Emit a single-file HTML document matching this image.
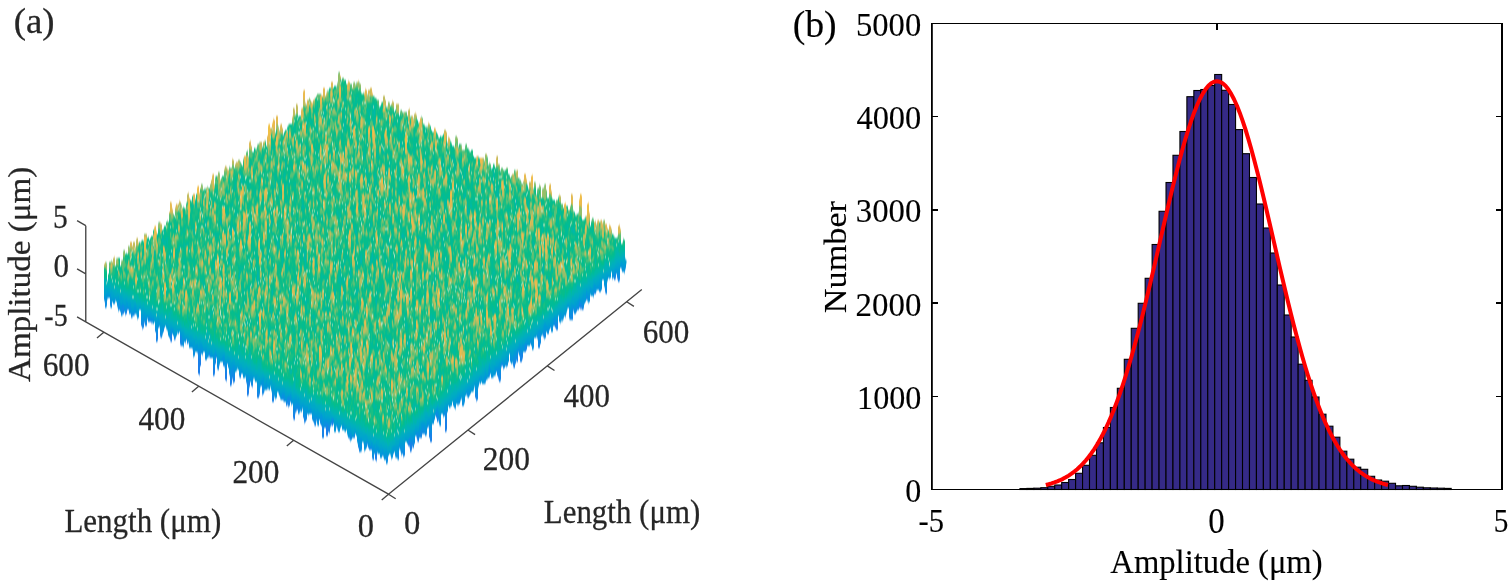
<!DOCTYPE html>
<html><head><meta charset="utf-8"><title>Figure</title>
<style>html,body{margin:0;padding:0;background:#fff;overflow:hidden}svg{display:block}</style>
</head><body>
<svg width="1512" height="584" viewBox="0 0 1512 584">
<rect width="1512" height="584" fill="#fff"/>
<g id="panel-a">
<filter id="sb" x="-3%" y="-3%" width="106%" height="106%" color-interpolation-filters="sRGB"><feGaussianBlur stdDeviation="0 0.8"/></filter>
<g filter="url(#sb)">
<g transform="scale(1 2)" fill="none" stroke-width="1" shape-rendering="crispEdges">
<path stroke="rgb(26,190,131)" d="M104.5 132v19M105.5 131v23M106.5 131v23M107.5 140v10M108.5 137v12M109.5 131v18M110.5 131v23M111.5 130v24M112.5 131v20M113.5 129v23M114.5 128v24M115.5 133v18M116.5 129v22M117.5 129v25M118.5 129v27M119.5 129v26M120.5 133v23M121.5 130v28M122.5 130v28M123.5 125v32M124.5 125v31M125.5 127v31M126.5 126v31M127.5 127v28M128.5 123v32M129.5 123v34M130.5 121v36M131.5 121v38M132.5 123v36M133.5 121v37M134.5 121v37M135.5 123v34M136.5 119v39M137.5 119v41M138.5 121v38M139.5 121v34M140.5 121v34M141.5 120v43M142.5 120v45M143.5 120v44M144.5 117v45M145.5 117v46M146.5 117v46M147.5 119v41M148.5 118v43M149.5 120v41M150.5 119v42M151.5 118v44M152.5 118v44M153.5 115v47M154.5 113v48M155.5 113v53M156.5 115v56M157.5 117v54M158.5 111v53M159.5 111v53M160.5 111v58M161.5 112v57M162.5 115v53M163.5 114v52M164.5 113v51M165.5 113v50M166.5 111v54M167.5 110v56M168.5 111v57M169.5 106v63M170.5 101v70M171.5 101v70M172.5 104v63M173.5 107v61M174.5 108v62M175.5 103v67M176.5 102v66M177.5 102v65M178.5 102v65M179.5 100v66M180.5 101v72M181.5 102v71M182.5 104v69M183.5 103v71M184.5 104v67M185.5 104v68M186.5 101v69M187.5 97v75M188.5 96v76M189.5 99v75M190.5 100v74M191.5 100v74M192.5 98v77M193.5 97v82M194.5 97v81M195.5 99v77M196.5 97v79M197.5 93v84M198.5 93v94M199.5 96v92M200.5 94v89M201.5 92v85M202.5 92v86M203.5 95v81M204.5 94v82M205.5 94v86M206.5 94v86M207.5 93v86M208.5 94v85M209.5 94v85M210.5 92v87M211.5 90v89M212.5 87v92M213.5 87v101M214.5 92v96M215.5 88v94M216.5 88v91M217.5 88v97M218.5 86v99M219.5 86v97M220.5 90v91M221.5 89v92M222.5 88v93M223.5 88v95M224.5 84v100M225.5 83v107M226.5 83v108M227.5 84v98M228.5 85v99M229.5 83v105M230.5 84v109M231.5 84v109M232.5 79v111M233.5 80v112M234.5 84v107M235.5 82v104M236.5 81v105M237.5 81v104M238.5 80v105M239.5 80v109M240.5 81v108M241.5 82v105M242.5 83v104M243.5 79v110M244.5 78v111M245.5 78v111M246.5 76v116M247.5 75v123M248.5 78v120M249.5 71v123M250.5 70v121M251.5 73v120M252.5 76v118M253.5 76v114M254.5 74v116M255.5 74v117M256.5 74v117M257.5 72v127M258.5 72v127M259.5 71v127M260.5 71v123M261.5 71v122M262.5 73v125M263.5 71v126M264.5 70v126M265.5 70v125M266.5 73v122M267.5 68v127M268.5 62v133M269.5 62v133M270.5 64v130M271.5 64v132M272.5 61v140M273.5 59v142M274.5 60v139M275.5 66v134M276.5 58v141M277.5 58v138M278.5 63v134M279.5 65v133M280.5 62v138M281.5 62v138M282.5 64v136M283.5 67v134M284.5 66v135M285.5 65v136M286.5 65v138M287.5 63v140M288.5 62v142M289.5 62v141M290.5 62v139M291.5 62v141M292.5 58v144M293.5 54v156M294.5 54v156M295.5 57v150M296.5 52v154M297.5 52v153M298.5 58v149M299.5 58v149M300.5 58v148M301.5 54v152M302.5 54v151M303.5 45v164M304.5 45v167M305.5 51v160M306.5 52v158M307.5 50v157M308.5 50v158M309.5 49v158M310.5 50v157M311.5 51v156M312.5 51v159M313.5 50v161M314.5 49v164M315.5 49v164M316.5 48v163M317.5 47v166M318.5 47v166M319.5 47v163M320.5 47v165M321.5 47v166M322.5 48v171M323.5 44v175M324.5 44v170M325.5 48v166M326.5 46v172M327.5 45v173M328.5 45v171M329.5 44v173M330.5 44v170M331.5 41v172M332.5 41v172M333.5 44v168M334.5 43v173M335.5 43v173M336.5 43v171M337.5 41v174M338.5 36v180M339.5 36v180M340.5 38v176M341.5 40v173M342.5 39v176M343.5 39v176M344.5 40v176M345.5 40v176M346.5 42v173M347.5 42v176M348.5 40v179M349.5 41v179M350.5 42v179M351.5 42v178M352.5 44v175M353.5 41v178M354.5 41v178M355.5 42v175M356.5 41v177M357.5 41v181M358.5 40v184M359.5 41v185M360.5 42v184M361.5 46v180M362.5 47v174M363.5 46v176M364.5 46v180M365.5 44v181M366.5 45v179M367.5 47v176M368.5 45v179M369.5 45v180M370.5 44v181M371.5 44v181M372.5 46v184M373.5 48v182M374.5 48v179M375.5 49v181M376.5 49v182M377.5 50v177M378.5 50v177M379.5 53v174M380.5 53v176M381.5 51v178M382.5 51v177M383.5 48v181M384.5 48v182M385.5 50v180M386.5 53v179M387.5 53v179M388.5 51v177M389.5 51v176M390.5 53v175M391.5 52v178M392.5 50v179M393.5 51v176M394.5 56v170M395.5 55v174M396.5 52v177M397.5 52v178M398.5 52v178M399.5 58v167M400.5 55v171M401.5 55v173M402.5 56v171M403.5 56v173M404.5 56v172M405.5 56v165M406.5 56v165M407.5 58v164M408.5 55v168M409.5 54v170M410.5 58v168M411.5 58v168M412.5 58v166M413.5 59v165M414.5 57v165M415.5 56v162M416.5 57v162M417.5 60v161M418.5 61v160M419.5 61v158M420.5 59v160M421.5 58v161M422.5 59v158M423.5 62v155M424.5 62v155M425.5 63v155M426.5 63v155M427.5 63v151M428.5 61v153M429.5 62v157M430.5 63v158M431.5 65v156M432.5 66v146M433.5 66v146M434.5 64v146M435.5 64v144M436.5 66v143M437.5 67v144M438.5 68v143M439.5 69v144M440.5 68v145M441.5 68v139M442.5 68v139M443.5 67v142M444.5 65v143M445.5 65v151M446.5 66v150M447.5 71v135M448.5 68v135M449.5 69v135M450.5 70v134M451.5 71v132M452.5 73v128M453.5 73v130M454.5 73v131M455.5 68v137M456.5 68v134M457.5 69v134M458.5 73v130M459.5 72v130M460.5 72v129M461.5 72v128M462.5 75v128M463.5 75v128M464.5 75v127M465.5 72v126M466.5 72v126M467.5 74v125M468.5 74v125M469.5 75v123M470.5 76v121M471.5 75v121M472.5 75v121M473.5 78v118M474.5 79v115M475.5 79v120M476.5 78v123M477.5 78v122M478.5 78v116M479.5 79v113M480.5 79v113M481.5 79v112M482.5 79v113M483.5 79v113M484.5 80v112M485.5 77v115M486.5 77v113M487.5 78v112M488.5 82v107M489.5 81v108M490.5 82v105M491.5 84v105M492.5 84v105M493.5 82v107M494.5 82v106M495.5 84v104M496.5 78v108M497.5 78v110M498.5 82v108M499.5 82v109M500.5 85v106M501.5 84v100M502.5 84v99M503.5 85v100M504.5 85v99M505.5 85v98M506.5 84v100M507.5 84v99M508.5 87v94M509.5 87v90M510.5 89v92M511.5 88v94M512.5 87v95M513.5 87v97M514.5 85v99M515.5 85v97M516.5 85v96M517.5 85v96M518.5 89v88M519.5 89v89M520.5 90v91M521.5 91v90M522.5 92v88M523.5 90v86M524.5 87v89M525.5 87v89M526.5 89v86M527.5 92v81M528.5 94v79M529.5 91v82M530.5 91v81M531.5 88v85M532.5 87v88M533.5 94v81M534.5 91v78M535.5 91v78M536.5 97v72M537.5 94v76M538.5 94v80M539.5 92v82M540.5 93v79M541.5 99v69M542.5 94v74M543.5 94v75M544.5 92v78M545.5 92v77M546.5 95v71M547.5 99v68M548.5 99v68M549.5 92v73M550.5 92v72M551.5 95v71M552.5 99v67M553.5 100v63M554.5 100v63M555.5 101v63M556.5 100v65M557.5 100v65M558.5 98v60M559.5 97v64M560.5 98v64M561.5 102v59M562.5 102v59M563.5 104v56M564.5 102v56M565.5 101v58M566.5 103v54M567.5 103v52M568.5 105v49M569.5 105v55M570.5 103v57M571.5 97v63M572.5 97v63M573.5 105v51M574.5 106v51M575.5 107v50M576.5 107v49M577.5 107v48M578.5 106v49M579.5 99v55M580.5 97v58M581.5 97v58M582.5 110v45M583.5 110v45M584.5 109v43M585.5 108v43M586.5 108v42M587.5 102v49M588.5 101v51M589.5 106v45M590.5 113v35M591.5 110v38M592.5 109v39M593.5 109v40M594.5 111v36M595.5 110v37M596.5 112v34M597.5 110v35M598.5 110v35M599.5 111v35M600.5 110v36M601.5 110v35M602.5 111v29M603.5 110v30M604.5 110v34M605.5 112v35M606.5 112v35M607.5 114v27M608.5 115v24M609.5 112v28M610.5 113v26M611.5 114v22M612.5 117v23M613.5 117v22M614.5 118v22M615.5 119v21M616.5 119v18M617.5 118v22M618.5 113v28M619.5 112v29M620.5 114v20M621.5 122v13M622.5 121v15M623.5 119v17M624.5 120v17M625.5 129v6M626.5 130v2"/>
<path stroke="rgb(26,126,233)" d="M198.5 180v7M199.5 182v5M200.5 181v2M225.5 187v3M226.5 186v4M247.5 195v3M248.5 195v2M293.5 208v1M294.5 208v2M326.5 214v4M327.5 213v5M375.5 227v3M376.5 227v3M445.5 210v6M446.5 210v5M556.5 164v1M594.5 146v1M595.5 146v1"/>
<path stroke="rgb(25,129,232)" d="M126.5 155v2M170.5 169v1M171.5 167v4M198.5 179v1M199.5 179v3M200.5 178v3M213.5 185v3M214.5 184v3M215.5 181v1M225.5 186v1M226.5 185v1M230.5 190v3M231.5 189v3M249.5 190v3M323.5 214v4M328.5 215v1M331.5 211v1M332.5 210v3M408.5 222v1M409.5 220v3M410.5 222v4M411.5 222v3M429.5 217v2M430.5 217v4M431.5 217v4M522.5 178v1M555.5 163v1M556.5 163v1M557.5 164v1"/>
<path stroke="rgb(22,132,231)" d="M123.5 154v3M125.5 156v1M156.5 167v4M157.5 167v3M199.5 178v1M209.5 177v1M213.5 184v1M215.5 179v2M230.5 189v1M233.5 189v2M234.5 187v4M247.5 194v1M248.5 194v1M257.5 196v3M258.5 197v2M272.5 199v2M273.5 199v2M286.5 201v2M287.5 201v1M293.5 207v1M294.5 207v1M304.5 210v1M305.5 210v1M322.5 213v6M323.5 218v1M327.5 212v1M328.5 214v1M410.5 221v1M417.5 219v1M418.5 219v2M475.5 197v2M476.5 197v3M477.5 199v1M498.5 188v1M499.5 188v3M513.5 182v1M514.5 182v2M515.5 181v1M517.5 178v3M520.5 178v3M521.5 177v4M525.5 175v1M538.5 172v2M539.5 172v2M555.5 162v1M556.5 162v1M557.5 162v2M579.5 152v2M580.5 152v2M581.5 153v1M582.5 154v1M614.5 138v2"/>
<path stroke="rgb(18,136,229)" d="M122.5 155v2M133.5 157v1M141.5 162v1M142.5 162v2M143.5 161v3M145.5 161v2M146.5 162v1M150.5 160v1M151.5 160v1M155.5 165v1M156.5 166v1M157.5 166v1M160.5 167v1M161.5 168v1M170.5 168v1M174.5 169v1M180.5 168v4M181.5 168v5M187.5 171v1M198.5 176v3M209.5 176v1M210.5 178v1M213.5 182v2M214.5 183v1M215.5 178v1M225.5 185v1M230.5 188v1M232.5 186v3M233.5 188v1M240.5 188v1M246.5 190v1M247.5 191v3M248.5 191v3M249.5 189v1M251.5 192v1M252.5 192v1M258.5 196v1M259.5 196v1M262.5 194v3M263.5 195v2M272.5 198v1M273.5 198v1M287.5 199v2M288.5 199v4M289.5 200v3M293.5 205v2M294.5 205v2M295.5 204v2M303.5 208v1M304.5 208v2M305.5 209v1M306.5 209v1M314.5 211v1M315.5 212v1M323.5 213v1M326.5 213v1M328.5 213v1M329.5 213v3M353.5 218v1M354.5 217v2M358.5 223v1M359.5 223v3M371.5 224v1M372.5 228v1M373.5 228v2M375.5 226v1M403.5 226v2M404.5 226v2M408.5 221v1M411.5 221v1M412.5 220v3M413.5 222v2M417.5 218v1M418.5 218v1M420.5 217v2M421.5 215v4M431.5 216v1M435.5 207v1M436.5 208v1M437.5 208v3M438.5 209v1M445.5 207v3M446.5 209v1M477.5 197v2M500.5 186v4M501.5 182v1M513.5 180v2M514.5 180v2M516.5 179v1M517.5 177v1M520.5 177v1M521.5 176v1M522.5 176v2M524.5 175v1M525.5 173v2M526.5 173v2M530.5 171v1M538.5 171v1M539.5 170v2M540.5 171v1M543.5 167v1M555.5 160v2M557.5 161v1M571.5 158v2M572.5 157v3M576.5 154v2M582.5 153v1M605.5 145v1M606.5 145v2M615.5 137v2M618.5 139v2M619.5 139v1"/>
<path stroke="rgb(13,141,227)" d="M105.5 150v4M106.5 151v2M110.5 151v2M111.5 151v3M118.5 153v2M119.5 151v4M120.5 155v1M122.5 154v1M123.5 153v1M126.5 154v1M127.5 154v1M128.5 154v1M131.5 157v2M132.5 157v1M133.5 156v1M141.5 161v1M142.5 161v1M146.5 161v1M148.5 159v2M149.5 159v2M150.5 159v1M155.5 164v1M157.5 165v1M158.5 163v1M160.5 166v1M161.5 167v1M163.5 164v2M170.5 167v1M171.5 165v2M174.5 168v1M193.5 176v1M194.5 176v1M197.5 175v1M199.5 176v2M200.5 177v1M206.5 178v1M214.5 181v2M217.5 182v2M218.5 182v3M223.5 182v1M224.5 182v1M226.5 183v2M230.5 187v1M231.5 185v4M232.5 185v1M233.5 186v2M239.5 187v1M240.5 187v1M251.5 191v1M252.5 191v1M258.5 195v1M259.5 195v1M263.5 194v1M272.5 197v1M273.5 197v1M282.5 198v2M283.5 199v1M284.5 199v2M293.5 204v1M295.5 203v1M296.5 203v2M297.5 203v2M298.5 203v4M299.5 203v3M303.5 207v1M304.5 207v1M305.5 208v1M306.5 207v2M313.5 210v1M314.5 210v1M315.5 209v3M316.5 209v1M320.5 210v2M321.5 211v2M325.5 212v2M326.5 212v1M350.5 218v2M351.5 219v1M360.5 225v1M361.5 223v1M366.5 221v3M368.5 223v1M369.5 223v2M370.5 224v1M386.5 228v4M387.5 228v3M397.5 227v2M398.5 227v3M401.5 225v2M402.5 225v2M403.5 225v1M408.5 220v1M409.5 219v1M413.5 221v1M414.5 221v1M416.5 217v1M417.5 217v1M420.5 216v1M422.5 216v1M423.5 215v2M424.5 215v2M425.5 216v2M426.5 216v1M427.5 213v1M429.5 214v3M430.5 214v3M436.5 206v2M438.5 208v1M439.5 211v1M444.5 207v1M445.5 206v1M446.5 206v3M462.5 202v1M477.5 196v1M489.5 186v2M497.5 186v2M498.5 186v2M499.5 186v2M502.5 182v1M503.5 183v1M510.5 180v1M515.5 180v1M516.5 178v1M520.5 176v1M525.5 172v1M533.5 172v2M537.5 168v1M538.5 169v2M539.5 169v1M540.5 170v1M543.5 166v1M544.5 166v3M545.5 167v2M556.5 161v1M569.5 157v2M570.5 157v3M571.5 157v1M572.5 156v1M573.5 154v1M574.5 156v1M575.5 156v1M576.5 153v1M577.5 154v1M579.5 151v1M580.5 151v1M581.5 152v1M583.5 153v1M586.5 148v2M605.5 144v1M606.5 143v2M614.5 137v1M617.5 138v1M618.5 138v1M619.5 137v2"/>
<path stroke="rgb(8,145,223)" d="M104.5 149v1M106.5 150v1M113.5 151v1M114.5 151v1M117.5 152v1M118.5 152v1M120.5 153v2M121.5 153v5M122.5 153v1M129.5 156v1M131.5 156v1M132.5 156v1M137.5 158v1M138.5 158v1M141.5 159v2M142.5 159v2M143.5 160v1M144.5 160v1M145.5 160v1M146.5 160v1M152.5 160v1M155.5 163v1M156.5 163v3M160.5 165v1M161.5 165v2M162.5 165v2M168.5 167v1M169.5 167v2M173.5 167v1M175.5 168v1M178.5 166v1M182.5 170v3M183.5 170v3M184.5 170v1M185.5 170v1M187.5 170v1M193.5 174v2m0 1v1M194.5 174v2m0 1v1M198.5 175v1M199.5 175v1M200.5 175v2M201.5 176v1M202.5 176v1M205.5 177v3M206.5 177v1m0 1v1M213.5 181v1M214.5 180v1M215.5 177v1M219.5 181v1M223.5 181v1M224.5 181v1M225.5 181v4M226.5 182v1M229.5 186v1M230.5 185v2M232.5 184v1M233.5 185v1M234.5 186v1M241.5 186v1M246.5 189v1M247.5 190v1M248.5 190v1M250.5 190v1M251.5 190v1M252.5 190v1M257.5 193v3M258.5 193v2M259.5 194v1M261.5 192v1M262.5 193v1M263.5 193v1M272.5 196v1M273.5 196v1M274.5 197v1M282.5 197v1M283.5 198v1M289.5 198v2M290.5 200v1M291.5 201v1M293.5 202v2M294.5 203v2M295.5 202v1M297.5 202v1M301.5 205v1M303.5 206v1M305.5 207v1M306.5 206v1M307.5 206v1M310.5 206v1M311.5 206v1M312.5 209v1M313.5 209v1M314.5 209v1M317.5 209v3M318.5 209v4M321.5 210v1M322.5 212v1M323.5 212v1M324.5 210v4M325.5 211v1M326.5 211v1M329.5 212v1M330.5 212v1M332.5 209v1M337.5 213v1M348.5 218v1M349.5 218v1M350.5 217v1M351.5 218v1M358.5 222v1M359.5 220v3M360.5 222v3M361.5 222v1m0 1v1M365.5 223v1M370.5 223v1M371.5 223v1M372.5 226v2M374.5 226v1M376.5 226v1M382.5 227v1M392.5 228v1M393.5 226v1M395.5 227v1M396.5 227v2M398.5 226v1M400.5 224v1M401.5 224v1M402.5 224v1M404.5 224v2M410.5 219v2M411.5 220v1M413.5 220v1M414.5 220v1M417.5 216v1M418.5 217v1M419.5 217v2M420.5 215v1M422.5 214v2M423.5 214v1M425.5 215v1M426.5 215v1M427.5 212v1M429.5 213v1M430.5 213v1M431.5 212v4M437.5 206v2M439.5 208v3M440.5 209v4M443.5 207v1M444.5 206v1M445.5 205v1M449.5 203v1M454.5 202v2M455.5 203v1M458.5 201v1M459.5 201v1M462.5 199v3M463.5 200v3M464.5 200v1M467.5 197v1M468.5 197v2M469.5 197v1M471.5 195v1M475.5 194v3M476.5 194v3M477.5 194v2M484.5 190v2M485.5 189v2M491.5 188v1M496.5 185v1M497.5 185v1M498.5 185v1M499.5 185v1M500.5 185v1M501.5 181v1M502.5 181v1M503.5 182v1M504.5 183v1M505.5 182v1M506.5 181v2M507.5 182v1M510.5 179v1M513.5 178v2M514.5 178v2M515.5 178v2M516.5 177v1M517.5 175v2M518.5 175v1M519.5 175v3M520.5 175v1M521.5 174v2M522.5 175v1M524.5 173v2M526.5 172v1M530.5 170v1M532.5 173v2M533.5 171v1M540.5 167v3M545.5 166v1M547.5 165v2M548.5 165v2M551.5 163v3M552.5 163v3M553.5 162v1M554.5 160v3M557.5 160v1M561.5 159v1M569.5 156v1M570.5 156v1M571.5 155v2M572.5 154v2M574.5 155v1M575.5 155v1M577.5 153v1M578.5 153v2M579.5 150v1M582.5 152v1M583.5 152v1M584.5 151v1M587.5 148v2M588.5 150v1M589.5 148v3M593.5 145v3M595.5 144v1M598.5 144v1M599.5 144v2M600.5 145v1M601.5 144v1M604.5 142v1M605.5 142v2M613.5 138v1M615.5 136v1M617.5 137v1M618.5 137v1M619.5 136v1M623.5 135v1M624.5 135v1"/>
<path stroke="rgb(4,149,219)" d="M105.5 148v2M106.5 148v2M107.5 148v1M108.5 148v1M109.5 148v1M110.5 149v2M111.5 150v1M112.5 150v1M113.5 150v1M114.5 150v1M115.5 149v1M118.5 150v2M119.5 150v1M122.5 152v1M123.5 152v1M124.5 153v3M125.5 153v3M127.5 153v1M129.5 154v2M130.5 154v3M134.5 155v2M135.5 155v2M137.5 157v1M138.5 157v1M143.5 158v2M144.5 159v1M145.5 159v1M146.5 159v1M148.5 158v1M149.5 158v1M152.5 159v1M153.5 159v3M157.5 161v4M160.5 164v1M163.5 163v1M164.5 163v1M170.5 166v1M173.5 165v2M174.5 167v1M177.5 165v1M180.5 167v1M182.5 169v1M184.5 169v1M186.5 169v1M188.5 170v1M189.5 172v2M190.5 173v1M191.5 173v1M196.5 174v1M200.5 174v1M201.5 174v2M202.5 174v2M205.5 176v1M206.5 176v1M207.5 177v2M211.5 178v1M212.5 178v1M213.5 178v1m0 1v1M216.5 178v1M217.5 180v2M218.5 180v2M223.5 179v2M224.5 180v1M226.5 181v1M227.5 181v1M228.5 182v2M229.5 183v3M230.5 184v1M233.5 183v2M234.5 184v2M239.5 186v1M240.5 186v1M243.5 187v2M244.5 188v1M246.5 188v1M247.5 187v3M248.5 188v2M249.5 188v1M250.5 189v1M251.5 189v1M252.5 189v1M258.5 192v1M259.5 192v2M260.5 192v1M261.5 191v1M262.5 191v2M263.5 191v2M265.5 193v1M266.5 192v3M267.5 193v1M271.5 194v1M272.5 195v1M274.5 196v1M275.5 197v2M276.5 197v2M278.5 195v1M279.5 197v1M280.5 198v1M281.5 198v2M283.5 197v1M284.5 197v2M285.5 199v2M286.5 200v1M288.5 198v1M290.5 198v2M291.5 200v1M292.5 201v1M294.5 202v1M296.5 201v2M297.5 201v1M298.5 202v1M299.5 202v1M300.5 204v1M301.5 204v1M303.5 205v1M304.5 205v2M305.5 205v2M307.5 205v1M310.5 205v1M312.5 208v1M313.5 207v2M314.5 208v1M315.5 208v1M316.5 208v1M317.5 208v1M319.5 209v1M320.5 209v1M321.5 208v2M323.5 210v2M325.5 210v1M326.5 210v1M327.5 211v1M328.5 211v2M329.5 210v2M330.5 211v1M333.5 210v2M334.5 213v3M335.5 214v2M337.5 212v1M338.5 214v2M339.5 214v2M349.5 217v1M351.5 217v1M357.5 220v1M358.5 220v2M360.5 221v1M364.5 221v4M365.5 221v2m0 1v1M367.5 220v2M368.5 222v1M369.5 222v1M372.5 224v2M373.5 223v5M374.5 224v2M376.5 224v2M377.5 225v1M380.5 227v2M381.5 227v2M382.5 225v2M384.5 227v3M385.5 227v3M391.5 227v2M392.5 226v2M395.5 226v1M396.5 226v1M397.5 225v2M398.5 225v1M399.5 222v2M400.5 223v1M402.5 223v1M403.5 223v2M404.5 223v1M411.5 219v1M412.5 219v1M413.5 219v1M414.5 218v2M416.5 216v1M418.5 216v1M419.5 215v2M422.5 213v1M423.5 213v1M424.5 213v2M425.5 214v1M426.5 214v1M432.5 210v2M433.5 209v3M434.5 209v1M437.5 205v1M438.5 207v1M440.5 208v1M443.5 206v1M444.5 205v1M446.5 205v1M447.5 205v1M453.5 201v2M455.5 202v1M456.5 201v1M457.5 201v1M458.5 200v1M459.5 200v1M463.5 199v1M464.5 198v2M465.5 197v1M466.5 196v1M467.5 196v1M468.5 196v1M469.5 196v1M470.5 196v1M477.5 193v1M480.5 191v1M481.5 189v2M482.5 191v1M483.5 191v1M484.5 189v1M485.5 188v1M488.5 187v2M489.5 185v1M491.5 187v1M492.5 187v2M493.5 187v1M494.5 187v1M496.5 184v1M497.5 184v1M498.5 184v1M499.5 184v1M500.5 183v1M503.5 181v1M504.5 182v1M505.5 181v1M507.5 181v1M510.5 178v1M511.5 179v3M512.5 179v2M515.5 177v1M516.5 175v2M519.5 174v1M520.5 174v1M522.5 173v2M524.5 172v1M527.5 172v1M531.5 170v3M532.5 169v4M533.5 170v1M535.5 168v1M538.5 167v2M539.5 166v3M540.5 166v1M543.5 165v1M544.5 165v1M545.5 165v1M547.5 164v1M548.5 164v1M549.5 164v1M550.5 162v2M552.5 162v1M553.5 160v2M555.5 159v1M557.5 159v1M559.5 158v3M560.5 156v5M561.5 158v1M562.5 158v2M563.5 157v2M564.5 157v1M565.5 157v1M568.5 153v1M569.5 154v2M570.5 155v1M571.5 154v1M573.5 153v1M574.5 154v1M575.5 154v1M578.5 152v1M581.5 150v2M582.5 151v1M583.5 151v1M584.5 150v1M585.5 150v1M586.5 147v1M588.5 148v2M589.5 147v1M592.5 145v3M599.5 143v1M600.5 143v2M601.5 143v1M606.5 140v3M607.5 139v1M612.5 136v3M613.5 137v1M614.5 136v1M616.5 136v1M617.5 136v1M618.5 136v1M621.5 133v1M622.5 133v3M623.5 134v1M624.5 133v2M625.5 133v1"/>
<path stroke="rgb(0,154,215)" d="M104.5 148v1M106.5 147v1M107.5 147v1M109.5 147v1M110.5 147v2M111.5 149v1M113.5 149v1M117.5 151v1M120.5 152v1M121.5 152v1M126.5 153v1M127.5 152v1M128.5 153v1M131.5 154v2M134.5 154v1M135.5 154v1M136.5 156v1M137.5 156v1M138.5 156v1M141.5 157v2M142.5 157v2M144.5 158v1M145.5 158v1M146.5 158v1M147.5 158v1M151.5 159v1M154.5 160v1M155.5 161v1M158.5 161v2M159.5 162v1M161.5 164v1M162.5 163v2M168.5 165v2M169.5 165v2M170.5 165v1M171.5 164v1M172.5 164v3M174.5 166v1M175.5 167v1M176.5 167v1M180.5 166v1M181.5 167v1M183.5 169v1M185.5 169v1M189.5 171v1M190.5 171v2M191.5 171v2M192.5 172v2M193.5 173v1M195.5 173v3M196.5 172v2m0 1v1M197.5 172v3M198.5 174v1M199.5 174v1M203.5 175v1M205.5 175v1M206.5 175v1M207.5 176v1M208.5 176v2M210.5 177v1M211.5 176v2M212.5 177v1M213.5 177v1m0 1v1M214.5 177v3M215.5 176v1M216.5 177v1M217.5 179v1M218.5 179v1M221.5 179v2M222.5 179v2M223.5 178v1M224.5 179v1M228.5 181v1M229.5 182v1M230.5 183v1M231.5 184v1M232.5 183v1M234.5 183v1M235.5 183v3M236.5 184v1M239.5 185v1M240.5 185v1M241.5 185v1M242.5 186v1M243.5 186v1M244.5 187v1M245.5 187v1M246.5 187v1M248.5 187v1M250.5 188v1M251.5 188v1M252.5 188v1M253.5 188v1M257.5 190v3M258.5 191v1M259.5 191v1M261.5 190v1M262.5 190v1M264.5 192v3M265.5 192v1m0 1v1M268.5 193v1M269.5 193v2M272.5 194v1M273.5 195v1M274.5 195v1M275.5 196v1M276.5 196v1M279.5 196v1M280.5 197v1M281.5 197v1M282.5 196v1M285.5 198v1M286.5 198v2M287.5 198v1M291.5 199v1M292.5 200v1M293.5 200v2M294.5 200v2M295.5 200v2M296.5 200v1M298.5 201v1M300.5 203v1M301.5 203v1M302.5 203v1M303.5 204v1M304.5 203v2M305.5 204v1M306.5 204v2M307.5 204v1M308.5 206v1M309.5 205v2M310.5 204v1M311.5 205v1M312.5 206v2M313.5 206v1M314.5 207v1M315.5 207v1M316.5 207v1M318.5 208v1M319.5 208v1M320.5 208v1M321.5 207v1M322.5 208v4M323.5 209v1M327.5 210v1M328.5 210v1M330.5 210v1M331.5 210v1M333.5 209v1M335.5 212v2M336.5 212v1M338.5 213v1M340.5 213v1M342.5 213v2M343.5 213v2M344.5 214v1M345.5 215v1M347.5 216v1M348.5 216v2M349.5 216v1M350.5 216v1M352.5 218v1M354.5 216v1M357.5 219v1M358.5 219v1M359.5 219v1M360.5 219v2M361.5 219v3M362.5 220v1M368.5 221v1M371.5 222v1M372.5 223v1M374.5 222v1M375.5 224v2M377.5 224v1M378.5 224v3M379.5 225v2M380.5 226v1M381.5 226v1M383.5 226v2M385.5 226v1M386.5 226v2M387.5 227v1M395.5 225v1M396.5 225v1M398.5 223v2M400.5 222v1M401.5 222v2M402.5 222v1M403.5 222v1M404.5 221v2M406.5 220v1M407.5 220v2M410.5 218v1M412.5 218v1M413.5 218v1M415.5 215v3M418.5 215v1M419.5 214v1M421.5 212v3M422.5 212v1M423.5 212v1M424.5 212v1M425.5 213v1M426.5 213v1M427.5 211v1M428.5 211v2M429.5 210v3M430.5 212v1M432.5 209v1M435.5 206v1M436.5 205v1M438.5 206v1M440.5 207v1M441.5 206v1M442.5 206v1M444.5 204v1M445.5 204v1M449.5 202v1M450.5 202v1M451.5 202v1M454.5 200v2M455.5 200v2M456.5 200v1M457.5 199v2M458.5 199v1M459.5 198v2M460.5 198v2M461.5 198v1M463.5 198v1M465.5 196v1M466.5 195v1M467.5 195v1M468.5 195v1M469.5 195v1M470.5 194v2M471.5 194v1M473.5 194v1M475.5 192v2M476.5 192v2M477.5 192v1M478.5 191v2M479.5 189v2M480.5 190v1M481.5 188v1M482.5 190v1M483.5 190v1M484.5 188v1M485.5 187v1M486.5 188v2M487.5 188v1M488.5 185v2M489.5 184v1M490.5 185v2M491.5 186v1M492.5 186v1M493.5 186v1M494.5 185v2M495.5 184v3M498.5 183v1M499.5 183v1M500.5 182v1M504.5 181v1M506.5 180v1M507.5 179v2M508.5 180v1M510.5 177v1M511.5 178v1M512.5 178v1M513.5 177v1M514.5 176v2M515.5 176v1M518.5 174v1M522.5 172v1M523.5 172v4M525.5 171v1M526.5 171v1M527.5 170v2M528.5 171v2M529.5 172v1M531.5 169v1M534.5 168v1M537.5 167v1M538.5 166v1M539.5 165v1M541.5 166v2M542.5 166v1M544.5 162v3M545.5 163v2M546.5 163v3M547.5 163v1M549.5 163v1M550.5 161v1M551.5 161v2M552.5 161v1M553.5 159v1M554.5 158v2M559.5 157v1M561.5 157v1M564.5 156v1M565.5 156v1M567.5 153v1M570.5 154v1M572.5 152v2M574.5 153v1M575.5 153v1M576.5 152v1M577.5 151v2M578.5 150v2M580.5 150v1M582.5 149v2M583.5 149v2M584.5 149v1M585.5 149v1M586.5 146v1M587.5 147v1M588.5 147v1M590.5 144v3M591.5 144v4M593.5 144v1M594.5 142v4M595.5 143v1m0 1v1M596.5 143v2M597.5 143v2M598.5 143v1M599.5 142v1M600.5 142v1M601.5 141v2M604.5 140v2M605.5 140v2M607.5 138v1M608.5 138v1M609.5 138v1M610.5 138v1M613.5 136v1M614.5 135v1M615.5 135v1M616.5 135v1M617.5 135v1M618.5 135v1M619.5 135v1M620.5 133v1M621.5 131v2M623.5 132v2M625.5 132v1"/>
<path stroke="rgb(0,158,210)" d="M105.5 147v1M107.5 146v1M108.5 146v2M111.5 148v1M112.5 149v1M113.5 148v1M114.5 149v1M116.5 149v2M117.5 149v2M118.5 148v2M120.5 151v1M122.5 151v1M124.5 152v1M125.5 152v1M126.5 151v2M127.5 151v1M129.5 152v2M130.5 152v2M132.5 154v2M133.5 154v2M134.5 153v1M135.5 153v1M136.5 154v2M137.5 155v1M138.5 155v1M139.5 154v1M143.5 157v1M144.5 156v2M145.5 157v1M146.5 157v1M147.5 157v1M150.5 158v1M151.5 158v1M153.5 158v1M155.5 160v1m0 1v1M156.5 160v3M157.5 160v1M158.5 159v2M159.5 161v1M160.5 161v3M161.5 162v2M162.5 162v1M166.5 163v1M167.5 163v2M168.5 163v2M170.5 164v1M173.5 164v1M175.5 166v1M176.5 166v1M178.5 165v1M179.5 165v1M180.5 165v1M181.5 166v1M182.5 166v3M183.5 167v2M184.5 168v1M186.5 168v1M187.5 169v1M188.5 169v1M189.5 170v1M192.5 171v1M193.5 171v2M194.5 170v4M195.5 172v1M198.5 173v1M199.5 172v2M200.5 172v2M201.5 172v2M202.5 173v1M203.5 174v1M204.5 174v2M205.5 174v1M206.5 174v1M209.5 175v1M210.5 176v1M217.5 178v1M219.5 178v3M220.5 179v2M222.5 178v1M224.5 178v1M225.5 180v1M226.5 180v1M227.5 180v1M228.5 180v1M229.5 181v1M230.5 182v1M231.5 181v3M232.5 181v2M233.5 182v1M234.5 182v1M236.5 183v1M237.5 183v1M238.5 183v2M239.5 184v1M240.5 184v1M241.5 184v1M242.5 185v1M244.5 186v1M245.5 186v1M250.5 187v1M251.5 187v1M254.5 188v1M255.5 188v3M256.5 188v3M258.5 190v1M259.5 189v2M260.5 190v2M263.5 189v2M265.5 191v1M266.5 190v2M267.5 192v1M268.5 192v1M269.5 191v2M270.5 192v1M273.5 193v2M275.5 195v1M276.5 194v2M277.5 195v1M279.5 195v1M280.5 196v1M281.5 196v1M283.5 196v1M284.5 196v1M288.5 197v1M290.5 197v1M291.5 198v1M292.5 199v1M293.5 199v1M294.5 199v1M295.5 199v1M296.5 199v1M297.5 200v1M298.5 199v2M299.5 201v1M300.5 202v1M301.5 202v1M302.5 202v1M303.5 202v2M305.5 203v1M306.5 203v1M307.5 203v1M308.5 205v1M309.5 204v1M311.5 204v1M312.5 205v1M313.5 205v1M314.5 205v2M315.5 206v1M316.5 206v1M317.5 205v3M318.5 206v2M319.5 206v2M320.5 207v1M324.5 208v2M325.5 209v1M326.5 209v1M327.5 209v1M328.5 209v1M329.5 209v1M331.5 209v1M334.5 211v2M336.5 211v1M337.5 211v1M339.5 212v2M340.5 212v1M343.5 212v1M344.5 213v1M345.5 214v1M347.5 215v1M348.5 215v1M349.5 215v1M350.5 215v1M351.5 216v1M352.5 217v1M355.5 216v1M356.5 217v1M357.5 218v1M358.5 218v1M363.5 220v1M366.5 220v1M369.5 221v1M370.5 222v1M371.5 221v1M372.5 221v2M374.5 223v1M376.5 222v2M377.5 223v1M378.5 223v1M379.5 224v1M380.5 224v2M381.5 225v1M382.5 224v1M383.5 225v1M384.5 226v1M385.5 225v1M386.5 225v1M387.5 226v1M388.5 226v2M389.5 226v1M390.5 226v1M391.5 225v2M392.5 224v2M393.5 223v3M394.5 223v3M395.5 223v2M396.5 223v2M397.5 223v2M399.5 221v1M400.5 221v1M401.5 221v1M402.5 220v2M403.5 221v1M405.5 219v1M406.5 219v1M407.5 219v1M408.5 219v1M410.5 217v1M411.5 217v2M412.5 217v1M413.5 216v2M414.5 215v3M416.5 215v1M417.5 215v1M419.5 213v1M420.5 213v2M421.5 211v1M422.5 211v1M423.5 211v1M424.5 211v1M425.5 212v1M426.5 211v2M427.5 210v1M428.5 210v1M430.5 210v2M431.5 209v1m0 1v1M432.5 208v1M433.5 208v1M434.5 208v1M436.5 204v1M437.5 204v1M438.5 205v1M439.5 207v1M440.5 206v1M441.5 205v1M442.5 204v2M443.5 205v1M444.5 203v1M445.5 203v1M446.5 202v3M447.5 202v3M448.5 202v1M449.5 201v1M450.5 201v1M451.5 201v1M453.5 200v1M455.5 199v1M456.5 199v1M457.5 198v1M458.5 198v1M459.5 197v1M460.5 197v1M461.5 197v1M462.5 196v3M463.5 196v2M464.5 197v1M467.5 194v1M468.5 194v1M469.5 193v2M470.5 193v1M471.5 193v1M472.5 192v4M473.5 193v1M474.5 191v2M475.5 191v1M476.5 191v1M477.5 191v1M478.5 190v1M480.5 188v2M482.5 189v1M483.5 188v2M485.5 186v1M486.5 187v1M487.5 187v1M489.5 183v1M490.5 184v1M491.5 185v1M492.5 185v1M493.5 185v1M494.5 183v2M495.5 183v1M496.5 183v1M497.5 183v1M498.5 182v1M499.5 181v2M500.5 181v1m0 2v1M502.5 180v1M503.5 180v1M504.5 180v1M505.5 179v2M506.5 178v2M507.5 178v1M508.5 178v2M510.5 176v1M511.5 176v2M512.5 177v1M513.5 176v1M514.5 175v1M515.5 175v1M517.5 174v1M518.5 173v1M519.5 172v2M520.5 172v2M521.5 173v1M526.5 170v1M528.5 170v1M529.5 170v2M530.5 169v1M533.5 168v2M535.5 167v1M536.5 167v1M537.5 166v1M538.5 165v1M540.5 165v1M541.5 165v1M542.5 164v2M543.5 163v2M545.5 161v2M546.5 162v1M548.5 162v2M549.5 162v1M551.5 160v1M552.5 159v2M555.5 158v1M556.5 158v3M557.5 158v1M561.5 156v1M562.5 156v2M563.5 156v1M565.5 155v1M566.5 155v1M567.5 152v1M568.5 152v1M569.5 153v1M570.5 153v1M571.5 152v2M573.5 152v1M574.5 152v1M575.5 151v2M576.5 151v1M577.5 150v1M579.5 149v1M580.5 149v1M581.5 149v1M582.5 148v1M583.5 147v2M584.5 147v2M585.5 147v2M586.5 145v1M587.5 146v1M588.5 146v1M589.5 145v2M592.5 144v1M593.5 143v1M595.5 142v1M597.5 142v1M598.5 142v1M599.5 141v1M600.5 140v2M601.5 140v1M602.5 139v1M603.5 139v1M604.5 139v1M605.5 139v1M606.5 139v1M607.5 137v1M610.5 136v2M612.5 135v1M615.5 134v1M616.5 134v1M617.5 134v1M618.5 134v1M619.5 133v2M620.5 132v1M622.5 131v2M624.5 132v1M625.5 130v2"/>
<path stroke="rgb(0,164,205)" d="M104.5 144v4M105.5 145v2M106.5 145v2M107.5 145v1M108.5 145v1M109.5 145v2M110.5 146v1M111.5 145v3M112.5 146v3M113.5 147v1M114.5 148v1M115.5 148v1M116.5 148v1M117.5 148v1M119.5 149v1M120.5 148v3M121.5 148v4M122.5 149v2M123.5 150v2M124.5 150v2M125.5 150v2M126.5 150v1M128.5 151v2M129.5 151v1M130.5 151v1M131.5 153v1M132.5 153v1M133.5 153v1M134.5 152v1M135.5 152v1M136.5 153v1M137.5 154v1M138.5 154v1M139.5 153v1M140.5 153v2M141.5 155v2M142.5 155v2M143.5 155v2M144.5 155v1M145.5 156v1M148.5 157v1M149.5 156v2M150.5 156v2M151.5 157v1M152.5 157v2M154.5 158v2M155.5 159v1M156.5 159v1M159.5 160v1M161.5 161v1M162.5 161v1M163.5 162v1M164.5 162v1M165.5 162v1M166.5 161v2M167.5 162v1M169.5 163v2M170.5 163v1M171.5 163v1M174.5 165v1M175.5 164v2M176.5 165v1M183.5 166v1M184.5 167v1M185.5 167v2M187.5 168v1M188.5 168v1M189.5 169v1M190.5 168v3M191.5 169v2M192.5 169v2M193.5 170v1M197.5 171v1M198.5 172v1M199.5 171v1M200.5 171v1M201.5 171v1M202.5 172v1M203.5 173v1M204.5 173v1M205.5 173v1M206.5 173v1M207.5 174v2M208.5 174v2M209.5 174v1M210.5 175v1M211.5 174v2M212.5 176v1M214.5 176v1M215.5 175v1M216.5 176v1M217.5 176v2M218.5 176v3M220.5 177v2M221.5 177v2M222.5 177v1M223.5 177v1M224.5 177v1M225.5 179v1M226.5 179v1M227.5 179v1M228.5 179v1M229.5 179v2M230.5 180v2M233.5 180v2M234.5 180v2M235.5 182v1M236.5 182v1M238.5 182v1M239.5 183v1M240.5 183v1M241.5 183v1M242.5 184v1M243.5 184v2M244.5 184v2M245.5 184v2M246.5 184v3M247.5 184v3M248.5 185v2M249.5 186v2M250.5 186v1M251.5 186v1M252.5 186v2M253.5 187v1M255.5 187v1M256.5 187v1M257.5 187v3M258.5 188v2M259.5 188v1M261.5 189v1M262.5 189v1M264.5 189v3M267.5 189v3M268.5 191v1M270.5 191v1M271.5 190v4M272.5 192v2M273.5 192v1M274.5 193v2M275.5 194v1M277.5 194v1M278.5 194v1M279.5 194v1M280.5 195v1M281.5 194v2M282.5 195v1M283.5 194v2M284.5 195v1M285.5 196v2M286.5 196v2M287.5 197v1M289.5 196v2M290.5 196v1M291.5 197v1M292.5 198v1M294.5 198v1M295.5 198v1M296.5 198v1M297.5 199v1M299.5 199v2M300.5 200v2M301.5 201v1M302.5 201v1M303.5 201v1M304.5 202v1M305.5 202v1M307.5 202v1M308.5 203v2M309.5 201v3M310.5 202v2M312.5 204v1M313.5 204v1M314.5 204v1M315.5 205v1M316.5 205v1M318.5 205v1M320.5 206v1M321.5 206v1M322.5 207v1M323.5 207v2M324.5 206v2M325.5 208v1M326.5 208v1M327.5 208v1M328.5 208v1M330.5 209v1M331.5 208v1M334.5 210v1M335.5 210v2M336.5 210v1M338.5 211v2M339.5 211v1M342.5 212v1M345.5 213v1M346.5 213v2M347.5 214v1M348.5 214v1M349.5 214v1M350.5 214v1M351.5 215v1M352.5 215v2M353.5 215v3M354.5 215v1M355.5 215v1M356.5 216v1M357.5 216v2M358.5 217v1M359.5 217v2M360.5 218v1M361.5 218v1M362.5 218v2M363.5 218v2M364.5 218v3M365.5 217v4M366.5 218v2M367.5 219v1M368.5 220v1M369.5 220v1M370.5 220v2M371.5 220v1M373.5 222v1M375.5 222v2M377.5 222v1M379.5 223v1M381.5 223v2M383.5 224v1M384.5 224v2M385.5 224v1M386.5 224v1M387.5 225v1M388.5 225v1M389.5 225v1M390.5 225v1M392.5 223v1M396.5 222v1M397.5 222v1M398.5 222v1M399.5 220v1M400.5 219v2M401.5 219v2M403.5 220v1M404.5 218v3M405.5 218v1m0 1v1M406.5 218v1M407.5 218v1M408.5 217v2M409.5 217v2M410.5 216v1M411.5 216v1M412.5 216v1M413.5 215v1M415.5 214v1M416.5 214v1M417.5 213v2M418.5 213v2M419.5 212v1M420.5 211v2M425.5 211v1M426.5 210v1M428.5 209v1M429.5 209v1M430.5 208v2M431.5 207v2m0 1v1M432.5 207v1M433.5 207v1M434.5 207v1M435.5 205v1M437.5 203v1M438.5 204v1M439.5 204v3M440.5 204v2M441.5 204v1M443.5 203v2M445.5 202v1M448.5 201v1M450.5 200v1M451.5 200v1M452.5 200v1M453.5 199v1M454.5 199v1M456.5 198v1M457.5 197v1M458.5 196v2M459.5 196v1M460.5 196v1M461.5 196v1M463.5 195v1M464.5 195v2M465.5 194v2M466.5 194v1M467.5 193v1M468.5 192v2M471.5 192v1M473.5 191v2M475.5 190v1M476.5 189v2M477.5 190v1M478.5 189v1M479.5 188v1M482.5 187v2M483.5 187v1M484.5 186v2M485.5 185v1M486.5 186v1M487.5 186v1M488.5 184v1M489.5 182v1M491.5 184v1M492.5 183v2M493.5 183v2M496.5 181v2M497.5 181v2M498.5 181v1M499.5 180v1M500.5 180v1M501.5 180v1M502.5 179v1M503.5 179v1M504.5 179v1M505.5 178v1M507.5 177v1M508.5 177v1M509.5 176v1M510.5 175v1M512.5 175v2M513.5 175v1M514.5 174v1M516.5 173v2M517.5 173v1M519.5 171v1M521.5 172v1M522.5 171v1M524.5 171v1M525.5 170v1M526.5 169v1M527.5 169v1M528.5 168v2M529.5 168v2M530.5 167v2M531.5 167v2M533.5 167v1M534.5 167v1M535.5 166v1M536.5 165v2M537.5 165v1M540.5 164v1M541.5 164v1M543.5 162v1M547.5 161v2M548.5 161v1M549.5 161v1M550.5 160v1M551.5 159v1M557.5 157v1M558.5 157v1M559.5 156v1M561.5 155v1M562.5 155v1M563.5 154v2M564.5 153v3M565.5 154v1M566.5 153v2M569.5 152v1M570.5 152v1M571.5 151v1M574.5 150v2M575.5 150v1M576.5 150v1M577.5 149v1M578.5 149v1M579.5 148v1M580.5 148v1M581.5 148v1M582.5 147v1M583.5 146v1M584.5 146v1M585.5 146v1M586.5 144v1M587.5 145v1M588.5 145v1M589.5 144v1M590.5 143v1M593.5 142v1M596.5 141v2M597.5 141v1M598.5 140v2M599.5 139v2M600.5 139v1M601.5 139v1M602.5 138v1M603.5 138v1M604.5 138v1M605.5 137v2M606.5 136v3M608.5 137v1M609.5 137v1M610.5 135v1M611.5 135v1M613.5 134v2M614.5 134v1M616.5 133v1M617.5 133v1M618.5 132v2M619.5 132v1M620.5 131v1M621.5 130v1M623.5 131v1M624.5 129v3"/>
<path stroke="rgb(0,168,199)" d="M105.5 144v1M106.5 144v1M107.5 144v1M108.5 144v1M110.5 145v1M113.5 146v1M114.5 146v2M115.5 147v1M116.5 147v1M117.5 146v2M118.5 147v1M119.5 147v2M123.5 149v1M125.5 149v1M126.5 149v1M127.5 150v1M128.5 150v1M129.5 150v1M131.5 151v2M132.5 151v2M133.5 151v2M134.5 151v1M135.5 151v1M136.5 152v1M137.5 153v1M138.5 153v1M141.5 154v1M142.5 154v1M143.5 154v1M145.5 155v1M146.5 155v2M147.5 155v2M148.5 155v2M151.5 156v1M153.5 157v1M155.5 158v1M157.5 157v3M158.5 158v1M159.5 159v1M160.5 159v2M161.5 160v1M162.5 160v1M163.5 160v2M164.5 160v2M165.5 161v1M167.5 161v1M168.5 162v1M169.5 162v1M170.5 162v1M171.5 162v1M172.5 163v1M173.5 163v1M174.5 163v2M175.5 163v1M176.5 164v1M177.5 164v1M178.5 164v1M179.5 164v1M180.5 164v1M181.5 164v2M182.5 165v1M183.5 165v1M184.5 166v1M186.5 167v1M187.5 167v1M188.5 167v1M189.5 168v1M191.5 168v1M193.5 169v1M195.5 169v3M196.5 169v3M197.5 170v1M198.5 170v2M199.5 170v1M200.5 170v1M202.5 171v1M203.5 172v1M204.5 171v2M205.5 170v3M206.5 172v1M207.5 172v2M208.5 173v1M210.5 174v1M212.5 174v2M213.5 176v1M214.5 174v2M215.5 174v1M216.5 175v1M219.5 176v2M220.5 176v1M221.5 176v1M222.5 176v1M223.5 176v1M224.5 176v1M225.5 178v1M226.5 178v1M227.5 178v1M228.5 178v1M230.5 179v1M232.5 179v2M235.5 181v1M236.5 181v1M237.5 181v2M238.5 181v1M239.5 182v1M240.5 182v1M241.5 182v1M242.5 183v1M243.5 183v1M246.5 183v1M248.5 184v1M249.5 184v2M250.5 185v1M251.5 185v1M253.5 185v2M254.5 185v3M258.5 187v1M260.5 188v2M261.5 188v1M262.5 187v2M263.5 188v1M264.5 188v1M265.5 189v2M266.5 189v1M268.5 189v2M269.5 190v1M270.5 190v1M272.5 191v1M274.5 191v2M275.5 192v2M276.5 193v1M277.5 193v1M278.5 193v1M279.5 193v1M280.5 193v2M282.5 194v1M284.5 194v1M285.5 194v2M286.5 195v1M287.5 196v1M288.5 196v1M291.5 196v1M292.5 197v1M293.5 197v2M294.5 197v1M295.5 197v1M296.5 197v1M297.5 198v1M298.5 198v1M300.5 199v1M301.5 200v1M302.5 200v1M303.5 200v1M304.5 199v3M305.5 200v2M306.5 201v2M307.5 201v1M308.5 201v2M310.5 201v1M311.5 202v2M312.5 202v2M313.5 202v2M314.5 202v2M315.5 203v2M316.5 204v1M317.5 204v1M320.5 205v1M322.5 206v1M323.5 206v1M325.5 206v2M326.5 206v2M327.5 207v1M328.5 207v1M329.5 207v2M330.5 207v2M332.5 208v1M334.5 208v2M335.5 209v1M336.5 209v1M337.5 210v1M338.5 210v1M339.5 210v1M340.5 210v2M341.5 212v1M342.5 211v1M343.5 211v1M344.5 212v1M345.5 212v1M346.5 212v1M347.5 213v1M348.5 213v1M349.5 213v1M350.5 213v1M351.5 214v1M352.5 214v1M354.5 214v1M355.5 214v1M356.5 215v1M357.5 215v1M358.5 216v1M359.5 216v1M360.5 216v2M361.5 216v2M362.5 216v2M363.5 217v1M364.5 217v1M366.5 217v1M367.5 218v1M368.5 218v2M369.5 218v2M370.5 219v1M373.5 218v4M375.5 221v1M376.5 220v2M377.5 220v2M378.5 220v3M379.5 222v1M380.5 222v2M381.5 222v1M382.5 223v1M383.5 223v1M384.5 223v1M386.5 223v1M387.5 224v1M388.5 223v2M389.5 223v2M391.5 223v2M394.5 222v1M395.5 221v2M396.5 220v2M397.5 220v2M398.5 220v2M399.5 219v1M402.5 218v2M403.5 218v2M405.5 217v1M406.5 217v1M407.5 216v2M408.5 216v1M409.5 216v1M410.5 215v1M411.5 215v1M412.5 215v1M415.5 213v1M416.5 213v1M419.5 211v1M422.5 210v1M423.5 210v1M424.5 210v1M425.5 208v3M426.5 208v2M427.5 208v2M428.5 208v1M429.5 208v1M430.5 207v1M432.5 206v1M433.5 206v1M434.5 206v1M435.5 204v1M439.5 203v1M440.5 203v1M441.5 202v2M442.5 202v2M444.5 201v2M445.5 201v1M446.5 201v1M447.5 200v2M448.5 200v1M449.5 199v2M451.5 199v1M452.5 198v2M453.5 198v1M454.5 198v1M455.5 197v2M456.5 197v1M457.5 196v1M460.5 195v1M461.5 195v1M462.5 195v1M463.5 194v1M464.5 194v1M465.5 193v1M466.5 193v1M467.5 192v1M469.5 191v2M470.5 191v2M471.5 191v1M472.5 191v1M473.5 190v1M474.5 190v1M475.5 189v1M477.5 188v2M478.5 188v1M480.5 187v1M481.5 187v1M482.5 186v1M483.5 186v1M484.5 185v1M485.5 184v1M486.5 185v1M487.5 184v2M488.5 183v1M490.5 183v1M491.5 182v2M492.5 182v1M493.5 182v1M494.5 182v1M495.5 180v3M497.5 180v1M498.5 179v2M501.5 179v1M502.5 178v1M503.5 178v1M504.5 176v1m0 1v1M505.5 177v1M506.5 176v2M507.5 176v1M508.5 176v1M509.5 175v1M511.5 175v1M512.5 174v1M513.5 174v1M515.5 172v3M518.5 171v2M520.5 171v1M521.5 171v1M522.5 170v1M523.5 169v3M524.5 169v2M525.5 169v1M527.5 168v1M530.5 166v1M531.5 166v1M532.5 165v4M533.5 166v1M534.5 165v2M535.5 165v1M536.5 164v1M537.5 164v1M538.5 164v1M539.5 163v2M540.5 163v1M541.5 162v2M542.5 162v2M544.5 160v2M546.5 160v2M547.5 160v1M548.5 159v2M549.5 159v2M550.5 159v1M551.5 158v1M553.5 158v1M554.5 157v1M555.5 157v1M556.5 157v1M557.5 156v1M558.5 156v1M559.5 155v1M560.5 154v2M561.5 154v1M562.5 154v1M565.5 153v1M566.5 152v1M568.5 151v1M569.5 151v1M570.5 151v1M571.5 150v1M572.5 148v4M573.5 149v3M574.5 149v1M575.5 149v1M576.5 148v2M578.5 148v1M579.5 147v1M580.5 147v1M581.5 146v2M582.5 146v1M583.5 145v1M584.5 144v2M585.5 145v1M587.5 144v1M588.5 143v2M589.5 143v1M592.5 142v2M593.5 140v2M594.5 140v2M595.5 141v1M596.5 140v1M597.5 140v1M601.5 138v1M602.5 137v1M603.5 137v1M604.5 137v1M605.5 136v1M607.5 136v1M608.5 135v2M609.5 135v2M611.5 134v1M612.5 134v1M614.5 133v1M615.5 132v2M616.5 132v1M617.5 131v2M618.5 131v1M620.5 130v1M622.5 130v1M623.5 128v3"/>
<path stroke="rgb(0,173,193)" d="M104.5 143v1M106.5 143v1M107.5 143v1M109.5 143v2M110.5 143v2M112.5 144v2M113.5 145v1M114.5 145v1M115.5 145v2M116.5 145v2M118.5 146v1M120.5 147v1M122.5 147v2M123.5 148v1M124.5 148v2M126.5 148v1M127.5 148v2M128.5 149v1M129.5 149v1M130.5 149v2M131.5 150v1M132.5 150v1M137.5 152v1M138.5 152v1M139.5 152v1M140.5 152v1M141.5 153v1M142.5 153v1M143.5 152v2M144.5 153v2M145.5 154v1M146.5 154v1M149.5 154v2M150.5 155v1M151.5 155v1M152.5 156v1M153.5 156v1M154.5 156v2M155.5 156v2M156.5 158v1M158.5 157v1M159.5 158v1M160.5 158v1M161.5 158v2M162.5 159v1M163.5 159v1M165.5 159v2M166.5 159v2M167.5 160v1M168.5 160v2M169.5 160v2M170.5 161v1M171.5 161v1M172.5 161v2M173.5 162v1M174.5 162v1M175.5 162v1M176.5 162v2M177.5 163v1M178.5 163v1M179.5 163v1M180.5 163v1M182.5 164v1M183.5 164v1M184.5 165v1M185.5 166v1M186.5 166v1M187.5 166v1M188.5 166v1M189.5 166v2M190.5 167v1M191.5 167v1M192.5 167v2M193.5 168v1M194.5 169v1M195.5 168v1M196.5 168v1M197.5 169v1M198.5 169v1M199.5 169v1M200.5 169v1M201.5 169v2M202.5 170v1M203.5 170v2M204.5 170v1M206.5 170v2M208.5 172v1M209.5 172v2M210.5 172v2M211.5 173v1M212.5 172v2M213.5 172v4M214.5 173v1M216.5 174v1M217.5 174v2M218.5 174v2M219.5 174v2M220.5 175v1M221.5 175v1M222.5 175v1M223.5 175v1M225.5 176v2M226.5 177v1M227.5 177v1M229.5 131v1m0 46v1M230.5 178v1M231.5 178v3M232.5 178v1M233.5 179v1M234.5 179v1M235.5 180v1M236.5 180v1M237.5 180v1M238.5 180v1M239.5 181v1M240.5 181v1M241.5 181v1M242.5 181v2M243.5 181v2M244.5 182v2M245.5 182v2M246.5 182v1M247.5 183v1M248.5 183v1M249.5 183v1M250.5 183v2M251.5 184v1M252.5 185v1M255.5 185v2M256.5 185v2M257.5 186v1M258.5 185v2M259.5 185v3M260.5 186v2M261.5 187v1M263.5 187v1M265.5 188v1M269.5 189v1M272.5 190v1M273.5 191v1M275.5 191v1M276.5 191v2M277.5 192v1M278.5 192v1M279.5 192v1M280.5 192v1M281.5 193v1M282.5 193v1M283.5 193v1M284.5 193v1M286.5 194v1M287.5 194v2M288.5 194v2M289.5 194v2M290.5 194v2M291.5 195v1M292.5 196v1M293.5 195v2M294.5 195v2M295.5 196v1M297.5 197v1M298.5 197v1M299.5 198v1M300.5 198v1M301.5 198v2M302.5 199v1M303.5 199v1M305.5 199v1M306.5 199v2M307.5 200v1M311.5 201v1M312.5 201v1M313.5 201v1M314.5 201v1M315.5 202v1M316.5 202v2M317.5 203v1M318.5 202v3M319.5 202v4M320.5 203v2M321.5 205v1M322.5 205v1M323.5 205v1M324.5 205v1M326.5 205v1M327.5 206v1M328.5 206v1M329.5 206v1M330.5 205v2M331.5 206v2M332.5 207v1M333.5 207v2M335.5 208v1M336.5 208v1M337.5 209v1M338.5 209v1M339.5 209v1M340.5 209v1M341.5 209v3M342.5 209v2M344.5 210v2M345.5 211v1M347.5 212v1M348.5 211v2M349.5 211v2M350.5 212v1M351.5 213v1M352.5 212v2M353.5 213v2M354.5 213v1M356.5 214v1M358.5 214v2M359.5 215v1M360.5 214v2M361.5 215v1M363.5 216v1M364.5 216v1M367.5 217v1M370.5 218v1M371.5 218v2M372.5 217v4M374.5 218v4M375.5 219v2M376.5 219v1M379.5 220v2M380.5 221v1M381.5 221v1M382.5 221v2M383.5 221v2M384.5 221v2M385.5 222v2M386.5 222v1M387.5 223v1M390.5 221v4M391.5 222v1M392.5 221v2M393.5 221v2M394.5 221v1M395.5 219v2M396.5 218v2M397.5 219v1M398.5 219v1M400.5 218v1M401.5 217v2M402.5 217v1M403.5 217v1M404.5 216v2M405.5 216v1M406.5 216v1M407.5 215v1M408.5 215v1M409.5 214v2M410.5 214v1M411.5 214v1M412.5 213v2M413.5 213v2M414.5 212v3M415.5 212v1M416.5 212v1M417.5 210v3M418.5 211v2M419.5 210v1M420.5 210v1M421.5 210v1M422.5 209v1M423.5 209v1M424.5 208v2M425.5 206v2M426.5 206v2M427.5 206v2M429.5 207v1M432.5 204v2M433.5 204v1M434.5 204v2M436.5 203v1M437.5 202v1M438.5 202v2M440.5 202v1M442.5 201v1M443.5 201v2M444.5 200v1M445.5 200v1M446.5 199v2M447.5 199v1M448.5 199v1M449.5 198v1M450.5 198v2M451.5 197v2M452.5 197v1M453.5 196v2M454.5 196v2M455.5 196v1M456.5 196v1M457.5 195v1M458.5 195v1M459.5 194v2M460.5 194v1M461.5 193v2M462.5 193v2M463.5 193v1M464.5 192v2M465.5 192v1M466.5 191v2M467.5 191v1M468.5 191v1M469.5 190v1M470.5 190v1M471.5 190v1M472.5 188v3M473.5 188v2M474.5 188v2M475.5 188v1M476.5 187v2M477.5 187v1M478.5 187v1M479.5 187v1M480.5 186v1M481.5 186v1M482.5 185v1M483.5 184v2M484.5 184v1M485.5 183v1M486.5 183v2M487.5 183v1M488.5 182v1M489.5 181v1M490.5 182v1M491.5 181v1M492.5 180v2M493.5 180v2M494.5 179v3M496.5 179v2M497.5 179v1M499.5 179v1M501.5 177v2M502.5 177v1M503.5 176v2M504.5 177v1M505.5 176v1M506.5 175v1M507.5 175v1M508.5 174v2M509.5 174v1M510.5 173v2M511.5 173v2M512.5 173v1M513.5 172v2M514.5 172v2M516.5 171v2M517.5 171v2M518.5 170v1M519.5 170v1M520.5 169v2M521.5 169v2M522.5 169v1M523.5 168v1M524.5 168v1M525.5 167v2M526.5 167v2M527.5 167v1M528.5 166v2M529.5 167v1M531.5 165v1M533.5 164v2M534.5 164v1M535.5 164v1M538.5 163v1M539.5 162v1M540.5 162v1M542.5 161v1M543.5 160v2M544.5 159v1M545.5 160v1M546.5 159v1M547.5 159v1M549.5 157v2M550.5 157v2M552.5 157v2M553.5 156v2M554.5 156v1M555.5 155v2M556.5 155v2M557.5 154v2M558.5 154v2M559.5 154v1M560.5 153v1M561.5 153v1M562.5 152v2M563.5 152v2M564.5 152v1M565.5 151v2M566.5 151v1M567.5 150v2M568.5 150v1M569.5 150v1M570.5 150v1M571.5 149v1M573.5 148v1M574.5 147v2M575.5 147v2M576.5 147v1M577.5 147v2M578.5 146v2M579.5 146v1M580.5 146v1M581.5 145v1M582.5 144v2M583.5 144v1M585.5 143v2M586.5 143v1M587.5 142v2M588.5 142v1M589.5 142v1M590.5 141v2M591.5 140v4M592.5 141v1M594.5 139v1M595.5 139v2M596.5 139v1M597.5 138v2M598.5 138v2M599.5 137v2M600.5 136v3M601.5 137v1M602.5 136v1M603.5 136v1M604.5 136v1M607.5 135v1M609.5 134v1M610.5 133v2M611.5 133v1M612.5 132v2M613.5 132v2M614.5 132v1M615.5 131v1M616.5 130v2M617.5 130v1M618.5 130v1M619.5 130v2M620.5 129v1M621.5 129v1M622.5 129v1M624.5 128v1"/>
<path stroke="rgb(0,177,185)" d="M104.5 139v4M105.5 141v3M106.5 142v1M107.5 141v2M108.5 142v2M109.5 142v1M110.5 142v1M111.5 144v1M112.5 143v1M113.5 143v2M114.5 144v1M115.5 143v2M116.5 144v1M118.5 145v1M119.5 145v2M120.5 146v1M121.5 146v2M122.5 146v1M123.5 147v1M124.5 146v2M125.5 147v2M126.5 147v1M128.5 148v1M129.5 148v1M130.5 148v1M131.5 149v1M132.5 149v1M133.5 149v2M134.5 150v1M135.5 150v1M136.5 151v1M137.5 151v1M138.5 151v1M139.5 151v1M140.5 151v1M141.5 152v1M142.5 152v1M143.5 151v1M145.5 153v1M146.5 153v1M147.5 153v2M148.5 153v2M149.5 153v1M150.5 154v1M152.5 155v1M153.5 155v1M154.5 155v1M156.5 156v1M157.5 156v1M158.5 156v1M159.5 157v1M160.5 157v1M161.5 157v1M162.5 157v2M163.5 158v1M164.5 158v2M166.5 158v1M168.5 159v1M169.5 158v2M170.5 160v1M171.5 160v1M172.5 160v1M173.5 161v1M174.5 161v1M175.5 160v2M176.5 161v1M177.5 162v1M178.5 162v1M179.5 162v1M180.5 162v1M181.5 163v1M184.5 163v2M185.5 164v2M186.5 164v2M187.5 165v1M188.5 165v1M189.5 165v1M190.5 165v2M191.5 165v2M192.5 166v1M193.5 166v2M194.5 166v3M195.5 166v1M196.5 167v1M197.5 168v1M198.5 166v1m0 1v1M199.5 167v2M200.5 168v1M201.5 168v1M202.5 169v1M203.5 169v1M204.5 169v1M206.5 166v1m0 2v1M207.5 168v4M208.5 168v2m0 1v1M209.5 171v1M210.5 171v1M211.5 172v1M212.5 171v1M214.5 172v1M215.5 173v1M216.5 173v1M217.5 173v1M220.5 111v1m0 61v2M221.5 174v1M222.5 174v1M223.5 174v1M224.5 175v1M226.5 176v1M227.5 176v1M228.5 176v2M229.5 177v1M230.5 176v2M231.5 177v1M233.5 178v1M234.5 178v1M235.5 178v2M236.5 178v2M237.5 178v2M238.5 179v1M239.5 137v1m0 41v2M240.5 179v2M241.5 180v1M242.5 179v2M243.5 180v1M244.5 180v2M245.5 181v1M246.5 181v1M247.5 182v1M248.5 182v1M249.5 177v1m0 4v1M250.5 181v2M251.5 183v1M252.5 183v2M253.5 183v2M254.5 183v2M257.5 185v1M258.5 184v1M259.5 184v1M261.5 185v2M262.5 186v1M263.5 186v1M264.5 187v1M265.5 187v1M266.5 187v2M267.5 187v2M268.5 187v2M270.5 188v2M271.5 188v2M273.5 189v2M274.5 189v2M276.5 190v1M277.5 189v3M278.5 191v1M279.5 191v1M280.5 191v1M281.5 191v2M282.5 192v1M283.5 192v1M284.5 192v1M286.5 193v1M287.5 193v1M288.5 193v1M290.5 193v1M291.5 194v1M292.5 195v1M293.5 194v1M294.5 192v3M295.5 195v1M296.5 195v2M297.5 196v1M299.5 197v1M300.5 196v2M301.5 196v2M302.5 197v2M303.5 198v1M304.5 198v1M305.5 196v3M306.5 197v2M307.5 81v2m0 116v1M308.5 200v1M310.5 200v1M311.5 200v1M312.5 199v2M313.5 199v2M314.5 199v2M315.5 201v1M317.5 202v1M320.5 202v1M321.5 202v3M322.5 203v2M323.5 203v2M324.5 204v1M325.5 205v1M326.5 204v1M327.5 203v3M328.5 205v1M329.5 205v1M332.5 206v1M334.5 207v1M335.5 207v1M336.5 207v1M337.5 207v2M338.5 207v2M339.5 208v1M340.5 208v1M343.5 209v2M344.5 209v1M345.5 209v2M346.5 209v3M347.5 210v2M348.5 210v1M350.5 211v1M351.5 211v2M353.5 212v1M354.5 212v1M355.5 212v2M356.5 213v1M357.5 213v2M358.5 213v1M359.5 214v1M360.5 213v1M362.5 214v2M363.5 214v2M364.5 215v1M365.5 216v1M366.5 216v1M367.5 214v3M368.5 216v2M369.5 216v2M370.5 216v2M371.5 217v1M375.5 218v1M377.5 219v1M378.5 219v1M379.5 219v1M380.5 218v3M381.5 219v2M382.5 220v1M383.5 220v1M385.5 221v1M386.5 221v1M387.5 222v1M389.5 221v2M391.5 220v2M392.5 220v1M393.5 220v1M394.5 219v2M395.5 218v1M396.5 217v1M397.5 218v1M399.5 218v1M400.5 217v1M401.5 216v1M402.5 215v2M403.5 216v1M405.5 215v1M406.5 215v1M407.5 213v2M408.5 213v2M410.5 213v1M411.5 212v2M412.5 212v1M413.5 211v2M416.5 211v1M418.5 209v2M419.5 209v1M420.5 209v1M421.5 208v2M422.5 208v1M423.5 207v2M424.5 206v2M428.5 206v2M429.5 205v2M430.5 204v3M431.5 203v4M433.5 203v1M434.5 203v1M435.5 202v2M438.5 201v1M441.5 201v1M442.5 200v1M443.5 200v1M444.5 199v1M445.5 199v1M447.5 198v1M448.5 197v2M449.5 197v1M450.5 193v2m0 2v1M451.5 196v1M452.5 196v1M453.5 195v1M454.5 195v1M455.5 193v3M456.5 195v1M457.5 194v1M458.5 194v1M459.5 193v1M460.5 193v1M461.5 192v1M462.5 192v1M463.5 189v2m0 1v1M465.5 191v1M467.5 105v1M468.5 190v1M469.5 189v1M470.5 188v2M471.5 188v2M473.5 185v3M474.5 186v2M475.5 186v2M476.5 185v2M477.5 186v1M478.5 185v2M479.5 185v2M480.5 185v1M481.5 184v2M482.5 183v2M483.5 183v1M485.5 182v1M486.5 182v1M487.5 181v2M488.5 181v1M490.5 180v2M491.5 179v2M492.5 179v1M493.5 179v1M496.5 178v1M498.5 177v2M499.5 176v3M500.5 175v5M502.5 175v2M503.5 175v1M504.5 175v1M505.5 175v1M507.5 174v1M509.5 173v1M510.5 172v1M511.5 172v1M512.5 171v2M513.5 171v1M514.5 171v1M515.5 171v1M517.5 169v2M518.5 169v1M519.5 169v1M521.5 168v1M522.5 168v1M524.5 167v1M525.5 166v1M526.5 166v1M527.5 166v1M528.5 139v2m0 24v1M529.5 166v1M530.5 164v2M532.5 164v1M533.5 163v1M534.5 162v2M535.5 163v1M536.5 161v3M537.5 162v2M538.5 161v2M539.5 161v1M540.5 160v2M541.5 160v2M542.5 158v3M543.5 159v1M545.5 159v1M546.5 158v1M547.5 158v1M548.5 157v2M549.5 156v1M550.5 156v1M551.5 156v2M552.5 156v1M553.5 155v1M554.5 155v1M556.5 154v1M558.5 152v2M559.5 152v2M560.5 152v1M561.5 152v1M562.5 151v1M563.5 151v1M564.5 151v1M565.5 150v1M566.5 150v1M567.5 149v1M568.5 149v1M569.5 149v1M570.5 148v2M575.5 146v1M576.5 146v1M577.5 143v2m0 1v1M578.5 143v3M579.5 143v3M580.5 143v3M581.5 144v1M582.5 143v1M583.5 143v1M584.5 142v2M585.5 142v1M586.5 142v1M588.5 140v2M589.5 140v2M590.5 140v1M592.5 139v2M593.5 139v1M595.5 138v1M596.5 138v1M597.5 137v1M598.5 137v1M601.5 136v1M602.5 135v1M604.5 135v1M605.5 133v3M606.5 132v4M607.5 133v2M608.5 133v2M609.5 133v1M611.5 132v1M612.5 131v1M613.5 131v1M614.5 130v2M615.5 129v2M616.5 129v1M617.5 129v1M618.5 128v2M619.5 128v2M620.5 128v1M621.5 128v1M622.5 127v2M623.5 127v1M624.5 126v2"/>
<path stroke="rgb(0,181,175)" d="M105.5 139v2M106.5 139v2M108.5 140v2M109.5 141v1M110.5 141v1M111.5 141v3M112.5 142v1M116.5 143v1M117.5 143v3M118.5 144v1M119.5 144v1M120.5 143v2M121.5 145v1M122.5 145v1M123.5 145v2M125.5 146v1M126.5 146v1M127.5 146v2M128.5 147v1M129.5 147v1M130.5 147v1M131.5 148v1M132.5 147v1M134.5 149v1M137.5 148v3M138.5 149v2M139.5 150v1M140.5 150v1M141.5 150v2M142.5 151v1M144.5 151v2M145.5 150v3M146.5 152v1M147.5 152v1M148.5 152v1M149.5 152v1M150.5 153v1M151.5 153v2M152.5 154v1M153.5 153v2M154.5 154v1M155.5 155v1M156.5 155v1M157.5 155v1M158.5 155v1M159.5 156v1M161.5 145v3m0 8v1M162.5 119v2m0 35v1M163.5 157v1M164.5 157v1M165.5 157v1M166.5 157v1M167.5 158v2M168.5 158v1M169.5 156v2M170.5 156v4M171.5 155v1m0 3v1M172.5 127v1m0 31v1M173.5 159v2M174.5 160v1M176.5 160v1M178.5 161v1M179.5 124v1m0 36v1M180.5 161v1M181.5 162v1M182.5 163v1M183.5 162v2M187.5 164v1M188.5 164v1M189.5 130v1m0 32v2M190.5 164v1M191.5 164v1M192.5 165v1M193.5 165v1M194.5 134v1M195.5 167v1M196.5 103v1m0 61v2M197.5 167v1M198.5 167v1M199.5 166v1M200.5 167v1M201.5 167v1M202.5 167v2M203.5 142v1m0 24v2M204.5 168v1M205.5 167v1m0 1v1M206.5 167v2M207.5 165v3M208.5 167v1M209.5 167v1m0 1v2M210.5 158v1m0 8v4M211.5 170v1M213.5 171v1M215.5 172v1M216.5 172v1M217.5 171v2M218.5 173v1M219.5 173v1M220.5 110v1M221.5 173v1M222.5 173v1M223.5 173v1M224.5 174v1M225.5 175v1M226.5 174v2M227.5 175v1M228.5 175v1M229.5 175v2M230.5 175v1M231.5 114v1m0 60v2M232.5 176v2M233.5 177v1M234.5 114v1m0 62v1M235.5 177v1M236.5 177v1M237.5 177v1M239.5 138v1m0 34v1m0 4v1M240.5 177v2M241.5 91v1m0 86v2M242.5 172v2m0 4v1M243.5 178v2M245.5 180v1M246.5 161v1m0 18v1M247.5 180v2M248.5 181v1M249.5 178v1m0 1v2M250.5 177v4M251.5 132v1m0 47v3M252.5 181v2M253.5 182v1M254.5 182v1M255.5 149v1m0 32v3M256.5 183v2M257.5 137v4m0 42v2M258.5 138v1m0 22v1m0 20v2M259.5 182v2M260.5 181v5M261.5 184v1M262.5 185v1M263.5 185v1M264.5 168v1m0 17v1M265.5 186v1M266.5 186v1M267.5 130v1m0 55v1M268.5 123v2m0 61v1M269.5 187v1M270.5 187v1M271.5 111v1m0 44v1m0 30v1M272.5 145v2m0 40v3M273.5 187v1M274.5 187v2M275.5 187v4M276.5 188v2M277.5 122v2M278.5 123v1m0 66v1M279.5 190v1M280.5 190v1M281.5 189v2M283.5 191v1M284.5 191v1M285.5 191v3M286.5 191v2M287.5 191v2M288.5 192v1M289.5 193v1M290.5 186v1M291.5 185v1m0 7v1M292.5 193v2M293.5 192v2M294.5 188v1m0 2v1M295.5 194v1M296.5 194v1M297.5 195v1M298.5 158v1m0 1v1m0 34v2M299.5 196v1M302.5 103v1m0 15v3m0 3v1m0 70v1M303.5 196v2M304.5 128v2m0 66v1M305.5 129v2m0 38v1m0 25v1M306.5 195v2M307.5 198v1M308.5 197v3M309.5 197v3M310.5 198v2M311.5 198v1M314.5 198v1M315.5 199v2M316.5 200v2M317.5 182v1m0 18v1M320.5 198v1M321.5 200v2M322.5 180v1m0 21v1M323.5 202v1M324.5 154v1m0 47v2M325.5 148v1m0 53v2M326.5 202v2M328.5 203v2M329.5 203v1M330.5 204v1M331.5 204v2M332.5 205v1M333.5 205v2M334.5 145v2m0 58v2M335.5 205v2M336.5 206v1M337.5 206v1M339.5 108v1m0 98v1M340.5 205v1m0 1v1M341.5 206v3M342.5 207v2M343.5 149v1m0 58v1M344.5 152v2m0 54v1M345.5 48v1m0 157v3M347.5 209v1M348.5 209v1M349.5 96v1m0 112v2M350.5 135v1m0 74v1M351.5 210v1M352.5 210v2M353.5 210v2M354.5 211v1M355.5 115v1m0 58v1m0 36v1M356.5 212v1M357.5 212v1M358.5 212v1M359.5 100v1m0 111v2M360.5 130v1M361.5 128v4m0 81v2M363.5 213v1M364.5 78v1m0 134v2M365.5 141v1m0 72v2M366.5 215v1M368.5 215v1M369.5 57v1m0 157v1M371.5 129v2m0 85v1M372.5 127v1M374.5 56v1m0 160v1M375.5 217v1M376.5 149v1m0 1v1m0 65v2M377.5 128v1m0 88v2M378.5 218v1M379.5 217v2M380.5 217v1M381.5 217v2M382.5 143v1m0 74v2M383.5 123v1m0 2v1m0 91v2M384.5 219v2M385.5 219v2M386.5 220v1M387.5 221v1M388.5 219v4M390.5 98v1m0 28v2m0 41v1m0 49v1M391.5 171v1M393.5 219v1M394.5 133v1m0 39v1m0 44v1M396.5 216v1M397.5 216v2M398.5 108v1m0 106v1m0 1v2M399.5 216v2M400.5 182v1m0 33v1M401.5 215v1M402.5 117v2M403.5 215v1M404.5 214v1M405.5 213v2M406.5 172v1m0 39v3M407.5 212v1M408.5 171v2m0 39v1M409.5 173v1m0 38v2M410.5 212v1M411.5 211v1M413.5 208v3M414.5 76v1m0 132v3M415.5 210v2M416.5 209v2M417.5 202v1m0 6v1M419.5 207v2M420.5 111v1m0 96v1M421.5 110v1m0 96v1M422.5 207v1M423.5 206v1M424.5 204v2M425.5 204v2M426.5 204v2M428.5 103v1m0 101v1M429.5 138v1m0 65v1M430.5 202v2M431.5 202v1M432.5 203v1M433.5 121v1m0 80v1M434.5 202v1M435.5 201v1M436.5 201v2M437.5 201v1M438.5 200v1M439.5 114v1m0 71v1m0 13v3M440.5 149v1m0 16v1m0 21v1m0 10v3M441.5 199v2M442.5 199v1M443.5 199v1M444.5 198v1M445.5 101v1m0 96v1M446.5 128v1m0 68v2M447.5 112v1m0 84v1M448.5 112v2m0 81v2M449.5 114v2m0 77v4M450.5 195v2M451.5 118v1m0 75v2M452.5 194v2M453.5 194v1M454.5 84v1m0 107v3M455.5 192v1M456.5 193v2M457.5 193v1M458.5 192v2M459.5 190v3M460.5 192v1M461.5 131v1m0 59v1M462.5 191v1M463.5 191v1M464.5 88v1m0 100v3M465.5 125v1m0 40v2m0 18v1m0 2v2M466.5 185v1m0 3v2M467.5 104v1m0 84v1M468.5 188v2M472.5 136v1M475.5 176v1m0 8v1M477.5 184v2M478.5 184v1M479.5 179v1m0 3v2M480.5 183v2M481.5 183v1M482.5 181v2M483.5 182v1M484.5 182v2M485.5 181v1M486.5 181v1M487.5 178v1m0 1v1M488.5 180v1M489.5 180v1M491.5 178v1M492.5 178v1M493.5 156v1m0 21v1M494.5 178v1M495.5 177v3M496.5 152v1m0 24v1M497.5 153v2m0 22v2M498.5 176v1M499.5 175v1M501.5 175v2M503.5 110v1M504.5 173v2M505.5 173v2M506.5 173v1M507.5 140v2m0 31v1M508.5 173v1M509.5 172v1M510.5 118v1M511.5 171v1M512.5 170v1M513.5 168v3M514.5 169v2M515.5 101v2m0 66v1M516.5 169v2M517.5 139v2M518.5 140v1m0 27v1M519.5 167v2M520.5 167v2M521.5 167v1M522.5 166v2M523.5 165v3M524.5 166v1M526.5 165v1M527.5 163v2M528.5 102v1m0 61v1M529.5 163v3M531.5 163v2M532.5 162v2M533.5 121v1m0 39v2M534.5 161v1M535.5 161v2M538.5 160v1M539.5 160v1M540.5 159v1M541.5 158v2M542.5 157v1M543.5 135v1M544.5 158v1M545.5 157v2M546.5 157v1M547.5 157v1M548.5 156v1M549.5 155v1M550.5 142v1m0 12v1M551.5 155v1M552.5 135v1M554.5 154v1M555.5 153v2M556.5 153v1M557.5 152v2M558.5 151v1M559.5 151v1M560.5 150v2M561.5 108v1m0 41v2M562.5 150v1M563.5 120v1M564.5 149v2M565.5 149v1M566.5 149v1M567.5 148v1M568.5 126v2m0 20v1M569.5 147v2M570.5 146v2M571.5 147v2M572.5 145v3M573.5 114v2m0 29v3M574.5 145v2M575.5 145v1M576.5 143v3M577.5 142v1m0 2v1M578.5 142v1M581.5 143v1M582.5 141v2M583.5 141v2M584.5 141v1M585.5 141v1M586.5 141v1M587.5 139v3M588.5 139v1M589.5 139v1M590.5 139v1M592.5 138v1M593.5 138v1M594.5 138v1M595.5 137v1M596.5 137v1M598.5 136v1M599.5 136v1M600.5 135v1M601.5 135v1M603.5 133v2M604.5 133v2M605.5 131v2M606.5 131v1M607.5 132v1M608.5 132v1M610.5 131v2M611.5 130v2M612.5 130v1M613.5 130v1M614.5 129v1M615.5 128v1M616.5 127v2M617.5 126v3M618.5 126v2M620.5 127v1M621.5 126v2M622.5 126v1M623.5 126v1"/>
<path stroke="rgb(0,185,164)" d="M108.5 139v1M109.5 139v2M110.5 140v1M111.5 140v1M112.5 141v1M113.5 138v5M114.5 141v2M115.5 141v2M116.5 141v2M118.5 143v1M119.5 133v1m0 9v1M121.5 144v1M122.5 144v1M123.5 144v1M124.5 144v2M125.5 144v2M126.5 135v1m0 9v1M127.5 145v1M128.5 145v2M129.5 145v2M130.5 145v2M131.5 142v1m0 2v3M132.5 130v2m0 8v2m0 4v1M133.5 146v1M134.5 147v2M135.5 147v3M136.5 128v1m0 18v4M137.5 147v1M138.5 148v1M139.5 129v1m0 19v1M140.5 149v1M141.5 149v1M142.5 128v1m0 21v1M143.5 150v1M145.5 144v1M146.5 147v1m0 2v2M147.5 147v1M148.5 130v1m0 20v1M149.5 151v1M150.5 152v1M151.5 152v1M152.5 149v1m0 2v1M153.5 146v1m0 5v1M154.5 125v3m0 25v1M155.5 153v2M156.5 132v1m0 18v1m0 1v1M158.5 127v1m0 26v1M159.5 154v2M160.5 154v3M161.5 135v3m0 10v3m0 3v2M162.5 152v4M163.5 117v1m0 1v4m0 32v2M164.5 120v3m0 33v1M165.5 120v3m0 33v1M166.5 119v1m0 10v1m0 16v1m0 8v1M167.5 119v3m0 23v1m0 11v1M168.5 128v1m0 27v2M169.5 127v1m0 8v1M170.5 133v1m0 2v1m0 18v1M171.5 127v1m0 28v3M172.5 156v3M173.5 158v1M174.5 158v2M175.5 158v2M176.5 126v1m0 1v1m0 16v1m0 11v3M177.5 128v1m0 4v1m0 15v2m0 8v2M178.5 124v1m0 34v2M179.5 123v1m0 36v1M180.5 160v1M181.5 116v1m0 25v1m0 14v1m0 2v2M182.5 161v2M183.5 130v1m0 30v1M184.5 114v2m0 6v2M185.5 134v1m0 27v2M186.5 162v2M187.5 122v1m0 35v2m0 2v2M188.5 160v2m0 1v1M189.5 161v2M190.5 161v3M192.5 102v1m0 11v1m0 47v3M193.5 114v3m0 47v1M194.5 165v1M195.5 125v1m0 39v1M196.5 102v1M197.5 150v1m0 14v2M198.5 164v2M199.5 164v2M200.5 162v1m0 3v1M201.5 140v1m0 25v1M202.5 99v1m0 41v1M203.5 166v1M204.5 141v2m0 24v1M205.5 110v2m0 2v2m0 30v1M206.5 111v2m0 46v3m0 1v1M207.5 129v1m0 34v1M208.5 166v1M209.5 166v1M210.5 156v2M211.5 156v1m0 12v1M212.5 133v2m0 20v2m0 13v1M213.5 133v4M214.5 117v1m0 12v2m0 32v2m0 1v5M215.5 117v2m0 45v1m0 5v2M216.5 169v3M217.5 169v2M218.5 171v2M219.5 131v1m0 39v2M220.5 108v2m0 62v1M221.5 111v2m0 59v1M222.5 172v1M223.5 101v1m0 27v1m0 42v1M224.5 156v1m0 15v2M225.5 134v1m0 17v1m0 20v2M226.5 106v1m0 62v2m0 2v1M227.5 107v1m0 65v2M228.5 174v1M229.5 114v2m0 12v3m0 37v1M230.5 115v1m0 1v1m0 55v2M231.5 111v1m0 3v1m0 58v1M232.5 102v1m0 46v1m0 25v1M233.5 175v2M234.5 94v1m0 18v1m0 1v1M235.5 92v3m0 12v1m0 68v1M236.5 107v1m0 66v1m0 1v1M237.5 121v2m0 35v1m0 16v2M238.5 138v1m0 19v1m0 13v6M239.5 135v2m0 35v1m0 2v1m0 1v1M240.5 86v2m0 87v2M241.5 88v3m0 43v1m0 17v1m0 23v2M242.5 88v2m0 1v1m0 42v1m0 9v1m0 32v1M243.5 125v1m0 19v1m0 31v1M244.5 173v7M245.5 174v1m0 1v2m0 1v1M246.5 119v2m0 39v1m0 1v1m0 15v2M247.5 94v1m0 23v1m0 25v1m0 33v2M248.5 112v2m0 15v1m0 15v1m0 31v4M249.5 92v1m0 83v1m0 2v1M250.5 176v1M251.5 133v1m0 9v1m0 35v1M252.5 180v1M253.5 115v2m0 24v1m0 39v1M254.5 96v1M255.5 96v1m0 5v1M256.5 160v1m0 21v1M257.5 133v4m0 4v1m0 18v1m0 1v2m0 17v2M258.5 96v1m0 1v1m0 37v2m0 1v2m0 1v1m0 16v2m0 18v3M259.5 93v1m0 86v2M260.5 80v1m0 99v1M261.5 179v2m0 1v2M262.5 104v1m0 21v1m0 57v1M263.5 127v2m0 11v1m0 27v1M264.5 140v1m0 43v2M265.5 184v2M266.5 185v1M267.5 89v1m0 35v1m0 2v2m0 55v1M268.5 115v2m0 3v1m0 46v1m0 17v1M269.5 84v1m0 78v5m0 18v1M270.5 155v1m0 30v1M271.5 92v1m0 15v3m0 1v1m0 41v2m0 1v2m0 27v1M272.5 73v2m0 21v1m0 37v1m0 12v1M273.5 133v1m0 51v2m0 1v1M274.5 88v1M275.5 82v2m0 7v2M276.5 122v1m0 36v1m0 27v1M277.5 98v1m0 21v2m0 37v2m0 8v1m0 17v2M278.5 91v1m0 28v3m0 32v2m0 31v1M279.5 118v1m0 69v2M280.5 82v1m0 4v3m0 55v1m0 42v2M281.5 116v1m0 8v3m0 60v1M282.5 127v6m0 55v3M283.5 68v1m0 59v1m0 60v2M284.5 87v2m0 3v2m0 24v1m0 2v1m0 68v1M285.5 81v3m0 16v1m0 34v1m0 54v1M286.5 100v1m0 89v1M287.5 133v2m0 55v1M288.5 75v1m0 15v2m0 97v2M289.5 92v1m0 3v1m0 48v2m0 38v1m0 5v2M290.5 147v2m0 6v1m0 29v1m0 5v2M291.5 184v1m0 1v1m0 5v1M292.5 107v1m0 84v1M293.5 112v2m0 6v1m0 43v2m0 15v1m0 9v1M294.5 62v1m0 12v1m0 16v1m0 27v1m0 34v2m0 8v1m0 5v1m0 8v1m0 5v2m0 1v2M295.5 92v1m0 58v1m0 28v2m0 3v1m0 2v6M296.5 139v2m0 44v1M297.5 83v1m0 28v1m0 43v2m0 32v1m0 2v2M298.5 157v1m0 3v1m0 32v1M299.5 194v2M300.5 133v1m0 1v1m0 59v1M301.5 126v1m0 16v1m0 2v3m0 45v2M302.5 99v2m0 1v1m0 15v1m0 5v1m0 69v2M303.5 103v1m0 2v1m0 18v1m0 68v2M304.5 103v1m0 22v2m0 5v1m0 60v2M305.5 126v3m0 2v3m0 16v2m0 4v1m0 11v1M306.5 82v1m0 67v3m0 16v2m0 23v1M307.5 60v1m0 18v2m0 74v1m0 39v3M309.5 59v1m0 39v1M310.5 60v1m0 54v2m0 80v1M311.5 139v1m0 47v1m0 9v1M312.5 128v1m0 28v1m0 39v2M313.5 142v1m0 15v1m0 38v2M314.5 158v1m0 4v3M315.5 129v5m0 32v1m0 15v3m0 5v1m0 6v2M316.5 53v1m0 2v2m0 48v2m0 24v1m0 63v2m0 1v1M317.5 62v1m0 1v2m0 6v1m0 5v1m0 28v1m0 1v1m0 70v2m0 17v2M318.5 74v2m0 2v1m0 30v2m0 88v3M319.5 171v1m0 27v3M320.5 191v1m0 5v1m0 1v3M321.5 90v1m0 3v2m0 41v1M322.5 92v1m0 45v1m0 40v1M323.5 55v1m0 1v2m0 95v2m0 43v3M324.5 55v1m0 2v1m0 106v1M325.5 54v2m0 53v1m0 11v2m0 17v2M326.5 118v1m0 29v1M327.5 152v1m0 49v1M328.5 155v1m0 21v1m0 24v1M330.5 199v3m0 1v1M331.5 78v1m0 124v1M332.5 184v1m0 18v2M333.5 95v1m0 1v1m0 69v1m0 35v2M334.5 97v1m0 70v2m0 34v1M335.5 97v1m0 47v2m0 57v1M336.5 131v1m0 46v1m0 24v3M337.5 105v2m0 97v2M338.5 107v1m0 30v3m0 64v2M339.5 107v1m0 30v4m0 16v1m0 3v1m0 1v1m0 30v1m0 7v1m0 1v1M340.5 107v2m0 26v2m0 1v8m0 58v1m0 1v1M342.5 110v3m0 27v1m0 29v3m0 33v1M343.5 58v1m0 74v1m0 6v2m0 5v2m0 2v1m0 33v1m0 20v2M344.5 49v2m0 5v1m0 2v1m0 1v4m0 9v2m0 53v1m0 10v2m0 9v1m0 2v1m0 6v1m0 3v1m0 40v2M345.5 49v1m0 13v2m0 40v2m0 11v1m0 9v1m0 1v1m0 8v1m0 14v1m0 50v1M346.5 119v1m0 86v3M347.5 92v1m0 80v1m0 34v1M348.5 208v1M349.5 81v3m0 53v1m0 62v2M350.5 133v2m0 1v2m0 70v2M351.5 133v1m0 3v2m0 66v1m0 2v2M352.5 56v4m0 44v1m0 68v1m0 18v1m0 16v1M353.5 182v1m0 26v1M354.5 159v1m0 45v2m0 3v1M355.5 114v1m0 1v1m0 9v1m0 48v1m0 34v1M356.5 49v1m0 65v3m0 15v3m0 9v2m0 6v2m0 55v2M357.5 74v2m0 45v1m0 13v1m0 9v2m0 6v1m0 55v3M358.5 104v1m0 39v2m0 9v1m0 53v3M359.5 95v1m0 5v1m0 29v1m0 32v1m0 46v1M360.5 128v2m0 1v1m0 79v2M361.5 127v1m0 80v5M362.5 208v1m0 2v3M363.5 173v1m0 37v2M364.5 77v1m0 48v2m0 83v1M365.5 142v2m0 69v1M366.5 85v2m0 36v1m0 17v2m0 41v2m0 27v2M367.5 55v1m0 30v1m0 6v1m0 13v1m0 15v1m0 89v1M368.5 55v1m0 158v1M369.5 56v1m0 4v2m0 112v3m0 36v1M370.5 113v1m0 17v1m0 82v2M371.5 111v3m0 17v1m0 39v1m0 42v2M372.5 53v1m0 2v1m0 69v1m0 1v2m0 83v4M373.5 54v1m0 1v1m0 3v1m0 78v1m0 34v1m0 14v1m0 12v1m0 11v3M374.5 53v3m0 1v1m0 1v4m0 25v1m0 2v1m0 6v1m0 30v1m0 2v1m0 5v2m0 41v2m0 4v1m0 1v1m0 12v2M375.5 87v2m0 2v1m0 38v2m0 18v1m0 22v1m0 29v1m0 11v2M376.5 150v1m0 1v1m0 19v1m0 30v1m0 10v1m0 1v1M377.5 77v2m0 69v1m0 67v1M378.5 77v1m0 26v1m0 3v1m0 9v1m0 97v2M379.5 103v1m0 4v2m0 106v1M380.5 103v1m0 111v2M381.5 211v1m0 1v4M382.5 142v1m0 2v1m0 7v1m0 62v2M383.5 73v1m0 1v2m0 45v1m0 29v1m0 64v1M384.5 76v1m0 139v3M386.5 85v1m0 45v4m0 17v2m0 65v1M387.5 85v2m0 95v1m0 36v2M388.5 121v2m0 47v1m0 34v2M389.5 82v1m0 13v1m0 1v2m0 31v2m0 37v1m0 8v1m0 27v1m0 10v3M390.5 96v2m0 15v1m0 11v2m0 16v1m0 17v3m0 4v2m0 1v1m0 46v2M391.5 113v1m0 11v1m0 32v1m0 10v2m0 1v2m0 43v3M392.5 118v2m0 10v1m0 57v1m0 28v3M393.5 102v1m0 27v1m0 22v1m0 63v2M394.5 61v2m0 69v1m0 39v1m0 42v2M395.5 132v2m0 5v1m0 30v1m0 45v2M396.5 151v1m0 61v3M397.5 101v1m0 111v2M398.5 82v4m0 3v2m0 4v2m0 10v1m0 19v1m0 5v2m0 65v1m0 13v1M399.5 60v1m0 6v2m0 26v2m0 86v1m0 30v2M400.5 72v2m0 21v3m0 85v1m0 2v1m0 23v3m0 2v1M401.5 71v2m0 45v1m0 95v1M402.5 128v1m0 84v2M403.5 76v1m0 18v1m0 21v2m0 8v2m0 84v2M404.5 118v1m0 39v1m0 54v1M405.5 123v1m0 34v2m0 2v1m0 15v1m0 31v3M406.5 161v4m0 6v1m0 5v1M407.5 127v1m0 39v1m0 4v1m0 35v4M408.5 170v1m0 2v1m0 24v1m0 2v1m0 9v1M409.5 150v2m0 18v3m0 21v1m0 5v1m0 10v1M410.5 211v1M411.5 93v2M412.5 208v4M413.5 69v1m0 2v1m0 2v3m0 61v1m0 62v3m0 1v2M414.5 75v1m0 88v1m0 36v1m0 1v1m0 4v1M415.5 94v2m0 1v1m0 1v1m0 62v1m0 39v2m0 4v2M416.5 97v1m0 104v1m0 4v2M417.5 119v1m0 83v1m0 3v2M418.5 118v2m0 84v5M419.5 118v2m0 58v1m0 6v1m0 1v2m0 17v1M420.5 110v1m0 1v1m0 84v1m0 9v1M421.5 111v1m0 54v1m0 39v1M422.5 124v2m0 1v2m0 31v1m0 3v2m0 40v1M423.5 124v1m0 80v1M424.5 119v2m0 74v1m0 6v2M425.5 145v2m0 55v2M426.5 82v1m0 1v1m0 118v1M427.5 177v1m0 25v3M428.5 93v1m0 8v1m0 7v1m0 65v3m0 24v2M429.5 109v3m0 87v2m0 1v2M430.5 127v1m0 30v3m0 32v1m0 5v3M431.5 129v1m0 27v3M432.5 140v2m0 17v1m0 4v2m0 2v2m0 32v1M433.5 79v1m0 19v2m0 21v1m0 35v2m0 41v1M434.5 138v2m0 19v1m0 41v1M435.5 82v2m0 11v1m0 8v1m0 33v1m0 5v1m0 55v1M436.5 200v1M437.5 116v1m0 72v1m0 4v1m0 5v1M438.5 113v2m0 50v2m0 25v1m0 6v1M439.5 112v2m0 70v2m0 1v1m0 11v1M440.5 167v1m0 19v1m0 1v1m0 8v1M441.5 111v1m0 47v1m0 21v1m0 16v1M442.5 79v1m0 2v2m0 36v3m0 7v1m0 47v1m0 1v1m0 5v1m0 10v2M443.5 79v1m0 3v1m0 34v1m0 5v1m0 62v1m0 8v3M444.5 88v1m0 12v2m0 14v3m0 76v2M445.5 100v1m0 1v1m0 33v1m0 57v4M446.5 100v1m0 28v1m0 22v3m0 6v1m0 34v1M447.5 111v1m0 40v3m0 39v1m0 1v1M448.5 111v1m0 2v1m0 15v1m0 62v2M449.5 89v1m0 22v2m0 76v3M450.5 90v1m0 1v2m0 96v1m0 1v1M451.5 78v1m0 94v1m0 18v2M452.5 78v1m0 113v2M453.5 79v2m0 95v1m0 15v2M454.5 107v3m0 22v1m0 43v2M455.5 82v1m0 106v1M456.5 144v1m0 46v2M457.5 93v2m0 96v2M458.5 114v1m0 75v2M459.5 80v1m0 108v1M460.5 80v1m0 6v1m0 1v2m0 40v2m0 55v1m0 1v2M461.5 164v2m0 23v2M462.5 119v1m0 67v4M463.5 98v1m0 10v2M464.5 84v1m0 1v2m0 9v2m0 16v1m0 9v2m0 36v1m0 24v1M465.5 84v1m0 12v1m0 28v1m0 19v1m0 17v2m0 21v2M466.5 125v1m0 17v1m0 1v1m0 38v1m0 2v2M467.5 101v3m0 2v1m0 9v2m0 65v6M468.5 105v3m0 78v2M469.5 160v2m0 25v1M470.5 84v1m0 15v1m0 1v2m0 78v3m0 1v2M471.5 93v1m0 8v2m0 72v1m0 9v2M472.5 91v1m0 13v1m0 29v1m0 49v3M473.5 105v1m0 76v3M474.5 183v3M475.5 102v1m0 72v1m0 7v2M476.5 135v1m0 14v1m0 32v1M477.5 90v1m0 20v1m0 23v1M478.5 178v2m0 2v2M479.5 150v3m0 25v1m0 1v3M480.5 180v1m0 1v1M481.5 98v1m0 8v1m0 72v3M482.5 95v1m0 56v1m0 27v1M483.5 179v3M484.5 158v1m0 21v2M485.5 180v1M486.5 176v1m0 1v3M487.5 90v1m0 19v1m0 64v3m0 1v1M488.5 103v1m0 6v1m0 61v1m0 5v2M489.5 178v2M490.5 139v3m0 7v1m0 27v1m0 1v1M491.5 139v3m0 31v1m0 3v1M492.5 91v1m0 31v1m0 13v2m0 16v1m0 21v1M493.5 86v3m0 1v2m0 44v1m0 17v2m0 20v2M494.5 87v1m0 8v1m0 13v1m0 24v2m0 18v2m0 18v3M495.5 109v1m0 8v1m0 22v1m0 34v1M496.5 97v2m0 76v1M497.5 94v3m0 1v1m0 28v1m0 27v1m0 14v3m0 3v1M498.5 93v2m0 1v2m0 1v2m0 48v1m0 21v3m0 1v1M499.5 109v1M500.5 141v1M501.5 174v1M502.5 172v1m0 1v1M503.5 111v2m0 47v1m0 11v3M504.5 92v1m0 67v1m0 11v1M505.5 172v1M506.5 94v2m0 76v1M507.5 170v1m0 1v1M508.5 106v1m0 36v1m0 27v2M509.5 118v1m0 1v1m0 35v1m0 14v1M510.5 119v1m0 50v2M511.5 169v2M512.5 112v1m0 56v1M513.5 134v1m0 13v1m0 18v1M514.5 143v2m0 7v1m0 14v2M515.5 168v1M516.5 100v2m0 54v1m0 10v2M517.5 138v1m0 28v2M518.5 167v1M519.5 143v1M520.5 166v1M521.5 166v1M522.5 165v1M524.5 164v2M525.5 111v1m0 52v2M526.5 99v1m0 60v3m0 1v1M527.5 101v1m0 37v2m0 7v1m0 10v1m0 1v2M528.5 100v2m0 1v1m0 34v1m0 12v1m0 11v1M529.5 110v1m0 38v2M530.5 146v2M531.5 162v1M532.5 161v1M533.5 160v1M534.5 122v1m0 36v2M535.5 160v1M536.5 160v1M537.5 158v3M538.5 158v2M539.5 158v2M540.5 158v1M541.5 101v1m0 14v1m0 10v2M542.5 113v3m0 17v1m0 2v1m0 12v2m0 5v1M543.5 132v3m0 1v1m0 11v3m0 6v1M544.5 157v1M545.5 148v1m0 7v1M546.5 117v1m0 20v1m0 17v1M547.5 115v1m0 22v2m0 13v1m0 1v2M548.5 153v1m0 1v1M549.5 106v3m0 31v2m0 12v1M550.5 106v3m0 30v3m0 12v1M551.5 107v1M552.5 134v1m0 18v2M553.5 153v2M554.5 139v1m0 13v1M555.5 152v1M556.5 110v1m0 41v1M558.5 105v1m0 14v1M559.5 149v2M560.5 106v1m0 17v1m0 23v2M561.5 123v2m0 24v1M562.5 148v2M563.5 119v1m0 1v1m0 27v2M565.5 147v2M566.5 148v1M567.5 113v2m0 11v1m0 8v4m0 8v1M568.5 125v1m0 2v2m0 8v2m0 6v2M569.5 145v2M570.5 113v1m0 31v1M571.5 114v2m0 30v1M572.5 114v2M573.5 116v1m0 26v2M574.5 113v4m0 25v3M575.5 143v2M576.5 119v1m0 20v1m0 1v1M577.5 120v1m0 19v2M578.5 140v2M579.5 141v2M580.5 140v2M581.5 141v2M582.5 140v1M583.5 139v2M584.5 139v2M585.5 140v1M586.5 135v1m0 3v2M587.5 137v2M588.5 122v1m0 14v2M589.5 138v1M590.5 113v1m0 24v1M591.5 137v3M592.5 137v1M593.5 137v1M594.5 136v2M595.5 130v2m0 3v2M596.5 134v3M597.5 134v3M598.5 134v2M599.5 134v2M600.5 132v1m0 1v1M601.5 133v2M602.5 133v2M604.5 131v2M605.5 130v1M607.5 130v2M608.5 130v2M609.5 130v1M610.5 130v1M612.5 129v1M613.5 129v1M614.5 128v1M615.5 119v3m0 3v3M616.5 124v3M617.5 123v3M618.5 124v1M619.5 121v2m0 3v2M620.5 125v2M621.5 124v2M622.5 125v1M623.5 125v1M624.5 123v3"/>
<path stroke="rgb(0,188,150)" d="M109.5 135v1M110.5 139v1M112.5 139v1M114.5 138v1m0 1v1M115.5 137v1M116.5 135v3m0 2v1M117.5 136v1m0 4v2M118.5 142v1M119.5 132v1m0 1v1m0 6v2M120.5 135v1m0 6v1M121.5 142v2M122.5 141v3M123.5 141v3M124.5 134v1m0 7v2M125.5 135v1m0 5v3M126.5 134v1m0 3v1m0 5v1M127.5 144v1M128.5 144v1M129.5 142v3M130.5 139v1m0 1v4M131.5 130v1m0 10v1m0 1v2M132.5 132v1m0 9v1m0 2v1M133.5 141v2m0 2v1m0 1v1M134.5 141v6M135.5 146v1M136.5 127v1m0 1v6M137.5 138v1m0 1v1m0 5v1M138.5 143v1m0 2v2M139.5 128v1m0 9v2m0 7v2M140.5 132v1m0 14v2M141.5 142v2m0 2v3M142.5 127v1m0 1v1m0 6v1m0 10v3M143.5 122v4m0 7v1m0 15v1M144.5 149v2M145.5 141v3m0 2v4M146.5 132v1m0 10v4m0 2v1M147.5 123v1m0 22v1m0 3v1M148.5 120v1m0 8v1m0 1v1m0 5v1m0 12v1M149.5 120v2m0 9v1m0 18v1M150.5 123v1m0 26v2M151.5 140v1m0 7v4M152.5 146v3m0 1v2M153.5 139v1m0 7v5M154.5 128v6m0 8v1m0 1v2m0 2v2m0 1v2M155.5 131v3m0 11v4m0 3v1M156.5 133v1m0 1v1m0 16v1M157.5 117v3m0 32v2M158.5 117v1m0 20v1m0 13v2M159.5 136v1m0 3v1m0 11v2M160.5 142v3m0 2v1m0 4v2M161.5 120v2m0 11v2m0 3v1m0 3v3m0 6v3M162.5 115v4m0 6v2m0 1v1m0 17v3M163.5 115v1m0 2v1m0 26v1m0 7v2M164.5 115v2m0 38v1M165.5 115v2m0 2v1m0 19v2m0 14v1M166.5 117v2m0 1v3m0 6v1m0 11v3m0 1v2m0 7v2M167.5 118v1m0 3v2m0 4v1m0 17v1m0 6v4M168.5 118v2m0 2v2m0 3v1m0 16v2m0 8v2M169.5 118v1m0 6v2m0 2v1m0 5v1m0 18v1M170.5 111v2m0 2v1m0 8v9m0 1v2m0 17v2M171.5 126v1m0 26v2M172.5 126v1m0 28v1M173.5 156v2M174.5 115v2m0 35v1m0 4v1M175.5 111v1m0 2v2m0 41v1M176.5 112v2m0 11v1m0 1v1m0 15v2M177.5 113v3m0 8v4m0 4v1m0 12v2m0 1v1m0 9v1M178.5 123v1m0 1v1m0 19v1m0 12v1M179.5 122v1m0 2v1m0 33v1M180.5 114v1m0 7v2m0 35v1M181.5 117v1m0 4v1m0 18v1m0 1v1m0 12v1m0 1v2M182.5 116v1m0 5v1m0 18v2m0 17v1M183.5 107v1m0 6v2m0 4v4m0 5v1m0 1v1m0 3v2m0 23v1M184.5 107v1m0 4v2m0 7v1m0 2v2m0 2v5m0 14v2m0 11v3M185.5 122v1m0 3v1m0 3v4m0 4v2m0 20v2M186.5 107v2m0 12v2m0 14v2m0 4v1m0 17v1M187.5 113v1m0 7v1m0 34v2m0 2v2M188.5 113v1m0 7v5m0 36v1M189.5 147v1m0 12v1M190.5 107v1m0 20v3m0 1v1m0 18v1m0 8v1M191.5 103v3m0 2v5m0 1v1m0 15v1m0 23v3m0 3v3M192.5 103v1m0 9v1m0 16v1m0 25v1m0 4v1M193.5 112v2m0 16v4m0 27v1m0 1v1M194.5 113v1m0 2v2m0 6v1m0 2v7m0 28v3M195.5 101v2m0 21v1m0 29v2m0 7v2M196.5 101v1m0 62v1M197.5 112v3m0 34v1M198.5 105v1m0 42v3m0 12v1M199.5 120v3m0 29v1m0 7v1m0 1v2M200.5 126v1m0 12v2m0 22v3M201.5 139v1m0 22v1m0 2v1M202.5 100v2m0 4v1m0 32v2m0 22v1m0 1v2M203.5 138v4m0 1v1m0 20v2M204.5 109v5m0 7v2m0 21v1m0 20v2M205.5 109v1m0 3v1m0 30v2m0 19v2M206.5 108v3m0 3v2m0 39v2m0 7v1M207.5 109v1m0 18v1m0 32v3M208.5 116v2m0 1v1m0 16v1m0 20v1m0 7v1M209.5 99v2m0 20v1m0 35v1m0 1v1m0 5v1M210.5 100v1m0 54v1m0 3v1M211.5 147v1m0 7v1m0 1v2m0 8v2M212.5 135v1m0 23v1m0 8v2M213.5 99v4m0 14v1m0 11v4m0 21v1m0 8v1m0 4v3M214.5 99v2m0 28v1m0 2v1m0 5v1m0 10v1m0 12v2m0 2v1M215.5 94v1m0 3v1m0 17v1m0 12v1m0 30v4m0 3v3M216.5 94v3m0 1v1m0 2v1m0 14v3m0 9v1M217.5 95v1m0 20v3m0 1v1M218.5 116v3m0 1v1m0 49v1M219.5 109v3m0 2v1m0 6v1m0 5v4m0 25v1m0 13v1M220.5 102v1m0 4v1m0 28v2m0 32v2M221.5 100v1m0 9v1m0 26v1m0 11v2m0 6v1m0 6v1m0 6v1M222.5 161v1m0 3v4m0 2v1M223.5 102v1m0 23v3m0 1v1m0 34v3m0 3v1M224.5 101v2m0 12v2m0 10v1m0 25v3m0 3v1m0 11v1M225.5 114v1m0 20v2m0 5v1m0 10v1m0 2v2M226.5 95v2m0 7v2m0 1v1m0 9v6m0 18v3m0 8v1m0 15v1m0 3v1M227.5 95v2m0 9v1m0 14v1m0 21v3m0 19v1m0 6v1M228.5 103v2m0 8v1m0 12v1m0 1v4m0 13v1m0 3v2m0 12v4m0 6v1M229.5 90v1m0 75v2m0 5v1M230.5 102v2m0 9v2m0 1v1m0 9v1m0 38v5m0 1v2M231.5 102v1m0 6v2m0 1v2m0 2v3m0 13v1m0 15v2m0 5v1m0 17v1M232.5 97v1m0 3v1m0 9v3m0 34v1m0 1v1m0 4v1m0 18v1M233.5 94v1m0 17v2m0 36v1M234.5 91v3m0 1v1m0 78v2M235.5 88v4m0 13v2m0 6v1m0 2v2m0 2v1m0 16v2m0 17v2m0 9v1m0 5v3M236.5 105v2m0 12v5m0 3v1m0 29v1m0 15v1m0 1v1M237.5 98v3m0 4v2m0 16v1m0 3v2m0 28v1m0 16v1M238.5 132v2m0 3v1m0 1v3m0 4v2m0 7v3m0 1v1m0 2v3m0 6v1M239.5 86v1m0 46v2m0 25v1m0 5v1m0 7v1m0 1v1M240.5 85v1m0 3v2m0 41v5m0 37v1M241.5 86v2m0 45v1m0 7v2m0 10v1m0 20v2M242.5 87v1m0 2v1m0 42v1m0 1v1m0 6v2m0 1v2m0 5v1m0 21v3M243.5 89v3m0 11v1m0 20v1m0 8v1m0 7v1m0 4v1m0 3v3m0 9v2m0 4v1m0 2v1m0 1v4M244.5 90v2m0 32v1m0 6v2m0 16v2M245.5 90v2m0 44v1m0 8v1m0 3v1M246.5 90v2m0 25v2m0 2v4m0 10v1m0 8v1m0 31v1M247.5 91v3m0 10v1m0 12v1m0 10v1m0 6v1m0 7v1m0 16v1m0 16v1M248.5 91v3m0 10v1m0 5v2m0 2v1m0 13v1m0 14v2m0 16v2M249.5 91v1m0 10v1m0 25v1m0 12v4m0 4v1m0 17v1m0 6v2M250.5 81v2m0 9v2m0 13v2m0 1v1m0 20v1m0 10v1m0 7v1m0 10v2m0 12v1M251.5 82v1m0 26v1m0 1v1m0 6v1m0 6v1m0 3v1m0 1v1m0 2v1m0 25v2m0 12v1M252.5 112v1m0 3v2m0 3v4m0 11v3m0 27v2m0 5v1m0 4v2M253.5 86v2m0 7v3m0 16v1m0 2v1m0 2v1m0 1v2m0 2v1m0 9v5m0 39v1M254.5 94v2m0 29v1m0 1v1m0 9v3m0 22v1m0 16v3M255.5 94v2m0 5v1m0 23v1m0 1v2m0 18v2m0 10v1m0 19v3M256.5 99v1m0 25v1m0 1v5m0 1v1m0 5v1m0 17v3m0 21v1M257.5 99v1m0 16v1m0 1v3m0 2v1m0 3v6m0 25v2m0 4v1m0 1v2m0 8v1m0 2v2M258.5 91v1m0 3v1m0 1v1m0 1v1m0 16v1m0 17v2m0 22v1m0 3v1m0 1v1M259.5 90v3m0 1v1m0 16v6m0 24v1m0 12v1m0 24v1M260.5 90v1m0 29v1m0 2v2m0 17v1m0 8v1m0 27v1M261.5 79v3m0 41v2m0 26v3m0 24v1m0 2v1M262.5 77v1m0 2v2m0 18v4m0 20v2m0 8v2m0 2v2m0 10v1m0 2v2m0 6v1m0 4v1m0 15v2M263.5 77v2m0 7v1m0 5v2m0 5v2m0 32v2m0 3v2m0 9v2m0 25v1m0 6v2M264.5 141v1m0 41v1M265.5 154v1m0 28v1M266.5 73v1m0 79v2m0 23v1m0 4v2M267.5 79v2m0 7v1m0 1v1m0 16v1m0 4v4m0 3v2m0 5v2m0 3v1m0 44v1m0 2v1m0 4v1M268.5 99v1m0 13v2m0 4v1m0 1v2m0 2v1m0 3v1m0 3v7m0 1v1m0 19v1m0 2v3m0 1v1m0 11v2m0 1v2M269.5 85v1m0 31v1m0 2v3m0 39v1m0 21v2M270.5 128v1m0 24v2m0 8v3m0 18v2M271.5 73v1m0 1v2m0 16v1m0 21v2m0 11v2m0 15v3m0 1v1m0 3v1m0 10v1m0 9v1m0 10v1M272.5 72v1m0 19v4m0 14v2m0 4v1m0 12v1m0 3v1m0 9v2m0 10v1m0 8v1m0 8v2m0 10v2M273.5 73v2m0 18v1m0 7v4m0 33v3m0 2v1m0 36v5M274.5 72v2m0 1v2m0 10v1m0 5v1m0 24v3M275.5 84v1m0 2v2m0 1v1m0 2v1m0 24v2m0 37v3m0 4v1M276.5 87v4m0 8v1m0 19v3m0 35v2m0 1v1m0 3v1m0 17v1M277.5 112v2m0 10v2m0 29v3m0 3v7m0 7v3m0 4v2m0 1v2M278.5 90v1m0 1v1m0 5v2m0 12v1m0 6v1m0 4v1m0 7v2m0 19v1m0 3v1m0 11v1m0 4v1m0 7v1m0 1v4M279.5 87v1m0 2v2m0 18v1m0 11v2m0 9v1m0 12v1m0 21v2M280.5 81v1m0 1v1m0 1v1m0 24v2m0 1v2m0 1v2m0 7v2m0 7v1m0 1v1m0 44v4m0 2v1M281.5 71v2m0 22v5m0 9v3m0 1v1m0 1v1m0 13v1m0 1v1m0 41v1M282.5 109v1m0 16v1m0 6v1m0 29v1m0 9v5m0 9v1M283.5 78v2m0 7v2m0 1v2m0 34v2m0 1v2m0 30v1m0 26v1M284.5 79v1m0 5v2m0 2v3m0 2v1m0 24v2m0 19v1m0 29v1m0 18v1M285.5 79v2m0 3v1m0 1v2m0 3v9m0 1v1m0 16v1m0 1v1m0 22v2m0 12v2M286.5 81v2m0 8v1m0 6v1m0 26v4m0 2v1m0 1v2m0 53v2M287.5 64v1m0 8v1m0 17v1m0 8v1m0 7v1m0 20v2m0 1v1m0 2v1m0 45v1m0 7v1M288.5 65v3m0 5v2m0 1v1m0 10v4m0 9v2m0 4v1m0 1v1m0 19v1m0 5v1m0 10v2m0 42v1M289.5 75v1m0 5v2m0 2v5m0 1v1m0 3v1m0 1v1m0 35v2m0 12v1m0 7v1m0 2v1m0 25v1m0 4v2M290.5 62v1m0 11v1m0 6v2m0 8v1m0 43v2m0 8v2m0 2v3m0 2v1m0 4v1m0 21v2m0 1v1m0 5v1M291.5 74v1m0 6v3m0 22v1m0 40v1m0 4v1m0 2v1m0 3v1m0 21v1m0 8v2M292.5 66v2m0 14v3m0 21v1m0 12v2m0 2v1m0 14v2m0 12v1m0 3v3m0 3v3m0 4v2m0 20v1M293.5 64v3m0 24v2m0 1v1m0 22v1m0 1v1m0 1v1m0 12v2m0 3v1m0 16v3m0 10v2m0 9v1m0 5v1m0 1v1m0 1v1M294.5 63v3m0 5v1m0 2v1m0 16v1m0 3v1m0 3v3m0 14v4m0 14v1m0 1v1m0 2v2m0 13v1m0 23v2m0 2v4M295.5 62v1m0 1v3m0 24v1m0 6v1m0 3v2m0 34v4m0 5v1m0 2v1m0 1v1m0 1v1m0 29v1m0 1v2M296.5 100v1m0 11v1m0 25v1m0 2v1m0 39v1m0 2v1m0 4v5M297.5 82v1m0 25v3m0 2v1m0 2v1m0 7v1m0 9v2m0 40v1m0 3v1m0 1v1m0 6v1m0 1v2M298.5 59v1m0 23v1m0 19v1m0 8v1m0 1v3m0 7v1m0 37v1m0 2v7m0 8v2m0 7v5M299.5 58v1m0 26v1m0 36v4m0 29v1m0 4v4m0 1v1m0 3v2m0 1v2M300.5 64v1m0 23v1m0 37v7m0 59v2M301.5 72v1m0 6v1m0 23v2m0 11v4m0 7v4m0 2v1m0 8v1m0 1v2m0 38v1m0 8v1M302.5 71v1m0 26v1m0 2v1m0 2v2m0 4v1m0 5v2m0 5v1m0 24v2m0 12v1m0 1v1m0 19v2m0 1v2M303.5 90v2m0 8v3m0 1v2m0 3v1m0 6v1m0 9v1m0 2v1m0 17v4m0 34v1m0 6v2M304.5 93v2m0 30v1m0 4v1m0 1v1m0 14v5m0 9v2m0 1v1m0 3v1m0 23v2M305.5 72v1m0 22v1m0 7v1m0 14v1m0 6v1m0 8v2m0 16v1m0 1v2m0 11v1m0 2v1m0 17v1m0 1v1m0 2v2M306.5 62v2m0 1v1m0 7v3m0 1v1m0 1v3m0 51v2m0 14v1m0 3v4m0 10v2m0 24v1M307.5 61v3m0 6v1m0 2v1m0 4v1m0 24v4m0 26v1m0 15v2m0 18v2m0 22v2M308.5 59v1m0 6v1m0 13v3m0 9v3m0 4v2m0 8v1m0 1v2m0 16v2m0 6v1m0 11v3m0 20v2m0 21v2M309.5 58v1m0 1v1m0 21v1m0 8v2m0 20v4m0 22v1m0 5v2m0 49v1M310.5 61v1m0 25v3m0 8v1m0 14v2m0 23v2m0 5v2m0 20v2M311.5 60v3m0 25v1m0 28v2m0 10v2m0 7v1m0 1v1m0 17v4m0 24v1m0 1v6m0 1v2M312.5 60v3m0 56v1m0 38v2m0 4v1m0 19v2m0 10v1M313.5 63v1m0 8v1m0 17v1m0 32v1m0 19v1m0 13v1m0 1v1m0 4v1m0 10v2m0 1v2M314.5 73v2m0 6v1m0 41v1m0 19v1m0 13v1m0 3v2m0 24v1m0 8v2M315.5 54v3m0 16v3m0 29v2m0 21v1m0 8v2m0 19v1m0 6v1m0 19v1m0 10v1M316.5 54v2m0 6v3m0 7v1m0 2v1m0 23v1m0 5v1m0 27v1m0 46v1m0 1v2m0 14v1M317.5 52v1m0 10v1m0 6v2m0 1v1m0 5v1m0 7v2m0 10v1m0 8v1m0 1v1m0 61v1m0 4v3m0 17v2M318.5 76v1m0 10v1m0 12v2m0 4v3m0 73v1m0 15v1M319.5 68v1m0 40v1m0 15v1m0 42v1m0 29v1M320.5 90v1m0 53v1m0 45v1m0 4v1M321.5 66v2m0 23v1m0 1v1m0 14v1m0 1v2m0 21v1m0 2v1m0 1v4m0 48v2m0 7v1M322.5 90v2m0 1v4m0 11v1m0 1v2m0 27v1m0 37v2m0 20v3M323.5 54v1m0 82v2m0 38v2m0 1v1m0 17v1M324.5 54v1m0 1v2m0 40v1m0 15v1m0 10v1m0 11v3m0 6v8m0 1v1m0 7v2m0 1v1m0 8v1m0 2v2m0 19v3M325.5 53v1m0 2v1m0 2v1m0 45v1m0 1v2m0 11v1m0 17v2m0 2v1m0 6v1m0 3v2m0 10v3m0 4v1m0 1v1m0 23v1M326.5 83v1m0 7v3m0 11v1m0 14v1m0 17v2m0 9v1m0 3v2m0 10v2m0 4v1m0 20v1m0 8v1M327.5 61v3m0 18v2m0 51v3m0 7v1m0 5v1m0 1v4M328.5 52v3m0 51v3m0 4v1m0 22v1m0 6v2m0 4v1m0 4v1m0 1v1m0 18v2m0 22v3M329.5 53v1m0 33v2m0 19v1m0 45v2m0 17v3m0 23v4M330.5 75v1m0 7v2m0 29v1m0 83v1m0 3v1M331.5 76v2m0 1v1m0 10v3m0 66v1m0 1v1m0 30v1m0 8v2M332.5 76v1m0 37v2m0 47v2m0 1v1m0 15v2m0 17v2M333.5 48v1m0 47v1m0 17v1m0 10v1m0 7v1m0 11v1m0 15v2m0 3v1m0 35v1M334.5 92v3m0 35v1m0 2v1m0 10v1m0 2v1m0 18v2m0 4v1M335.5 53v1m0 21v1m0 23v1m0 31v2m0 1v1m0 9v1m0 2v1m0 3v2m0 49v2M336.5 54v1m0 18v2m0 30v2m0 23v1m0 46v1m0 17v1m0 2v2M337.5 48v1m0 10v1m0 13v3m0 31v1m0 13v1m0 6v1m0 11v1m0 51v3m0 3v2m0 3v1M338.5 77v2m0 20v1m0 5v2m0 4v1m0 16v2m0 6v2m0 3v1m0 15v1m0 4v1m0 16v1m0 11v4m0 6v4M339.5 106v1m0 20v3m0 6v2m0 6v2m0 1v2m0 7v2m0 1v1m0 3v1m0 30v1m0 7v1m0 1v1M340.5 54v1m0 51v1m0 6v1m0 8v2m0 3v3m0 4v1m0 2v1m0 17v4m0 6v1m0 28v2m0 7v1M341.5 55v1m0 6v1m0 4v2m0 33v2m0 9v2m0 10v2m0 5v2m0 4v4m0 14v3m0 8v1m0 35v3M342.5 66v6m0 37v1m0 22v2m0 4v2m0 1v1m0 25v1m0 1v1m0 3v1M343.5 44v1m0 4v1m0 7v1m0 1v3m0 70v1m0 6v1m0 2v2m0 6v1m0 1v1m0 14v3m0 2v4m0 7v1M344.5 47v2m0 4v3m0 1v2m0 1v1m0 4v1m0 7v1m0 2v1m0 49v3m0 1v3m0 9v3m0 1v1m0 2v2m0 8v2m0 1v3m0 1v1m0 15v1m0 1v1m0 1v1m0 2v3m0 13v1M345.5 47v1m0 2v1m0 8v4m0 2v1m0 41v1m0 11v1m0 7v1m0 1v1m0 2v1m0 10v1m0 1v2m0 4v1m0 1v1m0 10v3m0 22v2m0 10v1m0 2v1M346.5 92v2m0 8v1m0 7v3m0 10v3m0 1v2m0 4v2m0 29v3m0 6v1m0 27v3M347.5 93v1m0 8v1m0 24v2m0 31v1m0 10v2m0 1v2m0 25v1m0 4v1M348.5 84v1m0 15v1m0 15v1m0 10v4m0 20v2m0 20v1m0 25v1m0 3v2m0 1v2M349.5 67v1m0 16v1m0 47v1m0 3v1m0 5v2m0 45v1m0 4v1m0 3v2m0 2v1m0 2v1m0 1v1M350.5 132v1m0 5v2m0 26v1m0 28v7m0 5v1M351.5 70v2m0 32v1m0 27v1m0 1v3m0 2v1m0 6v2m0 55v2m0 2v1M352.5 47v1m0 12v1m0 1v3m0 31v3m0 4v1m0 1v1m0 16v1m0 1v2m0 22v1m0 33v4m0 8v1m0 12v2M353.5 51v12m0 15v2m0 16v1m0 6v3m0 4v4m0 34v1m0 6v1m0 3v2m0 12v5m0 3v1m0 1v2m0 12v2m0 1v4m0 3v2M354.5 51v2m0 8v1m0 12v1m0 18v1m0 9v2m0 8v3m0 31v1m0 7v1m0 2v1m0 13v4m0 26v3m0 2v3M355.5 49v4m0 9v1m0 49v2m0 10v2m0 1v1m0 4v2m0 10v1m0 1v2m0 5v1m0 1v2m0 15v1m0 30v2m0 2v2M356.5 48v1m0 1v2m0 16v1m0 43v3m0 3v4m0 9v2m0 11v1m0 2v1m0 4v1m0 20v1m0 29v2m0 4v1M357.5 47v2m0 2v1m0 18v1m0 1v2m0 9v2m0 35v1m0 9v1m0 1v3m0 9v1m0 5v3m0 1v1m0 8v3m0 7v1m0 29v3m0 2v1M358.5 47v2m0 2v2m0 17v1m0 11v3m0 8v3m0 35v1m0 1v2m0 18v2m0 1v1m0 7v1m0 38v2m0 1v3M359.5 51v1m0 7v1m0 28v1m0 4v2m0 1v4m0 2v1m0 12v1m0 16v3m0 28v1m0 1v2m0 43v1M360.5 125v3m0 4v1m0 31v1m0 45v1M361.5 50v1m0 3v2m0 28v1m0 36v1m0 4v1m0 34v1m0 21v1m0 1v2m0 19v2M362.5 83v2m0 41v2m0 1v1m0 2v2m0 13v1m0 14v1m0 43v2m0 1v2M363.5 75v5m0 8v1m0 29v1m0 7v1m0 22v1m0 22v1m0 37v1M364.5 72v5m0 2v1m0 8v1m0 33v2m0 18v1m0 2v1m0 2v2m0 60v1m0 1v1M365.5 72v1m0 3v2m0 1v1m0 4v1m0 1v1m0 36v2m0 10v6m0 3v1m0 44v2m0 17v1m0 3v1M366.5 60v1m0 6v1m0 16v1m0 2v1m0 24v1m0 25v3m0 2v1m0 39v1m0 2v1m0 1v5m0 2v2m0 15v1M367.5 53v2m0 1v1m0 2v2m0 3v1m0 2v1m0 16v2m0 1v1m0 1v4m0 2v1m0 10v1m0 1v1m0 12v2m0 20v1m0 41v2m0 24v2M368.5 56v7m0 26v3m0 13v3m0 4v1m0 6v1m0 24v2m0 66v2M369.5 54v2m0 4v1m0 29v2m0 9v1m0 11v1m0 22v2m0 25v2m0 1v1m0 7v1m0 3v1m0 13v1m0 19v2M370.5 54v1m0 4v1m0 7v1m0 18v2m0 23v2m0 1v1m0 14v2m0 1v1m0 9v3m0 17v1m0 1v1m0 3v1m0 2v1m0 1v2m0 1v1m0 14v2m0 19v2M371.5 52v2m0 5v1m0 6v1m0 9v3m0 31v1m0 7v2m0 6v3m0 18v1m0 15v3m0 6v2m0 15v2m0 1v2m0 19v1M372.5 52v1m0 1v2m0 1v3m0 45v1m0 12v3m0 1v1m0 1v2m0 4v1m0 8v1m0 29v6m0 14v1M373.5 51v2m0 2v1m0 1v3m0 1v1m0 41v2m0 22v3m0 1v1m0 8v2m0 10v1m0 15v2m0 11v2m0 4v2m0 12v1m0 1v2m0 2v1m0 4v1M374.5 52v1m0 5v1m0 4v1m0 22v2m0 1v2m0 1v6m0 1v1m0 28v1m0 1v2m0 4v2m0 2v2m0 15v1m0 15v2m0 8v4m0 1v1m0 5v4m0 1v3m0 2v4m0 5v4M375.5 52v5m0 1v1m0 27v1m0 2v2m0 24v1m0 12v2m0 17v1m0 1v1m0 1v1m0 1v2m0 1v3m0 11v3m0 1v2m0 1v2m0 6v5m0 14v1m0 8v2M376.5 52v1m0 24v2m0 9v5m0 9v2m0 24v2m0 17v2m0 20v3m0 1v2m0 11v3m0 13v1m0 1v2M377.5 70v1m0 4v2m0 2v1m0 12v2m0 17v1m0 17v1m0 14v4m0 1v1m0 11v3m0 2v1m0 6v4m0 3v1m0 24v1m0 2v1M378.5 56v5m0 3v2m0 13v2m0 2v1m0 19v1m0 1v3m0 1v1m0 1v1m0 5v1m0 12v2m0 13v2m0 19v1m0 6v3m0 27v3M379.5 57v2m0 25v2m0 13v1m0 4v1m0 1v2m0 27v5m0 5v1m0 26v1m0 1v1m0 28v1m0 10v2M380.5 53v5m0 44v1m0 2v3m0 1v1m0 25v4m0 4v3m0 4v1m0 23v1m0 35v5M381.5 54v2m0 12v2m0 12v1m0 41v1m0 4v1m0 13v1m0 2v1m0 5v2m0 21v2m0 32v2m0 1v1M382.5 58v1m0 8v3m0 4v3m0 4v1m0 26v1m0 9v1m0 25v1m0 1v1m0 5v1m0 38v1m0 1v1m0 21v1M383.5 68v2m0 31v1m0 5v2m0 10v3m0 2v1m0 15v1m0 3v1m0 6v1m0 2v1m0 12v4m0 20v1m0 7v2m0 14v1M384.5 72v1m0 34v2m0 18v5m0 20v1m0 15v1m0 22v1m0 6v3m0 6v1m0 7v1M385.5 76v3m0 3v1m0 3v2m0 29v3m0 7v6m0 32v1m0 1v1m0 12v2m0 8v4m0 17v1m0 2v1m0 2v2M386.5 82v3m0 2v1m0 27v1m0 1v3m0 8v2m0 5v2m0 2v2m0 10v1m0 2v1m0 10v4m0 11v2m0 9v3m0 18v2m0 4v1M387.5 65v1m0 16v3m0 2v1m0 31v2m0 10v3m0 5v1m0 10v1m0 16v3m0 22v1m0 24v2M388.5 61v2m0 2v1m0 3v1m0 12v2m0 35v2m0 10v1m0 1v1m0 5v2m0 9v1m0 7v3m0 6v3m0 10v3m0 14v2m0 3v1m0 1v1m0 2v1m0 10v1M389.5 65v1m0 9v2m0 3v1m0 2v1m0 11v1m0 1v1m0 2v1m0 12v2m0 6v2m0 10v1m0 3v1m0 3v1m0 18v3m0 4v3m0 8v1m0 1v1m0 3v2m0 11v2m0 3v1m0 2v2M390.5 76v1m0 3v7m0 12v2m0 7v2m0 1v2m0 1v1m0 9v1m0 5v1m0 10v2m0 1v1m0 15v1m0 6v1m0 4v2m0 31v4m0 8v1M391.5 76v2m0 3v1m0 6v2m0 22v1m0 1v1m0 9v1m0 1v2m0 2v1m0 7v2m0 8v2m0 6v2m0 1v1m0 27v2m0 27v1M392.5 86v1m0 1v2m0 3v1m0 7v2m0 14v1m0 11v1m0 5v2m0 10v2m0 16v1m0 46v2m0 2v1M393.5 62v1m0 30v1m0 33v2m0 2v2m0 1v1m0 13v5m0 23v1m0 31v2m0 6v1M394.5 93v4m0 4v1m0 29v1m0 2v1m0 12v1m0 22v2m0 36v1M395.5 61v2m0 20v1m0 47v1m0 75v5m0 2v2M396.5 68v1m0 31v1m0 8v1m0 40v1m0 60v2M397.5 64v1m0 2v2m0 13v1m0 5v3m0 6v1m0 1v2m0 8v1m0 20v1m0 67v1M398.5 60v1m0 1v1m0 2v5m0 11v1m0 4v1m0 1v1m0 2v1m0 14v1m0 2v1m0 1v1m0 3v1m0 9v2m0 1v1m0 2v2m0 32v1m0 8v2m0 5v3m0 15v1m0 1v1m0 11v1M399.5 59v1m0 1v1m0 3v1m0 3v1m0 18v1m0 1v3m0 1v1m0 28v2m0 1v1m0 6v1m0 47v2m0 1v1m0 14v1m0 7v3m0 1v1m0 1v1M400.5 66v3m0 1v2m0 20v3m0 3v1m0 12v3m0 70v2m0 13v1m0 9v1m0 3v2M401.5 66v5m0 2v1m0 19v3m0 3v2m0 1v1m0 9v3m0 1v2m0 63v1m0 2v2m0 10v1m0 1v1M402.5 65v4m0 24v2m0 6v1m0 12v3m0 2v1m0 15v1m0 20v1m0 28v1m0 10v1m0 10v1M403.5 65v1m0 11v1m0 15v2m0 1v1m0 17v3m0 5v1m0 2v2m0 29v1m0 3v1m0 17v1m0 6v1m0 10v2m0 5v1m0 4v2m0 2v1M404.5 76v1m0 36v5m0 4v2m0 33v1m0 19v1m0 18v1m0 13v3M405.5 86v2m0 30v1m0 2v2m0 15v1m0 18v1m0 2v2m0 1v2m0 12v1m0 8v1m0 7v3M406.5 120v1m0 2v1m0 14v1m0 17v1m0 8v1m0 4v1m0 4v2m0 33v2M407.5 61v2m0 8v3m0 87v4m0 4v2m0 2v1m0 1v1m0 1v1m0 3v1m0 25v1M408.5 70v1m0 2v2m0 92v3m0 7v1m0 18v2m0 1v2m0 1v1m0 6v2M409.5 75v1m0 39v2m0 13v1m0 2v1m0 29v1m0 5v1m0 4v1m0 18v1m0 1v1m0 3v1m0 9v2M410.5 76v1m0 39v1m0 2v1m0 50v1m0 22v1m0 16v1M411.5 75v1m0 19v1m0 28v3m0 1v1m0 78v4M412.5 75v1m0 18v2m0 24v1m0 4v1m0 2v1m0 73v3m0 2v1M413.5 71v1m0 11v1m0 10v2m0 25v1m0 3v1m0 6v1m0 5v1m0 1v1m0 7v6m0 15v1m0 1v1m0 29v1m0 3v1M414.5 65v6m0 1v3m0 11v1m0 8v2m0 42v3m0 2v1m0 5v3m0 3v3m0 3v2m0 7v1m0 1v1m0 8v3m0 15v1m0 1v1m0 1v2m0 1v1M415.5 69v2m0 3v2m0 10v1m0 9v1m0 1v1m0 1v1m0 51v1m0 8v1m0 1v2m0 16v2m0 7v2m0 6v4m0 5v1M416.5 69v3m0 1v1m0 22v1m0 3v1m0 13v2m0 74v2m0 11v1M417.5 73v1m0 7v4m0 18v1m0 14v1m0 1v3m0 69v1m0 13v1M418.5 80v1m0 36v1m0 2v1m0 25v3m0 19v1m0 1v1m0 5v1m0 15v1m0 9v2M419.5 132v1m0 13v2m0 28v2m0 17v4m0 6v1M420.5 118v2m0 12v4m0 9v1m0 2v4m0 11v3m0 6v1m0 8v1m0 1v3m0 19v2M421.5 108v2m0 9v6m0 3v2m0 9v1m0 24v2m0 16v1m0 1v2m0 19v1M422.5 92v1m0 27v2m0 1v1m0 2v1m0 2v1m0 29v1m0 3v1m0 2v1m0 17v2m0 18v2M423.5 74v1m0 4v2m0 11v2m0 31v1m0 58v2M424.5 66v1m0 10v2m0 37v3m0 13v6m0 3v4m0 1v1m0 8v1m0 28v2m0 7v2m0 5v2M425.5 66v3m0 8v2m0 8v1m0 46v2m0 6v1m0 1v1m0 2v4m0 42v1m0 4v4M426.5 66v1m0 13v2m0 1v1m0 1v3m0 3v2m0 23v1m0 4v1m0 54v1m0 11v1m0 2v1m0 6v5M427.5 77v1m0 2v2m0 9v1m0 27v4m0 38v1M428.5 80v2m0 10v1m0 1v1m0 3v4m0 6v2m0 92v1M429.5 93v1m0 2v1m0 2v1m0 14v2m0 21v1m0 1v1m0 6v1m0 26v2m0 15v1m0 10v1M430.5 71v1m0 24v1m0 1v2m0 24v3m0 10v1m0 7v1m0 1v1m0 7v3m0 28v1m0 3v3m0 5v1M431.5 127v2m0 1v1m0 10v1m0 6v2m0 4v1m0 1v1m0 3v1m0 38v3M432.5 69v1m0 58v1m0 26v1m0 1v2m0 4v1m0 3v1m0 32v2M433.5 77v2m0 19v1m0 21v1m0 35v2m0 42v1M434.5 79v1m0 2v3m0 13v2m0 3v2m0 4v1m0 27v1m0 2v5m0 11v3m0 41v1M435.5 96v1m0 6v1m0 5v1m0 8v1m0 24v1m0 15v1m0 10v1M436.5 81v1m0 17v1m0 2v1m0 2v2m0 31v1m0 30v1m0 23v3m0 3v1M437.5 99v2m0 1v1m0 11v2m0 1v1m0 4v1m0 42v5m0 16v3m0 4v1m0 1v1M438.5 102v1m0 9v1m0 11v1m0 44v3m0 15v1m0 3v1m0 1v1m0 4v1M439.5 77v2m0 23v1m0 8v1m0 3v1m0 10v3m0 35v4m0 1v2m0 11v2m0 4v1m0 9v1M440.5 111v1m0 23v1m0 9v4m0 1v3m0 6v2m0 2v3m0 2v1m0 2v3m0 3v6m0 1v3m0 8v3M441.5 81v2m0 77v4m0 13v4m0 1v1m0 3v1m0 9v2M442.5 78v1m0 1v2m0 15v1m0 1v1m0 9v1m0 9v1m0 8v2m0 47v1m0 1v1m0 4v1m0 11v1M443.5 78v1m0 1v2m0 2v1m0 11v4m0 17v1m0 2v1m0 1v2m0 1v1m0 1v4m0 24v2m0 23v1m0 3v3m0 1v1M444.5 97v4m0 2v4m0 9v1m0 7v4m0 2v6m0 20v2m0 37v1M445.5 99v1m0 3v2m0 14v1m0 6v1m0 4v5m0 5v3M446.5 74v2m0 1v1m0 19v3m0 1v1m0 17v1m0 6v2m0 2v2m0 1v3m0 5v2m0 8v1m0 3v1m0 7v1m0 4v1m0 22v5M447.5 84v1m0 12v2m0 8v4m0 19v6m0 6v1m0 8v1m0 41v1M448.5 83v2m0 3v1m0 1v2m0 4v2m0 17v1m0 15v1m0 22v1m0 31v1m0 5v1M449.5 83v2m0 5v3m0 3v2m0 1v2m0 15v1m0 40v1m0 9v1M450.5 91v1m0 2v1m0 17v5m0 1v2m0 2v1m0 12v1m0 1v1m0 10v1m0 18v1M451.5 73v3m0 1v1m0 1v1m0 39v5m0 12v2m0 32v3m0 1v2m0 13v1m0 1v1M452.5 73v2m0 4v1m0 39v3m0 3v2m0 3v1m0 11v1m0 27v7m0 14v1M453.5 73v2m0 2v2m0 2v1m0 2v1m0 23v2m0 65v1m0 15v1M454.5 78v3m0 1v2m0 1v1m0 7v2m0 4v1m0 3v1m0 2v1m0 18v1m0 4v2m0 17v2m0 23v2m0 11v5M455.5 79v3m0 1v2m0 7v8m0 3v1m0 15v1m0 24v1m0 29v3m0 13v2M456.5 95v3m0 54v1m0 21v2M457.5 92v1m0 2v1m0 64v2m0 17v1m0 10v1M458.5 91v3m0 5v2m0 6v7m0 1v1m0 8v1m0 38v2m0 1v1m0 22v1M459.5 92v2m0 15v3m0 17v2m0 33v2m0 19v3M460.5 81v1m0 1v2m0 1v1m0 1v1m0 2v2m0 4v1m0 32v1m0 19v2m0 12v1M461.5 79v1m0 7v1m0 17v1m0 22v3m0 1v1m0 5v2m0 23v1m0 23v1M462.5 86v1m0 30v2m0 9v2m0 8v4m0 8v1m0 20v1M463.5 86v1m0 1v2m0 7v1m0 10v1m0 2v1m0 16v2m0 17v1m0 7v1m0 12v1m0 19v1M464.5 83v1m0 1v1m0 10v1m0 2v1m0 14v1m0 1v1m0 7v1m0 3v2m0 30v1m0 1v1m0 3v1M465.5 83v1m0 1v3m0 7v2m0 1v1m0 22v4m0 18v3m0 1v3m0 24v1m0 7v3M466.5 84v1m0 5v2m0 29v4m0 1v1m0 15v1m0 1v1m0 1v1m0 3v1m0 15v2m0 13v3m0 2v1M467.5 84v2m0 4v1m0 1v3m0 4v2m0 6v1m0 4v4m0 7v2m0 19v1M468.5 81v1m0 8v1m0 2v2m0 9v1m0 39v1m0 18v3m0 8v1m0 8v3M469.5 94v1m0 8v4m0 23v3m0 7v1m0 3v1m0 20v1m0 16v2m0 1v2M470.5 79v1m0 3v1m0 1v1m0 8v1m0 4v1m0 1v1m0 18v1m0 9v1m0 2v1m0 25v1m0 8v3m0 10v1M471.5 79v1m0 11v2m0 1v1m0 5v2m0 2v1m0 26v5m0 30v5m0 14v1M472.5 80v1m0 8v2m0 1v1m0 4v1m0 1v2m0 2v2m0 25v5m0 45v1m0 3v1M473.5 98v2m0 4v1m0 7v2m0 67v1M474.5 99v1m0 3v1m0 21v2m0 12v1m0 42v1M475.5 101v1m0 1v1m0 21v2m0 46v2m0 6v2M476.5 91v1m0 8v6m0 12v1m0 15v1m0 13v1m0 2v1m0 20v1m0 3v1m0 5v1M477.5 105v2m0 11v2m0 14v1m0 1v2m0 16v1m0 23v1m0 3v2M478.5 88v3m0 20v1m0 24v1m0 43v1M479.5 124v1m0 28v1m0 7v1m0 10v1m0 1v4M480.5 130v2m0 3v2m0 15v2m0 19v3m0 1v3m0 1v1M481.5 93v1m0 5v1m0 11v1m0 22v2m0 2v3m0 12v2m0 17v2m0 5v1M482.5 94v1m0 1v1m0 37v1m0 18v2m0 17v2m0 5v1M483.5 95v2m0 19v1m0 37v2m0 14v3m0 5v1M484.5 99v2m0 12v1m0 5v1m0 37v1m0 12v2m0 7v1M485.5 112v2m0 10v1m0 7v1m0 24v1m0 1v1m0 2v2m0 11v1m0 3v1M486.5 124v2m0 2v2m0 44v2m0 1v1M487.5 89v1m0 1v1m0 17v1m0 15v2M488.5 99v1m0 2v1m0 5v2m0 1v1m0 13v1m0 44v2m0 1v5M489.5 89v1m0 29v1m0 23v1m0 22v1m0 5v2m0 3v1M490.5 108v1m0 14v1m0 14v1m0 12v1m0 1v2m0 17v2m0 1v2M491.5 89v1m0 18v1m0 14v1m0 6v2m0 1v1m0 1v1m0 1v1m0 14v2m0 20v3M492.5 84v2m0 3v2m0 30v2m0 1v1m0 4v8m0 4v1m0 10v3m0 1v1m0 5v3m0 2v1m0 1v3m0 1v4M493.5 85v1m0 6v1m0 16v1m0 7v1m0 5v1m0 10v2m0 1v1m0 15v1m0 21v1M494.5 86v1m0 1v2m0 4v2m0 13v1m0 1v1m0 5v2m0 20v3m0 12v1m0 19v1M495.5 95v2m0 9v2m0 2v2m0 5v1m0 1v1m0 16v1m0 5v1m0 6v3m0 2v3M496.5 95v2m0 12v2m0 37v4m0 1v4m0 17v1M497.5 90v4m0 3v1m0 28v1m0 2v1m0 19v3m0 4v3m0 1v2m0 4v1m0 2v1m0 3v3M498.5 95v1m0 2v1m0 30v3m0 14v3m0 3v4m0 13v2m0 3v1M499.5 93v1m0 16v1m0 21v2m0 4v2m0 5v4m0 21v1m0 2v2M500.5 91v2m0 8v1m0 13v1m0 1v2m0 20v2m0 5v1m0 20v1M501.5 105v2m0 65v2M502.5 108v1m0 51v3M503.5 108v2m0 3v1m0 22v2m0 17v1M504.5 89v3m0 26v3m0 19v2m0 13v2m0 1v2M505.5 104v2m0 34v2m0 11v1m0 14v4M506.5 93v1m0 11v1m0 22v2m0 40v2M507.5 93v3m0 9v1m0 15v2m0 16v1m0 2v1m0 26v1M508.5 105v1m0 1v2m0 12v3m0 15v2m0 1v1m0 1v1m0 25v1M509.5 104v2m0 11v1m0 3v1m0 17v5m0 26v1M510.5 105v1m0 8v4m0 2v1m0 45v1m0 1v2M511.5 95v1m0 10v1m0 6v4m0 12v1m0 4v3m0 29v1m0 1v1M512.5 100v1m0 5v1m0 6v2m0 18v3m0 15v2m0 13v3M513.5 99v1m0 6v1m0 20v1m0 5v1m0 1v1m0 10v2m0 1v3m0 13v2M514.5 100v4m0 1v3m0 19v1m0 4v1m0 8v2m0 8v1m0 2v1m0 3v1m0 6v2M515.5 97v3m0 3v3m0 10v1m0 8v2m0 2v1m0 21v3m0 13v1M516.5 99v1m0 4v1m0 9v1m0 1v1m0 9v1m0 3v1m0 1v1m0 1v2m0 2v4m0 4v2m0 5v1m0 1v1M517.5 103v2m0 20v2m0 10v1m0 16v1m0 11v1M518.5 94v2m0 5v3m0 21v2m0 10v3m0 4v2m0 20v1M519.5 94v2m0 41v1m0 1v4m0 1v1m0 2v1m0 17v2M520.5 94v1m0 59v1m0 2v2m0 6v1M521.5 164v2M522.5 100v2m0 4v1m0 45v1m0 11v1M523.5 153v2m0 8v2M524.5 96v2m0 24v1m0 1v1m0 17v2m0 10v1m0 1v1m0 5v2M525.5 97v1m0 14v1m0 1v3m0 32v1m0 4v1m0 6v3M526.5 96v1m0 1v1m0 45v4m0 11v1m0 3v1M527.5 93v3m0 2v3m0 1v1m0 33v2m0 8v2m0 12v1M528.5 104v1m0 15v1m0 3v1m0 8v1m0 2v2m0 10v1m0 1v1m0 11v1M529.5 100v1m0 32v1m0 1v1m0 26v1M530.5 145v1m0 14v3M531.5 160v1M532.5 118v5m0 8v2M533.5 117v1m0 2v1m0 1v2m0 7v3m0 24v2M534.5 109v3m0 6v1m0 39v1M535.5 158v2M536.5 158v2M537.5 155v3M538.5 157v1M539.5 112v1M540.5 112v1m0 44v1M541.5 99v2m0 1v1m0 8v5m0 33v1m0 7v1M542.5 102v1m0 8v2m0 3v1m0 17v2m0 10v3m0 2v1m0 3v1M543.5 113v3m0 15v1m0 23v2M544.5 130v2m0 15v4m0 4v2M545.5 146v2m0 1v1m0 5v1M546.5 114v3m0 22v1m0 14v2M547.5 152v1M548.5 106v2m0 5v1m0 1v1m0 23v2m0 11v1M549.5 101v3m0 1v1m0 11v2m0 19v2m0 11v2M550.5 103v3m0 12v1m0 17v3m0 11v4M551.5 103v1m0 2v1m0 28v2m0 1v1m0 11v4M552.5 101v1m0 30v2m0 13v1m0 2v3M553.5 139v1m0 11v2M554.5 115v1m0 10v2m0 10v1m0 12v2M555.5 119v1m0 31v1M556.5 111v2m0 37v2M557.5 109v1m0 1v2m0 37v2M558.5 104v1m0 1v1m0 1v6m0 34v3M559.5 104v3m0 6v2m0 5v2m0 24v3M560.5 105v1m0 15v3m0 1v2m0 20v1M561.5 107v1m0 13v2m0 24v2M562.5 110v1m0 8v1m0 1v1m0 20v1M563.5 142v1m0 5v1M564.5 113v1m0 4v2m0 8v2m0 1v2m0 10v1m0 3v2M565.5 112v7m0 13v3m0 8v4M566.5 111v7m0 9v2m0 4v3m0 10v2M567.5 112v1m0 2v2m0 10v1m0 5v2m0 4v1m0 6v1M568.5 110v1m0 1v2m0 8v3m0 5v1m0 5v2m0 7v1M569.5 110v2m0 11v1m0 2v1m0 4v1m0 4v2m0 6v1M570.5 108v2m0 6v1m0 27v1M571.5 107v3m0 3v1m0 2v1m0 3v1m0 3v1m0 19v2M572.5 113v1m0 2v1m0 3v5m0 19v1M573.5 112v2m0 3v1m0 1v1m0 3v1m0 18v1M574.5 106v1m0 4v2m0 4v1m0 23v1M575.5 116v4m0 19v1m0 1v2M576.5 116v3m0 1v1m0 18v1m0 1v1M577.5 116v4m0 19v1M578.5 116v2m0 1v1m0 19v1M579.5 115v4m0 21v1M580.5 108v2M581.5 110v1m0 28v2M582.5 129v1m0 1v2m0 5v2M583.5 114v2m0 22v1M584.5 113v1m0 22v3M585.5 135v1m0 2v2M586.5 134v1M587.5 120v2m0 11v2m0 1v1M588.5 120v2m0 1v1m0 9v1M589.5 135v3M590.5 114v2m0 21v1M591.5 115v1m0 12v1m0 7v1M592.5 114v3m0 9v3m0 6v2M593.5 113v2m0 4v2m0 14v2M594.5 121v2m0 12v1M595.5 121v1m0 6v2m0 2v3M596.5 121v1M597.5 122v1M598.5 121v1M599.5 116v1m0 3v1m0 9v1m0 2v1M600.5 131v1m0 1v1M601.5 132v1M602.5 132v1M603.5 132v1M604.5 129v2M605.5 129v1M606.5 127v4M607.5 128v2M609.5 128v2M610.5 128v2M611.5 128v2M612.5 128v1M613.5 127v2M614.5 122v1m0 2v3M615.5 122v3M616.5 123v1M618.5 121v3m0 1v1M619.5 123v1M620.5 121v4M621.5 122v2M622.5 123v2M623.5 123v2"/>
<path stroke="rgb(7,189,138)" d="M104.5 134v5M105.5 136v3M106.5 136v3M108.5 137v2M109.5 136v1m0 1v1M110.5 138v1M111.5 139v1M114.5 137v1m0 1v1M115.5 134v3m0 1v2M116.5 134v1m0 3v2M117.5 135v1m0 1v1m0 1v2M118.5 134v1m0 5v1M119.5 129v3m0 8v1M120.5 134v1m0 1v1m0 4v1M121.5 134v2m0 5v1M122.5 136v3m0 1v1M123.5 140v1M124.5 140v1M125.5 127v1m0 1v2m0 3v1m0 5v1M126.5 127v1m0 1v1m0 6v2m0 1v2m0 1v2M127.5 128v4m0 3v2m0 6v1M128.5 127v3m0 13v1M129.5 139v3M130.5 131v2m0 7v1M131.5 132v1m0 6v2M132.5 127v3m0 13v2M133.5 130v3m0 11v1M134.5 136v2M135.5 127v1m0 1v3m0 13v1M136.5 146v1M137.5 133v2m0 2v1m0 3v4M138.5 137v6m0 1v1M139.5 124v4m0 9v1m0 2v3m0 3v1M140.5 131v1m0 1v4m0 1v5m0 3v1M141.5 141v1m0 2v2M142.5 121v1m0 3v2m0 8v1m0 5v6M143.5 121v1m0 4v2m0 6v2m0 8v1m0 2v2M144.5 141v1m0 1v2m0 2v2M145.5 132v3M146.5 123v1m0 7v1m0 1v2m0 6v2M147.5 119v4m0 7v2m0 2v1m0 7v4m0 3v1M148.5 119v1m0 12v1m0 11v1m0 2v3M149.5 125v1m0 2v3m0 1v3M150.5 119v1m0 1v2m0 1v2m0 4v1m0 8v2m0 7v2M151.5 138v2m0 6v2M152.5 135v1m0 3v1m0 5v1M153.5 135v1m0 9v1M154.5 141v1m0 1v1m0 2v2m0 2v1M155.5 127v4m0 3v1m0 1v1m0 4v4m0 4v3M156.5 131v1m0 2v1m0 1v2m0 4v3m0 5v1M157.5 133v3m0 15v1M158.5 118v1m0 7v1m0 1v1m0 4v2m0 1v2m0 1v1M159.5 126v1m0 1v2m0 11v1m0 9v1M160.5 124v1m0 8v1m0 2v2m0 2v2m0 3v2m0 1v1m0 2v1M161.5 119v1m0 2v1m0 1v2m0 4v1m0 1v1M162.5 121v2m0 1v1m0 18v1m0 1v1m0 3v3M163.5 144v1m0 2v1m0 3v2M164.5 113v2m0 2v3m0 13v2m0 16v4M165.5 113v2m0 2v2m0 4v2m0 12v2m0 12v4M166.5 116v1m0 6v2m0 3v1m0 2v1m0 7v2m0 7v1M167.5 116v2m0 7v3m0 1v2m0 10v4m0 2v1M168.5 114v4m0 2v2m0 2v3m0 19v1m0 5v2M169.5 110v8m0 1v6m0 5v5m0 10v1m0 7v1m0 1v1M170.5 114v1m0 5v4m0 21v2M171.5 111v5m0 7v2m0 7v2m0 11v7M172.5 114v4m0 5v3m0 7v1m0 18v3M173.5 115v2m0 16v1m0 18v2M174.5 110v5m0 38v1m0 1v2M175.5 109v2m0 1v2m0 2v1m0 8v5m0 3v1m0 9v3m0 6v5M176.5 111v1m0 2v1m0 9v1m0 4v3m0 1v1m0 5v2m0 1v1m0 3v1m0 4v1m0 2v3M177.5 111v2m0 3v1m0 5v2m0 5v3m0 7v6m0 11v2M178.5 108v2m0 11v2m0 3v1m0 13v1m0 3v1m0 1v1m0 10v1M179.5 108v2m0 8v1m0 2v1m0 19v3m0 1v1m0 11v2M180.5 108v6m0 2v2m0 2v2m0 17v6m0 8v2m0 2v2M181.5 113v3m0 4v2m0 1v1m0 6v1m0 3v1m0 4v2m0 3v1m0 5v2m0 1v3M182.5 114v2m0 7v1m0 3v9m0 3v2m0 9v1m0 7v2M183.5 105v2m0 1v1m0 4v1m0 2v4m0 4v5m0 3v1m0 1v1m0 2v2m0 19v2M184.5 105v2m0 9v5m0 5v2m0 6v1m0 3v1m0 6v2m0 5v1M185.5 107v3m0 2v2m0 1v2m0 3v2m0 2v2m0 1v3m0 5v1m0 7v2m0 14v1M186.5 109v4m0 7v1m0 8v8m0 5v1m0 1v1m0 14v2M187.5 120v1m0 8v1m0 25v1M188.5 114v1m0 3v3m0 5v1m0 2v2m0 9v3m0 2v3m0 8v1m0 1v2M189.5 114v1m0 3v3m0 3v1m0 1v4m0 10v1m0 5v1m0 11v2M190.5 102v1m0 5v5m0 1v1m0 4v3m0 5v1m0 3v1m0 1v1m0 16v1m0 1v1m0 2v1m0 1v3M191.5 102v1m0 3v2m0 5v1m0 5v2m0 8v1m0 1v5m0 10v1m0 3v4M192.5 104v3m0 2v4m0 16v1m0 1v1m0 2v1m0 1v3m0 14v3m0 3v2M193.5 106v1m0 4v1m0 9v1m0 6v2m0 28v3M194.5 106v1m0 5v1m0 2v1m0 6v2m0 1v2m0 8v1m0 25v1M195.5 100v1m0 2v1m0 4v3m0 6v2m0 3v2m0 2v1m0 3v3m0 14v1m0 5v1m0 7v1M196.5 99v2m0 7v3m0 6v4m0 1v1m0 2v2m0 3v2m0 18v3m0 9v2M197.5 104v1m0 2v4m0 4v4m0 9v1m0 3v1m0 6v2m0 6v2m0 14v1M198.5 104v1m0 1v4m0 1v3m0 18v3m0 3v2m0 7v1m0 3v1m0 6v5M199.5 104v1m0 6v3m0 5v1m0 14v2m0 9v1m0 15v1M200.5 102v1m0 8v2m0 14v1m0 9v2m0 4v1m0 9v1m0 1v4m0 1v2M201.5 102v1m0 1v2m0 3v1m0 1v2m0 4v1m0 8v2m0 9v2m0 2v1m0 10v1m0 4v1m0 5v2M202.5 98v1m0 3v4m0 3v1m0 2v1m0 4v3m0 3v1m0 3v1m0 9v2m0 12v1m0 10v1m0 1v1M203.5 109v1m0 2v2m0 5v1m0 2v2m0 3v4m0 5v2m0 25v1M204.5 138v3m0 22v2M205.5 96v1m0 10v2m0 7v1m0 5v1m0 15v1m0 4v1m0 4v1m0 12v4M206.5 113v1m0 2v1m0 4v1m0 21v5m0 6v1m0 2v2M207.5 108v1m0 6v6m0 5v2m0 7v2m0 6v2m0 9v7M208.5 103v1m0 1v1m0 1v3m0 5v1m0 4v1m0 5v2m0 28v1m0 2v1m0 3v2M209.5 102v3m0 4v1m0 39v1m0 13v2M210.5 98v1m0 10v6m0 6v1m0 9v1m0 17v2m0 2v2m0 9v3M211.5 96v4m0 9v1m0 1v1m0 7v3m0 9v4m0 10v1m0 7v2m0 4v2m0 3v3M212.5 99v1m0 3v1m0 11v1m0 13v4m0 9v2m0 2v1m0 6v1m0 3v1m0 2v2m0 1v1m0 1v3M213.5 103v1m0 11v2m0 11v1m0 16v2m0 8v1m0 3v1m0 1v2m0 1v4M214.5 116v1m0 10v2m0 4v1m0 2v2m0 1v1m0 8v1m0 12v1M215.5 92v1m0 2v2m0 2v2m0 14v1m0 3v1m0 4v5m0 19v4m0 13v2M216.5 97v1m0 2v1m0 4v2m0 4v1m0 7v4m0 2v2m0 2v1m0 20v1m0 13v1m0 2v2M217.5 94v1m0 2v1m0 2v3m0 1v3m0 4v1m0 7v1m0 5v1m0 40v3M218.5 98v1m0 2v1m0 2v1m0 6v2m0 6v1m0 46v4M219.5 101v4m0 2v2m0 3v2m0 1v3m0 2v1m0 4v2m0 6v1m0 21v1m0 1v1m0 11v1M220.5 101v1m0 1v1m0 1v2m0 5v1m0 12v3m0 7v1M221.5 101v2m0 6v1m0 3v1m0 4v1m0 16v2m0 1v1m0 15v1m0 1v1m0 2v1m0 1v1m0 1v1m0 6v1M222.5 98v5m0 11v1m0 14v1m0 3v1m0 5v1m0 20v1m0 1v3m0 4v2M223.5 90v1m0 9v1m0 13v1m0 46v1m0 8v1M224.5 98v2m0 14v1m0 13v1m0 1v2m0 20v1m0 4v1m0 2v2m0 8v1M225.5 96v1m0 5v4m0 9v2m0 9v2m0 3v3m0 6v2m0 12v2m0 2v4m0 8v3M226.5 94v1m0 8v1m0 12v1m0 6v1m0 7v4m0 5v1m0 10v1m0 1v1m0 2v2m0 1v2m0 6v1m0 3v1M227.5 102v4m0 26v2m0 3v1m0 1v4m0 7v1m0 8v3m0 2v1m0 1v6M228.5 91v1m0 3v1m0 6v1m0 2v3m0 4v1m0 19v1m0 3v1m0 5v3m0 3v1m0 13v1m0 4v1m0 1v1m0 2v1M229.5 87v2m0 2v6m0 5v1m0 9v1m0 12v1m0 1v1m0 13v2m0 1v2m0 18v2m0 3v1m0 2v1M230.5 92v1m0 8v1m0 9v2m0 11v2m0 1v1m0 1v4m0 11v2m0 10v1m0 7v1M231.5 100v2m0 1v1m0 2v1m0 15v2m0 9v2m0 11v2m0 2v1m0 5v2m0 6v1m0 5v2M232.5 94v1m0 3v3m0 6v4m0 11v2m0 3v1m0 7v1m0 1v1m0 9v1m0 8v4m0 3v2m0 8v1M233.5 90v4m0 1v1m0 3v1m0 4v1m0 3v1m0 5v1m0 7v1m0 4v1m0 20v2m0 1v1m0 3v5m0 4v1m0 8v2M234.5 86v1m0 1v3m0 13v1m0 1v4m0 1v2m0 35v3m0 5v2m0 9v3m0 3v1M235.5 87v1m0 7v4m0 4v2m0 3v1m0 3v1m0 1v2m0 2v2m0 1v1m0 13v1m0 12v2m0 16v1m0 1v5M236.5 87v1m0 1v2m0 3v1m0 2v4m0 2v2m0 11v3m0 7v1m0 1v1m0 1v3m0 23v1m0 1v1m0 1v1m0 5v1m0 3v3M237.5 87v2m0 8v1m0 3v1m0 2v1m0 15v1m0 3v3m0 4v2m0 9v1m0 8v6m0 2v1m0 10v4M238.5 99v1m0 5v2m0 12v1m0 1v2m0 2v5m0 4v1m0 1v1m0 8v1m0 2v7m0 5v2m0 3v2m0 2v2M239.5 102v1m0 16v3m0 17v1m0 6v3m0 2v1m0 3v5m0 1v1m0 3v1m0 1v4M240.5 84v1m0 6v1m0 1v1m0 22v3m0 28v2m0 6v1m0 12v6M241.5 85v1m0 8v1m0 16v1m0 3v2m0 1v1m0 12v2m0 2v1m0 7v1m0 10v1m0 13v4m0 1v1M242.5 86v1m0 15v3m0 3v2m0 9v4m0 8v2m0 3v1m0 4v1m0 5v2m0 1v2m0 16v4M243.5 88v1m0 3v1m0 11v1m0 18v1m0 2v1m0 4v2m0 1v1m0 4v2m0 1v3m0 2v3m0 3v4m0 7v3M244.5 88v2m0 9v7m0 19v1m0 8v1m0 4v2m0 3v2m0 2v1m0 16v1m0 6v1M245.5 97v4m0 21v3m0 6v1m0 12v1m0 1v3m0 1v1m0 5v2m0 1v1m0 11v2M246.5 89v1m0 7v1m0 18v1m0 8v1m0 1v1m0 2v1m0 12v1m0 5v3m0 5v2m0 4v1m0 3v2m0 6v1m0 1v1M247.5 88v3m0 10v3m0 9v4m0 2v1m0 4v2m0 1v1m0 1v3m0 2v1m0 7v1m0 14v3m0 2v1m0 12v2M248.5 88v3m0 3v1m0 6v3m0 1v2m0 1v2m0 17v1m0 7v1m0 4v3m0 3v1m0 13v1m0 2v1m0 3v1m0 5v2M249.5 82v2m0 4v2m0 3v3m0 4v2m0 1v2m0 3v1m0 1v1m0 16v1m0 1v1m0 5v1m0 9v1m0 2v1m0 1v1m0 3v1m0 5v2m0 1v4m0 1v1m0 2v3M250.5 79v2m0 2v1m0 5v1m0 1v1m0 2v1m0 5v3m0 3v1m0 2v1m0 16v3m0 1v1m0 4v1m0 5v1m0 7v1m0 1v1m0 7v1m0 3v2m0 9v1M251.5 80v2m0 10v3m0 5v2m0 5v2m0 1v1m0 1v1m0 3v1m0 2v1m0 1v4m0 1v1m0 9v1m0 25v1m0 1v1m0 7v2m0 1v3M252.5 92v7m0 15v2m0 2v3m0 4v1m0 3v1m0 5v1m0 3v3m0 1v1m0 21v1m0 8v1M253.5 78v3m0 3v2m0 2v2m0 2v3m0 3v1m0 14v1m0 5v1m0 1v1m0 2v2m0 1v3m0 5v1m0 13v1m0 11v2m0 14v3M254.5 74v2m0 9v2m0 6v1m0 6v1m0 3v2m0 8v4m0 4v3m0 3v1m0 5v3m0 3v1m0 4v1m0 2v2m0 11v1m0 15v2M255.5 84v1m0 8v1m0 3v2m0 1v1m0 5v1m0 11v1m0 5v1m0 1v1m0 5v2m0 1v1m0 1v2m0 7v1m0 20v1m0 7v2m0 1v1M256.5 83v2m0 9v1m0 3v1m0 1v1m0 12v1m0 4v2m0 4v1m0 1v1m0 5v1m0 1v1m0 2v2m0 10v2m0 1v1m0 2v2m0 4v1m0 3v3m0 7v1m0 1v4M257.5 90v2m0 6v1m0 1v1m0 13v2m0 1v1m0 3v2m0 1v1m0 17v2m0 2v1m0 10v1m0 7v1m0 8v2m0 1v2M258.5 88v3m0 1v1m0 1v1m0 5v1m0 11v4m0 2v1m0 9v3m0 1v2m0 22v1m0 6v1m0 10v2m0 2v1M259.5 78v2m0 8v2m0 14v4m0 10v1m0 20v2m0 1v1m0 10v1m0 23v2M260.5 79v1m0 1v1m0 5v3m0 21v2m0 8v2m0 27v1m0 1v2m0 23v2M261.5 78v1m0 22v3m0 1v1m0 14v1m0 1v1m0 7v1m0 17v3m0 3v1m0 3v2m0 1v1m0 3v2m0 4v1M262.5 74v3m0 1v2m0 8v1m0 9v2m0 18v2m0 3v1m0 3v1m0 4v2m0 3v1m0 11v1m0 1v1m0 8v1m0 1v1m0 1v1m0 6v1m0 3v2m0 4v1M263.5 76v1m0 8v1m0 2v1m0 1v2m0 2v1m0 3v1m0 3v3m0 7v1m0 11v3m0 5v1m0 2v1m0 8v1m0 7v1m0 12v1m0 1v1m0 3v1m0 3v1m0 5v2M264.5 76v1m0 7v5m0 3v3m0 28v1m0 4v1m0 5v1m0 2v2m0 3v2m0 27v2m0 3v2m0 2v3M265.5 75v1m0 6v1m0 1v2m0 6v2m0 26v3m0 5v1m0 12v2m0 10v1m0 1v2m0 19v4m0 2v1M266.5 74v1m0 1v1m0 9v1m0 2v2m0 1v2m0 26v1m0 1v1m0 5v1m0 26v3m0 18v2m0 1v1m0 2v1M267.5 77v2m0 7v1m0 5v2m0 10v3m0 4v1m0 4v1m0 1v1m0 2v4m0 7v3m0 15v2m0 2v1m0 20v1m0 1v2m0 4v1M268.5 80v1m0 4v1m0 11v2m0 1v1m0 3v3m0 5v1m0 4v2m0 7v2m0 2v1m0 9v1m0 1v4m0 14v1m0 1v2m0 5v1m0 4v6m0 2v1M269.5 83v1m0 13v2m0 6v1m0 12v2m0 3v1m0 2v3m0 5v2m0 19v1m0 5v1m0 19v3M270.5 78v2m0 14v1m0 2v1m0 7v3m0 42v3m0 3v1m0 5v1m0 4v1m0 15v1M271.5 69v3m0 2v1m0 4v1m0 11v1m0 2v1m0 9v2m0 1v1m0 5v2m0 15v2m0 2v2m0 6v3m0 3v1m0 1v1m0 12v1m0 9v1m0 9v2M272.5 70v2m0 14v2m0 9v1m0 8v4m0 7v1m0 10v1m0 1v3m0 2v1m0 6v1m0 9v3m0 8v1m0 4v5m0 3v3m0 5v1M273.5 70v3m0 5v1m0 4v1m0 2v2m0 6v1m0 5v1m0 9v1m0 5v2m0 13v1m0 9v2m0 1v4m0 7v1m0 7v2M274.5 71v1m0 2v1m0 2v1m0 8v1m0 2v1m0 27v1m0 25v3m0 10v2m0 5v2m0 18v3M275.5 68v2m0 15v2m0 2v1m0 30v3m0 17v1m0 4v1m0 19v1m0 17v4M276.5 80v2m0 3v2m0 9v3m0 45v1m0 10v1m0 5v3m0 11v1m0 7v4M277.5 81v1m0 7v2m0 8v4m0 7v2m0 2v2m0 1v2m0 7v2m0 4v2m0 1v3m0 32v1m0 7v1m0 1v2m0 2v1M278.5 73v1m0 26v3m0 7v2m0 1v2m0 3v1m0 11v1m0 3v5m0 12v2m0 1v1m0 6v2m0 4v2m0 1v1m0 5v1m0 4v1M279.5 88v1m0 3v5m0 4v3m0 1v1m0 1v1m0 1v1m0 1v7m0 1v3m0 2v1m0 6v2m0 1v3m0 1v2m0 5v1m0 6v4m0 11v1m0 13v2m0 1v4M280.5 73v1m0 6v1m0 3v1m0 5v1m0 3v3m0 2v1m0 5v1m0 1v3m0 2v1m0 2v1m0 11v2m0 2v3m0 1v1m0 1v5m0 4v1m0 12v2m0 10v1m0 6v3m0 4v2M281.5 73v2m0 11v3m0 23v1m0 1v1m0 13v1m0 1v1m0 1v2m0 6v4m0 14v6m0 8v1m0 3v9m0 1v2M282.5 69v1m0 8v2m0 8v1m0 17v1m0 3v1m0 3v2m0 8v2m0 16v3m0 13v5m0 1v1m0 2v1m0 4v1m0 5v1m0 6v2M283.5 84v3m0 2v1m0 13v3m0 7v1m0 4v1m0 3v1m0 1v2m0 11v1m0 1v2m0 4v1m0 12v3m0 1v3m0 3v3m0 1v8m0 1v1M284.5 66v2m0 12v1m0 3v1m0 10v2m0 2v2m0 1v1m0 14v1m0 4v3m0 14v1m0 7v1m0 9v4m0 2v4m0 2v1m0 4v1m0 3v2m0 7v2M285.5 65v1m0 12v1m0 6v1m0 4v1m0 26v1m0 1v1m0 1v1m0 1v1m0 8v3m0 1v1m0 1v1m0 3v1m0 2v1m0 10v1m0 2v1m0 19v1m0 6v4M286.5 79v2m0 2v1m0 1v2m0 3v1m0 1v1m0 2v1m0 1v1m0 1v1m0 1v1m0 15v1m0 6v1m0 5v1m0 1v1m0 2v3m0 5v1m0 34v2m0 6v2M287.5 72v1m0 9v2m0 1v2m0 3v1m0 7v2m0 5v3m0 17v2m0 1v1m0 2v1m0 12v1m0 18v1m0 3v1m0 1v1m0 6v2m0 6v2m0 2v1M288.5 64v1m0 3v1m0 3v1m0 9v5m0 6v5m0 1v1m0 2v1m0 2v1m0 3v1m0 15v3m0 5v1m0 10v1m0 12v1m0 5v7m0 10v2m0 4v3M289.5 72v3m0 1v1m0 3v1m0 2v1m0 9v2m0 3v1m0 12v1m0 3v2m0 7v2m0 9v1m0 12v2m0 6v2m0 5v4m0 8v1m0 5v3m0 2v3M290.5 63v1m0 16v1m0 2v1m0 6v1m0 33v1m0 6v4m0 9v1m0 8v1m0 3v2m0 7v1m0 7v2m0 4v1m0 2v1m0 3v3M291.5 62v3m0 1v2m0 4v2m0 6v1m0 3v1m0 5v3m0 5v1m0 6v1m0 1v1m0 3v1m0 17v1m0 1v3m0 4v1m0 3v1m0 7v2m0 1v2m0 1v1m0 1v1m0 3v4m0 8v3m0 3v1m0 1v1m0 4v3M292.5 64v2m0 15v1m0 3v1m0 4v6m0 4v4m0 1v1m0 5v1m0 3v4m0 2v2m0 5v4m0 1v2m0 2v1m0 17v1m0 3v1m0 5v1m0 1v2m0 6v2m0 2v8m0 2v2M293.5 63v1m0 11v1m0 13v2m0 2v1m0 1v1m0 5v2m0 11v3m0 5v2m0 5v5m0 2v1m0 1v1m0 13v1m0 1v2m0 3v1m0 2v2m0 2v3m0 2v1m0 2v3m0 1v2m0 2v4m0 1v1M294.5 66v1m0 3v1m0 1v2m0 14v3m0 2v2m0 1v3m0 3v1m0 9v1m0 17v4m0 1v1m0 1v2m0 14v1m0 9v2m0 1v5m0 1v1m0 1v1m0 1v2M295.5 61v1m0 1v1m0 11v2m0 10v2m0 1v1m0 2v5m0 1v1m0 1v1m0 14v3m0 17v2m0 11v1m0 16v2m0 10v1m0 3v2M296.5 60v2m0 18v2m0 6v1m0 8v3m0 6v6m0 1v1m0 1v2m0 7v1m0 12v1m0 16v1m0 23v3m0 2v1m0 2v1m0 1v1M297.5 60v1m0 3v1m0 15v2m0 24v2m0 6v2m0 7v1m0 29v3m0 19v1m0 1v1m0 1v1m0 3v1m0 1v1m0 1v2M298.5 64v1m0 5v2m0 8v3m0 19v1m0 1v1m0 6v1m0 1v1m0 7v3m0 29v3m0 7v2m0 7v3m0 1v2m0 4v2m0 3v2M299.5 64v2m0 4v2m0 7v2m0 1v1m0 9v1m0 9v2m0 9v5m0 3v1m0 10v1m0 4v1m0 11v2m0 2v2m0 1v4m0 4v1m0 3v1m0 8v2m0 4v1m0 1v9M300.5 58v1m0 3v2m0 7v1m0 6v2m0 4v1m0 2v1m0 25v4m0 17v1m0 1v1m0 12v1m0 10v4m0 8v1m0 1v1m0 2v1m0 5v1M301.5 61v4m0 5v2m0 1v1m0 4v1m0 4v1m0 4v1m0 10v3m0 3v1m0 4v2m0 3v1m0 9v1m0 5v2m0 1v2m0 4v2m0 19v3m0 19v1M302.5 79v1m0 8v2m0 7v1m0 11v1m0 16v1m0 1v3m0 10v1m0 1v4m0 3v2m0 8v2m0 1v1m0 19v1m0 2v1m0 5v2M303.5 88v2m0 2v1m0 6v1m0 7v2m0 1v1m0 4v1m0 5v4m0 3v1m0 1v2m0 19v1m0 7v6m0 18v2m0 1v1m0 3v2M304.5 60v1m0 19v1m0 9v3m0 2v1m0 8v1m0 1v4m0 5v2m0 7v1m0 6v1m0 2v1m0 17v1m0 7v1m0 2v1m0 1v3m0 2v3m0 11v2m0 4v2M305.5 60v1m0 10v1m0 6v1m0 1v2m0 8v1m0 3v1m0 7v1m0 5v2m0 4v4m0 1v1m0 4v1m0 23v1m0 4v1m0 3v1m0 1v1m0 3v4m0 4v3m0 12v2m0 1v1m0 1v2M306.5 58v3m0 3v1m0 1v1m0 3v3m0 3v1m0 13v1m0 2v4m0 1v1m0 4v2m0 3v2m0 7v3m0 5v1m0 5v2m0 9v1m0 4v2m0 8v1m0 8v1m0 24v2M307.5 64v1m0 4v1m0 1v2m0 1v4m0 13v2m0 1v5m0 1v3m0 4v1m0 1v4m0 19v1m0 1v1m0 1v2m0 6v5m0 2v1m0 4v2m0 6v3m0 25v1M308.5 58v1m0 1v2m0 5v1m0 5v3m0 2v2m0 18v1m0 2v1m0 1v1m0 2v3m0 1v1m0 5v1m0 14v1m0 3v2m0 1v1m0 1v3m0 1v5m0 6v2m0 3v2m0 2v1m0 4v3m0 18v1m0 2v2M309.5 53v5m0 16v2m0 4v2m0 5v3m0 3v2m0 3v1m0 10v3m0 16v2m0 6v3m0 2v1m0 1v2m0 7v2m0 1v1m0 8v1m0 15v2m0 13v1M310.5 56v4m0 2v1m0 23v1m0 3v2m0 5v1m0 1v1m0 10v3m0 22v3m0 2v1m0 3v1m0 6v1m0 2v1m0 9v3m0 2v1m0 10v2m0 4v3m0 6v2M311.5 59v1m0 3v1m0 19v3m0 1v1m0 1v1m0 5v5m0 4v3m0 19v2m0 3v4m0 1v2m0 16v4m0 7v5m0 13v3m0 8v1M312.5 70v2m0 17v2m0 15v1m0 11v1m0 4v1m0 6v1m0 7v1m0 24v1m0 1v1m0 17v1m0 2v4m0 4v2M313.5 54v7m0 1v1m0 8v1m0 1v1m0 7v1m0 7v1m0 1v2m0 13v1m0 1v1m0 11v3m0 4v1m0 10v1m0 1v2m0 13v2m0 3v1m0 2v1m0 1v1m0 8v1m0 2v1m0 7v1m0 9v1M314.5 54v3m0 6v1m0 5v4m0 3v2m0 1v2m0 2v1m0 6v1m0 1v1m0 11v1m0 1v3m0 6v3m0 6v1m0 2v1m0 14v1m0 12v2m0 2v2m0 5v2m0 11v2m0 1v1m0 3v1m0 1v1m0 6v1M315.5 53v1m0 10v2m0 3v2m0 6v1m0 2v2m0 8v7m0 1v3m0 1v1m0 4v1m0 15v1m0 2v2m0 7v2m0 2v1m0 2v2m0 13v1m0 4v3m0 3v1m0 7v1m0 3v2m0 4v4m0 5v1M316.5 58v1m0 2v1m0 3v1m0 3v3m0 1v2m0 1v3m0 9v1m0 4v3m0 2v1m0 9v1m0 2v1m0 16v4m0 6v2m0 2v1m0 14v2m0 3v1m0 6v1m0 6v1m0 7v1m0 3v2m0 4v2M317.5 50v2m0 1v3m0 1v1m0 1v3m0 4v1m0 7v4m0 11v2m0 7v1m0 4v3m0 27v1m0 7v4m0 10v1m0 5v1m0 21v1m0 5v1m0 4v2M318.5 67v2m0 3v2m0 11v2m0 12v1m0 2v4m0 18v1m0 16v2m0 1v2m0 5v3m0 7v1m0 6v1m0 3v2m0 3v2m0 2v1m0 1v1m0 7v1M319.5 53v1m0 13v1m0 4v3m0 10v3m0 3v1m0 8v4m0 3v2m0 1v1m0 5v1m0 9v1m0 12v1m0 4v1m0 6v2m0 14v1m0 1v2m0 20v1M320.5 66v2m0 2v2m0 15v3m0 1v3m0 14v3m0 4v2m0 4v2m0 6v1m0 1v1m0 5v7m0 1v1m0 16v2m0 7v1m0 17v1m0 2v3M321.5 68v1m0 1v2m0 17v1m0 2v1m0 21v2m0 7v1m0 10v2m0 6v1m0 1v2m0 16v3m0 24v1m0 2v2m0 4v1M322.5 57v1m0 3v1m0 9v1m0 11v1m0 4v2m0 7v3m0 3v2m0 4v1m0 23v1m0 1v3m0 16v1m0 7v2m0 11v2m0 4v1m0 8v3m0 5v1M323.5 53v1m0 29v1m0 1v2m0 8v4m0 12v1m0 15v5m0 7v1m0 10v4m0 7v1m0 1v1m0 3v3m0 6v1m0 4v1m0 8v1m0 6v1M324.5 53v1m0 15v1m0 16v1m0 26v1m0 1v1m0 6v2m0 4v2m0 30v3m0 4v1m0 1v4m0 1v1m0 1v2m0 2v1m0 9v1m0 5v3M325.5 51v2m0 4v2m0 47v1m0 3v3m0 3v2m0 1v1m0 3v1m0 13v1m0 17v1m0 4v2m0 2v1m0 3v4m0 4v1m0 1v1m0 11v3m0 6v2M326.5 51v1m0 4v1m0 7v1m0 19v1m0 5v1m0 8v1m0 4v1m0 11v2m0 3v3m0 13v1m0 8v2m0 2v2m0 8v2m0 2v1m0 2v1m0 1v2m0 1v2m0 1v2m0 13v2m0 6v3M327.5 51v1m0 12v1m0 21v1m0 12v2m0 3v3m0 9v2m0 5v1m0 14v2m0 3v2m0 1v5m0 16v2m0 2v1m0 3v2m0 12v4m0 5v4M328.5 59v4m0 13v3m0 1v4m0 14v2m0 2v1m0 1v2m0 5v2m0 16v1m0 5v1m0 5v2m0 3v3m0 4v1m0 3v1m0 11v1m0 1v4m0 13v3m0 7v1M329.5 48v1m0 10v4m0 12v1m0 10v1m0 2v1m0 8v2m0 2v1m0 2v3m0 6v1m0 12v4m0 15v4m0 2v2m0 15v2m0 17v3M330.5 58v1m0 14v2m0 7v1m0 2v1m0 1v3m0 8v2m0 2v1m0 2v1m0 2v1m0 17v1m0 1v2m0 39v3m0 17v3m0 4v2M331.5 58v1m0 6v1m0 5v1m0 1v3m0 13v1m0 4v1m0 19v2m0 13v1m0 8v3m0 16v2m0 1v1m0 1v3m0 5v3m0 9v1m0 6v3m0 1v1m0 5v2M332.5 54v1m0 12v1m0 9v1m0 10v3m0 2v3m0 17v1m0 15v1m0 8v1m0 17v1m0 3v2m0 3v1m0 6v2m0 6v2M333.5 44v2m0 7v1m0 5v2m0 6v4m0 22v2m0 11v2m0 4v2m0 5v6m0 1v1m0 4v2m0 3v3m0 1v4m0 12v1m0 3v1m0 2v3m0 2v2m0 2v1m0 10v2m0 2v1m0 12v2M334.5 43v2m0 3v2m0 16v2m0 2v1m0 3v1m0 15v2m0 3v2m0 7v3m0 15v1m0 6v1m0 2v1m0 2v1m0 3v1m0 2v2m0 17v2m0 2v1m0 4v1m0 5v1m0 8v3m0 13v3M335.5 43v1m0 7v2m0 1v1m0 11v2m0 2v3m0 3v1m0 3v1m0 9v7m0 1v1m0 1v2m0 3v2m0 21v3m0 2v1m0 1v1m0 6v2m0 4v3m0 15v3m0 6v3m0 18v1m0 4v1M336.5 52v2m0 1v1m0 4v1m0 11v1m0 2v1m0 5v2m0 6v3m0 3v2m0 1v1m0 3v3m0 2v1m0 14v3m0 2v3m0 12v4m0 6v1m0 8v1m0 4v1m0 9v1m0 2v1m0 12v1m0 1v1m0 1v2m0 2v3M337.5 47v1m0 14v2m0 6v1m0 1v1m0 8v3m0 5v2m0 5v1m0 1v1m0 3v3m0 15v1m0 1v1m0 2v3m0 1v1m0 7v3m0 1v5m0 11v1m0 17v1m0 1v3m0 11v1m0 3v3m0 3v2M338.5 48v1m0 19v4m0 3v1m0 3v6m0 11v3m0 1v1m0 3v1m0 3v3m0 15v2m0 7v1m0 6v4m0 10v1m0 3v2m0 2v2m0 14v2m0 5v1m0 2v1m0 4v1m0 1v1m0 2v1M339.5 55v1m0 13v1m0 6v1m0 3v3m0 14v1m0 6v2m0 3v1m0 1v4m0 3v1m0 3v1m0 1v3m0 3v4m0 1v1m0 6v2m0 2v1m0 2v2m0 4v1m0 4v2m0 28v4m0 6v2M340.5 52v2m0 1v1m0 48v2m0 5v2m0 1v1m0 9v3m0 3v1m0 1v1m0 13v2m0 6v1m0 8v2m0 1v1m0 14v3m0 8v2m0 4v5M341.5 48v1m0 17v1m0 2v3m0 32v1m0 2v2m0 3v1m0 2v1m0 5v1m0 2v1m0 6v1m0 4v1m0 18v1m0 3v1m0 3v4M342.5 41v2m0 3v2m0 7v8m0 9v2m0 28v2m0 16v1m0 9v2m0 2v1m0 2v1m0 4v1m0 14v1m0 6v3m0 13v1m0 22v3M343.5 41v3m0 1v4m0 5v3m0 6v3m0 1v9m0 18v3m0 6v3m0 3v1m0 10v1m0 6v3m0 1v1m0 2v1m0 3v1m0 5v2m0 8v4m0 5v4m0 13v3m0 3v2m0 4v1m0 1v2m0 7v3M344.5 41v2m0 1v3m0 5v1m0 15v3m0 1v1m0 30v3m0 18v2m0 12v1m0 6v1m0 1v2m0 6v1m0 2v1m0 13v3m0 5v2m0 1v1m0 1v1m0 1v2m0 3v1m0 1v1m0 9v1M345.5 40v2m0 10v2m0 1v1m0 10v1m0 1v3m0 1v1m0 12v1m0 10v1m0 4v1m0 1v1m0 10v4m0 2v7m0 9v1m0 1v1m0 1v1m0 1v1m0 1v1m0 4v2m0 1v1m0 34v2m0 11v1m0 1v2M346.5 46v2m0 2v8m0 4v5m0 5v1m0 12v1m0 15v1m0 1v1m0 5v1m0 4v1m0 2v1m0 2v3m0 3v1m0 2v1m0 6v2m0 12v1m0 16v1m0 3v1m0 15v1m0 12v1m0 3v2M347.5 50v1m0 11v3m0 24v3m0 9v1m0 10v6m0 2v1m0 2v2m0 4v1m0 3v1m0 1v2m0 14v1m0 7v1m0 7v1m0 10v1m0 2v1m0 18v1m0 1v1M348.5 51v1m0 8v2m0 1v5m0 10v1m0 4v1m0 3v1m0 3v4m0 17v4m0 9v2m0 5v1m0 2v1m0 7v1m0 2v1m0 24v2m0 6v1m0 20v3m0 2v1M349.5 52v2m0 6v1m0 3v3m0 1v1m0 10v1m0 15v1m0 1v2m0 13v2m0 15v3m0 3v1m0 3v1m0 1v1m0 5v2m0 3v1m0 34v2m0 3v2m0 1v1m0 1v1m0 5v1m0 2v1M350.5 53v1m0 1v1m0 13v4m0 8v2m0 10v1m0 9v2m0 36v4m0 2v1m0 9v2m0 4v3m0 1v1m0 18v1m0 15v1m0 2v1M351.5 55v1m0 12v2m0 13v1m0 10v1m0 3v2m0 2v2m0 6v1m0 9v6m0 5v1m0 12v2m0 17v2m0 17v2m0 2v1m0 8v1m0 3v2m0 1v1M352.5 48v4m0 3v1m0 10v2m0 2v2m0 6v1m0 15v2m0 6v1m0 3v1m0 3v1m0 10v1m0 1v1m0 2v1m0 9v1m0 1v1m0 7v2m0 1v6m0 4v4m0 9v1m0 6v1m0 13v1m0 1v1m0 4v4m0 1v2M353.5 45v1m0 3v2m0 23v1m0 2v1m0 11v3m0 2v2m0 10v3m0 13v1m0 24v1m0 1v1m0 1v3m0 4v1m0 13v1m0 7v1m0 15v1m0 2v1m0 5v2M354.5 47v1m0 5v1m0 5v2m0 1v1m0 12v2m0 1v1m0 4v1m0 5v2m0 1v1m0 1v1m0 1v1m0 5v1m0 3v2m0 3v2m0 3v1m0 11v2m0 14v2m0 2v1m0 3v3m0 1v2m0 5v1m0 32v3M355.5 47v2m0 4v1m0 5v1m0 1v1m0 20v2m0 10v1m0 7v2m0 3v1m0 3v1m0 5v1m0 5v1m0 4v4m0 3v1m0 3v2m0 2v1m0 4v1m0 5v1m0 2v3m0 11v1m0 1v1m0 2v1m0 18v2m0 4v2m0 2v2M356.5 46v2m0 4v1m0 9v1m0 1v2m0 17v1m0 8v3m0 35v1m0 12v1m0 4v1m0 2v1m0 3v1m0 1v3m0 11v2m0 1v1m0 1v1m0 1v1m0 23v1M357.5 46v1m0 3v1m0 18v1m0 1v1m0 10v1m0 8v3m0 18v8m0 9v1m0 13v1m0 3v1m0 1v1m0 5v1m0 3v2m0 1v1m0 15v2m0 20v2m0 4v1M358.5 46v1m0 2v2m0 5v1m0 32v1m0 2v1m0 7v1m0 13v2m0 12v3m0 1v1m0 9v2m0 6v3m0 9v2m0 1v1m0 13v2m0 7v1m0 12v1m0 3v1M359.5 46v5m0 6v2m0 1v4m0 17v1m0 5v1m0 1v1m0 2v1m0 10v3m0 3v1m0 15v6m0 31v1m0 4v1m0 12v3m0 9v1m0 14v1m0 1v1M360.5 46v6m0 19v1m0 4v1m0 25v3m0 5v3m0 7v1m0 29v3m0 6v5m0 1v1m0 40v4M361.5 47v3m0 6v2m0 13v1m0 11v1m0 1v2m0 15v3m0 2v2m0 1v1m0 9v1m0 3v2m0 6v1m0 25v3m0 1v1m0 21v1m0 17v2m0 1v1M362.5 48v2m0 6v1m0 12v3m0 2v1m0 10v2m0 21v1m0 2v1m0 6v4m0 2v2m0 2v1m0 1v2m0 12v3m0 1v1m0 12v1m0 40v1M363.5 48v2m0 4v1m0 12v2m0 5v1m0 5v1m0 1v2m0 2v1m0 2v1m0 4v1m0 13v1m0 11v1m0 3v2m0 1v3m0 2v1m0 12v1m0 1v2m0 6v1m0 6v1m0 8v1m0 19v1m0 13v5M364.5 67v2m0 2v1m0 15v1m0 2v2m0 1v2m0 22v5m0 2v2m0 2v3m0 4v3m0 2v2m0 1v2m0 2v1m0 3v2m0 5v1m0 11v3m0 18v2m0 10v2m0 2v3M365.5 60v1m0 12v3m0 2v1m0 4v1m0 29v1m0 4v5m0 9v3m0 10v1m0 5v3m0 3v1m0 14v1m0 11v5m0 2v1m0 15v1m0 1v1m0 1v1M366.5 54v1m0 2v3m0 4v3m0 1v9m0 5v2m0 11v1m0 9v1m0 4v2m0 1v1m0 5v4m0 11v2m0 1v1m0 13v1m0 29v2m0 4v1m0 5v1m0 17v1M367.5 52v1m0 4v2m0 6v2m0 1v4m0 1v1m0 14v1m0 7v1m0 8v1m0 3v1m0 1v2m0 1v2m0 2v3m0 3v1m0 17v1m0 3v2m0 13v1m0 21v2m0 4v5m0 1v1m0 1v3m0 10v1M368.5 52v3m0 31v3m0 4v3m0 15v1m0 2v5m0 1v1m0 1v1m0 10v1m0 2v1m0 6v1m0 2v3m0 9v2m0 18v1m0 7v1m0 1v6m0 3v1m0 8v1m0 4v1M369.5 52v2m0 4v2m0 21v1m0 4v4m0 10v1m0 9v2m0 2v2m0 3v2m0 10v2m0 2v1m0 6v3m0 14v2m0 4v1m0 2v1m0 4v1m0 5v2m0 4v1m0 2v4m0 12v3m0 2v1M370.5 52v2m0 1v1m0 1v1m0 23v3m0 7v1m0 16v1m0 1v1m0 17v1m0 6v2m0 1v1m0 2v1m0 19v1m0 1v1m0 1v3m0 1v2m0 1v1m0 2v1m0 1v1m0 10v3m0 14v1m0 3v3M371.5 54v1m0 10v1m0 3v7m0 3v1m0 29v1m0 10v2m0 22v2m0 15v2m0 11v1m0 13v1m0 2v1m0 19v2M372.5 51v1m0 25v1m0 1v1m0 15v1m0 5v4m0 2v2m0 2v2m0 8v1m0 1v1m0 7v1m0 12v1m0 2v5m0 8v1m0 2v1m0 1v4m0 19v1m0 1v3m0 9v2m0 4v1m0 1v3M373.5 50v1m0 11v1m0 17v1m0 5v2m0 5v6m0 3v1m0 2v1m0 8v5m0 1v1m0 4v2m0 3v1m0 1v1m0 4v2m0 9v4m0 1v1m0 13v1m0 4v2m0 5v2m0 3v3m0 13v1m0 4v2M374.5 50v2m0 12v1m0 18v3m0 17v2m0 8v3m0 1v4m0 6v1m0 5v1m0 1v1m0 12v5m0 3v1m0 1v1m0 8v3m0 2v1m0 5v3m0 12v1m0 4v1M375.5 51v1m0 5v1m0 6v2m0 17v3m0 6v1m0 4v2m0 1v1m0 3v1m0 5v1m0 21v2m0 2v1m0 5v5m0 1v1m0 3v1m0 2v1m0 11v3m0 6v1m0 13v2m0 1v1m0 6v3m0 2v1m0 1v1M376.5 50v2m0 1v2m0 11v1m0 9v1m0 7v2m0 1v1m0 10v4m0 8v1m0 3v1m0 12v1m0 15v3m0 11v2m0 4v1m0 11v3m0 7v1m0 3v1m0 10v2m0 4v3m0 3v2M377.5 55v3m0 5v1m0 5v1m0 4v1m0 6v4m0 6v1m0 2v1m0 6v1m0 1v1m0 8v1m0 1v1m0 12v1m0 13v3m0 6v1m0 13v1m0 2v5m0 9v1m0 4v2m0 13v4m0 1v2m0 1v2m0 1v1m0 1v2M378.5 62v2m0 2v1m0 6v4m0 1v1m0 3v1m0 10v1m0 7v2m0 7v1m0 1v2m0 1v2m0 2v1m0 9v1m0 2v1m0 11v1m0 3v2m0 6v2m0 1v1m0 5v1m0 5v2m0 7v2m0 13v1m0 5v2m0 3v3m0 1v2m0 2v2M379.5 54v3m0 2v1m0 11v1m0 6v2m0 3v1m0 3v1m0 8v1m0 3v3m0 2v1m0 4v4m0 3v1m0 16v1m0 5v1m0 1v3m0 4v1m0 16v1m0 4v1m0 1v1m0 18v1m0 8v2m0 1v1m0 3v6M380.5 58v2m0 10v2m0 7v1m0 20v2m0 8v1m0 1v2m0 9v2m0 9v1m0 4v4m0 8v3m0 13v1m0 4v2m0 9v2m0 7v1m0 15v2M381.5 53v1m0 2v3m0 4v1m0 3v1m0 2v2m0 2v3m0 2v3m0 17v1m0 2v2m0 3v2m0 8v1m0 5v1m0 2v2m0 11v4m0 1v2m0 1v1m0 9v4m0 5v1m0 10v1m0 11v3m0 1v1m0 14v1M382.5 53v1m0 2v2m0 6v1m0 1v1m0 10v1m0 2v1m0 18v2m0 1v1m0 3v2m0 15v4m0 12v3m0 5v1m0 3v1m0 5v1m0 7v2m0 8v1m0 3v2m0 8v2m0 1v1m0 9v2m0 10v1M383.5 59v1m0 3v1m0 2v2m0 2v1m0 10v1m0 9v1m0 7v2m0 8v1m0 8v1m0 8v1m0 3v2m0 8v3m0 1v2m0 3v1m0 4v3m0 8v1m0 5v4m0 14v1m0 6v2m0 2v3m0 2v1m0 6v2M384.5 62v3m0 41v1m0 11v4m0 4v1m0 5v1m0 18v1m0 1v1m0 3v1m0 9v1m0 1v1m0 2v1m0 17v1m0 6v1m0 5v1m0 1v2m0 1v2m0 1v1m0 1v2M385.5 79v3m0 1v3m0 22v1m0 7v1m0 3v1m0 5v1m0 7v2m0 2v2m0 11v1m0 1v1m0 1v3m0 8v1m0 1v1m0 9v2m0 14v2m0 2v3m0 2v1m0 3v1m0 1v2m0 1v2m0 1v2M386.5 54v2m0 4v2m0 13v6m0 24v1m0 2v2m0 6v1m0 3v1m0 16v1m0 24v1m0 1v1m0 4v1m0 9v1m0 2v1m0 7v1m0 3v3m0 2v3m0 5v1M387.5 55v1m0 4v2m0 1v2m0 1v2m0 7v2m0 4v1m0 17v2m0 16v2m0 2v1m0 7v2m0 3v1m0 5v2m0 9v1m0 13v1m0 4v1m0 9v2m0 1v1m0 1v3m0 5v2m0 5v3m0 1v1m0 2v1M388.5 57v1m0 2v1m0 3v1m0 1v3m0 4v4m0 3v2m0 18v3m0 1v1m0 12v2m0 13v1m0 8v1m0 4v4m0 1v1m0 24v4m0 3v3m0 6v2m0 2v1m0 2v3m0 6v1m0 6v3M389.5 66v2m0 10v2m0 12v1m0 1v1m0 16v2m0 15v1m0 7v1m0 1v3m0 17v2m0 3v1m0 2v1m0 4v1m0 4v2m0 15v1m0 9v1m0 13v1M390.5 56v1m0 7v3m0 8v1m0 1v3m0 15v1m0 14v1m0 9v1m0 8v1m0 1v1m0 6v3m0 4v1m0 10v4m0 4v1m0 1v1m0 9v1m0 6v4m0 3v3m0 1v1m0 3v2m0 15v2M391.5 56v1m0 3v1m0 17v3m0 6v1m0 2v5m0 3v1m0 3v2m0 4v4m0 3v2m0 1v2m0 8v2m0 1v1m0 5v1m0 2v1m0 5v1m0 7v1m0 7v7m0 5v1m0 9v3m0 12v3m0 4v1m0 7v1M392.5 62v1m0 19v4m0 1v1m0 3v2m0 5v2m0 12v5m0 3v9m0 2v1m0 17v1m0 2v8m0 4v1m0 3v2m0 16v2m0 13v1m0 9v1m0 2v2M393.5 56v1m0 4v1m0 1v1m0 8v2m0 8v5m0 1v5m0 1v8m0 1v2m0 8v1m0 2v1m0 1v1m0 10v1m0 3v1m0 12v2m0 6v1m0 4v2m0 4v1m0 2v1m0 6v1m0 10v1m0 1v2m0 16v2m0 3v5M394.5 56v5m0 5v2m0 4v2m0 7v4m0 4v1m0 2v1m0 4v2m0 1v1m0 21v2m0 2v1m0 2v2m0 14v2m0 1v2m0 15v5m0 4v1m0 11v1m0 19v2m0 2v1m0 3v1M395.5 58v1m0 1v1m0 5v3m0 1v1m0 10v2m0 11v1m0 13v2m0 10v2m0 5v4m0 3v5m0 1v5m0 1v4m0 14v6m0 2v1m0 16v1m0 22v2M396.5 57v7m0 3v1m0 3v1m0 10v1m0 11v1m0 15v1m0 9v2m0 8v1m0 12v3m0 3v1m0 39v1m0 2v2m0 12v2m0 1v2M397.5 61v1m0 1v1m0 1v2m0 5v4m0 4v2m0 2v2m0 8v3m0 1v1m0 3v1m0 7v1m0 6v5m0 54v3m0 6v1m0 6v1m0 4v1m0 1v3m0 9v2M398.5 57v3m0 1v1m0 1v2m0 5v1m0 8v2m0 6v1m0 4v3m0 9v2m0 4v1m0 10v4m0 4v2m0 4v1m0 4v1m0 25v8m0 4v3m0 3v1m0 13v1m0 3v1m0 6v4M399.5 58v1m0 3v1m0 3v1m0 3v1m0 6v3m0 5v3m0 5v1m0 3v1m0 9v5m0 3v1m0 5v2m0 2v1m0 1v1m0 4v1m0 1v1m0 25v3m0 17v1m0 17v1m0 1v1m0 9v1M400.5 58v2m0 9v1m0 7v1m0 11v3m0 9v2m0 13v2m0 1v2m0 41v1m0 16v3m0 16v1m0 8v2M401.5 58v2m0 32v1m0 3v2m0 3v1m0 6v1m0 1v2m0 3v1m0 10v1m0 2v1m0 1v1m0 1v3m0 3v2m0 21v2m0 13v4m0 2v1m0 21v2m0 5v2M402.5 69v2m0 1v2m0 3v4m0 11v1m0 6v2m0 24v1m0 7v2m0 7v3m0 5v2m0 3v1m0 3v2m0 1v1m0 8v1m0 5v1m0 1v1m0 4v1m0 1v2m0 7v1m0 1v1m0 8v1m0 5v1M403.5 64v1m0 1v1m0 1v6m0 1v1m0 3v1m0 12v1m0 20v1m0 5v1m0 3v2m0 8v1m0 1v1m0 5v4m0 9v2m0 3v1m0 1v1m0 4v1m0 9v2m0 1v1m0 4v1m0 10v1m0 6v1m0 1v1m0 2v1m0 2v2M404.5 66v2m0 3v5m0 1v1m0 9v1m0 3v6m0 22v1m0 4v4m0 14v3m0 9v1m0 1v1m0 3v2m0 4v1m0 9v1m0 1v1m0 5v5m0 6v1m0 1v1m0 1v3m0 1v1m0 3v3M405.5 60v1m0 23v2m0 4v2m0 1v2m0 18v5m0 2v1m0 18v1m0 16v1m0 8v1m0 9v2m0 5v1m0 1v2m0 1v2m0 11v1M406.5 59v1m0 24v2m0 4v6m0 6v1m0 6v1m0 6v4m0 1v2m0 14v1m0 6v1m0 12v1m0 1v2m0 5v4m0 3v2m0 3v4m0 3v2m0 13v1m0 6v3M407.5 59v2m0 26v2m0 11v3m0 19v1m0 10v1m0 2v3m0 3v4m0 19v2m0 1v1m0 5v1m0 1v1m0 8v2m0 12v3m0 1v4M408.5 71v2m0 2v1m0 24v6m0 7v2m0 10v2m0 8v5m0 4v1m0 17v5m0 7v1m0 6v1m0 3v1m0 3v1m0 3v1m0 1v1m0 12v1M409.5 68v2m0 4v1m0 1v1m0 36v2m0 14v1m0 2v1m0 1v5m0 23v1m0 4v1m0 7v4m0 6v2m0 9v1m0 1v1m0 9v1M410.5 68v3m0 3v2m0 11v1m0 5v1m0 14v3m0 1v1m0 4v2m0 14v1m0 19v1m0 5v1m0 9v1m0 1v1m0 5v1m0 22v1m0 7v2M411.5 69v3m0 4v1m0 11v5m0 26v1m0 3v1m0 3v1m0 42v1m0 19v3m0 7v2M412.5 69v3m0 2v1m0 29v2m0 12v2m0 1v2m0 3v2m0 12v1m0 3v4m0 2v2m0 1v1m0 2v2m0 11v2m0 10v2m0 8v1m0 7v3m0 4v1M413.5 70v1m0 2v2m0 45v1m0 3v1m0 1v1m0 2v3m0 1v1m0 1v3m0 6v4m0 10v3m0 3v1m0 3v1m0 1v1m0 19v1m0 7v3M414.5 64v1m0 6v1m0 5v1m0 16v1m0 30v1m0 11v2m0 3v2m0 1v1m0 1v3m0 5v1m0 3v3m0 3v1m0 24v2m0 6v2m0 6v1M415.5 64v2m0 2v1m0 2v3m0 2v4m0 57v4m0 2v1m0 5v1m0 9v2m0 18v2m0 8v1m0 5v1m0 1v1m0 8v1M416.5 68v1m0 9v3m0 14v1m0 3v1m0 6v1m0 42v1m0 8v2m0 12v1m0 5v1m0 13v1m0 11v3M417.5 60v3m0 6v4m0 5v3m0 23v3m0 7v4m0 5v1m0 24v2m0 8v2m0 10v1m0 19v2m0 13v1M418.5 62v1m0 9v3m0 4v1m0 1v1m0 2v3m0 13v6m0 43v1m0 9v1m0 6v2m0 1v1m0 1v5m0 1v2m0 22v1M419.5 73v1m0 8v3m0 17v3m0 21v1m0 3v2m0 1v3m0 9v1m0 2v3m0 12v1m0 1v2m0 3v1m0 8v1m0 4v1m0 6v1m0 2v1m0 4v1m0 1v4M420.5 102v2m0 3v3m0 5v1m0 8v1m0 2v3m0 6v2m0 1v1m0 4v1m0 1v2m0 18v1m0 3v2m0 3v3m0 1v2m0 1v1m0 3v1m0 3v2m0 6v1m0 4v2M421.5 90v4m0 8v1m0 3v2m0 10v1m0 8v1m0 8v3m0 3v3m0 1v3m0 6v1m0 2v1m0 1v1m0 2v1m0 3v1m0 9v1m0 1v1m0 6v1m0 3v2m0 4v1m0 6v2M422.5 88v4m0 1v1m0 7v2m0 4v1m0 1v3m0 4v4m0 2v1m0 7v1m0 13v1m0 2v2m0 6v4m0 8v2m0 14v1m0 19v1M423.5 64v3m0 3v4m0 1v1m0 1v2m0 5v2m0 26v1m0 3v8m0 2v1m0 20v1m0 14v1m0 4v3m0 13v1m0 8v4m0 7v2M424.5 63v3m0 1v1m0 6v3m0 17v1m0 12v1m0 7v1m0 5v1m0 9v1m0 15v2m0 3v3m0 1v1m0 26v1m0 2v1m0 5v1m0 3v1m0 2v1M425.5 64v1m0 4v1m0 4v2m0 10v1m0 22v1m0 5v1m0 3v3m0 10v2m0 2v1m0 3v2m0 1v1m0 7v2m0 10v2m0 15v2m0 2v3m0 5v1m0 1v1m0 2v1M426.5 64v2m0 1v2m0 4v1m0 2v4m0 8v1m0 4v1m0 5v2m0 5v1m0 4v3m0 1v1m0 1v1m0 1v2m0 12v3m0 25v2m0 12v1m0 13v2m0 1v2m0 3v1M427.5 73v2m0 1v1m0 1v2m0 2v2m0 2v1m0 2v2m0 1v1m0 8v2m0 3v2m0 2v1m0 1v2m0 9v1m0 7v1m0 23v1m0 3v2m0 13v2m0 2v1m0 11v3m0 1v2m0 4v1m0 1v1M428.5 74v4m0 1v1m0 2v1m0 12v3m0 6v3m0 12v1m0 1v2m0 1v1m0 15v3m0 18v1m0 12v2m0 3v1m0 10v4m0 6v1M429.5 69v1m0 6v1m0 4v2m0 9v1m0 1v2m0 2v1m0 1v1m0 4v4m0 4v1m0 8v3m0 10v1m0 4v1m0 4v1m0 1v1m0 2v1m0 33v4m0 3v3m0 4v1M430.5 66v1m0 14v1m0 15v1m0 7v4m0 1v1m0 4v1m0 7v1m0 11v1m0 2v1m0 7v1m0 1v2m0 1v2m0 1v1m0 17v4m0 13v1m0 4v4M431.5 66v1m0 13v2m0 14v2m0 4v5m0 16v4m0 4v1m0 4v1m0 5v1m0 3v2m0 5v1m0 1v1m0 14v2m0 2v1m0 15v4m0 2v3M432.5 68v1m0 11v1m0 17v2m0 3v2m0 1v2m0 9v1m0 3v1m0 1v5m0 11v1m0 7v1m0 6v1m0 1v1m0 3v3m0 7v2m0 2v1m0 15v2m0 5v3M433.5 74v2m0 4v5m0 12v1m0 3v4m0 6v1m0 6v2m0 5v1m0 1v1m0 12v1m0 14v1m0 4v1m0 4v2m0 4v1m0 18v4m0 5v1M434.5 73v2m0 1v3m0 1v2m0 13v3m0 2v3m0 5v1m0 2v2m0 5v2m0 11v1m0 3v2m0 8v1m0 9v1m0 15v1m0 19v1m0 7v1M435.5 79v3m0 2v1m0 9v1m0 4v1m0 1v2m0 2v1m0 2v1m0 4v1m0 3v1m0 1v1m0 3v1m0 13v1m0 2v3m0 13v3m0 1v1m0 10v2m0 18v1m0 5v3M436.5 79v2m0 1v1m0 1v1m0 2v2m0 8v2m0 1v2m0 1v2m0 9v1m0 6v3m0 10v1m0 2v1m0 1v1m0 19v1m0 8v1m0 1v2m0 8v1m0 6v3M437.5 73v2m0 5v1m0 2v1m0 13v2m0 2v1m0 10v2m0 6v2m0 1v2m0 13v2m0 19v2m0 3v1m0 6v1m0 18v3m0 3v3M438.5 73v2m0 1v1m0 23v2m0 1v1m0 16v3m0 2v1m0 13v2m0 18v1m0 4v1m0 2v2m0 12v2m0 1v3m0 2v2m0 3v1m0 2v1M439.5 69v2m0 2v4m0 16v1m0 5v3m0 1v2m0 1v1m0 3v1m0 9v1m0 3v1m0 4v1m0 4v2m0 7v1m0 14v2m0 8v1m0 10v1m0 1v1m0 7v3m0 5v1M440.5 68v2m0 4v1m0 2v1m0 21v1m0 3v1m0 5v2m0 1v1m0 7v1m0 11v1m0 1v1m0 19v5m0 2v2m0 6v2m0 5v1m0 6v1m0 6v1m0 3v1M441.5 69v1m0 7v1m0 2v1m0 13v2m0 1v3m0 8v2m0 6v8m0 9v1m0 11v1m0 4v1m0 5v3m0 5v1m0 7v5m0 8v1m0 1v1m0 7v1M442.5 70v1m0 6v1m0 6v1m0 8v4m0 1v1m0 9v1m0 1v1m0 5v3m0 4v1m0 3v1m0 5v1m0 16v7m0 5v3m0 8v4m0 8v1m0 9v1M443.5 77v1m0 7v1m0 1v1m0 6v2m0 4v1m0 15v1m0 4v1m0 10v4m0 15v4m0 2v1m0 6v2m0 3v1m0 8v2m0 1v1m0 13v1M444.5 82v6m0 6v3m0 26v1m0 4v2m0 25v1m0 2v1m0 21v2m0 1v4m0 7v1M445.5 96v3m0 10v2m0 4v4m0 4v3m0 1v2m0 1v1m0 7v3m0 7v1m0 1v2m0 4v2m0 19v2m0 5v3m0 3v4M446.5 71v3m0 22v1m0 5v1m0 1v1m0 4v3m0 6v1m0 1v1m0 4v1m0 6v1m0 5v3m0 2v2m0 5v1m0 14v3m0 8v2m0 5v5m0 1v2M447.5 75v2m0 6v1m0 10v3m0 2v1m0 5v2m0 21v2m0 11v1m0 6v3m0 4v1m0 4v1m0 15v2m0 8v1m0 4v2M448.5 75v2m0 10v1m0 1v1m0 2v4m0 2v2m0 8v3m0 11v1m0 5v2m0 2v1m0 16v2m0 1v2m0 24v1m0 2v1m0 2v2m0 5v1M449.5 77v3m0 2v1m0 4v2m0 5v2m0 2v1m0 10v3m0 5v1m0 4v1m0 12v1m0 13v2m0 1v5m0 1v1m0 5v3m0 16v4m0 2v1M450.5 73v2m0 2v2m0 7v4m0 21v1m0 5v1m0 2v2m0 14v1m0 1v1m0 10v1m0 8v1m0 5v3m0 6v3m0 7v2m0 4v1M451.5 72v1m0 3v1m0 8v2m0 6v2m0 22v1m0 14v4m0 11v3m0 8v1m0 4v3m0 2v1m0 7v1m0 9v1m0 3v1M452.5 75v3m0 7v1m0 13v1m0 22v3m0 2v3m0 1v1m0 1v4m0 6v3m0 1v1m0 1v1m0 8v2m0 5v1m0 3v1m0 16v5M453.5 75v2m0 6v1m0 1v1m0 13v1m0 1v7m0 11v2m0 4v1m0 2v6m0 9v1m0 5v3m0 16v2m0 3v2m0 2v1m0 8v5M454.5 77v1m0 3v1m0 9v2m0 3v3m0 3v1m0 2v1m0 12v2m0 3v2m0 1v1m0 1v2m0 3v1m0 10v1m0 1v1m0 1v1m0 2v1m0 21v1m0 7v4m0 1v1M455.5 91v1m0 9v2m0 1v2m0 12v1m0 7v3m0 3v2m0 14v5m0 7v1m0 10v1m0 1v1m0 3v1m0 9v2M456.5 81v2m0 7v2m0 2v1m0 15v3m0 5v2m0 22v1m0 2v1m0 14v2m0 10v2m0 2v1m0 1v1m0 10v2M457.5 90v2m0 4v1m0 1v2m0 6v2m0 2v4m0 5v1m0 3v2m0 17v1m0 1v1m0 8v3m0 6v2m0 1v2m0 4v8m0 10v1M458.5 90v1m0 7v1m0 2v1m0 3v1m0 10v4m0 2v2m0 1v1m0 4v1m0 10v1m0 3v1m0 7v2m0 1v2m0 4v1m0 2v1m0 1v2m0 1v1m0 6v3m0 1v1m0 2v1m0 2v2M459.5 79v1m0 1v2m0 8v1m0 2v1m0 2v1m0 3v4m0 3v1m0 3v2m0 3v1m0 7v1m0 16v2m0 8v1m0 3v1m0 26v2M460.5 79v1m0 2v1m0 13v1m0 6v2m0 5v2m0 16v1m0 13v2m0 5v1m0 2v1m0 10v1m0 1v1m0 20v1M461.5 77v2m0 5v2m0 3v1m0 2v1m0 3v4m0 3v2m0 35v3m0 16v1m0 2v1m0 22v2M462.5 84v2m0 1v1m0 5v1m0 4v3m0 1v4m0 2v1m0 33v1m0 10v1m0 1v2m0 4v2m0 21v3M463.5 85v1m0 1v1m0 5v4m0 2v1m0 4v1m0 2v1m0 4v1m0 4v1m0 6v1m0 13v1m0 1v1m0 5v1m0 4v4m0 1v1m0 4v2m0 6v1m0 1v1m0 11v5M464.5 89v1m0 4v2m0 7v1m0 9v1m0 8v2m0 3v1m0 2v2m0 13v1m0 1v1m0 4v5m0 4v1m0 3v1m0 1v4m0 12v1m0 2v2M465.5 88v3m0 3v1m0 32v1m0 14v1m0 8v4m0 5v2m0 6v1m0 2v3m0 4v1m0 1v1M466.5 82v2m0 1v1m0 6v1m0 1v1m0 15v1m0 16v1m0 12v2m0 5v1m0 3v1m0 13v1m0 5v4m0 2v1m0 1v2M467.5 78v1m0 3v2m0 4v2m0 1v1m0 19v1m0 13v1m0 3v1m0 5v2m0 3v1m0 4v1m0 19v2m0 4v1m0 1v2m0 1v1M468.5 78v3m0 8v1m0 1v2m0 5v6m0 9v1m0 15v1m0 3v1m0 9v1m0 29v1m0 1v1m0 6v1M469.5 78v4m0 10v2m0 5v4m0 10v1m0 6v1m0 8v1m0 3v1m0 7v3m0 1v1m0 11v3m0 3v2m0 1v1m0 12v1m0 1v1M470.5 82v1m0 3v1m0 5v2m0 10v1m0 14v1m0 1v4m0 4v1m0 1v2m0 1v1m0 9v1m0 9v2m0 4v1m0 3v4m0 6v1m0 4v2M471.5 80v1m0 9v1m0 4v2m0 1v2m0 18v2m0 8v3m0 5v2m0 6v1m0 9v3m0 2v1m0 14v2m0 1v1m0 6v1M472.5 78v2m0 5v1m0 1v2m0 4v4m0 1v1m0 2v2m0 7v3m0 3v2m0 11v1m0 7v3m0 3v2m0 5v1m0 6v2m0 6v6m0 3v6m0 1v2M473.5 78v2m0 1v4m0 6v1m0 2v4m0 2v4m0 6v2m0 2v1m0 37v1m0 4v1m0 14v2m0 4v3M474.5 79v3m0 14v1m0 1v1m0 1v3m0 1v1m0 16v4m0 28v3m0 16v2m0 1v2m0 2v3M475.5 91v1m0 6v1m0 1v1m0 22v2m0 2v2m0 4v3m0 13v2m0 21v1m0 7v1M476.5 89v1m0 18v2m0 7v1m0 29v1m0 4v2m0 15v3m0 2v2m0 3v3M477.5 89v1m0 1v2m0 11v1m0 2v4m0 6v1m0 2v2m0 11v1m0 8v1m0 2v7m0 1v1m0 3v1m0 10v1m0 7v2m0 1v1m0 1v1M478.5 84v1m0 6v1m0 6v2m0 5v6m0 1v1m0 9v1m0 12v1m0 1v1m0 4v1m0 8v1m0 1v1m0 14v1m0 7v2m0 3v1M479.5 82v1m0 4v2m0 9v4m0 3v1m0 17v1m0 12v1m0 3v3m0 4v3m0 21v1m0 1v1M480.5 97v3m0 24v2m0 3v1m0 2v1m0 4v1m0 2v2m0 1v1m0 5v2m0 3v1m0 16v2m0 3v1M481.5 91v2m0 1v1m0 1v1m0 11v1m0 15v1m0 5v4m0 2v2m0 3v3m0 6v3m0 16v3m0 2v2m0 2v1M482.5 92v2m0 28v2m0 2v2m0 4v1m0 2v1m0 5v4m0 4v3m0 4v1m0 2v1m0 3v1m0 7v1m0 5v2M483.5 94v1m0 5v6m0 38v1m0 7v2m0 2v2m0 1v2m0 8v1m0 3v1m0 3v1M484.5 94v1m0 2v2m0 2v4m0 2v2m0 3v1m0 1v2m0 1v2m0 3v1m0 21v1m0 9v3m0 3v1m0 3v1m0 3v2m0 2v1m0 1v5M485.5 93v1m0 14v1m0 2v1m0 2v2m0 4v2m0 1v1m0 3v5m0 14v2m0 6v3m0 3v2m0 2v1m0 5v4m0 2v3M486.5 89v5m0 15v2m0 12v1m0 3v1m0 2v1m0 14v2m0 17v1m0 5v2m0 1v1M487.5 83v1m0 3v2m0 9v4m0 2v1m0 1v3m0 15v1m0 2v1m0 42v4M488.5 88v2m0 3v2m0 5v2m0 2v4m0 11v3m0 2v1m0 26v1m0 2v2m0 10v4M489.5 94v1m0 10v1m0 2v1m0 9v1m0 1v4m0 10v3m0 7v1m0 3v3m0 2v2m0 10v1m0 8v3M490.5 88v1m0 20v1m0 16v1m0 1v3m0 2v2m0 7v2m0 4v1m0 1v1m0 1v1m0 2v1m0 18v1M491.5 88v1m0 1v1m0 18v1m0 3v2m0 9v3m0 1v2m0 2v1m0 1v1m0 1v1m0 5v1m0 5v1m0 2v1m0 2v2m0 3v2M492.5 87v2m0 19v2m0 1v7m0 2v1m0 4v4m0 10v2m0 10v1m0 9v1m0 3v1m0 6v1M493.5 84v1m0 17v2m0 4v1m0 1v7m0 1v1m0 1v3m0 1v3m0 1v6m0 4v4m0 8v3m0 4v1m0 9v2m0 5v1M494.5 84v1m0 6v3m0 7v3m0 1v1m0 2v1m0 3v5m0 2v1m0 10v2m0 1v2m0 2v2m0 11v4M495.5 84v5m0 4v1m0 3v1m0 7v1m0 2v1m0 7v1m0 13v2m0 3v1m0 1v1m0 2v1m0 3v5m0 3v2m0 18v4M496.5 86v3m0 1v2m0 1v2m0 35v1m0 4v2m0 20v1m0 8v1m0 5v2M497.5 86v3m0 34v1m0 1v1m0 2v1m0 19v1m0 10v1m0 3v3m0 1v2M498.5 92v1m0 8v3m0 4v1m0 28v1m0 1v1m0 4v2m0 4v2m0 4v2m0 6v5M499.5 87v1m0 2v3m0 8v1m0 4v3m0 6v1m0 1v2m0 10v3m0 2v1m0 1v2m0 2v2m0 2v1m0 19v6m0 1v2M500.5 90v1m0 2v1m0 8v1m0 2v3m0 1v1m0 6v1m0 21v1m0 3v1m0 1v2m0 16v1m0 2v2m0 1v7M501.5 89v1m0 5v2m0 7v1m0 2v1m0 29v2m0 20v3m0 7v2M502.5 89v1m0 15v3m0 1v1m0 26v4m0 5v1m0 13v1m0 3v2m0 6v1M503.5 102v1m0 4v1m0 8v4m0 18v4m0 12v1m0 3v2m0 1v2M504.5 87v2m0 10v1m0 5v1m0 4v4m0 2v2m0 3v3m0 3v1m0 23v1m0 2v1m0 2v1m0 8v2m0 2v2M505.5 89v1m0 1v3m0 2v3m0 14v1m0 5v1m0 6v2m0 23v2M506.5 92v1m0 3v1m0 7v1m0 9v1m0 6v4m0 14v3m0 26v1M507.5 96v1m0 5v3m0 11v2m0 5v1m0 7v2m0 30v2m0 2v2M508.5 95v1m0 6v3m0 4v2m0 5v1m0 1v3m0 17v1m0 2v1m0 19v3m0 4v2M509.5 103v1m0 5v1m0 5v2m0 19v3m0 13v4m0 1v1m0 10v2M510.5 103v2m0 4v1m0 3v1m0 7v1m0 13v2m0 16v2m0 10v1m0 1v1M511.5 93v1m0 2v1m0 14v1m0 18v1m0 6v1m0 13v2m0 11v2M512.5 94v1m0 2v1m0 1v1m0 10v1m0 4v2m0 5v1m0 9v1m0 6v1m0 8v3m0 14v1M513.5 100v1m0 4v1m0 1v3m0 1v2m0 9v1m0 5v1m0 1v3m0 7v6m0 7v1m0 10v1M514.5 96v1m0 1v2m0 4v1m0 17v4m0 2v4m0 8v1m0 4v1m0 4v1m0 4v1m0 1v1m0 1v1m0 4v1M515.5 95v1m0 11v1m0 5v1m0 1v1m0 1v1m0 4v3m0 2v2m0 2v2m0 6v5m0 6v1m0 3v4m0 7v2M516.5 92v1m0 5v1m0 3v1m0 2v1m0 3v2m0 1v2m0 1v1m0 1v1m0 2v3m0 5v2m0 1v1m0 5v1m0 7v1m0 2v1m0 1v3m0 1v1m0 2v3m0 4v3M517.5 92v1m0 5v5m0 13v1m0 6v1m0 9v3m0 5v2m0 1v5m0 3v2m0 6v2m0 3v1M518.5 93v1m0 2v1m0 3v1m0 22v2m0 2v1m0 13v3m0 4v1m0 3v1m0 11v2M519.5 101v2m0 13v1m0 21v1m0 6v1m0 2v1m0 10v2m0 3v1M520.5 95v1m0 7v3m0 33v1m0 1v3m0 3v1m0 7v2m0 2v2m0 3v1M521.5 129v4m0 8v1m0 1v1m0 5v1m0 8v1m0 3v2M522.5 102v1m0 2v1m0 1v1m0 3v4m0 21v1m0 26v1M523.5 97v1m0 7v1m0 1v1m0 3v5m0 21v1m0 14v1m0 7v3M524.5 111v4m0 4v1m0 1v1m0 12v5m0 2v1m0 10v2m0 1v1m0 4v1M525.5 96v1m0 10v4m0 2v1m0 3v3m0 6v3m0 14v2m0 2v2m0 3v2m0 1v3m0 1v1M526.5 126v3m0 13v2m0 4v6m0 1v4M527.5 97v1m0 22v5m0 1v5m0 7v1m0 2v5m0 3v10M528.5 96v4m0 15v1m0 3v1m0 1v3m0 1v4m0 3v1m0 1v2m0 5v1m0 5v1m0 12v2M529.5 99v1m0 1v1m0 3v5m0 1v1m0 5v4m0 4v4m0 3v1m0 3v1m0 10v2m0 2v1M530.5 100v1m0 25v5m0 10v1m0 1v2m0 14v1M531.5 126v1m0 32v1M532.5 99v1m0 23v1m0 12v2m0 12v1m0 7v2M533.5 99v4m0 13v1m0 1v2m0 4v1m0 14v1m0 10v1M534.5 96v1m0 3v2m0 14v2m0 1v3m0 3v1m0 3v1m0 15v1m0 3v2M535.5 95v2m0 12v1m0 5v1m0 10v3M536.5 108v1m0 48v1M537.5 112v2m0 9v3m0 28v1M538.5 101v1m0 10v2m0 11v2m0 12v3m0 1v2m0 2v1m0 7v2M539.5 111v1m0 1v1m0 17v2m0 2v1m0 3v1m0 6v1m0 8v3M540.5 109v3m0 1v5m0 28v1m0 8v2M541.5 109v2m0 6v1m0 8v1m0 8v1m0 11v2m0 2v3m0 1v2M542.5 100v2m0 7v2m0 20v1m0 13v1m0 6v3M543.5 100v3m0 5v1m0 2v1m0 4v1m0 13v1m0 6v1m0 2v2m0 4v2m0 3v1m0 2v1M544.5 115v1m0 4v2m0 7v1m0 6v2m0 3v2m0 3v1m0 7v1M545.5 103v2m0 3v1m0 5v2m0 20v1m0 8v1m0 4v5M546.5 102v3m0 6v3m0 4v1m0 17v2m0 11v5M547.5 110v5m0 20v3m0 11v3M548.5 99v5m0 1v1m0 2v1m0 5v1m0 10v2m0 3v4m0 1v4m0 11v2M549.5 115v2m0 5v1m0 1v3m0 3v2m0 4v2m0 4v3m0 5v1M550.5 101v2m0 14v1m0 9v1m0 1v2m0 12v1M551.5 100v3m0 1v2m0 2v1m0 22v1m0 1v2m0 2v1M552.5 100v1m0 5v2m0 23v1m0 4v1m0 12v1M553.5 100v2m0 4v1m0 6v1m0 10v5m0 9v1m0 5v3m0 2v2M554.5 100v3m0 13v3m0 1v1m0 19v2m0 1v1M555.5 118v1m0 21v1m0 9v1M556.5 107v3m0 8v1m0 10v2m0 18v1M557.5 104v5m0 1v1m0 2v1m0 4v1m0 6v3m0 1v2m0 17v1M558.5 103v1m0 3v1m0 6v1m0 2v1m0 1v1m0 1v1m0 5v1m0 2v2m0 8v3M559.5 107v1m0 4v1m0 2v5m0 2v1m0 4v1m0 3v1M560.5 104v1m0 2v1m0 4v1m0 3v1m0 1v3m0 24v1M561.5 105v2m0 2v2m0 8v2m0 4v2m0 14v1m0 1v4M562.5 105v5m0 1v1m0 3v4m0 3v2m0 20v4M563.5 104v2m0 6v2m0 2v2m0 4v2m0 4v1m0 14v5M564.5 112v1m0 1v1m0 1v2m0 5v5m0 13v2m0 1v3M565.5 111v1m0 13v7M566.5 118v1m0 7v1m0 16v3M567.5 105v2m0 1v4m0 5v1m0 2v1m0 3v2m0 6v1m0 7v1m0 2v3M568.5 108v2m0 1v1m0 2v1m0 5v2m0 9v2m0 2v1m0 5v1m0 1v2M569.5 108v2m0 2v2m0 3v1m0 4v1m0 1v2m0 1v4m0 1v1m0 2v1m0 6v2M570.5 105v3m0 6v2m0 1v3m0 4v2m0 2v1m0 13v2M571.5 106v1m0 5v1m0 6v1m0 1v3m0 19v1M572.5 112v1m0 4v1m0 1v1m0 5v2m0 3v1m0 12v1M573.5 109v3m0 8v3m0 1v1m0 5v2m0 9v1M574.5 108v3m0 8v2m0 1v1m0 4v2m0 2v1m0 7v1M575.5 108v3m0 9v1m0 12v1m0 4v1M576.5 109v1M577.5 112v2m0 7v2m0 6v1m0 8v1M578.5 113v2m0 14v1m0 5v3M579.5 113v2m0 4v1m0 11v1m0 1v1m0 5v1M580.5 113v2m0 3v2m0 1v1M581.5 109v1m0 2v2m0 4v1m0 1v2m0 3v1m0 5v1m0 5v2M582.5 113v1m0 3v2m0 5v1m0 5v1m0 2v1M583.5 113v1m0 2v1m0 12v4m0 4v1M584.5 110v3m0 19v1m0 2v1M585.5 121v4m0 8v1m0 2v2M586.5 121v1m0 11v1m0 2v1m0 1v1M587.5 118v2m0 2v4m0 9v1M588.5 119v1m0 4v1m0 7v1m0 1v3M589.5 116v1m0 5v1m0 8v4M590.5 116v1m0 14v1m0 3v2M591.5 112v1m0 1v1m0 1v1m0 7v1m0 1v2M592.5 112v2m0 3v1m0 6v2m0 7v2M593.5 112v1m0 2v1m0 1v2m0 4v1m0 10v1M594.5 118v3m0 2v1m0 5v3m0 2v1M595.5 119v2m0 1v1m0 2v3M596.5 120v1m0 1v1m0 2v9M597.5 120v2m0 8v4M598.5 122v1m0 6v3m0 1v1M599.5 117v1m0 1v1m0 1v1m0 6v2m0 1v2M600.5 119v3m0 8v1M601.5 118v2m0 10v2M602.5 131v1M603.5 130v2M604.5 116v2m0 2v1m0 6v2M605.5 120v1m0 6v1M606.5 122v1M607.5 125v3M608.5 118v1m0 7v3M609.5 126v2M610.5 120v2m0 3v1m0 1v1M611.5 119v1m0 7v1M612.5 117v2m0 7v2M613.5 120v3m0 3v1M614.5 120v2m0 1v2M619.5 124v2M620.5 120v1M622.5 122v1M624.5 122v1"/>
<path stroke="rgb(89,192,117)" d="M109.5 131v3M110.5 131v1m0 3v2M111.5 136v1M112.5 134v2M114.5 133v1M116.5 132v1M117.5 132v1M118.5 130v3m0 4v2M119.5 136v1M120.5 138v1M121.5 132v1m0 4v3M122.5 131v4M123.5 128v1m0 1v6m0 1v2M124.5 128v1m0 1v4m0 3v2M125.5 132v1m0 4v2M127.5 132v1m0 1v1m0 3v1m0 1v1M128.5 126v1m0 13v2M129.5 126v2m0 2v3m0 3v3M130.5 125v1m0 4v1m0 6v1M131.5 127v1m0 10v1M133.5 126v1m0 6v1m0 2v2M134.5 127v1m0 3v2m0 2v1M135.5 128v1m0 7v2m0 4v2M136.5 123v3m0 10v1m0 5v1M137.5 123v2m0 1v2M138.5 132v1M139.5 131v1M140.5 122v3m0 3v2m0 14v1M141.5 123v3m0 4v2m0 5v1M142.5 123v1m0 14v3M143.5 128v4m0 5v1m0 1v2m0 1v1m0 2v2M144.5 130v2m0 4v2M145.5 136v3M146.5 121v1m0 2v1m0 1v3m0 6v3M147.5 128v1m0 11v1M148.5 124v4m0 11v2m0 2v1M149.5 123v1m0 12v1m0 8v1m0 1v1M150.5 131v2m0 1v1m0 8v1m0 2v1M151.5 120v1m0 1v1m0 6v2m0 3v1m0 2v1m0 4v3M152.5 120v3m0 9v3m0 5v1m0 1v1M153.5 128v2m0 1v3m0 3v1m0 2v3M154.5 135v3M155.5 122v2m0 13v1M156.5 127v2m0 9v1m0 1v1m0 6v1m0 1v1M157.5 121v1m0 8v1m0 9v2m0 1v1m0 5v1M158.5 114v1m0 4v3m0 9v2m0 7v3m0 5v2M159.5 114v1m0 4v4m0 20v1m0 1v4M160.5 120v2m0 3v8M161.5 116v1m0 1v1m0 20v3M162.5 139v2M163.5 128v4m0 9v1m0 6v1M164.5 123v1m0 6v1m0 5v2m0 1v1M165.5 130v1m0 1v3m0 15v1M166.5 112v1m0 1v1m0 17v5m0 12v2M167.5 111v3m0 20v4m0 12v1M168.5 136v1m0 2v1m0 7v3M169.5 107v3m0 27v2m0 3v1m0 6v1M170.5 107v4m0 5v3m0 29v2M171.5 109v2m0 8v1m0 1v1m0 6v4m0 3v1m0 1v2M172.5 109v1m0 1v3m0 4v1m0 3v1m0 6v2m0 6v3m0 7v3m0 1v1M173.5 107v2m0 3v2m0 8v2m0 5v1m0 4v2m0 1v1m0 1v1m0 7v5M174.5 120v1m0 2v1m0 5v2m0 5v1m0 8v4m0 1v1M175.5 106v2m0 9v1m0 4v2m0 10v3m0 1v1m0 2v2m0 4v5M176.5 106v4m0 7v1m0 2v4m0 12v2m0 12v1m0 2v1M177.5 107v1m0 1v1m0 25v3m0 14v3M178.5 105v1m0 4v1m0 7v2m0 11v1m0 7v1m0 11v1M179.5 110v1m0 1v1m0 3v1m0 9v1m0 1v1m0 9v2m0 6v1m0 3v3m0 2v2M180.5 106v1m0 20v2m0 1v1m0 3v5m0 8v3M181.5 109v4m0 13v3m0 3v2m0 2v2m0 7v1m0 2v1M182.5 110v3m0 24v1m0 5v1m0 3v3m0 2v3m0 1v2M183.5 144v2m0 2v1m0 7v2M184.5 135v1m0 13v2m0 4v2M185.5 105v2m0 11v1m0 22v2m0 12v2M186.5 103v4m0 8v4m0 4v1m0 3v1m0 27v2M187.5 102v1m0 3v1m0 11v1m0 7v2m0 3v1m0 6v2m0 3v1m0 6v4M188.5 112v1m0 3v2m0 13v2m0 2v1m0 7v1m0 5v2m0 3v1M189.5 110v1m0 4v1m0 19v4m0 2v1m0 1v1m0 9v1M190.5 104v2m0 9v1m0 21v2m0 4v1m0 3v1M191.5 116v1m0 6v1m0 2v2m0 12v1m0 6v2M192.5 115v4m0 7v3m0 15v1m0 3v5M193.5 118v1m0 6v2m0 14v3m0 4v1m0 1v1m0 2v5M194.5 102v2m0 17v1m0 17v1m0 4v1m0 3v2m0 3v1m0 2v3M195.5 120v2m0 6v1m0 8v1m0 6v1m0 12v4M196.5 111v2m0 2v1m0 11v1m0 4v1m0 4v2m0 3v2m0 14v3M197.5 101v3m0 16v1m0 1v2m0 1v2m0 3v2m0 1v1m0 8v2m0 7v1m0 4v1M198.5 101v3m0 17v2m0 4v2m0 2v1m0 24v2M199.5 101v3m0 2v4m0 13v1m0 3v3m0 3v1m0 9v2m0 3v1m0 6v2M200.5 96v1m0 1v2m0 10v1m0 3v3m0 3v1m0 8v1m0 3v1m0 15v3M201.5 96v6m0 12v3m0 2v2m0 1v1m0 5v2m0 4v3m0 6v2m0 4v1m0 8v2M202.5 95v1m0 14v1m0 3v1m0 9v3m0 2v1m0 4v2m0 13v1m0 4v3M203.5 99v1m0 4v4m0 2v1m0 5v2m0 6v1m0 6v2m0 11v1m0 3v3m0 9v2M204.5 96v2m0 1v1m0 1v1m0 1v4m0 1v1m0 7v1m0 6v1m0 1v3m0 5v4m0 8v1m0 2v5m0 7v2M205.5 98v1m0 4v1m0 1v1m0 11v2m0 10v1m0 9v2m0 9v3m0 2v1M206.5 105v3m0 9v1m0 9v1m0 1v1m0 4v2m0 5v2m0 9v1M207.5 105v3m0 5v1m0 7v1m0 2v1m0 13v1m0 2v1m0 9v1m0 1v1M208.5 94v1m0 5v2m0 2v1m0 5v1m0 2v1m0 14v1m0 3v1m0 6v3m0 7v6M209.5 106v1m0 8v1m0 1v1m0 9v1m0 4v1m0 1v1m0 2v1m0 1v3m0 4v1m0 4v3M210.5 95v1m0 8v1m0 10v1m0 2v1m0 8v3m0 9v1m0 2v3m0 6v1m0 10v2M211.5 95v1m0 10v3m0 8v2m0 3v1m0 3v1m0 12v2m0 1v1m0 8v1m0 9v3M212.5 95v2m0 11v3m0 8v1m0 1v1m0 1v3m0 2v1m0 21v2M213.5 97v1m0 10v4m0 1v1m0 4v1m0 23v1m0 4v1m0 2v2m0 5v2M214.5 94v1m0 10v1m0 5v3m0 4v1m0 1v4m0 17v2m0 2v3m0 7v1M215.5 89v3m0 9v1m0 3v1m0 6v1m0 8v2m0 12v3m0 2v3m0 1v4m0 6v2m0 1v1M216.5 90v2m0 10v1m0 9v1m0 23v2m0 4v1m0 1v4m0 4v1m0 2v1m0 1v1m0 4v1m0 2v1M217.5 91v1m0 17v1m0 3v2m0 7v1m0 12v2m0 3v3m0 3v4m0 1v1m0 5v1m0 5v1M218.5 95v3m0 16v1m0 9v1m0 12v1m0 2v1m0 1v1m0 2v3m0 1v1m0 1v1m0 1v2m0 2v1m0 3v1m0 1v1M219.5 92v1m0 1v2m0 1v2m0 19v1m0 17v1m0 8v4m0 3v1m0 1v1m0 10v1M220.5 91v3m0 4v1m0 14v3m0 6v1m0 9v2m0 19v2m0 10v1M221.5 89v2m0 1v2m0 2v1m0 17v2m0 4v1m0 1v1m0 2v2m0 5v1m0 19v1m0 13v1M222.5 89v3m0 5v1m0 26v1m0 1v1m0 3v3m0 3v2m0 4v1m0 4v2m0 2v1m0 1v1M223.5 97v1m0 13v2m0 36v3m0 4v2m0 1v2M224.5 86v3m0 2v2m0 1v2m0 1v1m0 13v2m0 9v3m0 7v1m0 3v1m0 1v1m0 3v1m0 5v2m0 1v1m0 10v1m0 2v1M225.5 86v3m0 1v4m0 5v2m0 7v3m0 12v1m0 13v1m0 6v2m0 2v1M226.5 86v1m0 4v2m0 8v1m0 10v1m0 31v1m0 17v4M227.5 91v2m0 5v1m0 14v3m0 12v1m0 5v1m0 13v1m0 3v1M228.5 88v1m0 3v3m0 2v1m0 1v1m0 10v1m0 8v1m0 14v1m0 4v1m0 11v1m0 4v1m0 2v2M229.5 84v3m0 17v2m0 4v1m0 6v2m0 1v1m0 1v2m0 9v2m0 4v1m0 17v5M230.5 84v1m0 2v1m0 1v2m0 2v1m0 13v3m0 10v3m0 10v2m0 4v3m0 10v3m0 7v1M231.5 84v1m0 4v2m0 2v1m0 1v1m0 1v2m0 21v2m0 3v1m0 16v4m0 6v3m0 5v1m0 1v1M232.5 83v1m0 37v1m0 9v1m0 11v2m0 6v3m0 7v2m0 5v4M233.5 83v4m0 18v2m0 14v1m0 1v3m0 2v1m0 3v1m0 3v2m0 5v2m0 2v1m0 4v1m0 1v1m0 5v3m0 2v1m0 1v2m0 1v2M234.5 96v2m0 2v2m0 15v2m0 1v1m0 3v2m0 6v1m0 6v4m0 4v1m0 4v3m0 5v2M235.5 84v1m0 14v4m0 7v1m0 12v3m0 1v1m0 2v1m0 8v1m0 2v1m0 2v3m0 15v2M236.5 84v1m0 24v3m0 1v3m0 24v1m0 3v1m0 16v5m0 1v2M237.5 84v2m0 4v1m0 3v2m0 12v2m0 7v1m0 27v1m0 4v1m0 12v1m0 1v1m0 1v1M238.5 85v1m0 3v2m0 2v1m0 3v1m0 9v1m0 9v2m0 24v2M239.5 87v1m0 2v1m0 3v2m0 1v1m0 1v2m0 3v1m0 1v2m0 2v5m0 7v2m0 2v2m0 12v1m0 1v2m0 1v1M240.5 81v3m0 23v4m0 8v1m0 8v2m0 7v3m0 1v1m0 3v1m0 14v2m0 3v1M241.5 82v1m0 31v1m0 11v3m0 7v4m0 15v1m0 4v2m0 3v2M242.5 92v1m0 8v1m0 4v1m0 3v1m0 2v3m0 1v1m0 6v1m0 1v2m0 26v2m0 2v1m0 2v1m0 2v3M243.5 80v1m0 4v2m0 11v3m0 1v1m0 2v1m0 10v2m0 1v2m0 7v1m0 6v2M244.5 85v3m0 6v1m0 20v2m0 4v2m0 4v2m0 6v2m0 4v3m0 11v1m0 4v1m0 2v2m0 4v1M245.5 92v1m0 3v1m0 4v4m0 1v1m0 7v3m0 1v2m0 1v1m0 3v5m0 11v1m0 12v2m0 7v2m0 1v1M246.5 76v2m0 8v2m0 5v4m0 5v3m0 4v6m0 11v1m0 13v1m0 5v1m0 5v1m0 17v1m0 1v1M247.5 76v2m0 6v4m0 8v1m0 3v1m0 4v1m0 5v1m0 10v1m0 17v2m0 3v1m0 19v1m0 1v2m0 4v2M248.5 83v1m0 2v2m0 8v2m0 1v2m0 16v1m0 6v2m0 7v1m0 22v3m0 9v1m0 1v3M249.5 75v3m0 6v2m0 1v1m0 9v3m0 5v2m0 18v1m0 4v1m0 2v1m0 3v2m0 14v1m0 2v2M250.5 75v4m0 6v2m0 12v1m0 25v1m0 11v3m0 14v3m0 8v1m0 3v2M251.5 76v3m0 10v2m0 4v2m0 1v1m0 4v3m0 7v2m0 12v2m0 8v3m0 4v1m0 1v1m0 3v1m0 1v1m0 5v1m0 10v2M252.5 77v1m0 12v1m0 9v2m0 24v2m0 5v1m0 11v1m0 2v1m0 1v1m0 7v1m0 4v1m0 5v3M253.5 81v3m0 15v3m0 1v1m0 4v3m0 22v1m0 14v1m0 1v1m0 6v2m0 5v2m0 1v1m0 5v3M254.5 79v3m0 6v2m0 16v1m0 3v4m0 4v2m0 9v1m0 1v1m0 1v1m0 7v4m0 10v4m0 7v1m0 4v4M255.5 76v2m0 2v1m0 10v1m0 12v2m0 5v2m0 2v2m0 4v2m0 7v2m0 7v3m0 2v1m0 6v1m0 1v1m0 2v2m0 5v3m0 5v3M256.5 75v1m0 1v1m0 2v1m0 6v2m0 6v3m0 4v1m0 9v1m0 2v1m0 5v2m0 28v1m0 1v1m0 15v5M257.5 73v1m0 1v1m0 2v3m0 1v1m0 3v2m0 7v3m0 3v1m0 6v5m0 37v1m0 3v1m0 14v3M258.5 72v3m0 1v1m0 7v1m0 2v1m0 14v2m0 3v1m0 1v2m0 39v4m0 13v6M259.5 75v1m0 4v1m0 5v1m0 9v1m0 2v4m0 29v1m0 16v2m0 12v3m0 5v2M260.5 85v1m0 6v1m0 1v1m0 7v1m0 30v1m0 12v2m0 1v1m0 4v1m0 12v1m0 3v2M261.5 75v2m0 5v1m0 10v2m0 5v1m0 8v2m0 1v1m0 1v2m0 22v2m0 3v1m0 2v1m0 10v1m0 4v1m0 4v3m0 5v2M262.5 83v3m0 8v3m0 12v2m0 2v3m0 4v2m0 18v4m0 3v1m0 10v1m0 8v3m0 2v1m0 6v1M263.5 73v2m0 5v3m0 12v2m0 8v1m0 2v2m0 4v2m0 13v2m0 14v2m0 6v1m0 25v1M264.5 78v3m0 1v1m0 19v1m0 4v1m0 1v7m0 6v1m0 1v2m0 4v1m0 1v2m0 14v4m0 3v2m0 2v2m0 12v1M265.5 90v2m0 9v1m0 7v1m0 16v2m0 1v7m0 2v3m0 2v1m0 7v2m0 6v1m0 2v2m0 4v1m0 5v2M266.5 79v4m0 1v1m0 16v1m0 5v3m0 14v1m0 1v1m0 3v3m0 1v2m0 5v1m0 7v2m0 7v3m0 3v1m0 8v1M267.5 84v1m0 10v1m0 1v2m0 3v2m0 31v3m0 2v3m0 3v2m0 16v1m0 3v2m0 11v1M268.5 77v1m0 4v1m0 4v2m0 3v3m0 8v1m0 3v1m0 39v5m0 18v1M269.5 75v3m0 8v5m0 1v3m0 4v2m0 1v1m0 8v1m0 18v1m0 6v1m0 4v1m0 3v1m0 2v1m0 2v1m0 4v2m0 9v1m0 2v2m0 1v1m0 3v3M270.5 75v1m0 1v1m0 3v4m0 1v1m0 2v1m0 2v1m0 2v1m0 7v1m0 20v1m0 7v1m0 3v2m0 6v1m0 12v2m0 12v2m0 7v2M271.5 84v1m0 3v2m0 5v1m0 7v1m0 15v1m0 1v1m0 1v1m0 1v1m0 13v1m0 20v1m0 4v2m0 2v2m0 5v1m0 4v1M272.5 75v4m0 1v1m0 3v1m0 14v1m0 3v1m0 10v2m0 2v4m0 1v1m0 1v1m0 10v1m0 2v2m0 10v1m0 7v2m0 4v2M273.5 69v1m0 14v2m0 22v1m0 3v4m0 4v3m0 12v3m0 22v1m0 4v2m0 1v2m0 7v3M274.5 78v3m0 13v1m0 3v2m0 11v1m0 1v3m0 6v1m0 4v1m0 7v1m0 12v1m0 5v2m0 4v2m0 6v1m0 8v4M275.5 74v1m0 20v1m0 2v1m0 2v1m0 4v1m0 6v4m0 6v1m0 2v4m0 1v1m0 6v1m0 3v2m0 2v1m0 1v1m0 4v4m0 3v2m0 6v1m0 3v1m0 1v2m0 1v1m0 1v2M276.5 76v2m0 33v1m0 1v2m0 8v3m0 1v3m0 6v2m0 9v1m0 3v2m0 13v1m0 1v1m0 3v1m0 4v1m0 1v1M277.5 73v2m0 2v1m0 7v3m0 5v3m0 12v2m0 6v1m0 12v1m0 8v1m0 5v2m0 1v1m0 3v3M278.5 70v2m0 2v2m0 1v1m0 8v2m0 6v3m0 18v1m0 10v1m0 2v1m0 10v1m0 18v2m0 11v1m0 6v1M279.5 69v1m0 1v1m0 4v1m0 1v2m0 1v1m0 2v2m0 43v1m0 14v1m0 2v1m0 2v1m0 7v3m0 1v1m0 15v2M280.5 67v2m0 6v1m0 26v2m0 15v2m0 1v1m0 27v1m0 6v1m0 7v1m0 3v2m0 2v2M281.5 76v2m0 4v1m0 9v1m0 7v1m0 2v1m0 2v1m0 13v4m0 22v1m0 1v1m0 1v1m0 15v1m0 2v2m0 3v1M282.5 67v1m0 3v2m0 3v2m0 6v1m0 15v3m0 4v1m0 14v1m0 15v1m0 7v1m0 6v1m0 1v2m0 11v2m0 10v2M283.5 73v2m0 1v2m0 3v2m0 18v1m0 6v1m0 1v2m0 2v1m0 1v2m0 1v1m0 3v1m0 14v1m0 7v2m0 5v1m0 1v2M284.5 68v1m0 3v4m0 5v3m0 19v1m0 7v3m0 11v1m0 5v1m0 3v3m0 15v1m0 17v3m0 7v3M285.5 76v1m0 33v1m0 1v5m0 7v1m0 3v2m0 22v3m0 7v2m0 1v3m0 4v6m0 6v2M286.5 65v1m0 3v2m0 5v2m0 10v2m0 12v2m0 2v3m0 10v2m0 19v2m0 3v2m0 12v2m0 1v1m0 9v2m0 2v2m0 3v1m0 1v1m0 1v1M287.5 69v2m0 10v1m0 13v2m0 6v1m0 17v4m0 12v1m0 7v3m0 2v2m0 7v1m0 1v1m0 2v2m0 4v1m0 2v2m0 7v2M288.5 71v1m0 5v2m0 1v2m0 33v2m0 4v1m0 1v1m0 6v1m0 5v2m0 4v1m0 5v1m0 2v1m0 1v1m0 1v2m0 1v1m0 1v3m0 8v1m0 2v1m0 2v3M289.5 64v1m0 4v3m0 6v1m0 21v2m0 4v3m0 3v3m0 2v1m0 1v1m0 1v1m0 7v3m0 4v8m0 15v3m0 12v1M290.5 64v2m0 3v1m0 17v2m0 4v2m0 7v1m0 3v2m0 7v1m0 5v2m0 3v2m0 9v1m0 1v1m0 36v1M291.5 68v3m0 4v1m0 1v1m0 8v3m0 7v1m0 3v3m0 7v1m0 2v1m0 7v2m0 4v1m0 39v1m0 2v1M292.5 61v1m0 15v1m0 8v3m0 7v1m0 16v2m0 27v1m0 6v1m0 22v1M293.5 62v1m0 10v1m0 2v3m0 1v1m0 4v3m0 11v1m0 41v2m0 5v3M294.5 58v1m0 17v1m0 9v1m0 19v1m0 4v1m0 1v2m0 7v1m0 1v4m0 20v4m0 8v1M295.5 58v1m0 13v2m0 3v1m0 1v2m0 3v2m0 20v1m0 2v1m0 1v1m0 1v2m0 7v1m0 7v2m0 11v2m0 11v1m0 5v1m0 9v2m0 2v2M296.5 57v1m0 9v2m0 6v3m0 5v3m0 6v2m0 9v2m0 13v1m0 2v2m0 3v4m0 2v1m0 19v1m0 4v1m0 4v1m0 1v1m0 4v7M297.5 57v1m0 19v2m0 6v4m0 3v2m0 9v2m0 13v2m0 11v1m0 4v2m0 3v2m0 9v1m0 9v3m0 3v3m0 1v2M298.5 61v2m0 4v1m0 5v1m0 4v1m0 6v1m0 3v1m0 1v1m0 3v1m0 4v1m0 4v1m0 11v3m0 11v1m0 2v2m0 5v2m0 6v2M299.5 60v2m0 10v1m0 3v2m0 11v2m0 2v1m0 1v1m0 1v3m0 7v2m0 1v3m0 14v1m0 6v2m0 3v1m0 5v3m0 27v1M300.5 59v2m0 7v1m0 11v1m0 1v1m0 6v2m0 2v1m0 3v1m0 6v1m0 1v2m0 3v2m0 4v1m0 2v1m0 17v1m0 3v1m0 11v3m0 11v1m0 1v1m0 5v1m0 7v1M301.5 60v1m0 4v1m0 2v1m0 11v1m0 1v1m0 2v1m0 4v1m0 3v1m0 2v1m0 9v2m0 13v1m0 13v3m0 11v3m0 5v2m0 6v4m0 5v2m0 2v4m0 6v2M302.5 60v2m0 4v3m0 4v5m0 7v3m0 2v1m0 3v1m0 17v2m0 24v2m0 13v4m0 9v2m0 2v1m0 3v2m0 1v5m0 8v1M303.5 53v3m0 3v2m0 6v2m0 3v3m0 3v1m0 6v2m0 46v1m0 2v1m0 1v2m0 3v1m0 12v2m0 8v1m0 3v2m0 6v3m0 6v2M304.5 53v1m0 4v1m0 2v1m0 6v2m0 2v2m0 1v4m0 7v1m0 23v1m0 6v1m0 26v2m0 7v1m0 2v2m0 16v2m0 2v1m0 2v1m0 5v2M305.5 55v2m0 11v1m0 6v1m0 12v2m0 7v1m0 1v2m0 3v1m0 1v1m0 13v1m0 53v3m0 2v2m0 2v1M306.5 53v1m0 3v1m0 26v1m0 2v1m0 22v2m0 1v1m0 1v2m0 5v1m0 1v1m0 11v1m0 1v1m0 1v1m0 17v1m0 2v1m0 27v1M307.5 56v1m0 10v1m0 18v1m0 1v1m0 26v1m0 3v1m0 6v1m0 32v1m0 15v1m0 5v3m0 1v4M308.5 69v2m0 14v1m0 2v1m0 7v1m0 8v1m0 53v1m0 16v1m0 5v1m0 8v1M309.5 64v2m0 2v1m0 1v3m0 5v1m0 23v1m0 18v2m0 1v2m0 6v2m0 32v1m0 1v1m0 1v2m0 4v1m0 5v1m0 5v1M310.5 63v1m0 3v3m0 2v1m0 4v1m0 2v2m0 1v2m0 15v1m0 1v2m0 2v1m0 10v2m0 2v1m0 1v1m0 2v1m0 5v1m0 8v2m0 4v1m0 10v1m0 11v2m0 1v5m0 5v2m0 6v1M311.5 56v3m0 7v1m0 3v2m0 19v1m0 1v1m0 13v1m0 3v1m0 7v1m0 1v2m0 25v1m0 25v1M312.5 54v1m0 1v1m0 1v1m0 5v2m0 3v1m0 7v1m0 7v1m0 9v1m0 1v1m0 36v1m0 1v1m0 24v1m0 4v1m0 4v3m0 3v1m0 3v1M313.5 52v1m0 13v4m0 4v1m0 1v1m0 2v1m0 6v3m0 4v1m0 3v4m0 3v1m0 4v1m0 5v3m0 1v1m0 8v1m0 23v2m0 12v5m0 1v1m0 18v3M314.5 52v2m0 7v2m0 21v5m0 5v1m0 2v1m0 4v1m0 7v1m0 2v2m0 3v2m0 13v2m0 2v1m0 6v1m0 5v1m0 3v1m0 16v2m0 18v1M315.5 58v1m0 1v1m0 5v3m0 13v2m0 3v1m0 20v2m0 3v2m0 1v1m0 3v3m0 21v1m0 9v1m0 6v1m0 8v1m0 3v2m0 1v3m0 11v1M316.5 48v1m0 18v2m0 11v3m0 18v2m0 6v1m0 2v3m0 5v3m0 4v1m0 6v1m0 9v2m0 2v1m0 4v3m0 3v1m0 1v1m0 3v1m0 5v1M317.5 47v2m0 19v1m0 13v1m0 1v2m0 6v1m0 1v2m0 6v1m0 11v4m0 2v1m0 6v1m0 1v3m0 3v6m0 5v1m0 3v2m0 1v1m0 2v2m0 11v3m0 2v2m0 9v1M318.5 47v3m0 8v3m0 1v4m0 3v2m0 9v2m0 1v2m0 7v2m0 1v1m0 15v1m0 6v3m0 5v1m0 10v2m0 7v1m0 3v1m0 7v1m0 6v1m0 4v1m0 17v1m0 3v2M319.5 47v3m0 7v1m0 7v2m0 3v1m0 4v3m0 3v1m0 16v2m0 12v4m0 4v2m0 10v1m0 3v3m0 8v1m0 1v1m0 8v1m0 5v1m0 16v3m0 2v2M320.5 47v1m0 7v3m0 5v3m0 16v1m0 2v2m0 7v1m0 1v2m0 2v1m0 3v3m0 5v1m0 14v1m0 5v3m0 13v3m0 1v2m0 3v2m0 6v5m0 1v1M321.5 55v1m0 2v1m0 4v2m0 8v1m0 2v1m0 3v2m0 3v1m0 13v1m0 1v1m0 3v2m0 9v1m0 2v1m0 2v1m0 4v4m0 1v1m0 13v2m0 6v1m0 3v1m0 1v1m0 11v1m0 8v2m0 4v1m0 8v1M322.5 50v1m0 1v2m0 1v1m0 8v2m0 2v2m0 2v1m0 4v1m0 2v2m0 23v2m0 9v1m0 6v1m0 2v1m0 1v3m0 10v2m0 1v1m0 6v1m0 7v2m0 4v2m0 2v2m0 1v2m0 14v2m0 4v4M323.5 50v1m0 8v2m0 4v4m0 3v2m0 2v1m0 1v1m0 1v2m0 6v2m0 2v2m0 10v3m0 3v1m0 9v1m0 1v2m0 1v1m0 7v2m0 5v3m0 1v1m0 11v1m0 1v2m0 5v1m0 18v1m0 3v2m0 1v1m0 1v3M324.5 50v1m0 11v2m0 1v1m0 5v1m0 3v1m0 6v2m0 11v2m0 8v1m0 4v1m0 9v1m0 9v3m0 1v3m0 3v1m0 41v1m0 1v1m0 2v1M325.5 49v1m0 10v4m0 21v1m0 12v1m0 1v5m0 23v1m0 3v1m0 2v1m0 14v3m0 5v1m0 20v1m0 4v2m0 9v1M326.5 49v2m0 7v6m0 1v1m0 13v3m0 5v1m0 12v1m0 6v2m0 3v1m0 13v4m0 2v2m0 7v1m0 10v1m0 5v2m0 19v1m0 2v4m0 7v1m0 3v1M327.5 48v3m0 3v2m0 1v3m0 6v2m0 13v1m0 2v2m0 7v2m0 2v1m0 10v1m0 3v1m0 6v3m0 3v1m0 1v1m0 4v1m0 9v1m0 15v2m0 1v1m0 10v2m0 19v1m0 3v1M328.5 46v5m0 4v1m0 7v1m0 3v1m0 3v3m0 10v1m0 2v1m0 4v1m0 1v2m0 19v1m0 1v1m0 1v1m0 3v5m0 4v1m0 25v2m0 25v2m0 4v2m0 1v1m0 1v1M329.5 49v1m0 4v1m0 2v1m0 5v1m0 2v2m0 3v1m0 5v1m0 13v1m0 1v3m0 4v1m0 9v1m0 1v1m0 6v2m0 2v2m0 9v1m0 7v1m0 15v2m0 2v1m0 3v1m0 13v4m0 8v1m0 1v3M330.5 51v1m0 2v1m0 2v1m0 1v1m0 1v2m0 1v2m0 2v1m0 2v1m0 8v1m0 11v1m0 1v2m0 5v1m0 7v5m0 8v2m0 13v6m0 4v1m0 4v2m0 5v1m0 2v2m0 2v1m0 11v4m0 1v1m0 2v2M331.5 51v1m0 5v1m0 2v4m0 5v2m0 9v1m0 5v1m0 8v2m0 2v2m0 1v1m0 1v2m0 2v5m0 5v3m0 6v2m0 1v1m0 6v1m0 7v1m0 4v2m0 3v1m0 9v3m0 1v1m0 8v3m0 7v1M332.5 45v1m0 2v2m0 1v1m0 4v2m0 2v5m0 8v3m0 2v1m0 17v2m0 1v2m0 3v2m0 1v1m0 2v2m0 4v1m0 1v2m0 2v2m0 12v1m0 8v1m0 8v1m0 3v1m0 8v2m0 5v2m0 2v2m0 5v1m0 11v2M333.5 51v1m0 5v1m0 3v2m0 9v3m0 4v1m0 5v2m0 14v3m0 1v1m0 4v2m0 5v1m0 34v1m0 5v1m0 11v1m0 7v2m0 2v1m0 8v2m0 3v2M334.5 45v3m0 3v1m0 5v1m0 3v2m0 8v3m0 6v2m0 3v1m0 12v1m0 2v1m0 11v2m0 1v1m0 7v1m0 11v2m0 2v1m0 9v3m0 1v3m0 17v1m0 2v1m0 3v2m0 9v1m0 3v3M335.5 45v2m0 1v2m0 5v1m0 1v1m0 2v1m0 4v1m0 19v1m0 2v1m0 18v1m0 4v2m0 3v6m0 16v1m0 14v1m0 1v2m0 24v1m0 3v2M336.5 44v4m0 1v1m0 6v2m0 10v1m0 8v3m0 7v1m0 4v2m0 5v3m0 6v2m0 3v1m0 11v1m0 9v2m0 1v3m0 5v1m0 6v3m0 2v1m0 14v1m0 6v3M337.5 43v4m0 5v4m0 4v2m0 2v1m0 2v1m0 9v3m0 4v1m0 6v2m0 1v1m0 5v2m0 12v1m0 3v1m0 4v1m0 7v1m0 4v1m0 17v2m0 2v3m0 7v1m0 1v1m0 2v2m0 7v2M338.5 43v3m0 8v1m0 2v1m0 6v2m0 19v1m0 15v1m0 18v4m0 9v2m0 33v1m0 1v2m0 10v1M339.5 51v1m0 1v1m0 9v1m0 6v1m0 2v3m0 2v1m0 4v1m0 15v1m0 2v1m0 13v2m0 2v1m0 2v1m0 29v1m0 15v4m0 4v2m0 5v2M340.5 42v1m0 13v1m0 1v2m0 1v1m0 12v1m0 24v3m0 7v2m0 7v3m0 27v2m0 11v1m0 5v1m0 8v1m0 3v1m0 15v2M341.5 49v2m0 8v1m0 3v2m0 8v2m0 1v1m0 8v1m0 2v2m0 7v4m0 15v3m0 8v3m0 4v2m0 14v1m0 9v3m0 6v1m0 10v2m0 6v1m0 1v2m0 8v1M342.5 39v1m0 4v1m0 41v2m0 2v1m0 4v1m0 1v2m0 7v1m0 6v1m0 2v2m0 10v2m0 13v1m0 4v2m0 4v3m0 4v2m0 14v3m0 3v1m0 4v4M343.5 39v2m0 11v2m0 45v2m0 11v1m0 9v2m0 11v1m0 22v2m0 2v1m0 14v2m0 17v1M344.5 81v1m0 1v1m0 1v1m0 12v3m0 9v1m0 1v1m0 1v1m0 7v2m0 11v1m0 20v1m0 18v1m0 2v1m0 17v1m0 1v1M345.5 79v1m0 12v4m0 1v1m0 2v1m0 8v3m0 21v1m0 1v1m0 5v1m0 14v1m0 3v2m0 9v1m0 3v3m0 3v1m0 2v2m0 5v5m0 2v1M346.5 48v1m0 12v1m0 5v2m0 4v1m0 12v1m0 12v1m0 39v1m0 4v2m0 1v2m0 3v3m0 6v3m0 22v1m0 3v1m0 6v2M347.5 54v3m0 1v1m0 7v4m0 4v2m0 1v1m0 5v1m0 2v3m0 7v1m0 9v2m0 1v1m0 1v1m0 33v1m0 1v2m0 4v4m0 5v1m0 21v2M348.5 49v1m0 3v1m0 1v2m0 2v1m0 14v1m0 21v4m0 2v1m0 6v3m0 25v3m0 4v1m0 2v3m0 5v1m0 4v1m0 6v4m0 6v1m0 7v1m0 2v1m0 5v1M349.5 47v2m0 1v1m0 5v2m0 3v1m0 8v2m0 3v2m0 22v2m0 3v1m0 4v2m0 13v1m0 1v2m0 25v1m0 7v1m0 2v1m0 1v2m0 6v1m0 1v1m0 1v1m0 5v3M350.5 42v2m0 3v1m0 2v2m0 4v1m0 9v1m0 6v1m0 11v1m0 5v1m0 3v1m0 4v3m0 6v1m0 1v1m0 2v1m0 9v1m0 1v2m0 20v1m0 6v1m0 3v1m0 8v3m0 6v1m0 6v2m0 5v4M351.5 42v3m0 3v3m0 1v2m0 6v2m0 1v1m0 2v1m0 7v3m0 1v1m0 8v2m0 11v1m0 5v2m0 3v1m0 3v2m0 10v1m0 14v1m0 8v1m0 4v1m0 4v1m0 4v4m0 15v1m0 1v1m0 4v2m0 3v1M352.5 44v1m0 7v1m0 19v5m0 6v1m0 4v2m0 2v2m0 6v1m0 14v1m0 2v2m0 13v1m0 7v1m0 14v1m0 11v4m0 4v1m0 10v5m0 5v1M353.5 69v4m0 9v2m0 4v1m0 11v1m0 14v1m0 3v1m0 14v1m0 2v1m0 1v4m0 25v1m0 23v3M354.5 44v1m0 12v2m0 12v1m0 26v1m0 1v1m0 16v1m0 2v3m0 11v1m0 2v1m0 3v2m0 7v1m0 13v7m0 6v1m0 1v2m0 1v2m0 9v1M355.5 65v2m0 2v1m0 5v4m0 10v3m0 3v1m0 3v2m0 4v1m0 3v1m0 8v2m0 1v1m0 28v1m0 14v2m0 1v1m0 8v2m0 3v2m0 9v1M356.5 43v1m0 11v1m0 4v1m0 9v1m0 3v2m0 2v1m0 6v1m0 4v2m0 15v4m0 12v3m0 10v2m0 2v1m0 19v1m0 4v1m0 1v1m0 1v2m0 6v1m0 15v1m0 2v4M357.5 43v1m0 8v2m0 6v2m0 17v1m0 6v2m0 20v1m0 1v1m0 26v1m0 32v1m0 3v1m0 9v3m0 9v1M358.5 54v1m0 2v4m0 3v4m0 6v1m0 4v1m0 19v1m0 1v2m0 2v2m0 1v1m0 1v1m0 5v1m0 2v2m0 2v1m0 2v1m0 11v1m0 7v4m0 7v4m0 5v1m0 3v2m0 1v5m0 3v1m0 2v2M359.5 44v1m0 10v2m0 8v1m0 2v1m0 5v2m0 2v3m0 3v1m0 5v1m0 16v1m0 8v1m0 2v5m0 14v2m0 4v1m0 2v1m0 7v1m0 1v4m0 7v1m0 2v1m0 1v1m0 2v2m0 1v1m0 4v1m0 4v3m0 8v1m0 3v3M360.5 44v2m0 7v3m0 3v1m0 4v1m0 4v2m0 8v2m0 13v1m0 19v1m0 2v3m0 2v2m0 10v1m0 2v2m0 5v5m0 4v2m0 1v3m0 10v3m0 9v2m0 6v4M361.5 64v3m0 6v9m0 12v1m0 2v1m0 1v1m0 5v1m0 8v1m0 2v2m0 14v2m0 11v2m0 8v1m0 6v1m0 4v1m0 20v1m0 5v1m0 2v3M362.5 52v1m0 5v1m0 7v2m0 9v1m0 2v2m0 24v2m0 4v1m0 1v1m0 1v1m0 5v2m0 10v2m0 3v1m0 1v1m0 13v1m0 1v2m0 5v2m0 1v3m0 6v3m0 2v1m0 1v2m0 15v2M363.5 50v3m0 2v1m0 6v2m0 2v1m0 17v1m0 5v1m0 5v1m0 9v1m0 5v1m0 4v1m0 4v2m0 18v2m0 6v1m0 2v2m0 2v3m0 1v1m0 1v1m0 3v2m0 7v2m0 1v2m0 5v2m0 1v1m0 3v1m0 6v1M364.5 48v3m0 2v2m0 1v1m0 2v1m0 2v1m0 2v2m0 44v1m0 4v1m0 38v1m0 3v1m0 7v2m0 16v1m0 2v2m0 4v1m0 4v1M365.5 53v4m0 5v1m0 1v3m0 2v3m0 15v1m0 4v2m0 2v1m0 2v1m0 9v2m0 5v2m0 13v1m0 15v1m0 7v1m0 11v1m0 6v2m0 6v2m0 11v1m0 3v1m0 4v3M366.5 50v4m0 23v3m0 13v1m0 4v2m0 1v3m0 2v3m0 5v1m0 16v2m0 14v1m0 11v4m0 4v1m0 7v2m0 1v2m0 24v1m0 2v2M367.5 50v1m0 25v4m0 1v1m0 20v2m0 12v2m0 10v1m0 3v1m0 1v5m0 10v4m0 6v2m0 1v2m0 3v2m0 9v1m0 23v3m0 2v1M368.5 63v1m0 7v1m0 1v1m0 4v1m0 3v2m0 1v1m0 14v2m0 23v2m0 3v3m0 8v1m0 13v2m0 4v7m0 1v3m0 4v2m0 4v2m0 23v2M369.5 78v2m0 17v2m0 4v1m0 1v3m0 8v3m0 6v3m0 2v1m0 7v2m0 6v1m0 4v3m0 1v3m0 13v1m0 9v2m0 12v1m0 1v1m0 5v1M370.5 48v1m0 1v1m0 10v2m0 1v1m0 6v1m0 1v1m0 1v2m0 1v2m0 9v2m0 1v1m0 4v2m0 6v3m0 8v3m0 2v1m0 2v2m0 7v1m0 11v1m0 5v1m0 3v2m0 1v1m0 34v1m0 2v1m0 2v1m0 1v2m0 4v2M371.5 48v3m0 9v5m0 23v2m0 7v3m0 1v2m0 2v2m0 7v4m0 5v3m0 6v2m0 1v1m0 1v1m0 4v1m0 5v3m0 3v3m0 3v1m0 22v4m0 7v1M372.5 48v1m0 12v2m0 8v1m0 1v1m0 11v1m0 1v1m0 3v1m0 8v1m0 13v3m0 19v3m0 1v1m0 1v1m0 11v2m0 5v1m0 13v2m0 5v2m0 1v1m0 7v3M373.5 75v1m0 6v3m0 4v2m0 1v1m0 6v3m0 9v2m0 20v1m0 1v1m0 6v6m0 9v3m0 1v2m0 1v2m0 10v2m0 16v1m0 14v2M374.5 79v3m0 18v2m0 4v7m0 29v5m0 19v1m0 9v2m0 34v1M375.5 62v2m0 7v1m0 7v3m0 24v2m0 11v1m0 3v1m0 13v1m0 1v1m0 1v1m0 18v1m0 4v1m0 13v1m0 14v1m0 1v4m0 9v3M376.5 62v1m0 5v1m0 13v1m0 11v3m0 11v2m0 1v3m0 10v1m0 8v1m0 1v1m0 5v1m0 18v1m0 4v4m0 10v1m0 4v1m0 5v1m0 4v1m0 3v1m0 10v2M377.5 50v2m0 6v4m0 25v1m0 12v1m0 7v2m0 5v1m0 1v1m0 12v1m0 2v1m0 4v3m0 11v4m0 27v2m0 3v1m0 4v1m0 2v2M378.5 50v3m0 17v2m0 19v1m0 6v3m0 21v2m0 1v1m0 26v4m0 5v2m0 5v2m0 8v1m0 5v2m0 6v3m0 4v1M379.5 67v2m0 7v1m0 3v2m0 11v1m0 3v2m0 19v5m0 4v2m0 2v2m0 14v2m0 15v2m0 1v3m0 8v1m0 8v1m0 7v2m0 1v1M380.5 60v3m0 1v1m0 3v2m0 6v1m0 9v2m0 1v1m0 6v1m0 17v1m0 3v3m0 4v2m0 2v5m0 20v1m0 4v2m0 2v2m0 5v1m0 4v1m0 1v2m0 3v1m0 2v1m0 1v4m0 4v2m0 1v2m0 2v1m0 2v2M381.5 83v1m0 3v2m0 21v6m0 3v4m0 8v2m0 3v1m0 17v3m0 7v1m0 4v2m0 1v3m0 8v3m0 1v1m0 15v1M382.5 55v1m0 4v3m0 22v2m0 24v1m0 1v1m0 1v1m0 5v1m0 14v1m0 22v1m0 2v3m0 4v2m0 12v4m0 7v1m0 12v1m0 3v1M383.5 56v3m0 1v1m0 17v1m0 8v1m0 9v1m0 12v2m0 4v1m0 18v2m0 2v1m0 20v2m0 18v3m0 2v3m0 7v1m0 15v1M384.5 56v3m0 7v1m0 2v1m0 3v3m0 2v3m0 1v1m0 6v1m0 5v1m0 8v2m0 9v2m0 6v3m0 13v3m0 5v2m0 25v5m0 2v1m0 1v2m0 1v2m0 7v1M385.5 54v1m0 4v1m0 4v1m0 7v2m0 14v4m0 4v3m0 1v2m0 8v3m0 9v1m0 21v2m0 2v2m0 19v2m0 1v5m0 9v4M386.5 73v1m0 14v2m0 6v3m0 3v1m0 9v1m0 10v4m0 14v1m0 5v1m0 7v1m0 3v3m0 8v3m0 1v2m0 11v1m0 14v4m0 2v4M387.5 56v3m0 9v1m0 3v1m0 6v1m0 8v3m0 7v1m0 3v1m0 2v2m0 2v2m0 1v1m0 2v2m0 7v1m0 1v2m0 7v2m0 23v4m0 8v3m0 15v2m0 17v1m0 1v3M388.5 79v1m0 15v3m0 8v1m0 2v1m0 2v5m0 11v1m0 7v1m0 8v1m0 18v1m0 8v2m0 11v6m0 17v1M389.5 63v2m0 6v2m0 28v1m0 42v1m0 2v3m0 14v2m0 6v2m0 12v5M390.5 62v2m0 8v3m0 26v1m0 13v1m0 3v1m0 14v3m0 9v3m0 2v1m0 2v1m0 22v1m0 3v1m0 14v1m0 4v4m0 6v1M391.5 53v1m0 4v1m0 3v1m0 2v3m0 6v1m0 20v1m0 4v1m0 16v1m0 25v1m0 36v1m0 8v1m0 13v1m0 3v3M392.5 53v2m0 4v2m0 5v2m0 4v1m0 2v3m0 18v2m0 7v2m0 25v1m0 4v2m0 2v1m0 2v1m0 18v1m0 12v1m0 4v3m0 5v1m0 6v1m0 1v1m0 9v2M393.5 54v1m0 3v1m0 5v2m0 5v1m0 48v1m0 19v2m0 1v2m0 10v3m0 4v2m0 5v1m0 20v2m0 1v1m0 4v1m0 1v1M394.5 63v3m0 8v1m0 2v1m0 1v1m0 6v2m0 14v3m0 4v1m0 1v3m0 2v2m0 2v1m0 14v1m0 2v1m0 2v1m0 1v2m0 5v1m0 3v1m0 3v1m0 1v3m0 13v1m0 6v1m0 1v1m0 2v3m0 7v5m0 1v1M395.5 63v3m0 7v1m0 1v3m0 1v1m0 10v4m0 11v2m0 4v3m0 3v2m0 4v1m0 28v3m0 1v1m0 5v1m0 28v3m0 4v2m0 1v1m0 2v1M396.5 64v1m0 4v2m0 1v2m0 2v2m0 1v2m0 5v2m0 2v2m0 1v1m0 1v4m0 2v1m0 10v1m0 4v2m0 7v1m0 4v4m0 3v1m0 13v1m0 8v3m0 1v1m0 1v1m0 3v1m0 6v1m0 19v1m0 2v1m0 2v1M397.5 56v1m0 13v1m0 5v3m0 24v1m0 2v2m0 8v1m0 9v1m0 4v1m0 1v1m0 6v4m0 8v3m0 7v1m0 4v1m0 11v1m0 1v3m0 5v2m0 3v3m0 10v1M398.5 74v2m0 22v2m0 1v3m0 12v2m0 1v1m0 24v1m0 10v1m0 5v1m0 25v1m0 5v2m0 10v1m0 1v2M399.5 74v2m0 6v1m0 19v1m0 1v2m0 13v2m0 15v1m0 1v1m0 6v1m0 2v1m0 1v1m0 1v2m0 14v5m0 28v1m0 4v1M400.5 56v1m0 4v4m0 10v1m0 3v1m0 3v1m0 4v1m0 18v1m0 13v1m0 1v1m0 3v1m0 2v1m0 4v1m0 6v3m0 13v1m0 29v1m0 3v4m0 4v4M401.5 55v3m0 7v1m0 9v2m0 2v1m0 26v2m0 15v3m0 11v1m0 3v1m0 22v2m0 10v1m0 11v1m0 2v3m0 8v2M402.5 56v1m0 2v1m0 3v2m0 9v3m0 4v1m0 14v3m0 4v1m0 5v1m0 2v1m0 8v3m0 12v1m0 2v2m0 24v1m0 6v3m0 6v1m0 6v2m0 1v3m0 15v1M403.5 57v2m0 31v1m0 6v1m0 2v1m0 9v2m0 18v2m0 8v1m0 5v1m0 17v1m0 6v3m0 6v3m0 7v1m0 1v2m0 4v2M404.5 58v1m0 5v2m0 3v2m0 8v1m0 2v3m0 1v1m0 1v1m0 11v1m0 7v5m0 15v1m0 1v1m0 5v3m0 1v2m0 22v1m0 8v1m0 5v3m0 7v1m0 3v2m0 9v2M405.5 56v3m0 3v3m0 14v1m0 1v3m0 14v1m0 1v2m0 2v3m0 20v1m0 6v2m0 7v1m0 46v4m0 7v2m0 1v3M406.5 56v2m0 2v3m0 14v5m0 14v5m0 3v1m0 1v2m0 5v2m0 9v1m0 3v1m0 1v2m0 1v1m0 12v1m0 6v2m0 32v2m0 2v3m0 5v1m0 3v2M407.5 66v2m0 1v1m0 7v4m0 1v3m0 10v1m0 2v1m0 6v4m0 1v1m0 2v2m0 3v1m0 34v1m0 4v1m0 23v2m0 5v4m0 5v1m0 3v1M408.5 66v2m0 8v1m0 17v1m0 1v3m0 16v1m0 2v1m0 10v1m0 11v3m0 8v2m0 4v1m0 31v1M409.5 65v3m0 2v2m0 31v1m0 1v1m0 15v3m0 3v1m0 13v3m0 9v1m0 2v1m0 3v1m0 21v1m0 4v1m0 18v1M410.5 59v1m0 2v1m0 9v1m0 10v4m0 2v1m0 5v1m0 8v4m0 13v9m0 2v1m0 7v2m0 8v3m0 2v2m0 18v2m0 1v1m0 3v2m0 3v2m0 5v1m0 1v3m0 2v1m0 4v1M411.5 64v3m0 16v4m0 14v1m0 2v1m0 7v1m0 2v2m0 12v1m0 4v1m0 5v4m0 7v1m0 4v1m0 1v4m0 4v1m0 4v1m0 8v1m0 1v1m0 10v1m0 1v4M412.5 64v4m0 9v4m0 1v1m0 1v3m0 2v2m0 1v2m0 8v2m0 3v1m0 9v1m0 19v3m0 1v2m0 5v1m0 5v2m0 4v1m0 1v2m0 2v3m0 7v2m0 5v1m0 4v1m0 3v1m0 1v2M413.5 78v1m0 6v2m0 15v1m0 2v4m0 57v1m0 9v2m0 10v1m0 3v2M414.5 80v3m0 7v3m0 7v2m0 2v1m0 3v4m0 6v1m0 14v1m0 34v3m0 6v2m0 7v2m0 5v1M415.5 60v2m0 5v1m0 19v1m0 16v1m0 5v1m0 1v1m0 1v1m0 1v1m0 7v2m0 7v2m0 20v1m0 1v1m0 18v2m0 7v1m0 1v2M416.5 59v1m0 6v2m0 7v2m0 10v6m0 8v2m0 17v1m0 1v1m0 1v1m0 3v1m0 1v1m0 4v8m0 2v1m0 1v1m0 8v2m0 15v3m0 4v1m0 2v6m0 4v1m0 4v2M417.5 64v1m0 1v2m0 21v1m0 3v1m0 13v3m0 2v1m0 12v2m0 9v3m0 2v1m0 1v2m0 12v1m0 7v1m0 2v1m0 8v1m0 15v1m0 2v6M418.5 63v1m0 6v2m0 6v1m0 3v1m0 24v1m0 5v4m0 7v2m0 11v5m0 1v1m0 6v4m0 1v2m0 5v4m0 15v1m0 1v1m0 10v2m0 1v3M419.5 67v1m0 6v2m0 37v1m0 10v1m0 12v4m0 1v1m0 9v1m0 4v4m0 10v1m0 28v1M420.5 72v1m0 10v1m0 5v2m0 14v1m0 16v2m0 19v1m0 13v4m0 13v1m0 12v2m0 12v2M421.5 71v1m0 1v1m0 2v1m0 21v2m0 4v1m0 10v1m0 16v1m0 1v1m0 15v5m0 14v1m0 5v1m0 11v2m0 3v4m0 5v2M422.5 59v1m0 1v3m0 4v2m0 12v3m0 1v1m0 13v1m0 3v3m0 8v1m0 18v2m0 5v1m0 10v3m0 14v2m0 9v2m0 13v1m0 5v2M423.5 67v3m0 12v2m0 5v3m0 9v3m0 2v1m0 24v1m0 3v1m0 4v1m0 8v1m0 2v2m0 4v2m0 6v1m0 4v2m0 7v3m0 6v1m0 6v2m0 1v3M424.5 70v1m0 1v1m0 6v1m0 9v2m0 6v2m0 4v3m0 4v2m0 10v2m0 3v4m0 8v1m0 19v2m0 4v2m0 2v1m0 8v3m0 9v1M425.5 72v1m0 15v4m0 1v1m0 9v2m0 5v1m0 2v1m0 14v3m0 6v3m0 13v2m0 3v3m0 5v1m0 3v3m0 4v2m0 11v1M426.5 101v1m0 1v2m0 18v1m0 4v3m0 11v2m0 1v1m0 7v2m0 16v2m0 5v2m0 1v5M427.5 64v2m0 2v1m0 1v1m0 13v1m0 12v1m0 42v1m0 11v2m0 3v1m0 4v4m0 33v1M428.5 64v1m0 1v3m0 3v1m0 10v1m0 3v1m0 23v4m0 2v2m0 13v2m0 1v1m0 2v2m0 3v3m0 5v2m0 12v1m0 4v3m0 7v1m0 15v1m0 2v1M429.5 64v2m0 7v1m0 4v2m0 4v1m0 4v1m0 11v3m0 12v1m0 15v2m0 7v3m0 8v1m0 5v2m0 7v6m0 6v1m0 1v3M430.5 67v3m0 5v2m0 2v1m0 4v2m0 17v1m0 8v1m0 1v1m0 4v3m0 6v3m0 1v2m0 7v3m0 17v2M431.5 68v3m0 4v1m0 1v2m0 10v1m0 2v1m0 27v3m0 11v2m0 27v1m0 1v2m0 16v1m0 1v1M432.5 82v1m0 1v3m0 6v1m0 6v2m0 7v1m0 5v1m0 13v2m0 15v1m0 1v1m0 2v1m0 20v2m0 6v3m0 1v5m0 6v2M433.5 66v2m0 1v1m0 1v1m0 15v2m0 23v1m0 17v1m0 14v1m0 1v1m0 4v2m0 8v3m0 10v8m0 4v1m0 1v1m0 5v3M434.5 69v3m0 33v2m0 7v3m0 3v2m0 3v1m0 7v1m0 13v2m0 13v3m0 1v2m0 7v5m0 2v1m0 6v1m0 5v1M435.5 91v2m0 18v2m0 8v1m0 3v2m0 1v2m0 3v2m0 12v3m0 24v1m0 2v2m0 3v1m0 3v2m0 5v1m0 1v2M436.5 76v1m0 18v2m0 12v5m0 4v2m0 13v1m0 6v2m0 5v1m0 1v1m0 3v6m0 1v1m0 12v5m0 4v3M437.5 71v1m0 5v1m0 3v1m0 6v2m0 4v3m0 9v5m0 8v1m0 13v1m0 1v2m0 8v1m0 7v5m0 3v1m0 12v2m0 3v1m0 2v3M438.5 70v2m0 5v1m0 1v1m0 2v2m0 2v1m0 1v1m0 1v2m0 5v2m0 8v2m0 7v2m0 8v2m0 2v1m0 1v2m0 1v2m0 5v1m0 10v1m0 1v3m0 5v1m0 8v1m0 1v2M439.5 88v2m0 7v2m0 19v1m0 2v3m0 15v1m0 9v2m0 9v1m0 1v2m0 11v1m0 18v1M440.5 79v1m0 8v1m0 6v2m0 4v2m0 12v1m0 5v2m0 2v1m0 3v3m0 4v1m0 4v2m0 10v1m0 20v1M441.5 70v2m0 11v1m0 8v2m0 6v1m0 2v3m0 23v2m0 3v1m0 7v2m0 2v3m0 17v1m0 2v2m0 20v2M442.5 73v3m0 11v1m0 17v1m0 5v1m0 2v2m0 15v1m0 3v3m0 4v1m0 2v4m0 8v1m0 3v1m0 8v1m0 21v1M443.5 70v1m0 2v3m0 13v1m0 11v2m0 2v2m0 30v4m0 4v1m0 2v1m0 12v1m0 1v1m0 3v2m0 4v3M444.5 74v5m0 58v2m0 2v1m0 1v3m0 1v3m0 10v1M445.5 73v6m0 1v6m0 7v2m0 11v2m0 3v1m0 2v1m0 6v1m0 23v2m0 6v2m0 6v3m0 1v1m0 8v2m0 3v2M446.5 70v1m0 7v1m0 7v1m0 6v1m0 12v3m0 12v3m0 23v1m0 9v3m0 10v1m0 2v2M447.5 72v1m0 7v2m0 6v2m0 2v1m0 10v1m0 11v1m0 7v2m0 13v1m0 19v1m0 5v1m0 3v1m0 1v1m0 7v1M448.5 73v2m0 2v1m0 2v2m0 23v2m0 19v1m0 10v4m0 2v2m0 2v1m0 7v1m0 1v3m0 2v1m0 1v1m0 6v2m0 2v1m0 12v1M449.5 73v3m0 42v3m0 6v5m0 5v1m0 5v1m0 3v1m0 3v1m0 23v1m0 3v1M450.5 79v3m0 26v1m0 22v1m0 1v1m0 8v5m0 3v2m0 3v1m0 4v1m0 11v1m0 4v2m0 1v2M451.5 83v1m0 5v1m0 19v1m0 2v1m0 12v1m0 25v2m0 1v3m0 3v2m0 20v3M452.5 81v3m0 4v2m0 6v3m0 5v1m0 1v1m0 3v3m0 3v2m0 19v2m0 1v2m0 4v1m0 4v1m0 2v3m0 3v1m0 5v2m0 9v1M453.5 87v1m0 1v1m0 6v3m0 11v3m0 3v2m0 4v1m0 3v1m0 11v4m0 14v1m0 2v1m0 3v2m0 6v1M454.5 114v1m0 1v1m0 3v2m0 13v3m0 1v1m0 2v1m0 16v3m0 8v2M455.5 75v4m0 6v1m0 14v1m0 8v3m0 4v1m0 3v1m0 2v2m0 9v1m0 18v1m0 3v2m0 10v1M456.5 70v2m0 6v3m0 2v1m0 1v1m0 2v1m0 10v2m0 8v1m0 13v1m0 7v5m0 2v2m0 6v1m0 10v2m0 4v1m0 3v1m0 2v1m0 13v3M457.5 71v2m0 5v1m0 1v1m0 7v1m0 14v2m0 11v1m0 8v3m0 3v4m0 1v2m0 2v1m0 7v1m0 38v1M458.5 74v1m0 2v2m0 2v1m0 13v1m0 40v2m0 5v1m0 2v1m0 1v2m0 1v1m0 7v1m0 22v1M459.5 74v1m0 9v3m0 11v1m0 1v1m0 4v3m0 6v1m0 5v1m0 15v2m0 1v2m0 7v1m0 4v3m0 5v2m0 3v1m0 1v1m0 4v1m0 5v2m0 1v1M460.5 72v4m0 18v1m0 4v3m0 4v3m0 3v1m0 2v1m0 7v4m0 9v1m0 1v3m0 12v2m0 1v1m0 4v1m0 4v3m0 3v1m0 9v1M461.5 75v1m0 24v2m0 4v1m0 2v1m0 2v1m0 2v1m0 10v1m0 7v4m0 5v7m0 2v3m0 2v1m0 9v2M462.5 75v4m0 3v2m0 22v1m0 3v1m0 15v1m0 6v3m0 7v2m0 1v3m0 17v3m0 13v1M463.5 75v4m0 2v1m0 8v1m0 9v3m0 16v1m0 3v1m0 2v1m0 4v1m0 3v2m0 20v3m0 13v1m0 8v1M464.5 75v2m0 3v1m0 11v1m0 8v2m0 1v3m0 11v4m0 11v1m0 5v3m0 1v2m0 4v1m0 8v1m0 14v1M465.5 73v2m0 1v2m0 1v3m0 25v1m0 3v1m0 5v4m0 7v1m0 9v3m0 14v1m0 13v2m0 5v1M466.5 72v3m0 1v5m0 19v1m0 1v1m0 2v1m0 1v2m0 11v1m0 8v1m0 2v1m0 6v1m0 24v1m0 4v2M467.5 79v2m0 14v2m0 11v2m0 9v1m0 13v1m0 12v3m0 6v2m0 1v1m0 3v3M468.5 86v3m0 26v1m0 2v2m0 2v1m0 2v1m0 1v1m0 7v1m0 1v1m0 7v1m0 2v2m0 17v2m0 1v1m0 6v2M469.5 86v2m0 2v1m0 4v4m0 8v1m0 2v1m0 13v4m0 9v2m0 10v2m0 2v2m0 12v4m0 7v1M470.5 88v3m0 5v3m0 12v1m0 5v2m0 7v1m0 9v2m0 3v2m0 2v1m0 2v1m0 3v2m0 7v2M471.5 82v1m0 23v1m0 4v1m0 4v2m0 3v1m0 3v3m0 10v1m0 7v3m0 3v2m0 7v3m0 7v1m0 9v2M472.5 81v2m0 24v2m0 5v1m0 10v1m0 1v1m0 14v1m0 3v4m0 11v3M473.5 89v2m0 17v1m0 7v1m0 5v2m0 1v1m0 3v3m0 1v1m0 15v2m0 3v2m0 3v2m0 3v1m0 2v4M474.5 84v2m0 2v3m0 2v1m0 26v1m0 28v1m0 1v1m0 6v1m0 4v1m0 3v5m0 5v1M475.5 86v2m0 1v1m0 2v1m0 2v1m0 9v1m0 9v1m0 4v2m0 8v1m0 1v1m0 11v1m0 9v2m0 6v1m0 3v3m0 1v1M476.5 83v2m0 2v1m0 6v1m0 1v2m0 9v1m0 11v3m0 4v1m0 1v2m0 1v1m0 11v2m0 18v1M477.5 83v1m0 10v3m0 4v1m0 11v2m0 7v1m0 3v1m0 1v1m0 2v1m0 37v1M478.5 83v1m0 12v1m0 3v2m0 11v1m0 1v2m0 2v3m0 3v1m0 7v1m0 6v2m0 2v2m0 2v3m0 4v1m0 7v4m0 3v1m0 2v2M479.5 79v1m0 6v1m0 9v1m0 11v2m0 9v3m0 5v2m0 2v3m0 3v1m0 5v2m0 11v3m0 8v1m0 1v2M480.5 82v1m0 4v1m0 1v1m0 16v1m0 1v2m0 1v1m0 6v1m0 8v1m0 17v3m0 13v3m0 2v1m0 1v2M481.5 103v4m0 6v2m0 1v2m0 1v1m0 27v1m0 8v1m0 6v3M482.5 88v1m0 1v1m0 21v3m0 1v2m0 11v2m0 15v2m0 12v3m0 1v5m0 5v1M483.5 82v3m0 6v1m0 16v1m0 10v1m0 6v1m0 1v1m0 5v1m0 7v1m0 3v2m0 1v1m0 12v1m0 1v2m0 8v2M484.5 81v2m0 2v1m0 6v1m0 16v1m0 15v1m0 2v1m0 5v1m0 1v1m0 5v1m0 4v1m0 2v2m0 9v2m0 4v1M485.5 86v3m0 2v1m0 2v1m0 1v1m0 3v1m0 1v1m0 1v4m0 10v2m0 17v7m0 4v4m0 14v2m0 1v1M486.5 79v2m0 3v1m0 1v1m0 7v4m0 4v2m0 1v2m0 4v1m0 2v1m0 21v4m0 1v4m0 2v1m0 4v1m0 10v1m0 3v3M487.5 79v4m0 1v3m0 9v1m0 31v1m0 12v3m0 8v1m0 1v1M488.5 84v3m0 29v2m0 13v2m0 1v1m0 2v6m0 3v1m0 15v2M489.5 82v3m0 12v1m0 4v3m0 8v4m0 14v2m0 5v5m0 20v1m0 3v1M490.5 82v2m0 9v2m0 7v2m0 2v1m0 6v1m0 2v3m0 25v2m0 13v1m0 8v4M491.5 91v1m0 4v2m0 3v1m0 16v1m0 1v1m0 23v2m0 22v2m0 1v2M492.5 96v2m0 2v2m0 1v2m0 1v1m0 36v1m0 3v2m0 9v1M493.5 93v1m0 1v2m0 2v3m0 46v2m0 11v3m0 2v1m0 2v1m0 2v1M494.5 97v2m0 22v1m0 3v4m0 16v1m0 2v2m0 17v3m0 1v3M495.5 99v3m0 2v1m0 7v2m0 14v1m0 3v2m0 31v2m0 2v2M496.5 83v1m0 21v4m0 3v2m0 4v2m0 7v1m0 1v1m0 1v4m0 12v1m0 12v1m0 1v1m0 1v1m0 3v1M497.5 83v1m0 22v3m0 10v3m0 10v3m0 3v2m0 1v3m0 2v2M498.5 83v3m0 1v3m0 14v1m0 18v3m0 9v1m0 22v1M499.5 95v1m0 3v1m0 3v2m0 6v3m0 5v1m0 6v1m0 28v1m0 3v1M500.5 94v3m0 6v1m0 7v3m0 12v1m0 2v1m0 4v3m0 19v1m0 1v2M501.5 84v4m0 12v1m0 1v1m0 8v1m0 3v1m0 4v1m0 4v1m0 2v2m0 4v2m0 15v1m0 1v2m0 1v2m0 5v1m0 3v1M502.5 84v5m0 9v4m0 1v1m0 13v9m0 15v3m0 3v2m0 5v1m0 13v1M503.5 85v1m0 13v1m0 4v1m0 19v1m0 6v1m0 15v4m0 1v1m0 12v1m0 2v1M504.5 95v4m0 4v1m0 3v2m0 15v1m0 8v6m0 3v1m0 5v2m0 11v1M505.5 94v1m0 11v1m0 2v2m0 6v2m0 3v3m0 14v1m0 9v1m0 6v1m0 2v1m0 1v2m0 1v1M506.5 89v2m0 6v5m0 8v4m0 2v3m0 18v1m0 4v4m0 7v2m0 9v4M507.5 84v1m0 6v1m0 5v2m0 1v2m0 5v1m0 2v2m0 1v2m0 9v1m0 8v2m0 9v1m0 1v2m0 3v1m0 8v3M508.5 90v3m0 5v3m0 10v1m0 2v1m0 16v3m0 1v2m0 12v1m0 3v1m0 6v1m0 3v1M509.5 90v1m0 4v1m0 4v2m0 10v1m0 9v3m0 20v3m0 2v2m0 9v1m0 1v1m0 2v1M510.5 95v1m0 5v1m0 8v2m0 19v1m0 7v2m0 17v2m0 3v2M511.5 88v3m0 6v3m0 2v2m0 3v2m0 9v4m0 1v1m0 2v2m0 10v1m0 4v2m0 4v1m0 7v1m0 3v1M512.5 91v1m0 4v1m0 10v3m0 10v2m0 2v1m0 11v3m0 4v1M513.5 94v4m0 16v1m0 2v1m0 18v2m0 18v1m0 4v2M514.5 85v3m0 4v1m0 18v1m0 6v1m0 1v2m0 11v1m0 13v2m0 11v1m0 1v1M515.5 87v3m0 2v2m0 14v2m0 1v1m0 6v4m0 12v1m0 1v1m0 1v1m0 8v2M516.5 89v2m0 4v1m0 11v2m0 53v2M517.5 89v2m0 4v1m0 22v3m0 8v1m0 21v1m0 5v1M518.5 90v2m0 5v1m0 6v1m0 10v1m0 1v1m0 10v1m0 2v1m0 22v1m0 3v1m0 4v1M519.5 90v2m0 4v2m0 12v5m0 3v1m0 2v2m0 2v1m0 5v1m0 17v2m0 2v4m0 4v2M520.5 90v3m0 3v6m0 6v2m0 7v1m0 1v1m0 7v2m0 2v1m0 12v1m0 16v1M521.5 92v1m0 3v2m0 1v3m0 3v1m0 2v1m0 2v1m0 2v2m0 5v1m0 2v4m0 6v3m0 1v3m0 5v2m0 4v2m0 2v2m0 2v2M522.5 92v1m0 3v1m0 6v1m0 4v1m0 15v1m0 2v2m0 11v1m0 8v2m0 2v1m0 4v2M523.5 100v2m0 6v3m0 10v1m0 1v1m0 2v1m0 13v2m0 7v1m0 6v1M524.5 98v1m0 4v2m0 3v3m0 5v2m0 9v2m0 4v1m0 11v1m0 1v2M525.5 94v2m0 10v1m0 13v1m0 2v1m0 5v1m0 2v3M526.5 102v1m0 5v1m0 5v2m0 2v4m0 1v1m0 10v1m0 3v1M527.5 113v1m0 4v2M528.5 107v1m0 1v1m0 1v4m0 2v1m0 26v2m0 10v2M529.5 115v1m0 5v1m0 2v1m0 12v2m0 1v1m0 1v1m0 14v1M530.5 94v1m0 3v1m0 5v1m0 2v1m0 7v1m0 1v5m0 1v2m0 7v2m0 6v1m0 8v1M531.5 99v1m0 3v2m0 10v1m0 2v2m0 2v3m0 3v1m0 4v1m0 2v2m0 6v4m0 9v1M532.5 115v1m0 8v1m0 2v3m0 15v1m0 1v2m0 3v1m0 2v2M533.5 95v1m0 7v2m0 2v1m0 2v3m0 2v1m0 9v5m0 5v2m0 7v1m0 1v3m0 2v1M534.5 93v1m0 3v2m0 7v2m0 29v1m0 1v1m0 3v1m0 3v1m0 3v1M535.5 93v1m0 6v1m0 5v2m0 2v2m0 13v1m0 3v1m0 6v2m0 7v1m0 6v2m0 1v2M536.5 101v6m0 2v4m0 14v3m0 6v1m0 15v5M537.5 95v2m0 2v1m0 1v2m0 7v2m0 2v5m0 1v3m0 4v2m0 10v1m0 3v1m0 5v1m0 2v1M538.5 94v3m0 13v1m0 9v4m0 3v2m0 6v1m0 15v2M539.5 97v1m0 1v1m0 8v1m0 20v1m0 3v1m0 3v1m0 6v2M540.5 94v6m0 8v1m0 10v1m0 2v1m0 6v6m0 1v3m0 1v3m0 4v1m0 2v3M541.5 107v2m0 14v1m0 9v1m0 9v3M542.5 128v1m0 14v2M543.5 128v1m0 9v1M544.5 106v2m0 8v1m0 2v1m0 4v2m0 12v3M545.5 101v1m0 7v1m0 7v1m0 14v1m0 1v1m0 3v4M546.5 96v3m0 10v1m0 20v1m0 1v1m0 1v1m0 10v2m0 1v1M547.5 106v1m0 9v1m0 7v1m0 5v2m0 15v2M548.5 111v2m0 14v2m0 15v1m0 2v2M549.5 97v4m0 8v2m0 1v1m0 6v1m0 3v1m0 8v1m0 1v1m0 10v1m0 2v2M550.5 97v2m0 10v1m0 22v3m0 12v1M551.5 98v1m0 17v1m0 2v1m0 2v2m0 3v3m0 14v3M552.5 103v1m0 4v5m0 4v2m0 3v1m0 6v1M553.5 102v2m0 8v1m0 3v2m0 15v1M554.5 103v1m0 1v5m0 1v4m0 10v1m0 18v1m0 1v2M555.5 103v8m0 2v4m0 3v1m0 16v3m0 3v1m0 2v2M556.5 100v2m0 1v4m0 9v1m0 2v1m0 2v3m0 1v2m0 4v1m0 7v1m0 2v1m0 2v2M557.5 100v2m0 19v3m0 8v2m0 3v1m0 2v1m0 3v1M558.5 122v2m0 19v2M559.5 109v1m0 15v1M560.5 101v1m0 7v1m0 3v1m0 3v1m0 19v2m0 2v3M561.5 102v3m0 8v3m0 11v2m0 7v1m0 2v2M562.5 102v3m0 19v4m0 6v1m0 2v2M563.5 107v2m0 16v2M564.5 109v1m0 11v1m0 11v1M565.5 119v1m0 2v1m0 19v1M566.5 106v4m0 27v1m0 4v1M567.5 121v1m0 19v1M568.5 105v2m0 11v2M569.5 105v2m0 7v1m0 23v1m0 1v1M570.5 104v1m0 16v1m0 4v2m0 1v1m0 3v1m0 2v2m0 1v2M571.5 102v4m0 21v1m0 7v1M572.5 103v3m0 21v3m0 1v1m0 1v1m0 3v1M573.5 106v3M574.5 123v2m0 7v2M575.5 113v2m0 10v2m0 3v1m0 4v2M576.5 115v1m0 17v1m0 2v1M577.5 123v2m0 2v1m0 7v2M578.5 107v4m0 9v2m0 1v5M579.5 121v3m0 1v4m0 6v1M580.5 124v6m0 2v1m0 1v3M581.5 114v2m0 10v1m0 1v1m0 4v3M582.5 119v1m0 6v2m0 6v2M583.5 126v2m0 6v1M584.5 115v1m0 9v1M585.5 119v1m0 8v1M586.5 126v3m0 1v1M587.5 127v1m0 2v1M588.5 128v3M589.5 113v1m0 4v2m0 10v1M590.5 118v4m0 1v1m0 9v1M591.5 119v2m0 9v1M592.5 109v2m0 8v1m0 2v2m0 5v2M593.5 110v1m0 17v2M595.5 115v1M596.5 116v2m0 5v2M597.5 117v2m0 8v2M598.5 116v3m0 6v2M599.5 111v1m0 1v3m0 9v1M600.5 115v3m0 6v1m0 2v1M601.5 115v3m0 2v1m0 1v2m0 3v3M602.5 120v1m0 4v1m0 1v3M603.5 121v2m0 1v1m0 1v1m0 1v1M604.5 113v3m0 5v1m0 3v2M605.5 116v4m0 2v1m0 2v2M606.5 118v2m0 3v1M607.5 117v1m0 4v2M608.5 115v1m0 7v1M609.5 117v3m0 1v4M610.5 117v3m0 3v1M611.5 118v1m0 4v1M612.5 120v1m0 2v2M613.5 124v1M618.5 117v2M619.5 117v3M620.5 117v3"/>
<path stroke="rgb(148,191,106)" d="M104.5 133v1M105.5 133v1M106.5 132v3M110.5 132v3M111.5 134v2M112.5 131v3M113.5 132v1M114.5 132v1M116.5 130v2M117.5 129v3M118.5 135v1M119.5 137v1M121.5 131v1M122.5 130v1M123.5 126v2m0 8v1M124.5 125v3m0 8v1M127.5 133v1m0 5v1M128.5 123v3m0 4v1m0 3v1m0 2v3M129.5 124v2m0 8v1M130.5 124v1m0 3v1m0 4v1m0 2v1M131.5 124v2m0 10v2M132.5 133v1m0 2v3M133.5 125v1m0 8v2M134.5 126v1M135.5 126v1m0 11v1M136.5 137v1M137.5 129v3M138.5 122v1m0 3v1m0 2v3m0 1v2M139.5 132v3M140.5 126v2M141.5 127v2m0 3v1M142.5 130v3M143.5 138v1M144.5 117v1m0 8v2M145.5 117v1m0 8v1m0 3v2M146.5 120v1M147.5 125v3M148.5 142v1M149.5 140v4m0 2v1M150.5 133v1m0 1v3M151.5 123v4m0 6v1M152.5 123v5m0 3v1m0 9v1M153.5 117v1m0 3v1m0 2v4m0 2v1M154.5 120v5M155.5 120v2m0 2v1M156.5 118v2m0 4v3m0 12v1M157.5 124v3m0 11v2m0 4v5M158.5 112v2m0 29v2m0 1v2M159.5 111v3m0 18v1m0 11v1M160.5 116v1M162.5 134v1m0 1v3M163.5 127v1m0 4v3m0 4v1M164.5 129v1m0 8v1m0 8v4M165.5 129v1m0 11v1m0 7v1M167.5 149v1M169.5 141v1m0 1v1m0 4v1M170.5 141v3M171.5 107v2M172.5 107v2m0 10v3m0 18v1m0 5v1m0 3v1M173.5 117v4m0 3v1m0 21v1M174.5 119v1m0 1v1m0 16v4m0 2v1M175.5 105v1m0 13v3m0 15v1m0 1v2M176.5 105v1m0 13v1M177.5 108v1m0 8v3M178.5 103v1m0 8v1m0 16v2m0 2v6m0 10v1m0 2v1m0 1v1M179.5 104v2m0 9v1m0 11v1m0 4v6m0 11v1m0 4v1M180.5 102v4m0 20v1m0 4v3m0 11v2m0 3v2M181.5 103v1m0 21v1m0 20v1M182.5 104v2m0 49v1M183.5 142v2m0 2v2m0 4v1m0 2v1M184.5 139v1m0 2v2m0 10v1M185.5 145v1m0 5v4M186.5 125v2m0 24v4M187.5 103v2m0 20v1m0 21v3M188.5 109v3m0 21v2m0 1v3M189.5 109v1m0 23v2m0 7v1m0 11v2M191.5 124v2m0 15v1M192.5 121v2m0 24v1M193.5 140v1m0 3v4M194.5 143v1m0 10v2M195.5 115v1m0 17v4m0 2v1m0 3v1M196.5 114v1m0 40v2M197.5 98v1m0 35v4M198.5 123v1m0 17v3M199.5 124v1m0 5v3m0 7v3m0 6v2M200.5 94v1m0 2v1m0 32v3m0 14v2M201.5 92v3m0 35v1m0 2v1m0 14v1M202.5 93v2m0 38v1m0 9v6M203.5 115v1m0 31v1M204.5 100v1m0 1v1m0 25v2m0 16v2m0 5v2M205.5 128v1m0 24v2M206.5 94v8m0 2v1m0 23v1m0 10v2M207.5 99v1m0 11v2m0 9v2m0 15v1M208.5 97v1m0 1v1m0 11v2m0 8v4m0 13v1M209.5 107v1m0 17v2m0 1v1m0 6v1m0 6v1m0 1v2M210.5 92v3m0 10v3m0 8v2m0 4v1m0 3v1m0 9v2m0 3v1M211.5 92v3m0 5v4m0 19v3m0 1v1m0 1v1m0 7v2m0 2v1M212.5 94v1m0 9v1m0 2v1m0 29v3M213.5 95v1m0 8v2m0 1v1m0 13v5m0 11v3m0 8v2M214.5 119v1m0 4v2m0 28v1M215.5 107v1m0 3v1m0 44v1M216.5 130v2m0 3v1m0 3v1m0 1v1m0 14v1m0 4v1M217.5 88v2m0 33v2m0 9v1m0 2v3m0 12v3m0 1v1m0 1v1m0 2v2M218.5 86v9m0 26v1m0 13v2m0 1v2m0 3v2m0 10v2m0 1v1m0 1v1m0 1v1M219.5 87v2m0 4v1m0 2v1m0 41v1m0 1v2m0 7v3m0 6v4M220.5 94v1m0 1v2m0 23v1m0 8v2m0 6v1m0 5v5m0 3v1m0 7v2M221.5 95v1m0 1v2m0 22v1m0 8v2m0 8v2m0 2v4M222.5 92v5m0 10v1m0 2v2m0 4v1m0 2v4m0 2v1m0 8v2m0 5v1M223.5 91v1m0 2v3m0 13v1m0 10v2m0 15v1m0 4v2M224.5 85v1m0 7v1m0 2v1m0 13v1m0 22v3m0 3v3m0 1v1m0 1v3m0 2v1M225.5 85v1m0 21v1m0 9v1m0 4v1m0 23v1m0 15v1M226.5 84v2m0 1v1m0 1v2m0 8v2m0 8v1m0 1v1m0 12v1m0 2v2m0 18v2M227.5 88v3m0 9v2m0 8v3m0 3v1m0 6v1m0 29v2M228.5 87v1m0 10v1m0 9v2m0 8v1m0 1v5m0 12v2m0 13v4M229.5 97v3m0 7v3m0 11v1m0 15v2m0 7v1m0 8v2M230.5 85v2m0 1v1m0 5v3m0 38v1m0 24v2M231.5 88v1m0 7v1m0 43v2m0 9v1m0 14v2M232.5 82v1m0 1v1m0 2v2m0 29v3m0 8v2m0 11v1m0 23v1M233.5 82v1m0 35v3m0 9v2m0 6v5m0 26v1M234.5 123v1m0 3v1m0 3v1m0 4v3m0 4v4m0 15v1M235.5 83v1m0 56v1M236.5 83v1m0 61v2m0 1v2M237.5 83v1m0 7v3m0 16v1m0 3v2m0 33v1M238.5 80v1m0 2v2m0 6v2m0 3v1m0 11v2m0 6v1M239.5 80v4m0 4v2m0 6v1m0 11v2m0 5v1m0 8v2m0 15v1m0 2v1M240.5 95v1m0 19v1m0 9v3m0 12v1m0 1v3m0 13v2m0 2v3M241.5 102v3m0 15v1m0 4v1m0 33v1m0 2v1m0 1v1M242.5 98v3m0 55v2m0 2v1M243.5 94v1m0 6v1m0 13v1m0 42v3M244.5 113v2m0 42v3m0 8v1M245.5 85v2m0 6v3m0 15v3m0 3v1m0 2v1m0 32v1M246.5 79v3m0 2v2m0 50v1m0 2v1m0 13v3m0 8v1m0 6v1M247.5 97v2m0 10v2m0 9v2m0 17v1m0 6v10m0 7v2m0 7v1M248.5 79v1m0 1v2m0 15v1m0 24v1m0 25v5m0 15v1M249.5 74v1m0 21v1m0 14v1m0 12v1m0 6v2M250.5 95v1m0 1v2m0 13v1m0 9v3m0 19v3m0 21v1M251.5 75v1m0 69v1m0 2v2m0 3v5m0 10v1M252.5 83v3m0 3v1m0 15v4m0 1v1m0 35v2m0 1v1m0 6v2M253.5 107v1m0 24v1m0 11v4m0 3v1m0 3v2m0 12v4M254.5 109v1m0 20v1m0 1v1m0 30v1m0 1v1m0 3v2M255.5 79v1m0 7v4m0 12v1m0 16v1m0 21v2m0 26v1M256.5 78v2m0 5v2m0 2v2m0 16v2m0 32v3M257.5 76v2m0 71v1m0 1v3M258.5 82v1m0 2v2m0 33v1m0 3v4m0 20v2M259.5 73v2m0 6v5m0 12v1m0 26v2m0 1v1m0 19v1m0 17v2M260.5 75v1m0 6v3m0 23v1m0 17v1m0 5v1m0 2v1m0 8v2m0 20v1m0 6v2M261.5 92v1m0 3v4m0 6v1m0 6v1m0 13v2m0 7v2m0 18v1m0 15v3M262.5 89v1m0 16v3m0 36v2m0 9v2m0 20v1M263.5 72v1m0 33v2m0 13v1m0 32v1m0 4v1m0 17v2M264.5 72v1m0 8v1m0 21v1m0 1v2m0 13v1m0 5v1m0 19v2m0 9v1M265.5 77v3m0 20v1m0 14v1m0 1v3m0 4v2m0 18v1m0 5v1m0 7v1m0 7v2m0 1v5M266.5 77v2m0 4v1m0 16v1m0 4v1m0 4v1m0 4v5m0 18v3m0 1v1m0 2v3m0 23v2M267.5 73v1m0 8v2m0 10v1m0 44v1m0 5v1m0 19v3m0 3v1M268.5 72v5m0 14v1m0 9v2m0 5v1m0 43v4M269.5 73v2m0 16v1m0 9v1m0 29v1m0 9v1m0 5v2m0 26v3M270.5 73v2m0 12v2m0 10v2m0 1v1m0 8v1m0 10v2m0 5v3m0 9v1m0 28v1m0 7v2M271.5 66v1m0 13v1m0 5v1m0 10v2m0 38v2m0 38v1m0 1v2M272.5 66v3m0 12v3m0 18v1m0 21v1m0 12v2m0 18v2m0 21v2M273.5 79v4m0 24v1m0 15v1m0 1v2m0 21v4m0 4v1m0 1v2m0 7v1m0 2v2M274.5 68v1m0 12v2m0 14v1m0 10v3m0 23v1m0 1v3m0 14v1m0 13v1m0 7v2M275.5 72v1m0 23v2m0 7v1m0 6v1m0 22v3m0 3v1m0 24v2m0 1v3m0 1v1m0 2v1m0 1v1M276.5 64v1m0 26v4m0 8v1m0 3v4m0 21v4m0 7v1m0 1v2m0 20v1m0 2v2m0 6v1M277.5 62v5m0 9v1m0 7v1m0 22v1m0 31v2m0 2v1m0 2v1M278.5 69v1m0 6v1m0 1v4m0 45v1m0 13v4m0 32v2M279.5 66v3m0 6v1m0 6v2m0 41v1m0 2v1m0 19v2m0 14v1m0 7v2m0 3v1M280.5 66v1m0 33v1m0 20v1m0 27v1m0 5v2m0 5v3m0 3v1M281.5 83v2m0 5v2m0 9v2m0 1v2m0 13v1m0 17v1m0 9v1m0 1v1m0 2v2m0 1v2m0 11v1M282.5 66v1m0 14v3m0 36v2m0 15v1m0 10v2m0 2v1M283.5 72v1m0 27v1m0 31v4m0 12v1M284.5 110v1m0 17v1m0 3v3m0 17v1M285.5 67v1m0 2v6m0 26v1m0 46v1m0 1v1m0 19v1m0 9v1m0 1v1M286.5 68v1m0 2v5m0 28v2m0 6v5m0 33v2m0 1v2m0 3v1m0 7v1m0 7v2m0 6v1M287.5 75v3m0 31v1m0 42v1m0 18v2M288.5 110v1m0 2v2m0 3v2m0 27v1m0 4v1m0 1v1m0 4v1m0 13v1M289.5 65v1m0 105v3M290.5 98v1m0 4v1m0 4v3m0 5v2m0 20v1m0 32v3M291.5 76v1m0 32v1m0 7v1m0 2v1m0 47v2M292.5 60v1m0 10v2m0 24v1m0 45v1m0 4v1M293.5 58v4m0 6v1m0 2v2m0 9v1m0 13v3M294.5 80v2m0 3v1m0 18v2m0 36v1m0 2v1m0 12v1M295.5 67v2m0 13v2m0 21v1m0 15v1m0 2v1m0 2v1m0 14v1m0 17v2m0 12v2M296.5 74v1m0 7v1m0 47v2m0 14v2m0 3v1m0 6v1m0 2v1m0 5v2M297.5 56v1m0 13v2m0 2v1m0 1v1m0 53v1m0 9v1m0 9v2m0 9v1m0 9v1M298.5 74v1m0 1v2m0 8v3m0 4v2m0 30v1m0 3v2m0 9v1m0 5v2M299.5 74v2m0 29v2m0 33v1m0 1v1M300.5 65v3m0 6v2m0 5v1m0 39v2m0 44v1m0 11v3m0 6v1M301.5 67v1m0 13v1m0 9v3m0 12v1m0 58v1m0 4v1m0 3v1m0 11v1M302.5 80v1m0 12v1m0 17v1m0 21v5m0 19v1m0 1v1m0 8v2m0 1v3m0 2v1M303.5 57v2m0 6v2m0 10v1m0 33v1m0 8v1m0 13v2m0 4v2m0 34v2M304.5 67v1m0 6v1m0 7v1m0 2v1m0 2v2m0 6v4m0 12v1m0 6v2m0 16v1m0 5v1m0 10v1m0 21v2M305.5 53v1m0 19v2m0 11v2m0 17v1m0 30v2m0 1v1m0 3v1m0 33v1m0 4v1M306.5 54v3m0 10v1m0 17v2m0 12v2m0 13v1m0 6v1m0 15v1m0 22v1m0 13v2m0 3v4M307.5 54v2m0 27v2m0 28v2m0 3v1m0 1v1m0 6v4m0 8v2m0 35v1m0 7v1M308.5 50v1m0 3v2m0 28v1m0 32v1m0 48v3m0 8v1m0 3v1m0 4v1M309.5 49v2m0 1v1m0 23v2m0 23v1m0 1v1m0 1v1m0 17v1m0 6v2m0 25v6m0 4v1m0 15v2m0 1v1m0 4v2M310.5 50v4m0 12v1m0 4v1m0 6v2m0 13v1m0 7v1m0 23v1m0 5v1m0 27v4m0 29v1M311.5 54v2m0 19v3m0 30v1m0 1v1m0 9v1m0 22v1m0 3v1m0 1v1m0 22v2m0 1v7M312.5 53v1m0 1v1m0 20v1m0 1v4m0 1v2m0 9v1m0 13v1m0 1v3m0 1v1m0 16v3m0 1v1m0 8v1m0 3v1m0 4v1m0 16v1m0 7v3M313.5 51v1m0 23v1m0 7v3m0 17v1m0 10v1m0 22v1m0 7v1m0 2v4m0 36v3M314.5 51v1m0 5v1m0 2v1m0 34v2m0 15v1m0 16v4m0 13v2m0 1v1m0 2v2m0 36v1M315.5 59v1m0 1v1m0 22v3m0 31v2m0 26v1m0 3v1m0 1v2m0 15v1m0 1v3M316.5 83v2m0 15v1m0 14v3m0 1v1m0 3v2m0 22v1m0 2v3m0 19v4m0 15v1M317.5 83v1m0 28v2m0 4v2m0 6v1m0 22v1m0 2v1m0 10v3m0 20v3M318.5 56v2m0 3v1m0 32v1m0 18v2m0 16v1m0 4v1m0 12v1m0 7v1m0 5v2m0 20v3M319.5 54v3m0 1v1m0 3v2m0 30v1m0 22v1m0 1v1m0 10v1m0 17v1m0 8v1m0 27v1M320.5 62v1m0 9v1m0 11v1m0 13v2m0 18v3m0 25v3m0 16v1m0 14v6M321.5 62v1m0 11v2m0 1v1m0 1v1m0 4v1m0 15v1m0 3v1m0 15v2m0 2v3m0 23v1m0 2v1m0 5v1m0 11v1m0 2v2m0 10v1M322.5 62v2m0 3v1m0 46v2m0 8v2m0 23v1m0 6v3m0 5v1m0 2v1m0 16v1m0 2v1M323.5 49v1m0 11v1m0 1v2m0 9v1m0 16v1m0 15v3m0 5v2m0 4v1m0 27v1m0 7v1m0 29v1m0 4v1M324.5 49v1m0 10v1m0 11v1m0 1v1m0 19v1m0 13v2m0 75v2m0 1v1m0 3v4M325.5 48v1m0 18v1m0 2v1m0 1v1m0 4v4m0 5v1m0 7v3m0 29v2m0 1v1m0 1v1m0 48v1m0 2v1M326.5 48v1m0 5v1m0 15v1m0 7v1m0 6v2m0 23v2m0 18v2m0 25v1m0 22v2m0 12v3M327.5 46v2m0 4v2m0 11v1m0 10v1m0 1v3m0 7v2m0 1v1m0 4v1m0 12v3m0 14v1m0 3v2m0 47v1m0 4v1m0 9v3M328.5 65v2m0 2v2m0 20v1m0 1v1m0 22v1m0 13v2m0 32v2M329.5 55v2m0 7v2m0 3v2m0 8v1m0 12v1m0 22v4m0 18v1m0 2v2m0 21v3m0 12v2M330.5 45v2m0 1v3m0 4v2m0 6v1m0 5v2m0 7v2m0 11v1m0 23v1m0 2v3m0 9v2m0 16v1m0 7v1m0 1v1m0 5v2M331.5 44v1m0 14v1m0 21v1m0 1v1m0 1v1m0 15v1m0 14v2m0 4v5m0 9v1m0 9v1m0 2v1m0 2v3m0 18v2M332.5 44v1m0 1v1m0 3v1m0 4v1m0 24v1m0 4v2m0 16v1m0 4v2m0 7v1m0 2v2m0 2v3m0 6v2m0 7v1m0 1v1m0 4v3m0 24v1m0 9v1M333.5 54v3m0 6v2m0 13v1m0 20v2m0 7v2m0 67v1M334.5 54v3m0 21v2m0 4v1m0 1v1m0 12v2m0 7v3m0 4v1m0 33v1m0 40v2M335.5 56v1m0 4v4m0 17v1m0 1v1m0 1v2m0 20v1m0 5v3m0 6v1m0 1v2m0 28v1m0 24v2m0 7v1m0 2v1M336.5 48v1m0 14v2m0 2v1m0 17v2m0 25v1m0 1v2m0 1v2m0 18v1m0 21v1m0 10v3m0 11v1m0 3v1M337.5 42v1m0 7v2m0 14v1m0 18v3m0 5v1m0 17v2m0 2v3m0 14v2m0 1v1m0 35v2m0 15v1M338.5 37v6m0 6v1m0 3v1m0 38v4m0 20v2m0 12v1m0 1v1m0 39v1m0 2v2m0 6v2M339.5 36v7m0 6v2m0 1v1m0 4v6m0 1v1m0 7v1m0 11v2m0 6v1m0 1v1m0 5v1m0 65v1m0 8v1m0 10v2M340.5 39v1m0 9v2m0 6v1m0 14v2m0 2v1m0 4v4m0 2v4m0 4v2m0 63v1m0 7v3m0 6v3m0 5v3M341.5 58v1m0 18v2m0 7v1m0 4v6m0 50v3m0 20v1m0 5v3m0 6v3m0 11v1M342.5 51v3m0 22v2m0 10v2m0 6v1m0 18v1m0 10v2m0 32v1m0 21v1m0 3v1m0 11v5M343.5 82v4m0 3v1m0 20v2m0 1v3m0 44v2m0 38v3M344.5 79v2m0 3v1m0 1v1m0 2v2m0 17v2m0 1v1m0 22v1m0 33v4m0 5v1M345.5 80v4m0 6v1m0 17v1m0 59v3m0 11v2m0 12v2M346.5 78v6m0 4v3m0 5v3m0 44v1m0 15v2m0 22v3m0 3v1m0 3v3M347.5 45v5m0 9v3m0 8v1m0 2v1m0 2v1m0 2v1m0 17v2m0 9v1m0 34v2m0 41v2M348.5 45v4m0 5v1m0 14v1m0 3v1m0 43v1m0 2v1m0 1v2m0 42v1m0 7v1m0 11v2m0 2v2m0 4v1M349.5 45v1m0 16v1m0 10v2m0 26v1m0 60v2m0 1v1m0 2v3m0 12v1M350.5 59v1m0 3v3m0 8v3m0 19v2m0 7v1m0 2v1m0 9v1m0 4v1m0 1v1m0 23v2m0 2v2m0 5v3m0 8v1m0 3v2m0 1v1m0 4v1M351.5 64v2m0 7v1m0 5v3m0 3v2m0 2v1m0 18v1m0 5v1m0 35v1m0 2v2m0 7v1m0 17v1m0 10v1M352.5 87v1m0 26v1m0 40v1m0 18v2m0 20v1M353.5 42v3m0 23v1m0 15v4m0 10v2m0 25v1m0 7v1m0 1v2m0 27v1m0 22v2m0 1v2M354.5 41v3m0 11v2m0 12v2m0 47v2m0 3v1m0 3v1m0 2v1m0 2v1m0 1v2m0 39v1m0 8v2m0 5v1M355.5 43v1m0 10v1m0 1v2m0 9v2m0 10v3m0 14v1m0 1v1m0 80v1m0 1v1m0 8v2M356.5 42v1m0 13v4m0 13v1m0 5v3m0 7v1m0 9v4m0 58v1m0 1v1m0 4v1m0 10v5m0 3v6m0 2v1M357.5 42v1m0 15v2m0 17v2m0 16v6m0 6v1m0 61v1m0 6v2m0 17v1M358.5 41v3m0 63v1m0 9v2m0 5v2m0 46v1m0 9v1m0 10v3M359.5 42v2m0 9v2m0 16v3m0 43v2m0 16v3m0 2v4m0 28v1m0 1v2m0 9v1m0 8v4M360.5 42v2m0 16v3m0 5v1m0 4v1m0 14v1m0 3v2m0 42v1m0 5v2m0 36v1m0 12v1m0 1v1m0 4v1M361.5 67v3m0 23v1m0 43v2m0 12v1m0 2v2m0 8v4m0 1v1m0 4v2m0 5v1m0 6v1m0 1v2m0 1v2m0 1v2M362.5 63v3m0 10v1m0 10v2m0 2v3m0 7v5m0 7v1m0 1v1m0 47v1m0 9v1m0 5v2m0 9v1m0 3v1m0 2v3M363.5 59v3m0 43v1m0 7v4m0 19v1m0 2v1m0 12v1m0 11v1m0 9v2m0 9v1m0 2v1m0 9v2M364.5 60v2m0 38v2m0 7v2m0 43v1m0 18v1m0 2v2m0 5v2m0 10v1m0 2v1m0 1v1M365.5 97v2m0 26v1m0 3v2m0 23v1m0 4v1m0 6v1m0 9v4m0 1v1M366.5 49v1m0 39v1m0 1v2m0 4v1m0 17v3m0 11v2m0 14v2m0 16v1m0 1v2m0 10v1m0 22v1m0 4v2M367.5 48v2m0 30v1m0 16v3m0 27v1m0 2v2m0 8v2m0 11v1m0 4v1m0 5v3m0 10v1m0 22v2m0 6v1M368.5 48v3m0 19v1m0 3v1m0 2v1m0 49v3m0 7v4m0 8v4m0 1v1m0 17v1m0 1v2m0 24v2M369.5 48v3m0 18v4m0 9v4m0 7v1m0 2v1m0 27v1m0 3v2m0 24v1m0 44v3M370.5 69v2m0 3v1m0 2v1m0 15v4m0 4v2m0 1v1m0 17v2m0 33v1m0 20v1m0 1v1m0 1v1m0 11v2M371.5 83v3m0 6v2m0 9v2m0 29v1m0 5v2m0 15v3m0 21v2m0 12v1m0 3v3M372.5 69v2m0 3v1m0 5v2m0 2v1m0 3v3m0 6v3m0 35v1m0 5v1m0 17v1m0 21v1m0 14v2M373.5 72v1m0 1v1m0 32v1m0 2v1m0 23v1m0 40v1M374.5 74v2m0 2v1m0 82v1m0 1v3m0 42v2m0 1v1M375.5 67v2m0 3v1m0 1v2m0 2v1m0 37v3m0 21v1m0 22v2m0 15v5M376.5 58v1m0 2v1m0 31v1m0 13v1m0 14v2m0 8v1m0 5v3m0 41v2m0 7v2m0 3v3M377.5 85v2m0 8v2m0 7v1m0 2v1m0 14v1m0 9v1m0 1v2m0 1v1m0 60v2M378.5 134v1m0 2v2m0 28v1m0 15v1m0 7v1m0 5v2M379.5 73v3m0 48v1m0 1v1m0 36v1m0 13v1m0 1v4m0 6v2m0 6v1M380.5 74v2m0 8v2m0 7v3m0 83v3m0 15v1M381.5 60v3m0 22v1m0 10v2m0 65v1m0 3v2m0 12v2m0 3v1m0 11v2m0 4v2M382.5 88v1m0 7v2m0 11v2m0 3v1m0 5v1m0 12v2m0 46v2m0 16v1m0 8v1m0 1v1M383.5 82v1m0 9v1m0 1v2m0 17v3m0 18v1m0 2v2m0 19v2m0 19v1m0 27v1m0 2v1M384.5 68v1m0 18v1m0 4v2m0 9v1m0 9v2m0 18v6m0 22v1m0 17v2m0 4v1M385.5 53v1m0 1v4m0 35v2m0 44v4m0 2v2m0 13v1m0 20v1M386.5 56v3m0 6v1m0 1v1m0 4v1m0 22v1m0 14v2m0 30v2m0 14v1m0 14v1m0 10v1m0 1v1M387.5 54v1m0 14v1m0 1v1m0 5v2m0 12v2m0 8v1m0 9v1m0 1v1m0 11v1m0 17v3m0 7v2m0 4v1M388.5 51v4m0 23v1m0 5v2m0 3v4m0 1v1m0 28v1m0 2v2m0 7v1m0 6v3m0 17v2M389.5 52v3m0 2v1m0 3v1m0 8v1m0 18v1m0 15v2m0 43v2m0 4v2m0 51v1m0 3v1M390.5 61v1m0 9v1m0 17v2m0 11v1m0 2v3m0 8v2m0 31v2M391.5 52v1m0 15v6m0 101v1m0 19v3M392.5 57v1m0 15v2m0 3v1m0 15v2m0 11v5m0 30v2m0 16v3m0 7v3m0 22v1M393.5 53v1m0 54v1m0 2v1m0 30v1m0 28v1m0 6v1m0 13v1m0 3v2M394.5 69v3m0 3v1m0 2v1m0 36v1m0 20v2m0 2v1m0 10v2m0 2v3m0 1v1m0 18v5m0 4v1m0 3v7m0 5v1M395.5 74v1m0 3v1m0 16v3m0 6v1m0 11v1m0 34v1m0 3v1m0 1v1m0 2v2m0 14v2m0 5v3m0 8v1m0 7v2M396.5 53v4m0 21v1m0 4v3m0 6v1m0 9v1m0 2v2m0 9v1m0 5v1m0 31v1m0 5v1m0 5v1m0 9v2m0 5v3m0 9v3m0 4v2M397.5 105v1m0 17v1m0 8v1m0 2v4m0 6v2m0 3v1m0 8v3m0 2v3m0 4v4m0 30v2M398.5 56v1m0 14v1m0 1v1m0 26v1m0 17v1m0 22v1m0 14v1m0 31v1m0 1v3m0 2v1m0 10v1M399.5 81v1m0 36v1m0 18v1m0 11v1m0 24v1m0 1v2m0 8v1m0 4v4m0 7v4M400.5 80v2m0 24v1m0 15v1m0 5v2m0 6v1m0 4v1m0 7v3m0 15v2m0 4v1m0 2v2m0 26v2M401.5 60v5m0 9v1m0 10v4m0 14v3m0 36v1m0 7v6m0 1v1m0 8v3m0 5v2m0 25v1m0 6v2M402.5 60v2m0 25v3m0 14v1m0 2v2m0 28v1m0 7v3m0 51v4M403.5 59v3m0 26v2m0 8v2m0 12v1m0 26v1m0 7v1m0 1v2m0 19v1m0 20v1M404.5 56v2m0 23v1m0 17v1m0 31v1m0 1v3m0 13v2m0 21v1M405.5 80v1m0 18v1m0 2v2m0 21v1m0 43v1m0 1v3M406.5 64v2m0 39v1m0 21v1m0 24v1m0 44v2m0 2v2M407.5 64v2m0 9v2m0 13v1m0 6v1m0 17v1m0 1v1m0 11v4m0 13v1m0 5v1m0 4v1m0 37v1M408.5 65v1m0 16v4m0 7v1m0 1v1m0 13v2m0 6v1m0 13v2m0 16v1m0 4v1m0 2v1m0 47v1M409.5 58v4m0 15v2m0 6v1m0 1v1m0 3v1m0 4v3m0 2v2m0 3v2m0 71v1m0 21v3m0 1v1M410.5 65v1m0 16v1m0 47v2m0 7v1m0 4v1m0 27v3m0 6v1m0 13v1m0 6v4M411.5 58v1m0 37v1m0 3v1m0 6v1m0 6v1m0 18v1m0 16v1m0 16v2m0 4v1m0 1v5m0 1v1m0 4v3m0 5v1M412.5 81v1m0 15v2m0 2v1m0 6v1m0 50v1m0 12v4m0 2v2m0 6v2m0 5v1M413.5 63v1m0 25v5m0 7v1m0 7v2m0 30v1m0 31v3m0 2v2m0 3v1m0 1v3M414.5 59v3m0 37v1m0 2v2m0 1v3m0 7v1m0 6v2m0 3v1m0 47v2M415.5 59v1m0 20v3m0 18v1m0 1v1m0 4v2m0 3v1m0 9v1m0 2v1m0 4v1m0 21v1m0 11v5m0 16v1M416.5 58v1m0 48v1m0 2v1m0 8v1m0 1v1m0 3v3m0 15v2m0 10v1m0 8v1m0 11v2m0 3v1m0 14v2M417.5 75v3m0 12v1m0 44v1m0 3v2m0 14v2m0 3v2m0 2v1m0 1v1m0 7v3m0 9v1M418.5 65v2m0 26v2m0 3v1m0 9v1m0 3v1m0 69v1m0 1v1m0 1v1m0 9v1M419.5 66v1m0 1v2m0 1v1m0 15v1m0 4v5m0 1v1m0 21v3m0 18v1m0 11v1m0 2v1M420.5 65v1m0 1v1m0 3v1m0 2v1m0 7v1m0 1v2m0 9v4m0 100v2M421.5 68v1m0 8v1m0 7v1m0 9v3m0 16v1m0 58v2m0 24v2M422.5 60v1m0 3v4m0 26v1m0 19v1m0 18v1m0 2v1m0 2v2m0 31v3m0 3v2m0 6v1m0 2v1m0 6v2m0 2v1M423.5 87v1m0 12v1m0 4v1m0 45v1m0 11v3m0 10v1m0 21v1M424.5 71v1m0 8v4m0 7v3m0 2v1m0 15v2m0 11v2m0 37v1m0 11v1m0 11v2M425.5 70v2m0 8v1m0 2v1m0 8v1m0 6v1m0 11v2m0 14v1m0 41v1m0 4v1m0 14v1M426.5 95v3m0 4v1m0 21v1m0 2v1m0 18v2m0 1v1m0 27v1M427.5 69v1m0 44v5m0 6v3m0 11v1m0 2v3m0 6v1m0 18v2m0 8v1m0 5v4m0 8v1M428.5 63v1m0 21v2m0 28v2m0 9v1m0 9v2m0 8v1m0 2v2m0 2v1m0 8v2m0 22v4m0 7v2M429.5 63v1m0 23v2m0 28v2m0 12v1m0 21v2m0 2v1m0 5v2m0 12v1M430.5 78v1m0 8v3m0 1v1m0 9v2m0 28v1m0 31v1M431.5 74v1m0 11v2m0 3v1m0 18v1m0 8v1m0 13v1m0 28v1m0 1v1m0 3v1m0 7v1m0 3v1m0 1v1m0 3v3M432.5 74v2m0 7v1m0 5v1m0 2v1m0 15v1m0 1v5m0 20v1m0 7v3m0 3v2m0 24v1m0 3v1m0 13v2M433.5 68v1m0 1v1m0 18v1m0 2v2m0 19v4m0 12v1m0 1v2m0 9v3m0 1v1m0 4v1m0 9v1m0 21v4m0 1v1M434.5 85v1m0 5v1m0 38v1m0 15v1m0 14v1m0 18v2m0 5v2m0 3v3M435.5 68v2m0 5v1m0 14v1m0 36v1m0 2v1m0 15v1m0 6v2m0 24v3m0 2v2m0 8v1M436.5 73v1m0 56v3m0 10v1m0 34v2M437.5 75v2m0 16v1m0 32v1m0 3v3m0 1v1m0 5v5m0 7v1m0 23v3M438.5 80v1m0 13v3m0 34v1m0 41v1M439.5 82v2m0 1v3m0 28v2m0 26v1m0 27v2M440.5 97v1m0 6v3m0 7v1m0 23v2M441.5 85v3m0 13v2m0 3v1m0 5v1m0 1v2m0 10v1m0 1v1m0 39v1m0 19v1m0 1v1M442.5 86v1m0 14v4m0 33v2m0 3v2m0 13v3m0 4v1m0 25v1M443.5 72v1m0 17v1m0 1v1m0 10v2m0 2v1m0 33v1m0 1v2m0 1v2m0 12v1m0 15v1M444.5 92v1m0 72v1m0 7v4M445.5 79v1m0 7v1m0 4v1m0 19v2m0 50v1m0 7v2M446.5 68v2m0 9v4m0 9v1m0 19v3m0 56v2M447.5 77v2m0 23v1m0 19v1m0 34v1m0 7v1m0 1v1m0 11v1m0 2v1M448.5 79v1m0 20v1m0 2v2m0 18v1m0 1v1m0 15v2m0 13v1m0 3v2m0 4v3m0 5v1M449.5 101v1m0 30v2m0 4v1m0 3v1m0 16v3m0 7v2m0 3v1M450.5 106v1m0 23v1m0 22v2m0 14v2m0 8v1M451.5 81v2m0 22v1m0 2v1m0 17v2m0 13v1m0 11v1m0 25v1M452.5 90v1m0 4v1m0 4v4m0 9v2m0 67v4M453.5 88v1m0 6v1m0 19v1m0 39v1m0 25v5M454.5 112v2m0 20v1m0 5v2m0 10v2m0 1v1m0 6v1m0 1v1M455.5 69v3m0 1v2m0 33v1m0 3v3m0 20v6m0 13v1m0 6v1m0 1v2m0 14v1M456.5 68v2m0 2v2m0 2v2m0 8v2m0 18v3m0 19v1m0 1v1m0 6v1m0 30v2M457.5 69v2m0 2v1m0 3v1m0 3v4m0 2v1m0 40v3m0 15v2m0 32v7M458.5 75v2m0 6v5m0 43v1m0 2v2M459.5 75v1m0 23v1m0 47v1m0 9v1m0 2v1m0 10v2m0 1v2M460.5 98v1m0 14v2m0 5v3m0 36v1m0 19v3M461.5 73v2m0 33v1m0 1v1m0 3v1m0 1v1m0 7v2m0 43v1m0 11v1M462.5 81v1m0 42v2m0 5v1M463.5 80v1m0 1v1m0 8v1m0 30v1m0 7v1m0 2v1m0 8v2m0 19v1m0 1v2m0 14v1M464.5 77v1m0 1v1m0 11v1m0 8v1m0 74v1m0 3v3M465.5 78v1m0 20v4m0 3v1m0 5v1m0 18v3m0 22v3M466.5 101v1m0 1v2m0 1v1m0 10v3m0 11v1m0 22v1m0 4v1M467.5 157v1M468.5 83v1m0 33v1m0 5v1m0 2v1m0 9v1m0 9v2m0 6v2m0 13v1M469.5 89v1m0 19v1m0 4v1m0 2v2m0 3v2m0 11v2m0 10v2m0 26v3M470.5 105v3m0 4v2m0 1v2m0 22v2m0 5v2m0 3v1m0 23v2M471.5 115v1m0 6v1m0 16v4m0 8v1M472.5 120v3M473.5 117v1m0 3v1m0 5v2m0 19v1M474.5 86v2m0 17v1m0 6v1m0 2v5m0 20v1m0 21v1M475.5 82v3m0 3v1m0 5v1m0 18v2m0 2v3m0 9v1m0 1v1m0 6v2m0 2v2m0 12v2m0 2v2M476.5 113v2m0 15v1m0 11v1m0 18v2m0 1v5M477.5 125v1m0 3v2m0 9v1m0 21v4m0 6v2M478.5 95v1m0 21v2m0 5v1m0 34v1m0 2v1m0 9v1M479.5 84v2m0 5v1m0 3v1m0 15v1m0 33v1m0 17v1M480.5 85v2m0 4v2m0 1v3m0 16v4m0 2v3m0 37v2m0 3v2M481.5 85v2m0 15v1m0 17v2m0 22v3m0 15v1M482.5 84v1m0 4v1m0 10v3m0 6v1m0 5v1M483.5 80v2m0 6v1m0 20v2m0 1v1m0 7v2m0 3v1m0 6v2m0 3v1m0 2v2M484.5 84v1m0 5v2m0 40v2m0 6v2m0 6v2M485.5 77v3m0 3v3m0 3v1m0 11v1m0 32v1M486.5 78v1m0 2v3m0 16v1m0 11v2m0 1v1m0 15v1m0 1v2m0 18v1m0 7v2M487.5 111v1m0 2v4m0 1v1m0 9v4m0 3v1m0 9v1m0 4v1m0 1v1M488.5 90v3m0 21v2m0 14v1m0 4v2M489.5 91v2m0 5v1m0 12v2m0 14v1m0 2v1m0 30v2M490.5 97v1m0 6v1m0 5v3m0 47v1m0 1v1M491.5 95v1m0 3v2m0 1v5m0 10v1m0 45v2M492.5 105v1M493.5 159v2m0 9v2M494.5 124v1m0 22v1m0 15v1m0 2v1m0 3v1M495.5 90v1m0 36v1m0 36v1m0 2v2M496.5 114v1m0 5v1m0 22v1m0 1v2m0 12v1M497.5 105v1m0 3v1m0 8v1m0 25v2M498.5 115v2m0 5v1m0 10v2M499.5 83v2m0 37v4m0 27v2m0 3v1M500.5 97v4m0 19v1m0 2v3m0 22v5m0 2v1m0 1v1M501.5 90v1m0 3v1m0 3v2m0 1v1m0 10v3m0 8v1m0 6v1m0 11v2m0 3v3m0 5v1M502.5 111v1m0 16v3m0 18v1m0 5v2m0 8v3M503.5 90v2m0 6v1m0 28v4m0 13v3m0 19v2M504.5 129v1m0 2v1m0 29v3M505.5 107v2m0 7v1m0 16v6m0 8v2m0 8v2m0 4v1M506.5 84v1m0 21v1m0 2v1m0 21v4m0 11v1m0 4v1m0 3v4m0 2v2M507.5 112v1m0 37v1m0 7v1M508.5 112v1m0 12v1m0 4v1m0 15v3m0 9v2m0 5v2M509.5 91v1m0 7v1m0 48v1m0 9v3m0 1v1m0 1v1M510.5 96v1m0 35v1m0 1v1m0 8v2m0 1v3m0 11v3M511.5 125v1m0 13v2m0 4v4m0 5v1m0 1v1m0 1v3M512.5 88v3m0 27v2m0 41v1M513.5 91v1m0 65v1m0 1v2M514.5 89v1m0 1v1m0 16v1m0 1v1m0 25v2M515.5 86v1m0 3v2m0 18v1m0 49v4M516.5 93v2m0 66v1M517.5 106v1M518.5 105v1m0 12v4m0 7v2m0 24v3M519.5 119v2m0 5v3m0 1v1M520.5 107v1m0 2v4m0 6v7m0 2v2m0 4v3M521.5 93v3m0 10v2m0 4v2m0 5v1m0 2v2m0 13v1m0 16v2M522.5 138v2m0 2v2m0 4v1M523.5 91v1m0 3v1m0 20v1m0 3v1m0 3v1m0 2v5m0 1v2m0 3v2m0 8v1m0 8v2M524.5 91v5m0 6v1m0 27v3m0 13v1M525.5 92v2m0 27v2m0 7v2m0 8v1M526.5 107v1m0 1v1m0 6v2m0 4v1m0 16v2M527.5 111v1m0 2v1m0 2v1m0 14v1M528.5 106v1m0 9v1m0 25v2m0 9v1m0 1v1M529.5 94v1m0 17v3m0 28v2M530.5 97v1m0 3v3m0 1v2m0 7v1m0 7v1m0 12v1m0 14v1M531.5 97v2m0 2v2m0 2v2m0 6v2m0 17v1m0 2v1m0 6v2m0 10v3M532.5 113v2m0 11v1m0 16v2m0 9v1M533.5 96v1m0 11v2m0 3v2m0 27v2m0 9v2M534.5 91v2m0 12v1m0 30v1m0 5v1m0 10v2M535.5 92v1m0 5v2m0 2v4m0 10v1m0 5v3m0 26v1m0 2v1M536.5 98v1m0 1v1m0 17v3m0 1v3m0 5v1m0 4v1m0 3v1m0 11v1M537.5 100v1m0 2v1m0 3v3m0 9v1m0 15v1m0 4v3m0 1v1m0 3v1M538.5 107v3m0 39v2M539.5 93v2m0 3v1m0 4v5m0 6v1m0 5v3m0 5v1m0 22v1M540.5 93v1m0 11v3m0 31v1m0 3v3M541.5 106v1m0 11v1m0 1v1m0 1v1m0 14v1m0 3v2M542.5 95v1m0 1v2m0 7v1m0 14v1m0 4v1m0 10v1m0 1v2M543.5 94v5m0 5v3m0 11v1m0 3v1m0 3v2M544.5 93v7m0 17v2M545.5 92v8m0 18v1m0 8v1m0 2v1m0 2v1M546.5 95v1m0 10v2m0 11v1m0 20v1m0 6v1M547.5 120v3m0 3v4m0 2v3m0 10v2M548.5 120v3m0 20v1m0 2v1M549.5 111v1m0 35v1M550.5 122v1m0 22v2M551.5 109v2m0 9v2m0 2v1M552.5 115v2m0 2v1m0 1v1m0 5v2M553.5 110v2m0 6v1m0 2v2m0 6v3M554.5 110v1m0 12v2m0 3v1m0 4v1m0 11v1M555.5 128v1m0 3v5M556.5 114v2m0 4v2m0 11v1m0 10v1M557.5 114v2m0 15v1M558.5 132v1m0 1v4M559.5 136v2m0 3v4M560.5 100v1m0 7v1m0 27v1m0 2v2M561.5 134v2M562.5 128v1m0 6v2M563.5 130v1m0 1v1m0 2v4M564.5 108v1m0 25v1m0 1v3M565.5 107v3m0 10v2m0 14v6M566.5 105v1m0 13v1m0 1v3m0 14v4M567.5 129v2M569.5 139v1M570.5 103v1m0 26v3m0 2v1M571.5 134v1m0 5v1M572.5 132v1m0 2v2m0 1v3M574.5 134v3M575.5 124v1m0 4v1M576.5 111v4m0 8v1m0 1v2m0 1v4m0 2v2M577.5 125v2m0 3v5M578.5 134v1M579.5 103v5m0 16v1M580.5 103v5m0 25v1M581.5 104v5M583.5 117v1m0 4v1M584.5 119v1m0 2v1m0 3v2M585.5 112v1m0 12v1M586.5 110v3m0 2v2M587.5 112v1M588.5 112v2M589.5 109v2m0 13v1m0 3v2M590.5 128v2M591.5 121v1M592.5 120v2M594.5 115v1M596.5 113v3M597.5 112v5M598.5 113v3M600.5 111v4m0 11v1M601.5 114v1m0 6v1m0 3v2M602.5 121v3m0 2v1M603.5 111v3m0 9v1M604.5 110v3m0 9v3M605.5 115v1m0 8v1M606.5 117v1M607.5 116v1M608.5 121v2M611.5 115v3M620.5 116v1"/>
<path stroke="rgb(192,188,94)" d="M104.5 132v1M105.5 131v2M111.5 131v1M113.5 129v3M114.5 129v3M118.5 136v1M128.5 131v3M129.5 133v1m0 1v1M130.5 123v1m0 2v2m0 6v2M131.5 123v1M132.5 123v2m0 9v1M133.5 121v4M134.5 121v3m0 1v1M135.5 124v2m0 15v1M136.5 120v3M137.5 119v4M141.5 126v1M144.5 125v1m0 2v2M145.5 127v3M146.5 117v3M151.5 131v2M152.5 128v3M153.5 119v1M154.5 119v1M155.5 119v1M156.5 117v1m0 2v1m0 2v1M157.5 123v1M158.5 145v1M159.5 130v2M160.5 112v4M161.5 112v2m0 1v1M163.5 135v1M164.5 128v1m0 12v2M165.5 126v3m0 18v2M169.5 139v1m0 7v1M170.5 106v1M171.5 106v1m0 29v1m0 2v1M172.5 106v1m0 27v3m0 7v2M173.5 125v1m0 19v1M175.5 104v1M176.5 104v1m0 13v1M177.5 104v2M178.5 102v1m0 10v3m0 32v1m0 4v1M179.5 101v2m0 10v2m0 32v2m0 4v1M180.5 101v1m0 23v1M182.5 106v1m0 38v2M183.5 153v2M185.5 146v1m0 3v1M186.5 124v1m0 25v1M187.5 97v4m0 14v2m0 6v2M188.5 97v2m0 9v1M190.5 140v3M191.5 142v1M192.5 123v3m0 14v4m0 1v2M193.5 101v1M194.5 101v1m0 38v1m0 1v1M195.5 111v4M196.5 154v1M197.5 97v1m0 2v1m0 51v4M198.5 124v3m0 25v4M199.5 97v4m0 24v2M200.5 106v1m0 1v2M201.5 131v2m0 12v1m0 1v1M202.5 132v1M203.5 100v3m0 11v1m0 30v2M205.5 125v1m0 1v1m0 5v4M206.5 102v1M207.5 94v1m0 3v1m0 1v1m0 3v1M208.5 95v2m0 1v1m0 30v3m0 10v4M209.5 129v3m0 4v1m0 6v1M210.5 123v3m0 8v2m0 4v1M211.5 90v2M212.5 92v2m0 11v2m0 13v1m0 26v3M213.5 106v1m0 12v2M214.5 93v1m0 7v4m0 5v1M215.5 102v3m0 3v1m0 1v1m0 19v1m0 2v2M216.5 132v1m0 1v1m0 5v1M217.5 127v1m0 27v1M218.5 123v1m0 4v1m0 5v1m0 24v1M219.5 89v3m0 47v1M220.5 90v1m0 4v1m0 53v3M222.5 104v3m0 2v1m0 8v1M223.5 92v2m0 9v1m0 5v1m0 8v3m0 15v2m0 7v4M224.5 108v2m0 7v1m0 19v1M225.5 83v2m0 33v1m0 28v1M226.5 97v2m0 11v1m0 15v1m0 19v1M227.5 85v3m0 21v1m0 7v3m0 6v2M228.5 85v2m0 28v3M230.5 136v3M231.5 85v1m0 1v1M232.5 80v2m0 3v2m0 53v2M233.5 80v2m0 47v1M234.5 128v2M235.5 82v1m0 77v3M236.5 81v2M237.5 81v2m0 28v1m0 35v2M238.5 82v1m0 4v2m0 5v2m0 14v1m0 3v2M240.5 96v1m0 4v3m0 8v3m0 9v1M241.5 121v1m0 41v1M242.5 97v1M243.5 93v1m0 2v2m0 8v1m0 1v1m0 2v1m0 1v2M244.5 112v1m0 4v4m0 45v2M245.5 84v1m0 22v1m0 2v1m0 41v1M246.5 78v1m0 3v1m0 54v2M247.5 83v1m0 53v2m0 30v3M248.5 80v1m0 3v2m0 36v1M249.5 115v2m0 5v2M250.5 74v1m0 21v1m0 19v2m0 48v2M251.5 73v2m0 8v1m0 2v2m0 78v2M252.5 103v2m0 47v1m0 2v1M253.5 104v3m0 23v2m0 20v2M254.5 108v1m0 55v1M255.5 169v1M256.5 104v1m0 4v3M257.5 107v1m0 39v2M258.5 81v1m0 1v1m0 37v1m0 22v1m0 2v1M259.5 72v1m0 24v1m0 29v1m0 18v2m0 8v1m0 5v1M260.5 71v4m0 20v1m0 3v2m0 35v3m0 16v1m0 5v4M261.5 71v4m0 8v3m0 5v1m0 15v2m0 17v1M262.5 91v2M263.5 71v1m0 47v2M264.5 71v1m0 23v2m0 1v3m0 7v1m0 7v2m0 1v1M265.5 98v2m0 13v2m0 30v1m0 2v2M266.5 99v1m0 6v1m0 6v2m0 29v1m0 25v1M267.5 70v3m0 70v2m0 25v1M269.5 72v1m0 34v4m0 28v2m0 28v2M270.5 72v1m0 37v1m0 27v3m0 28v1m0 5v1M271.5 64v2m0 15v3m0 3v1m0 11v3M272.5 65v1m0 34v2M273.5 65v4m0 37v1m0 17v1m0 32v1m0 16v3M274.5 66v2m0 27v2m0 10v1m0 15v1m0 1v2m0 24v1m0 13v2M275.5 71v1m0 36v1m0 1v2m0 12v2m0 8v1M276.5 62v2m0 9v3m0 30v1m0 62v1M277.5 67v1m0 4v1m0 2v1m0 7v1m0 8v1m0 13v1m0 34v2M278.5 64v1m0 1v3m0 15v2m0 42v1M279.5 74v1m0 51v2M280.5 65v1m0 35v1m0 45v1m0 6v1m0 11v2M281.5 66v1m0 51v1m0 17v1m0 17v1m0 12v1M282.5 65v1m0 26v2m0 2v2m0 21v1m0 14v3M283.5 70v2m0 24v1m0 2v1m0 50v3M284.5 69v2m0 38v1m0 16v2m0 20v1m0 1v2M285.5 69v1m0 39v1m0 1v1m0 13v3m0 22v1m0 31v1M286.5 67v1m0 42v2m0 43v3m0 5v3M287.5 66v3m0 41v1m0 1v9m0 34v2m0 1v1M288.5 111v2m0 4v1m0 2v1M289.5 66v3m0 34v3m0 62v3M290.5 66v3m0 30v3m0 2v2m0 13v2M291.5 119v1M292.5 59v1m0 9v2M293.5 54v4m0 11v2m0 72v1m0 3v1M294.5 55v3m0 85v2m0 14v1M295.5 125v2m0 30v3M296.5 52v5m0 92v2M297.5 53v3m0 16v2m0 1v1m0 52v2m0 13v1m0 5v1M298.5 75v1m0 52v1m0 3v2m0 11v1m0 2v1M299.5 73v1m0 13v2m0 44v1m0 7v1M300.5 73v1m0 65v3m0 23v2m0 18v3M301.5 59v1m0 6v1m0 89v2m0 29v2M302.5 62v1m0 1v2m0 18v1m0 6v2M303.5 50v3m0 3v1m0 4v1m0 2v1m0 10v2m0 7v1m0 32v3m0 33v3M304.5 50v3m0 9v1m0 3v1m0 16v2m0 33v1m0 22v2m0 12v1M305.5 52v1m0 8v1m0 3v3m0 14v1m0 55v1M306.5 159v1m0 13v1m0 4v1M307.5 53v1m0 67v4m0 47v3m0 2v1M308.5 51v1m0 1v1m0 64v3m0 1v3m0 53v1m0 1v1m0 2v3M309.5 185v1m0 3v2M310.5 64v2m0 4v1m0 48v2m0 3v1m0 64v2M311.5 78v5m0 26v1m0 34v2m0 4v1m0 1v2m0 16v2M312.5 109v1m0 3v1m0 33v1m0 1v4M313.5 50v1m0 43v2m0 5v2m0 7v4m0 20v3m0 9v2M314.5 50v1m0 7v2m0 51v1m0 23v2m0 11v1M315.5 117v1m0 31v1M316.5 118v1m0 6v2M317.5 123v3m0 21v2M318.5 127v1m0 2v1m0 1v1m0 2v1m0 11v2m0 6v2M319.5 59v3m0 56v1m0 10v1m0 1v1m0 1v1m0 21v2m0 22v2m0 3v1M320.5 52v3m0 3v1m0 19v1m0 4v1m0 95v1M321.5 52v3m0 4v3m0 16v1m0 3v2m0 67v2m0 12v6m0 7v3M322.5 48v1m0 29v2m0 39v1m0 2v1m0 22v4m0 36v2M323.5 48v1m0 13v1m0 27v1m0 23v1m0 31v3m0 36v2M324.5 73v1m0 5v3m0 18v1m0 3v1m0 78v1M325.5 68v2m0 3v2m0 1v1m0 4v1m0 6v4m0 38v1m0 25v1m0 24v2M326.5 47v1m0 19v3m0 25v4m0 57v1M327.5 72v1m0 1v2m0 1v1m0 12v1m0 71v4M328.5 64v1m0 23v3m0 70v3M329.5 78v1m0 59v2m0 16v2M330.5 47v1m0 29v1m0 38v2m0 18v1m0 12v1m0 23v1m0 3v1M331.5 48v3m0 33v1m0 46v1m0 3v1m0 11v2m0 26v1m0 1v1m0 5v5M332.5 47v1m0 33v4m0 16v2m0 29v1m0 10v1m0 33v1M333.5 76v2m0 5v2m0 66v1m0 24v1M334.5 77v1m0 4v2M335.5 83v1m0 25v3m0 24v3m0 51v2M336.5 65v2m0 16v2m0 25v2m0 21v2m0 34v1m0 15v3M337.5 65v1m0 68v1m0 49v4M338.5 52v1m0 5v4m0 24v4m0 25v1m0 57v2M339.5 43v1m0 4v1m0 22v1m0 18v2m0 1v1m0 73v2m0 4v2M340.5 48v1m0 13v3m0 5v2m0 13v2m0 4v1m0 2v1M341.5 56v2m0 23v1m0 61v4m0 48v4M342.5 144v4m0 11v1m0 24v2m0 11v1M343.5 80v2m0 4v3M344.5 87v2m0 44v1m0 42v1M345.5 73v1m0 2v3M346.5 76v2m0 62v3m0 38v2m0 5v1m0 2v1M347.5 80v3m0 20v3m0 32v1m0 3v1m0 20v1m0 28v4M348.5 103v6m0 10v1m0 41v3m0 1v1m0 9v2M349.5 42v3m0 27v1m0 29v2m0 1v4m0 11v4m0 55v1M350.5 48v1m0 37v1m0 2v2m0 15v2m0 13v2m0 49v3m0 12v1M351.5 112v2m0 57v1m0 5v3m0 8v1m0 1v1M352.5 86v1m0 25v2m0 13v1m0 2v3M353.5 64v1m0 61v1m0 3v3m0 32v1M354.5 68v1m0 55v3m0 4v2m0 58v1M355.5 55v1m0 14v4m0 14v1m0 8v1m0 62v3m0 17v1m0 8v1m0 2v1M356.5 71v2m0 15v1m0 9v1m0 63v1m0 21v3m0 7v1M357.5 41v1m0 13v3m0 43v1m0 4v1m0 16v2m0 42v2m0 13v2M358.5 75v4m0 56v2m0 30v3m0 13v1M359.5 76v2m0 108v3m0 9v2M360.5 63v1m0 3v1m0 21v1m0 1v1m0 47v3m0 31v1m0 4v2m0 6v3m0 5v1m0 1v4M361.5 58v1m0 32v2m0 46v3m0 11v1m0 18v2m0 4v3M362.5 59v4m0 34v4m0 37v1m0 14v2m0 15v1m0 1v1m0 19v2M363.5 104v1m0 33v1m0 12v1m0 13v2M364.5 98v2m0 2v2m0 2v3m0 53v5m0 8v1m0 4v3m0 13v2M365.5 48v3m0 37v4m0 10v1m0 3v2m0 18v2m0 36v2m0 14v1m0 19v1M366.5 47v2m0 41v1m0 37v1m0 29v1m0 11v1m0 1v2m0 27v2M367.5 139v1m0 14v1m0 2v1m0 47v2M368.5 47v1m0 19v3m0 5v1m0 21v3M369.5 45v1m0 21v2m0 4v5m0 16v1m0 28v1M370.5 45v3m0 55v1m0 46v1m0 28v1M371.5 80v1m0 99v1M372.5 63v1m0 4v1m0 14v1m0 96v1m0 17v2M373.5 73v1m0 34v2M374.5 65v2m0 9v2m0 84v1M375.5 76v2m0 83v2M376.5 60v1m0 45v1m0 8v1m0 5v1m0 9v1m0 4v2m0 42v2M377.5 105v2m0 11v1m0 2v1m0 9v1m0 4v1m0 52v4M378.5 135v2m0 51v3M379.5 90v3m0 32v1m0 3v2m0 44v2m0 11v1M380.5 73v1m0 17v2m0 68v2m0 40v2M381.5 84v1m0 10v1m0 37v2m0 59v1m0 2v1M382.5 82v3m0 10v1m0 39v1m0 59v1m0 1v2m0 10v1M383.5 48v6m0 29v1m0 1v2m0 6v1m0 82v3m0 30v1M384.5 48v3m0 16v1m0 15v4m0 14v2m0 55v3M385.5 50v2m0 17v3m0 30v1m0 55v3M386.5 66v1m0 3v2m0 72v3m0 9v2m0 27v1M387.5 70v1m0 22v5m0 57v4M388.5 88v1m0 63v1m0 1v4m0 52v4M389.5 104v1m0 47v3m0 55v3M390.5 58v1m0 9v3m0 17v1m0 14v2M391.5 176v4M392.5 51v2m0 5v1m0 5v2m0 111v4m0 9v1M393.5 51v2m0 22v3m0 31v2m0 28v1m0 40v1M394.5 114v1m0 24v1m0 37v1M395.5 85v4m0 13v2m0 10v2m0 43v1m0 15v1m0 2v5m0 12v2M396.5 103v2m0 9v2m0 7v3m0 27v1m0 1v3m0 1v1m0 12v4M397.5 52v4m0 48v1m0 19v2m0 23v1M398.5 52v4m0 16v1m0 69v2m0 6v1m0 7v2m0 29v1M399.5 72v2m0 24v3m0 15v2m0 21v1m0 1v3m0 10v6m0 15v1m0 14v1M400.5 103v1m0 1v1m0 51v1m0 8v1m0 3v1m0 3v2m0 13v2M401.5 80v5m0 37v1m0 20v2m0 11v1m0 16v1m0 16v1m0 9v1M402.5 82v1m0 23v1m0 31v1m0 9v1M403.5 83v1m0 18v1m0 33v3m0 9v1M404.5 80v1m0 17v1m0 3v1m0 4v1m0 24v1m0 14v2m0 22v1m0 18v2M405.5 67v1m0 58v1m0 1v3m0 2v1m0 33v2M406.5 66v1m0 58v2m0 20v1m0 3v1m0 44v1M407.5 116v1m0 34v1m0 4v1m0 39v2M408.5 55v6m0 30v2m0 23v1m0 13v1m0 16v2m0 1v2m0 3v2m0 46v2M409.5 55v3m0 4v3m0 17v3m0 3v1m0 1v1m0 1v2m0 6v1m0 7v2m0 70v1m0 23v1M410.5 63v2m0 16v1m0 21v1m0 34v1m0 6v1m0 3v1m0 29v2M411.5 59v3m0 1v1m0 14v1m0 3v1m0 14v3m0 2v2m0 26v1m0 1v1m0 6v1m0 8v2m0 34v2M412.5 63v1m0 35v2m0 13v3m0 14v3m0 51v1M413.5 61v2m0 37v1m0 14v1m0 68v1M414.5 57v2m0 39v1m0 13v3m0 5v2m0 8v1M415.5 57v2m0 43v1m0 15v1m0 2v2m0 7v1M416.5 108v2m0 22v3m0 19v1m0 27v1m0 11v2M417.5 65v1m0 25v1m0 3v4m0 34v2m0 32v1m0 12v6M418.5 64v1m0 32v1m0 87v1M419.5 64v1m0 5v1m0 17v4m0 15v1M420.5 64v1m0 1v1m0 3v1m0 4v7m0 74v1M421.5 59v1m0 5v1m0 1v1m0 1v1m0 13v2m0 28v1M422.5 80v2m0 13v1m0 1v3m0 12v2m0 17v2m0 5v1m0 10v3m0 35v2m0 9v2M423.5 88v1m0 49v2m0 10v1m0 35v3M424.5 86v3m0 11v3m0 21v1m0 45v1m0 4v1M425.5 81v2m0 17v3M426.5 126v1m0 9v4m0 8v1m0 1v2m0 14v1m0 2v1M427.5 136v2m0 11v2m0 15v1m0 2v1m0 9v1m0 1v2M428.5 62v1m0 21v1m0 44v3m0 16v1m0 5v4M429.5 62v1m0 66v2m0 24v2m0 21v1M430.5 72v2m0 16v1m0 25v3m0 45v5m0 7v4m0 1v2M431.5 73v1m0 11v1m0 4v1m0 17v2m0 1v4m0 1v3m0 48v1m0 9v3m0 1v1M432.5 71v3m0 16v2m0 84v3M433.5 90v2m0 41v1m0 1v1m0 12v3M434.5 67v2m0 17v5m0 35v4m0 19v6m0 31v1M435.5 70v1m0 2v1m0 15v1m0 41v2m0 18v2m0 8v4M436.5 74v1m0 51v1m0 2v1m0 14v3m0 14v4M437.5 92v1m0 34v1m0 18v1m0 1v4M438.5 81v1M439.5 79v1m0 4v1m0 9v3m0 39v3m0 6v1m0 1v2m0 2v1m0 1v1M440.5 80v1m0 1v1m0 3v2m0 38v3m0 8v1M441.5 113v1m0 13v1m0 7v4M442.5 166v3m0 21v1M443.5 71v1m0 19v1m0 16v1m0 1v2m0 30v1m0 16v1M444.5 65v1m0 5v1m0 1v1m0 15v3m0 19v1m0 49v4m0 7v1M445.5 65v1m0 24v2m0 74v1m0 3v2M446.5 67v1m0 22v2m0 86v5M447.5 79v1m0 21v1m0 64v1m0 13v2M448.5 71v2m0 5v1m0 22v2m0 21v1m0 40v1m0 7v1M449.5 71v2m0 32v1m0 17v1m0 1v2m0 13v2m0 29v3M450.5 95v1m0 11v1m0 15v1m0 4v2m0 10v1M451.5 106v2m0 20v3m0 8v2m0 40v1M452.5 91v1m0 23v1M453.5 90v1m0 22v2m0 38v2m0 23v3M454.5 111v1m0 42v1m0 8v1M455.5 155v2m0 5v1m0 20v1M456.5 74v2m0 53v1m0 24v3m0 25v2M457.5 85v2M458.5 82v1m0 49v2m0 37v4M459.5 158v2m0 16v2M460.5 134v2m0 21v2m0 10v3m0 1v1M461.5 120v1m0 1v2m0 46v3m0 6v2M462.5 79v2m0 42v1m0 48v1m0 3v1m0 2v2M463.5 79v1m0 40v2m0 53v1m0 3v2M464.5 78v1m0 11v1m0 44v1m0 40v1M465.5 105v1m0 10v1m0 12v2m0 6v1M466.5 116v1m0 13v1M467.5 153v2M468.5 85v1m0 30v1m0 34v3M469.5 83v3m0 22v1m0 6v2m0 29v1M470.5 109v2m0 3v1m0 34v2M471.5 107v1m0 2v1m0 1v1m0 1v1m0 34v2M472.5 119v1M473.5 118v3m0 26v1m0 13v2M474.5 110v2m0 34v3m0 10v3M475.5 93v1m0 12v1m0 3v2m0 4v1m0 42v1M476.5 79v2m0 30v2m0 9v4m0 12v1m0 15v3m0 3v1M477.5 82v1m0 40v2m0 35v2M478.5 93v2m0 19v1m0 43v1m0 1v2m0 9v1M479.5 89v2m0 1v3m0 23v1m0 45v3M480.5 90v1m0 2v1m0 18v1m0 4v1m0 38v3M481.5 100v2M482.5 79v1m0 2v2m0 26v2M483.5 79v1m0 9v2m0 20v1m0 17v1m0 8v2M484.5 83v1m0 5v1m0 47v3M485.5 80v3M486.5 77v1m0 23v1m0 14v4m0 12v1m0 17v1m0 8v2M487.5 118v1m0 14v3m0 14v1m0 10v3M488.5 113v1m0 15v1m0 29v3M489.5 101v1m0 26v2m0 29v2M490.5 161v1m0 5v1M491.5 94v1m0 3v1m0 17v1m0 48v1M492.5 93v3m0 48v3M493.5 144v3m0 11v1M494.5 122v1m0 23v1m0 14v2m0 1v2M495.5 120v1m0 4v2m0 34v3M496.5 81v2m0 16v2m0 14v3m0 4v2m0 1v2M497.5 78v5m0 17v1m0 3v1m0 8v5M498.5 82v1m0 27v4m0 6v2M499.5 121v1m0 28v3m0 4v1M500.5 121v2m0 30v2M501.5 91v3m0 28v1m0 8v1m0 1v1M502.5 95v3M503.5 92v1m0 2v3M504.5 130v2M505.5 131v2m0 10v1m0 1v2M506.5 108v1m0 38v4m0 8v2M507.5 108v2m0 15v3m0 20v2m0 2v1m0 3v2M508.5 126v1m0 1v2M509.5 92v3m0 1v3m0 31v4M510.5 93v2m0 2v3m0 29v1m0 3v1M511.5 124v1m0 30v1M512.5 87v1m0 68v5M513.5 87v4m0 63v2m0 2v1M514.5 88v1m0 1v1m0 18v1m0 24v2M515.5 135v1M516.5 86v3M517.5 85v4m0 20v7M518.5 110v1m0 2v2M519.5 129v1M521.5 116v3M522.5 94v2m0 25v3m0 7v4m0 11v2M523.5 93v1m0 24v2m0 26v2M524.5 99v3M525.5 91v1m0 9v5M526.5 91v1m0 11v1m0 6v1M527.5 108v3m0 4v2M528.5 110v1m0 43v1M529.5 91v3M530.5 91v3m0 1v2m0 16v1m0 22v4m0 15v2M531.5 94v3m0 10v1m0 3v1m0 26v2m0 1v1m0 6v1M532.5 94v3m0 8v5m0 28v1m0 3v1m0 10v1M533.5 141v1m0 10v1M534.5 102v3m0 29v2m0 4v2M535.5 130v1m0 3v2m0 3v1m0 6v1m0 2v2M536.5 99v1m0 14v1m0 17v3m0 10v1m0 4v1M537.5 104v1m0 28v2m0 12v1M538.5 103v1m0 44v1M539.5 101v2m0 12v1m0 3v1m0 3v1m0 2v2m0 19v1m0 2v1M540.5 123v6m0 19v2M541.5 140v1M542.5 96v1m0 6v2m0 15v1m0 4v1m0 12v1M543.5 103v1m0 13v1m0 1v2m0 2v1m0 1v1M545.5 123v1m0 2v1m0 1v2M546.5 127v3m0 11v4M547.5 125v1m0 14v1M548.5 142v1m0 2v1M549.5 146v1M550.5 110v4m0 6v2M551.5 111v3M552.5 120v1m0 2v1m0 15v4M553.5 119v2m0 11v1M554.5 129v4M555.5 125v1m0 5v1m0 12v2M556.5 134v6m0 5v1M557.5 138v2M558.5 133v1M559.5 98v3m0 31v1m0 1v2M560.5 98v2M562.5 129v4M563.5 131v1m0 1v1M564.5 106v2m0 27v1M565.5 106v1M566.5 104v1m0 15v1M571.5 137v3M572.5 102v1M573.5 132v5M575.5 121v3M576.5 122v1m0 1v1M578.5 131v3M583.5 118v4M584.5 117v2m0 1v2M585.5 116v3m0 7v2M586.5 109v1m0 3v2M588.5 111v1m0 13v1m0 1v1M589.5 127v1M590.5 127v1M594.5 111v1m0 1v2M595.5 111v2M597.5 111v1M598.5 112v1M600.5 125v1M602.5 114v2m0 1v2M603.5 114v5M605.5 113v2m0 8v1M606.5 116v1M607.5 115v1m0 4v1M608.5 119v2M609.5 116v1M610.5 116v1"/>
<path stroke="rgb(220,186,85)" d="M111.5 132v2M130.5 121v2M131.5 121v2m0 11v2M132.5 135v1M135.5 139v2M136.5 138v4M137.5 128v1M138.5 127v2M144.5 118v1M145.5 123v3M153.5 118v1M154.5 115v2M156.5 121v2M157.5 122v1M161.5 114v1M163.5 123v4m0 11v1M164.5 124v4m0 18v1M165.5 146v1M169.5 106v1m0 33v1M172.5 105v1m0 37v1M173.5 143v2M174.5 126v3M175.5 118v1M176.5 102v2M177.5 103v1M179.5 129v3M181.5 105v4M182.5 107v2M183.5 139v3M185.5 147v1M188.5 99v1m0 1v1M189.5 108v1M193.5 97v4M194.5 97v4m0 40v1M195.5 140v2M196.5 133v2m0 1v1M197.5 99v1M198.5 98v2M200.5 146v1M201.5 146v1M202.5 131v1M205.5 126v1M206.5 103v1M207.5 101v3M209.5 123v2M212.5 88v4M213.5 87v8M214.5 107v3M215.5 109v1M217.5 159v1M219.5 142v2M221.5 142v2M222.5 108v1m0 8v1M223.5 107v2m0 7v2m0 14v1m0 2v1m0 6v1M224.5 107v1m0 10v4M225.5 120v2M226.5 125v1M227.5 124v2M230.5 149v3M231.5 86v1M236.5 147v1M237.5 112v1m0 33v1M238.5 81v1M240.5 100v1M241.5 101v1m0 22v1m0 31v3M243.5 95v1m0 11v1m0 1v2m0 1v1M244.5 78v1m0 3v3m0 26v1M245.5 108v2M246.5 83v1m0 21v4M247.5 78v1m0 29v1M248.5 118v2m0 1v1M249.5 71v3m0 40v1m0 6v1M250.5 71v3m0 40v2m0 3v1m0 1v1M251.5 84v2m0 2v1M252.5 86v2m0 66v1M253.5 154v1M254.5 154v1M255.5 107v4M256.5 103v1M257.5 102v1M258.5 146v1M259.5 124v1m0 4v1m0 13v3m0 14v2M260.5 96v1m0 33v2m0 28v1M261.5 89v2M263.5 118v1m0 36v4M264.5 97v1m0 20v1M265.5 103v1m0 4v1m0 1v1m0 1v1M266.5 96v1m0 1v1m0 12v2m0 30v1m0 24v2M270.5 64v2m0 3v3m0 104v2M274.5 65v1m0 39v2m0 42v1m0 20v1m0 3v1M275.5 109v1m0 22v2m0 17v2M276.5 61v1m0 6v1m0 35v2m0 32v5M277.5 61v1m0 6v4m0 33v1M278.5 65v1M280.5 63v2m0 87v2M281.5 62v4M282.5 64v1m0 30v1m0 2v2m0 17v2M283.5 95v1m0 1v2m0 50v1M284.5 107v2m0 40v1M285.5 68v1m0 34v1m0 2v1M286.5 66v1M287.5 153v2M290.5 118v1m0 49v3M291.5 118v1M292.5 144v3M293.5 83v2m0 59v3M294.5 82v3m0 61v2M296.5 70v4m0 74v1m0 10v1M297.5 127v1m0 10v2m0 4v2m0 2v1M298.5 136v4m0 4v1M301.5 55v4m0 96v1m0 15v3M302.5 54v5m0 4v1m0 17v3M303.5 62v1m0 19v2M304.5 63v1m0 1v1M305.5 140v3M306.5 172v1m0 3v2M307.5 50v3m0 125v3M308.5 52v1m0 68v1M309.5 117v4M311.5 51v3m0 18v1m0 1v1M312.5 52v1m0 21v2m0 69v2M315.5 147v2M318.5 128v2m0 3v2M319.5 128v1m0 5v2m0 42v1M320.5 48v2m0 9v3m0 115v2M321.5 51v1M322.5 120v2M323.5 47v1M324.5 46v3m0 42v3m0 7v3M325.5 87v1m0 4v2M326.5 76v2M327.5 73v1m0 106v4M328.5 179v5M330.5 132v4M331.5 41v3m0 1v1m0 86v3M332.5 41v3m0 87v1m0 14v3M333.5 81v2m0 63v1m0 2v1m0 24v2M334.5 75v2M336.5 168v1M338.5 50v2M339.5 44v1m0 1v2m0 39v1m0 1v1M340.5 38v1m0 8v1m0 32v1m0 11v2M341.5 79v2M342.5 79v2m0 77v1m0 36v2M343.5 77v3M345.5 86v4M346.5 74v1m0 117v1M347.5 42v3m0 26v2m0 68v1m0 49v1M348.5 41v4m0 25v3m0 45v1M349.5 41v1m0 44v5m0 89v3M350.5 60v3m0 24v1m0 27v3m0 1v2m0 58v4m0 5v3M351.5 176v1m0 12v1M352.5 84v2m0 42v1m0 35v4M353.5 129v1m0 36v1M354.5 189v2M355.5 85v3m0 98v3M356.5 87v1m0 7v3m0 8v1M357.5 105v1m0 75v1M360.5 175v3M361.5 59v5m0 86v1m0 1v1m0 17v1m0 21v1M362.5 90v1m0 45v2m0 11v1m0 2v1m0 18v1m0 19v1M363.5 97v7m0 92v2M364.5 47v1m0 112v2m0 12v1m0 3v2M365.5 160v1m0 40v1m0 1v1M366.5 125v1m0 1v1m0 28v1m0 7v1M367.5 156v1m0 17v3M368.5 45v2m0 17v1m0 108v1M369.5 46v1m0 16v1m0 83v4M370.5 44v1m0 101v1m0 1v2M371.5 44v4m0 33v1m0 95v1m0 1v1M372.5 47v1m0 16v1m0 2v1m0 14v1m0 49v3m0 42v3m0 20v1M373.5 63v1m0 7v1M374.5 68v6M375.5 73v1M376.5 59v1m0 56v2m0 12v1M377.5 120v1M378.5 95v3M379.5 159v4M381.5 92v3M382.5 92v3M383.5 54v2m0 28v1m0 123v1M384.5 51v2m0 1v2M385.5 52v1m0 130v3M386.5 69v1M388.5 87v1m0 36v2m0 27v1M389.5 58v3m0 23v5m0 13v2m0 51v1M390.5 59v2M391.5 190v1m0 3v1M392.5 191v4M393.5 137v2m0 40v1M395.5 101v1m0 56v1M396.5 52v1m0 105v1m0 20v1m0 2v1M397.5 147v1M398.5 145v5m0 7v1M399.5 71v1m0 68v1M400.5 104v1m0 32v4m0 11v5m0 12v1M401.5 120v2m0 27v1M402.5 84v2m0 19v1M403.5 86v1m0 20v3M404.5 105v2m0 62v2M405.5 68v1m0 3v5m0 54v2m0 37v1M406.5 73v4m0 73v1m0 43v2M407.5 149v2m0 4v1M408.5 88v1m0 17v3M409.5 81v1m0 7v1m0 4v2m0 3v1M410.5 78v3m0 15v1m0 4v2m0 32v3m0 8v3M411.5 62v1m0 16v3m0 26v4m0 19v1m0 3v4m0 8v1M412.5 58v1m0 54v1m0 16v1m0 53v1M413.5 60v1m0 35v1m0 14v1m0 2v1M414.5 128v2M415.5 105v3m0 20v2M416.5 150v1m0 2v1m0 12v4M417.5 194v2M418.5 87v2m0 3v1m0 2v2M419.5 62v2m0 47v1m0 42v2M420.5 62v2m0 4v2m0 83v3M421.5 60v4m0 2v1m0 11v1m0 3v1M422.5 96v1m0 40v1M423.5 94v6m0 36v2m0 35v3M424.5 99v1m0 71v4M425.5 122v1M426.5 168v1M427.5 138v1m0 6v1m0 22v1m0 14v1M428.5 147v1M431.5 71v2m0 10v2M432.5 131v4M433.5 134v1M434.5 183v3M435.5 67v1m0 3v2m0 12v2M436.5 70v3m0 54v2M437.5 128v2M438.5 152v1M439.5 152v1M440.5 85v1M441.5 189v1M442.5 188v2M443.5 109v1M444.5 66v1m0 40v4m0 55v5M445.5 66v1m0 4v2m0 15v2m0 78v2M446.5 66v1M447.5 100v1M448.5 69v2M449.5 69v2m0 33v1m0 19v1m0 14v1M450.5 96v1m0 30v1m0 11v1M451.5 102v2m0 76v1M452.5 93v2M453.5 91v1m0 1v1m0 58v1M455.5 180v3M456.5 179v3M457.5 74v3M459.5 131v5M460.5 116v1m0 61v1M461.5 173v1m0 2v1M462.5 122v1m0 51v2m0 2v1M463.5 178v1M464.5 136v1m0 40v2M465.5 104v1m0 8v1m0 20v2M466.5 155v4M467.5 152v1M470.5 108v1M471.5 108v1m0 4v1M473.5 132v1m0 11v3M474.5 109v1m0 17v1m0 1v4m0 11v2M475.5 109v1m0 30v2m0 16v1M476.5 81v2m0 56v3m0 15v3M477.5 78v3m0 89v2M479.5 116v2M480.5 81v1m0 1v2M481.5 84v1m0 73v4M482.5 80v2M483.5 130v2M484.5 129v3M486.5 148v2m0 4v5M487.5 112v2m0 34v2m0 5v1m0 4v1M488.5 128v1M489.5 100v1M490.5 98v1m0 1v2M491.5 92v2m0 73v1M492.5 92v1M494.5 160v1M496.5 79v2m0 20v1m0 1v2m0 16v1m0 2v1M497.5 101v1m0 1v1M499.5 120v1M500.5 130v4M501.5 121v1m0 10v1M502.5 112v4M504.5 143v4M505.5 144v1M507.5 153v3M508.5 127v1m0 26v4M510.5 122v3m0 1v3M512.5 154v2M518.5 106v1m0 2v1m0 1v2M522.5 93v1m0 22v1m0 3v1m0 33v2m0 1v1M523.5 117v1m0 24v1M524.5 90v1M525.5 99v2M526.5 104v2m0 24v4M529.5 152v5M530.5 110v3m0 41v1M531.5 108v3m0 1v1m0 27v1m0 12v1M532.5 92v2m0 16v3m0 26v3M534.5 131v1M535.5 131v1m0 15v1M536.5 117v1m0 13v1m0 8v1M537.5 105v2m0 25v1m0 12v2M538.5 104v3m0 7v1m0 4v1M539.5 148v2M540.5 104v1M541.5 104v1m0 14v1m0 19v1M542.5 119v1m0 2v3M543.5 124v1M545.5 122v1m0 1v2M546.5 122v1M547.5 119v1M548.5 118v2M549.5 96v1M550.5 96v1m0 22v1M551.5 96v2m0 27v2M552.5 124v3M555.5 121v4m0 4v2M559.5 133v1M560.5 134v2M561.5 131v1M563.5 134v1M564.5 103v1m0 1v1M571.5 129v1M581.5 103v1M586.5 108v1M588.5 108v3M589.5 108v1m0 16v1M594.5 112v1M595.5 113v1M598.5 110v2M601.5 110v4M602.5 112v2m0 2v1M605.5 112v1M609.5 113v3M610.5 114v2M618.5 113v4M619.5 113v4M620.5 115v1"/>
<path stroke="rgb(227,186,81)" d="M144.5 119v1m0 2v3M154.5 114v1M163.5 137v1M165.5 145v1M170.5 101v5m0 31v4M171.5 104v2M173.5 126v3M174.5 124v2M186.5 145v1M188.5 105v3M189.5 99v1m0 5v3M198.5 97v1M200.5 145v1M202.5 130v1M207.5 96v2M215.5 131v2M218.5 133v1M223.5 133v2m0 4v3M224.5 105v1M225.5 119v1M229.5 147v5M230.5 146v3M232.5 115v3M233.5 115v3M237.5 113v1M238.5 111v3M241.5 95v1m0 4v1M244.5 106v1m0 2v2M245.5 81v3M247.5 79v4M248.5 120v1M249.5 112v2m0 6v1M250.5 113v1M252.5 153v1M254.5 150v4M256.5 105v2M257.5 103v4M258.5 122v2m0 21v1M259.5 120v4m0 6v2M260.5 97v2m0 28v3M263.5 116v2M265.5 94v1m0 1v2m0 6v4m0 3v1m0 34v2M266.5 94v2m0 1v1m0 69v1M267.5 69v1M268.5 71v1M269.5 70v1M273.5 173v1M274.5 63v2m0 85v1m0 22v1M275.5 149v2M276.5 58v3M277.5 58v3m0 42v1M278.5 82v1M282.5 94v1M283.5 92v3M284.5 106v1M285.5 104v1m0 2v1M297.5 125v2m0 20v1M298.5 127v1M301.5 153v2M303.5 49v1M304.5 49v1m0 14v1m0 73v3M305.5 63v2m0 18v3M311.5 73v1M312.5 72v2M313.5 133v1M319.5 176v2M320.5 51v1m0 21v5M321.5 176v2M323.5 45v2m0 53v1m0 1v1M324.5 44v2m0 41v1M326.5 72v1m0 2v1M330.5 174v3M331.5 46v2M333.5 147v2M340.5 43v1m0 2v1m0 30v3M341.5 182v3M342.5 78v1M345.5 74v2M346.5 75v1M347.5 139v2m0 49v1M352.5 129v1M353.5 65v1m0 62v1M354.5 66v2m0 120v1M355.5 184v2M356.5 86v1m0 16v3M357.5 102v3m0 85v1m0 1v3M360.5 90v1m0 83v1M361.5 87v4m0 85v2M362.5 89v1m0 61v1M363.5 181v2m0 1v1M364.5 105v1M365.5 45v3m0 56v1m0 58v1M366.5 45v2m0 79v1m0 26v3M367.5 155v1m0 14v1M371.5 196v3M372.5 65v2M373.5 68v3M374.5 67v1M376.5 118v3M381.5 195v2M382.5 196v1M386.5 68v1M388.5 86v1M391.5 191v3M396.5 180v2M397.5 148v1m0 6v1m0 1v2M399.5 187v3M400.5 145v4m0 22v2M401.5 145v4m0 20v4M402.5 86v1M403.5 84v2M404.5 103v2M406.5 72v1m0 76v1M407.5 148v1M408.5 81v1m0 7v2M411.5 145v2M412.5 59v4m0 46v1M413.5 97v2m0 13v2M415.5 119v2m0 6v1M416.5 151v2m0 7v4M417.5 151v3m0 8v2M418.5 89v3m0 18v2M419.5 108v1m0 1v1M425.5 123v4M427.5 148v1m0 35v2M428.5 127v2m0 52v5M434.5 64v3M435.5 65v2m0 20v2M437.5 147v1M438.5 149v3M439.5 80v2M440.5 83v2M444.5 70v1M445.5 67v4m0 96v1M446.5 87v3M449.5 102v1M450.5 99v6m0 19v3M451.5 100v2M452.5 92v1m0 88v1M453.5 92v1M460.5 117v3M461.5 118v2m0 54v2m0 1v1M462.5 120v2m0 51v1m0 3v1M463.5 176v2M465.5 114v2M466.5 112v4M467.5 150v2M474.5 141v1m0 1v1M475.5 108v1M477.5 158v2M479.5 115v1M481.5 82v2M487.5 147v1M488.5 127v1M490.5 163v4M491.5 166v1M494.5 157v3M495.5 123v2m0 35v1M496.5 102v1M497.5 102v1m0 7v3M502.5 90v1m0 3v1M509.5 129v1M510.5 125v1M517.5 107v2M518.5 107v2M519.5 104v5M522.5 145v1M523.5 145v1M524.5 89v1M525.5 88v3M526.5 90v1M527.5 107v1M530.5 151v3M531.5 91v3m0 55v4M532.5 91v1M534.5 132v2M535.5 132v2m0 14v1M536.5 115v2m0 27v1m0 1v3M537.5 131v1M539.5 124v2M540.5 101v3M541.5 138v1M545.5 119v3M546.5 120v2m0 1v1M547.5 117v2m0 22v4M549.5 93v3M550.5 92v4M560.5 133v1M564.5 104v1M565.5 104v2M571.5 97v5m0 28v3M572.5 98v4M585.5 113v3M587.5 107v5M588.5 107v1M589.5 126v1M590.5 124v3M606.5 112v3M607.5 114v1M610.5 113v1"/>
<path stroke="rgb(234,186,78)" d="M145.5 118v1m0 3v1M154.5 117v2M164.5 143v3M165.5 142v3M171.5 102v2M172.5 142v1M173.5 140v3M185.5 148v2M186.5 146v4M188.5 100v1m0 3v1M217.5 128v2m0 1v3M218.5 131v2M220.5 139v5M223.5 104v3M224.5 104v1m0 1v1M240.5 97v1m0 22v4M241.5 122v2M242.5 93v4M244.5 79v1m0 1v1m0 26v1M249.5 117v1m0 1v1M250.5 120v1M259.5 158v2M260.5 158v2M265.5 95v1M266.5 165v2M267.5 68v1M268.5 67v4M269.5 68v2M270.5 66v2M272.5 63v1M273.5 60v5m0 107v1M274.5 60v2m0 109v2M276.5 69v4M284.5 105v1M303.5 46v3M304.5 45v4M305.5 62v1M313.5 129v4M319.5 175v1M320.5 50v1m0 122v1m0 1v2M321.5 48v3M323.5 44v1M326.5 74v1M339.5 45v1M340.5 44v2M347.5 188v2M349.5 115v5M353.5 66v2M354.5 63v3M362.5 150v1M365.5 103v1m0 57v2M367.5 171v3M368.5 65v2M369.5 64v3M381.5 89v1m0 1v1M385.5 68v1M403.5 106v1M404.5 167v2M405.5 69v1M408.5 77v4M409.5 79v2M412.5 110v3M417.5 150v1M419.5 61v1M420.5 59v3M421.5 79v3M427.5 146v2M429.5 126v3M438.5 144v1M444.5 67v3M451.5 95v1m0 3v1M452.5 178v3M460.5 174v4M473.5 143v1M474.5 106v2M475.5 107v1M487.5 156v4M495.5 121v2m0 34v3M503.5 93v2M522.5 117v3m0 24v1M523.5 143v2M524.5 87v2M525.5 87v1M527.5 104v3M535.5 140v5M536.5 141v3M538.5 115v4M539.5 116v3M542.5 117v1M546.5 124v3M560.5 131v2M565.5 103v1M581.5 100v3M587.5 106v1M588.5 106v1M589.5 107v1"/>
<path stroke="rgb(239,188,74)" d="M144.5 120v1M145.5 120v2M155.5 113v6M189.5 104v1M197.5 94v3M198.5 93v4M218.5 130v1M240.5 99v1M241.5 96v4M244.5 80v1m0 26v1M245.5 78v3M249.5 118v1M259.5 157v1M260.5 156v2M269.5 67v1M272.5 62v1M274.5 62v1M319.5 173v2M320.5 174v1M324.5 88v3M326.5 73v1M351.5 172v4M373.5 67v1M381.5 90v1M382.5 89v3M385.5 65v3M403.5 103v3M410.5 97v3M438.5 148v1M450.5 98v1M451.5 98v1M473.5 140v2M474.5 142v1M479.5 112v3M480.5 79v2M481.5 79v3M502.5 91v3M509.5 125v4M531.5 88v3M532.5 88v3M564.5 102v1M565.5 102v1M579.5 100v3M580.5 97v6M581.5 98v2M588.5 105v1"/>
<path stroke="rgb(241,193,70)" d="M144.5 121v1M145.5 119v1M156.5 116v1M188.5 102v2M189.5 100v4M268.5 63v4M269.5 62v5M373.5 64v3M405.5 70v2M406.5 67v5M438.5 145v3M450.5 97v1M451.5 96v2M587.5 102v4M588.5 102v3"/>
<path stroke="rgb(185,228,190)" d="M106.5 141v1M111.5 138v1M112.5 140v1M114.5 143v1M115.5 140v1M117.5 134v1M118.5 141v1M120.5 145v1M124.5 141v1M130.5 129v1M131.5 126v1m0 1v1m0 4v1M132.5 125v1m0 22v1M133.5 143v1m0 4v1M134.5 124v1m0 8v1M137.5 139v1m0 5v1M138.5 145v1M140.5 145v1M141.5 138v1M144.5 138v1M145.5 145v1M146.5 125v1m0 22v1M147.5 138v1m0 9v1m0 2v1M148.5 121v1m0 19v1M149.5 148v2M152.5 153v1M153.5 120v1m0 1v1M156.5 145v1m0 8v1m0 2v1M157.5 154v1M158.5 130v1m0 19v2M159.5 127v1m0 22v1M162.5 127v1m0 4v1m0 2v1m0 8v1M163.5 116v1m0 19v1m0 3v1m0 5v1M165.5 131v1m0 26v1M166.5 113v1m0 30v1m0 8v1M169.5 128v1M170.5 113v1m0 38v1M171.5 125v1m0 14v1m0 2v1m0 8v1M172.5 141v1M173.5 121v1m0 10v1m0 5v1M174.5 137v1m0 13v1m0 2v1M175.5 108v1M176.5 115v1m0 25v1M177.5 147v1m0 13v1M178.5 104v1M179.5 103v1M180.5 124v1m0 4v1M181.5 104v1M182.5 136v1m0 14v1M183.5 133v1M184.5 133v1m0 6v2m0 11v1M186.5 139v1M187.5 117v1M189.5 125v1M191.5 143v1m0 19v1M192.5 157v1M193.5 134v1m0 27v1M194.5 159v1M195.5 116v1m0 25v1m0 19v1M196.5 113v1m0 21v1m0 4v1M197.5 121v1m0 42v1M198.5 100v1m0 9v1M199.5 151v1M200.5 104v1m0 2v1m0 9v1m0 7v1M201.5 106v1m0 6v1m0 37v1M202.5 107v2m0 4v1M203.5 151v1M204.5 98v1m0 44v1m0 11v1M205.5 97v1m0 14v1m0 6v1m0 27v1m0 20v1M206.5 136v1m0 25v1m0 2v1M207.5 95v1m0 44v1m0 11v1M208.5 118v1m0 39v1m0 11v1M209.5 101v1m0 56v1m0 9v1M210.5 99v1m0 3v1M211.5 128v1m0 17v1m0 24v1M212.5 117v1m0 27v1m0 8v1M213.5 96v1m0 30v1m0 25v1m0 2v1M215.5 97v1M216.5 133v1M217.5 98v1m0 13v1m0 17v1m0 29v1M218.5 122v1m0 6v1m0 18v1M219.5 132v1m0 11v1m0 8v1M220.5 99v1m0 20v1m0 3v1m0 9v1m0 20v3m0 11v1M221.5 94v1m0 33v1m0 10v1m0 18v1m0 3v1M222.5 103v1m0 24v1m0 23v1M223.5 115v1m0 42v1m0 9v1M224.5 100v1m0 2v1m0 54v1M225.5 169v1M226.5 88v1m0 40v1m0 9v1m0 5v1m0 4v1m0 15v1M227.5 131v1m0 23v1M228.5 114v1m0 12v1m0 13v1m0 26v1M229.5 113v1m0 48v1m0 11v1M230.5 118v1m0 51v1M231.5 139v1m0 32v1M232.5 89v1m0 5v1m0 8v1m0 9v1m0 9v1m0 8v1m0 4v1m0 26v1m0 1v1M233.5 145v1m0 7v1m0 12v1M234.5 105v1m0 10v1m0 2v1m0 10v1m0 45v1M235.5 129v1m0 6v1m0 4v1m0 2v1m0 5v1M236.5 143v1m0 6v1M237.5 107v1m0 8v1M238.5 101v1m0 18v1m0 46v2m0 9v1M239.5 153v1m0 17v1M240.5 88v1m0 9v1m0 5v1m0 6v1m0 45v1M241.5 92v1m0 54v1m0 19v1M242.5 123v1m0 38v1M243.5 167v1m0 4v1M244.5 92v1m0 3v1m0 26v1m0 9v1m0 12v1m0 4v1m0 9v1M245.5 88v2m0 68v1m0 3v1m0 10v1m0 1v1m0 2v1M246.5 88v1m0 70v1m0 13v1M247.5 95v1m0 3v1m0 7v1m0 18v1m0 34v1M248.5 107v1m0 22v1M249.5 90v1m0 67v1m0 3v1M250.5 90v1m0 20v1m0 6v1m0 10v1m0 13v1m0 16v1M251.5 106v1m0 10v1m0 12v1m0 4v1m0 6v1m0 35v1M252.5 88v1m0 20v1m0 3v1M253.5 134v1M254.5 107v1m0 18v1M255.5 134v1m0 33v1M256.5 168v1M257.5 161v1M258.5 117v1m0 23v1m0 15v1m0 8v1m0 9v1M259.5 119v1m0 54v1M260.5 101v1m0 23v1m0 8v1m0 5v1m0 7v1M261.5 86v1m0 44v1m0 23v1m0 21v1M262.5 90v1m0 61v1m0 12v1M263.5 87v1m0 49v1m0 3v1m0 31v1M264.5 73v1m0 27v1m0 2v1m0 16v1m0 7v1m0 9v1m0 24v1M265.5 80v1m0 35v1M266.5 75v1m0 72v1M267.5 87v1m0 8v1m0 11v1M268.5 128v1M269.5 71v1m0 40v1m0 2v1m0 9v1m0 12v1m0 4v1m0 44v1M270.5 68v1m0 21v2m0 9v1m0 2v1m0 61v1M271.5 78v1m0 23v1m0 3v1m0 13v1m0 19v1m0 18v1m0 18v1M272.5 64v1M273.5 105v1m0 12v1m0 13v1M274.5 104v1m0 19v1m0 27v1m0 5v1m0 27v1M275.5 99v1m0 63v1m0 18v1M276.5 95v1m0 16v1m0 5v1m0 34v1m0 20v1M277.5 96v1m0 7v1m0 14v1m0 29v1m0 8v1m0 9v1m0 5v1M278.5 83v1m0 23v1m0 75v1m0 5v1M279.5 77v1m0 28v1m0 49v1m0 6v1m0 19v1M280.5 71v1m0 14v1m0 31v1m0 29v1M281.5 107v2m0 56v1m0 19v1M282.5 147v1m0 43v1M283.5 75v1m0 39v1m0 26v1m0 44v1M284.5 71v1m0 4v1m0 1v1m0 25v1m0 70v1M285.5 105v1m0 2v1m0 55v1m0 5v1M287.5 65v1m0 8v1m0 9v1m0 26v1m0 15v1m0 29v1m0 2v1m0 18v2M288.5 79v1m0 27v1m0 14v1m0 49v1m0 10v1M289.5 90v1m0 27v1m0 25v1M290.5 73v1m0 78v1m0 14v1M291.5 114v3m0 24v1m0 19v1m0 9v1m0 11v1M292.5 78v1m0 19v2m0 47v1M293.5 104v1m0 1v1m0 11v1m0 70v1M294.5 60v1m0 6v1m0 9v1m0 1v1m0 81v1m0 19v1M295.5 69v1m0 42v1m0 35v1m0 30v1M296.5 117v1m0 18v1m0 23v1M297.5 59v1m0 45v1m0 5v1m0 34v1m0 31v1m0 2v1M298.5 66v1m0 53v1m0 5v1m0 16v1m0 12v1m0 2v1M299.5 63v1m0 2v1m0 16v2m0 1v1m0 7v1m0 1v1m0 21v1m0 11v1m0 20v1m0 15v1m0 3v1m0 7v1M300.5 72v1m0 4v1m0 20v1m0 26v1m0 20v1m0 10v1m0 36v1M301.5 86v1m0 105v1M302.5 59v1m0 9v2m0 44v1m0 6v1m0 24v1m0 10v1M303.5 63v1m0 17v1m0 5v1m0 24v1m0 14v1m0 9v1m0 4v1m0 24v1m0 13v1M304.5 79v1m0 31v1m0 24v1m0 22v1m0 9v1m0 9v1m0 17v1M305.5 79v1m0 16v1m0 52v1m0 28v1m0 2v1M306.5 61v1m0 16v1m0 56v1m0 29v1M307.5 85v1m0 3v1m0 3v1m0 31v1m0 9v1M308.5 90v1m0 11v1m0 71v1m0 4v1M309.5 51v1m0 17v1m0 20v1m0 4v1m0 8v1m0 7v1m0 22v1m0 4v1m0 59v1M310.5 94v1m0 34v1m0 13v1m0 11v1m0 1v1m0 21v1M311.5 65v1m0 58v1m0 21v1m0 4v1m0 12v1m0 17v1m0 16v1M312.5 96v1m0 8v1m0 1v1m0 7v1m0 13v1m0 46v1m0 14v1M313.5 64v1m0 31v1m0 10v1m0 10v1m0 6v1m0 13v1m0 54v1m0 1v1M314.5 105v1m0 35v1M315.5 62v1m0 13v1m0 74v1m0 15v1M316.5 160v1m0 20v1M317.5 49v1m0 17v1m0 25v1m0 7v1m0 4v1m0 15v1m0 37v1m0 35v1M318.5 77v1m0 34v1m0 30v1M319.5 64v1m0 30v1m0 31v1M320.5 79v1m0 116v1M321.5 56v1m0 39v1m0 12v1m0 21v1m0 17v1M322.5 58v1m0 73v1m0 38v1M323.5 56v1m0 18v1m0 1v1m0 23v1m0 1v1m0 41v1m0 16v1m0 16v1m0 2v1M324.5 59v1m0 1v1m0 14v2m0 19v1m0 23v1m0 2v1m0 43v1M325.5 66v1m0 4v1m0 3v1m0 6v2m0 13v1m0 49v1m0 9v1m0 1v1m0 13v1m0 1v1m0 18v1m0 1v1m0 4v1m0 2v1M326.5 53v1m0 12v1m0 52v1m0 22v1M327.5 115v1m0 24v1m0 44v2M328.5 74v1m0 10v1m0 15v1m0 16v1m0 33v1m0 31v1M329.5 52v1m0 5v1m0 24v1m0 66v1m0 53v1M330.5 157v1m0 3v1M331.5 54v1m0 12v1m0 14v1m0 10v1m0 3v1m0 9v1m0 13v1m0 46v1m0 7v1m0 17v1m0 2v1M332.5 52v1m0 18v2m0 19v1m0 13v1m0 20v1m0 34v1M333.5 49v2m0 24v1m0 22v1m0 51v1m0 20v1m0 26v2M334.5 50v1m0 36v1m0 1v1m0 21v1m0 14v1m0 4v1m0 2v1m0 13v1m0 10v1m0 24v1M335.5 74v1m0 27v1m0 21v1m0 15v1m0 44v1M336.5 116v1m0 15v1m0 17v1m0 16v1M337.5 110v1m0 58v1m0 30v1M338.5 76v1m0 13v1m0 23v1m0 16v1m0 31v1m0 32v1M339.5 77v1m0 8v1m0 1v1m0 6v1m0 5v1m0 104v1M340.5 41v1m0 56v1m0 22v1m0 9v1m0 1v1M341.5 54v1m0 35v1m0 29v1m0 16v1m0 16v1m0 18v1m0 5v1m0 22v1M342.5 65v1m0 15v1m0 19v1m0 3v1m0 8v1m0 10v1m0 27v1m0 14v1M343.5 51v1m0 10v1m0 13v1m0 14v1m0 24v1m0 13v1m0 15v1m0 37v1M344.5 82v1m0 56v1m0 63v1M345.5 54v1m0 3v1m0 43v1m0 1v1M346.5 87v1m0 25v1m0 4v1m0 30v1m0 5v1m0 16v1M347.5 110v1m0 15v1m0 72v1m0 7v1M348.5 121v1m0 42v1M349.5 49v1m0 30v1m0 53v1m0 3v1m0 15v1m0 2v1m0 19v1m0 30v1M350.5 49v1m0 7v2m0 9v1m0 14v1m0 4v1m0 5v1m0 4v1m0 10v1m0 95v1M351.5 46v1m0 15v1m0 92v1m0 40v1m0 9v1M352.5 61v1m0 3v1m0 2v1m0 10v1m0 1v1m0 8v1m0 17v1m0 68v2M353.5 101v1m0 25v1m0 26v1m0 12v1m0 17v1M354.5 73v1m0 25v1m0 46v1m0 13v1m0 1v1m0 24v1M355.5 63v1m0 29v1m0 51v1m0 17v1m0 45v1M356.5 54v1m0 74v1m0 9v1m0 68v1M357.5 85v1m0 23v1m0 15v1m0 5v1m0 29v1m0 13v1m0 15v1m0 10v1M358.5 44v1m0 28v1m0 11v1m0 51v1m0 48v1m0 5v1m0 9v1M359.5 66v1m0 2v1m0 44v1M360.5 57v1m0 25v1m0 25v1m0 14v1m0 41v1M361.5 101v1m0 9v2m0 3v1m0 25v1m0 6v1m0 21v1M362.5 51v1m0 16v1m0 9v2m0 60v1m0 41v1m0 20v1M363.5 69v1m0 23v1m0 15v1m0 27v1m0 40v1m0 4v1M364.5 51v1m0 37v1m0 14v1m0 51v1m0 49v1M365.5 51v1m0 9v1m0 23v1m0 19v1m0 2v1m0 19v1m0 73v1M366.5 152v1m0 4v1m0 13v1m0 31v1M367.5 72v1m0 21v1m0 30v1m0 68v1M368.5 76v1m0 15v1m0 15v1m0 15v1m0 43v1m0 16v1m0 19v1m0 3v2M369.5 47v1m0 47v1m0 16v1m0 27v1m0 26v1m0 1v1m0 28v1M370.5 58v1m0 78v1m0 9v1m0 33v1m0 1v1m0 16v1M371.5 82v1m0 39v1m0 23v1m0 31v1M372.5 75v1m0 2v1m0 78v2M373.5 53v1m0 65v1m0 70v1m0 22v1m0 3v1M374.5 125v1m0 21v1m0 62v1M375.5 94v1m0 4v1m0 2v1m0 11v1m0 7v1m0 43v1M376.5 146v1m0 68v1M377.5 66v1m0 30v1m0 4v1m0 16v1m0 45v1m0 6v1M378.5 84v1m0 2v1m0 72v1m0 15v1M379.5 60v1m0 27v1m0 5v1m0 96v1m0 7v1m0 5v1M380.5 90v1m0 7v1m0 5v1m0 3v1m0 8v1m0 10v1m0 18v1m0 38v1M381.5 64v1m0 7v1m0 13v1m0 41v1m0 6v1m0 25v2m0 17v1m0 11v1m0 7v1M382.5 73v1m0 82v1m0 4v1m0 38v1M383.5 74v1m0 31v1m0 18v1m0 27v1m0 17v1m0 44v1M384.5 53v1m0 34v1m0 1v2m0 2v1m0 5v1m0 8v1m0 39v1m0 44v1M385.5 92v2m0 9v1m0 10v1m0 18v1m0 18v1m0 9v1m0 33v2M386.5 59v1m0 4v1m0 21v1m0 12v1m0 14v1m0 7v1m0 7v1m0 58v1m0 27v1M387.5 73v1m0 40v1m0 8v1m0 28v1m0 18v1m0 4v1m0 28v1m0 2v1m0 6v1M388.5 56v1m0 36v1m0 40v1m0 37v1m0 30v1M389.5 62v1m0 18v1m0 11v1m0 25v2m0 62v1m0 8v1m0 3v1M390.5 67v1m0 50v1m0 4v1M391.5 86v1m0 36v1m0 20v2m0 1v1m0 7v1m0 59v1M392.5 100v1m0 96v1m0 1v2m0 5v1M393.5 78v1m0 28v1m0 18v1m0 9v1m0 33v1m0 1v2m0 28v1m0 7v1M394.5 76v1m0 8v1m0 41v2m0 55v1m0 24v1m0 7v1M395.5 57v1m0 22v1m0 43v1m0 46v1m0 2v1m0 22v1m0 2v1M396.5 88v1m0 50v1m0 8v1m0 59v1M397.5 60v1m0 10v1m0 84v1m0 23v1m0 3v1m0 8v1m0 16v1m0 4v1M398.5 136v1m0 1v1m0 21v1m0 15v1m0 39v1M399.5 89v1m0 11v1m0 11v1m0 30v1m0 50v2m0 15v1M400.5 82v1m0 27v1m0 54v1m0 25v1M401.5 136v1m0 45v1m0 4v1m0 1v1m0 7v1m0 1v1m0 7v1M402.5 62v1m0 8v1m0 11v1m0 18v1m0 21v1m0 38v1m0 14v1m0 4v1M403.5 74v1m0 12v1m0 86v1M404.5 63v1m0 95v1m0 2v1m0 29v1m0 22v1M405.5 66v1m0 52v1m0 24v1m0 2v1m0 49v1M406.5 88v1m0 56v1m0 2v1m0 40v1M407.5 68v1m0 1v1m0 76v1m0 6v1m0 16v1m0 7v2m0 13v1M408.5 61v1m0 59v1m0 54v1m0 9v1M409.5 110v1m0 13v1m0 24v1m0 18v1m0 12v1m0 6v1M410.5 90v1m0 9v1m0 14v1m0 42v1m0 33v1M411.5 106v1m0 11v1m0 25v1m0 9v1m0 17v1m0 1v1m0 29v1M412.5 88v1m0 35v1m0 9v2m0 25v1m0 36v1m0 6v1M413.5 84v1m0 14v1m0 42v1m0 38v1m0 9v1M414.5 62v1m0 61v1m0 6v2m0 13v1m0 20v1m0 4v1m0 12v1M415.5 93v1m0 60v1m0 20v1m0 7v1m0 20v1M416.5 72v1m0 8v1m0 16v1m0 66v1M417.5 85v1m0 6v1m0 1v1m0 37v1m0 21v1m0 33v1M418.5 109v1m0 79v1M419.5 65v1m0 6v1m0 24v1m0 11v1m0 2v1m0 1v1m0 57v1m0 2v1m0 7v1m0 2v1M420.5 140v1m0 1v1m0 25v1M421.5 64v1m0 5v1m0 1v1m0 98v2m0 10v1M423.5 104v1m0 38v1m0 4v1m0 11v1m0 9v1m0 7v2M425.5 65v1m0 10v1m0 39v1m0 78v1M426.5 98v1m0 26v1m0 30v1m0 10v1m0 2v1m0 25v1M427.5 135v1m0 5v1m0 25v1m0 8v1m0 16v1m0 7v1M428.5 70v1m0 20v1m0 15v1m0 56v1M429.5 97v1m0 38v1m0 23v1m0 14v1m0 21v1M430.5 74v1m0 17v1m0 1v1m0 9v1m0 8v1m0 22v1m0 43v1m0 7v1M431.5 115v1M432.5 152v1m0 13v1M433.5 76v1m0 64v1m0 63v1M434.5 110v1m0 49v1m0 4v1m0 6v1m0 23v1M435.5 74v1m0 61v1m0 2v1m0 29v1m0 5v1m0 16v1M436.5 75v1m0 7v1m0 24v1m0 83v1m0 5v1M437.5 70v1m0 13v1m0 40v1m0 44v1m0 28v1M438.5 92v1m0 41v1m0 19v1m0 33v1M439.5 105v1m0 19v1m0 20v1m0 14v1m0 9v1m0 2v1m0 5v1M440.5 81v1m0 11v1m0 14v1M441.5 84v1m0 25v1m0 28v1m0 9v1m0 17v1m0 26v1M442.5 88v1m0 80v1M443.5 82v1m0 36v1m0 30v1m0 15v1m0 5v1M444.5 72v1m0 49v1m0 23v1m0 24v1m0 6v1M445.5 105v1m0 23v1m0 46v1M446.5 76v1m0 83v1m0 1v1m0 6v1M447.5 73v1m0 43v1m0 19v1m0 6v1m0 50v1M448.5 85v1m0 30v1m0 18v1m0 9v1m0 30v2m0 2v1M449.5 76v1m0 9v1m0 6v1m0 9v1m0 2v1m0 37v1m0 36v1M450.5 84v1m0 20v1m0 35v1m0 29v1m0 14v1m0 4v1M451.5 90v1m0 13v1m0 38v1M452.5 80v1m0 6v1m0 60v1m0 4v1M453.5 82v1m0 11v1m0 5v1m0 66v1M454.5 95v1m0 8v1M455.5 86v1m0 56v1m0 1v1M456.5 92v2m0 8v1m0 11v1m0 21v1m0 6v1m0 7v1M457.5 159v1M458.5 94v1m0 32v1m0 19v1M459.5 138v1m0 5v1m0 4v1m0 17v1m0 10v1m0 2v1m0 6v1M460.5 85v1m0 43v1m0 15v1m0 14v1m0 26v1m0 1v1M461.5 86v1m0 6v2m0 12v1m0 3v1m0 1v1m0 3v1m0 3v1m0 28v1m0 10v1m0 4v1m0 11v1m0 9v1M462.5 88v1m0 6v1m0 36v1m0 12v1m0 35v1M463.5 132v1m0 1v1m0 4v1m0 10v1m0 13v1m0 5v1M464.5 134v1m0 2v2m0 7v1m0 1v1m0 22v1M465.5 103v1m0 32v1m0 13v1m0 30v1m0 3v1M466.5 163v1m0 4v1M467.5 120v1m0 5v1m0 63v1M468.5 84v1m0 11v1m0 15v1m0 17v1m0 1v1m0 17v1M469.5 82v1m0 5v1m0 73v1m0 17v1m0 3v1m0 3v1M470.5 128v1m0 9v1m0 46v1M471.5 86v1m0 22v1m0 69v2M472.5 128v1m0 12v1m0 10v1M473.5 142v1M474.5 108v1m0 19v1m0 21v1m0 6v1m0 16v1M475.5 99v1m0 12v1m0 34v1M476.5 90v1m0 8v1m0 36v1m0 12v1m0 34v1M477.5 81v1m0 15v1m0 1v1m0 39v1m0 1v1M478.5 86v1m0 59v1M479.5 104v1M480.5 107v1m0 20v1m0 22v1m0 3v1m0 11v1M481.5 87v1m0 2v1m0 6v1m0 17v1m0 33v1m0 7v1M482.5 133v1m0 21v1M483.5 124v1m0 11v1m0 30v1M484.5 124v1m0 34v1m0 3v1M485.5 90v1m0 4v1m0 14v1m0 63v1M486.5 85v1m0 21v1m0 13v1m0 13v1m0 15v1M487.5 137v2m0 35v1M488.5 87v1m0 24v1M489.5 99v1m0 10v1M490.5 89v1m0 9v1m0 27v1m0 19v1m0 30v1M491.5 138v1m0 10v1m0 20v1M492.5 110v1m0 48v1m0 6v1m0 1v1M493.5 89v1m0 57v1m0 17v1M494.5 85v1m0 37v1M495.5 92v1m0 1v1m0 20v1m0 13v1m0 9v1m0 3v1M496.5 128v1m0 9v1m0 5v1m0 24v1m0 6v1M497.5 99v1m0 40v1m0 11v1m0 9v1M498.5 91v1m0 22v1m0 3v2m0 18v1M499.5 88v1m0 8v1m0 16v1M500.5 88v1m0 30v1m0 7v1m0 9v1M501.5 88v1m0 14v1m0 20v1m0 14v1m0 1v1m0 8v1m0 20v1M502.5 150v1m0 22v1M503.5 125v1m0 16v1M504.5 93v1m0 31v1m0 21v1m0 2v1M505.5 114v1m0 13v1m0 1v1m0 23v1M506.5 88v1m0 2v1m0 15v1m0 19v1m0 2v1m0 38v1m0 4v1M507.5 118v1m0 40v1m0 11v1M508.5 113v1m0 20v1m0 10v1m0 6v1m0 14v1M509.5 119v1m0 29v1m0 15v1M510.5 92v1m0 15v1m0 21v1m0 14v1M511.5 94v1m0 10v1m0 3v1m0 57v1M512.5 98v1M513.5 110v1m0 7v1m0 6v1m0 13v1m0 12v1M514.5 153v1m0 7v1m0 1v1M515.5 100v1m0 5v1m0 7v1m0 22v1m0 20v1m0 5v1m0 5v1M516.5 103v1m0 21v1m0 1v1m0 5v1M517.5 136v1M518.5 134v1m0 15v1m0 11v1M519.5 109v1M520.5 106v1M521.5 103v1m0 38v1M522.5 141v1m0 14v1M523.5 92v1m0 1v1m0 11v1m0 25v1m0 3v1m0 22v1M524.5 123v1m0 5v1m0 9v1m0 4v1m0 16v1M525.5 142v1m0 17v1M526.5 97v1m0 8v1m0 4v1M527.5 96v1m0 36v1m0 31v1M528.5 105v1m0 43v1M529.5 116v1m0 14v1m0 7v1M530.5 116v1m0 40v1m0 5v1M531.5 125v1m0 35v1M532.5 133v1m0 26v1M533.5 106v1m0 48v1M534.5 123v1m0 28v1M535.5 117v1M536.5 149v1M537.5 161v1M538.5 142v1M539.5 142v1m0 9v1M541.5 103v1m0 1v1m0 15v1m0 14v1M542.5 105v1m0 12v1m0 8v1m0 4v1m0 8v1M543.5 112v1m0 8v1m0 36v1M544.5 112v1M545.5 102v1M546.5 101v1m0 3v1m0 25v1m0 1v1M547.5 154v1M548.5 117v1m0 36v1M549.5 104v1m0 48v1M550.5 123v1m0 4v1m0 19v1M551.5 154v1M552.5 155v1M553.5 109v1m0 31v1M555.5 126v1m0 22v1M557.5 149v1M558.5 118v1m0 10v1M561.5 116v2m0 14v2M562.5 120v1m0 12v1m0 9v1M563.5 118v1M564.5 120v1m0 9v1M566.5 125v1m0 4v2M567.5 107v1M568.5 140v1M570.5 112v1m0 9v1m0 15v1M571.5 111v1m0 21v1m0 2v1M574.5 121v1m0 18v1M575.5 111v1m0 19v1m0 8v1M576.5 132v1M577.5 128v1m0 8v1M578.5 112v1m0 2v1m0 2v1m0 3v1M579.5 129v1M580.5 142v1M581.5 119v1m0 10v1M582.5 137v1M584.5 123v1M585.5 132v1m0 1v1M586.5 137v1M588.5 126v1M590.5 130v1M592.5 132v1M595.5 114v1m0 1v1M597.5 126v1M598.5 124v1m0 2v1m0 4v1M603.5 135v1M605.5 128v1M606.5 115v1M607.5 119v1m0 1v1M608.5 129v1M609.5 131v2M616.5 122v1M618.5 120v1"/>
<path stroke="rgb(140,192,244)" d="M125.5 157v1M142.5 164v1M144.5 161v1M151.5 161v1M157.5 170v1M160.5 168v1M170.5 170v1M175.5 169v1M180.5 172v1M188.5 171v1M199.5 187v1M209.5 178v1M214.5 187v1M224.5 183v1M226.5 190v1M229.5 187v1M231.5 192v1M232.5 189v1M233.5 191v1M239.5 188v1M246.5 191v1M248.5 197v1M249.5 193v1M252.5 193v1M259.5 197v1M262.5 197v1M287.5 202v1M288.5 203v1M293.5 209v1M295.5 206v1M296.5 205v1M304.5 211v1M314.5 212v1M329.5 216v1M331.5 212v1M349.5 219v1M372.5 229v1M376.5 230v1M403.5 228v1M409.5 223v1M411.5 225v1M412.5 223v1M416.5 218v1M417.5 220v1M428.5 213v1M438.5 210v1M446.5 215v1M476.5 200v1M498.5 189v1M500.5 190v1M501.5 183v1M503.5 184v1M513.5 183v1M516.5 180v1M522.5 179v1M543.5 168v1M573.5 155v1M580.5 154v1M581.5 154v1M583.5 154v1M605.5 146v1M615.5 139v1M617.5 139v1M619.5 140v1"/>
<path stroke="rgb(130,201,238)" d="M104.5 150v1M106.5 153v1M107.5 149v1M110.5 153v1M115.5 150v1M117.5 153v1M118.5 155v1M122.5 157v1M132.5 158v1M134.5 157v1M136.5 157v1M137.5 159v1M147.5 159v1M152.5 161v1M159.5 163v1M162.5 167v1M167.5 165v1M177.5 166v1M183.5 173v1M185.5 171v1M192.5 174v1M193.5 178v1M197.5 176v1M202.5 177v1M208.5 178v1M217.5 184v1M219.5 182v1M236.5 185v1M245.5 188v1M253.5 189v1M260.5 193v1M264.5 195v1M267.5 194v1M268.5 194v1M271.5 195v1M274.5 198v1M275.5 199v1M278.5 196v1M280.5 199v1M283.5 200v1M291.5 202v1M299.5 206v1M300.5 205v1M302.5 204v1M308.5 207v1M316.5 210v1M317.5 212v1M330.5 213v1M336.5 213v1M337.5 214v1M344.5 215v1M347.5 217v1M350.5 220v1M357.5 221v1M361.5 225v1M363.5 221v1M364.5 225v1M367.5 222v1M377.5 226v1M383.5 228v1M387.5 231v1M390.5 227v1M391.5 229v1M395.5 228v1M397.5 229v1M399.5 224v1M400.5 225v1M401.5 227v1M426.5 217v1M439.5 212v1M443.5 208v1M450.5 203v1M455.5 204v1M457.5 202v1M458.5 202v1M460.5 200v1M461.5 199v1M464.5 201v1M466.5 197v1M467.5 198v1M473.5 195v1M474.5 193v1M478.5 193v1M479.5 191v1M485.5 191v1M487.5 189v1M489.5 188v1M493.5 188v1M495.5 187v1M506.5 183v1M512.5 181v1M518.5 176v1M533.5 174v1M536.5 168v1M537.5 169v1M542.5 167v1M544.5 169v1M560.5 161v1M561.5 160v1M562.5 160v1M563.5 159v1M565.5 158v1M566.5 156v1M567.5 154v1M569.5 159v1M587.5 150v1M588.5 151v1M590.5 147v1M593.5 148v1M596.5 145v1M604.5 143v1M607.5 140v1M609.5 139v1M612.5 139v1M621.5 134v1M624.5 136v1M625.5 134v1"/>
<path stroke="rgb(128,210,229)" d="M166.5 164v1M237.5 184v1M254.5 189v1M270.5 193v1M625.5 129v1M626.5 130v2"/>
<path stroke="rgb(128,219,212)" d="M107.5 140v1M283.5 67v1M287.5 63v1M298.5 58v1M336.5 43v1M491.5 84v1"/>
<path stroke="rgb(156,223,190)" d="M106.5 131v1M111.5 130v1M116.5 129v1M121.5 130v1M123.5 125v1M126.5 126v1M129.5 123v1M140.5 121v1M141.5 120v1M143.5 120v1M148.5 118v1M158.5 111v1M163.5 114v1M167.5 110v1M181.5 102v1M183.5 103v1M185.5 104v1M186.5 101v1M191.5 100v1M195.5 99v1M202.5 92v1M204.5 94v1M205.5 94v1M207.5 93v1M214.5 92v1M215.5 88v1M219.5 86v1M229.5 83v1M243.5 79v1M247.5 75v1M248.5 78v1M255.5 74v1M256.5 74v1M257.5 72v1M259.5 71v1M262.5 73v1M265.5 70v1M275.5 66v1M278.5 63v1M279.5 65v1M288.5 62v1M295.5 57v1M306.5 52v1M327.5 45v1M328.5 45v1M337.5 41v1M338.5 36v1M341.5 40v1M353.5 41v1M355.5 42v1M356.5 41v1M359.5 41v1M361.5 46v1M363.5 46v1M367.5 47v1M374.5 48v1M376.5 49v1M379.5 53v1M381.5 51v1M386.5 53v1M387.5 53v1M389.5 51v1M400.5 55v1M403.5 56v1M410.5 58v1M413.5 59v1M418.5 61v1M421.5 58v1M424.5 62v1M425.5 63v1M426.5 63v1M427.5 63v1M438.5 68v1M441.5 68v1M447.5 71v1M450.5 70v1M451.5 71v1M455.5 68v1M458.5 73v1M461.5 72v1M465.5 72v1M468.5 74v1M469.5 75v1M478.5 78v1M484.5 80v1M487.5 78v1M488.5 82v1M489.5 81v1M494.5 82v1M499.5 82v1M500.5 85v1M504.5 85v1M509.5 87v1M515.5 85v1M519.5 89v1M521.5 91v1M527.5 92v1M528.5 94v1M533.5 94v1M535.5 91v1M536.5 97v1M537.5 94v1M539.5 92v1M542.5 94v1M544.5 92v1M552.5 99v1M555.5 101v1M558.5 98v1M573.5 105v1M575.5 107v1M576.5 107v1M578.5 106v1M584.5 109v1M585.5 108v1M591.5 110v1M593.5 109v1M596.5 112v1M603.5 110v1M613.5 117v1M614.5 118v1M617.5 118v1M622.5 121v1M623.5 119v1"/>
<path stroke="rgb(239,220,169)" d="M114.5 128v1M135.5 123v1M136.5 119v1M138.5 121v1M160.5 111v1M171.5 101v1M172.5 104v1M175.5 103v1M177.5 102v1M179.5 100v1M188.5 96v1M199.5 96v1M212.5 87v1M224.5 84v1M226.5 83v1M227.5 84v1M232.5 79v1M250.5 70v1M264.5 70v1M273.5 59v1M280.5 62v1M292.5 58v1M294.5 54v1M297.5 52v1M301.5 54v1M303.5 45v1M305.5 51v1M312.5 51v1M314.5 49v1M321.5 47v1M326.5 46v1M348.5 40v1M358.5 40v1M364.5 46v1M365.5 44v1M372.5 46v1M392.5 50v1M409.5 54v1M415.5 56v1M416.5 57v1M428.5 61v1M435.5 64v1M448.5 68v1M454.5 73v1M476.5 78v1M496.5 78v1M516.5 85v1M523.5 90v1M526.5 89v1M549.5 92v1M551.5 95v1M559.5 97v1M572.5 97v1M589.5 106v1M595.5 110v1M597.5 110v1M600.5 110v1M602.5 111v1M609.5 112v1M611.5 114v1M619.5 112v1M620.5 114v1"/>
<path stroke="rgb(248,225,161)" d="M154.5 113v1M156.5 115v1M197.5 93v1M268.5 62v1M272.5 61v1M532.5 87v1M565.5 101v1M579.5 99v1M581.5 97v1M588.5 101v1"/>
</g></g>
<path d="M85.77 321.94L388.50 494.20L641.79 289.56M85.77 321.94L85.77 225.64M388.50 494.20l-6.8 5.7M293.60 440.20l-6.8 5.7M198.70 386.20l-6.8 5.7M103.80 332.20l-6.8 5.7M388.50 494.20l7.2 4.6M467.90 430.05l7.2 4.6M547.30 365.90l7.2 4.6M626.70 301.75l7.2 4.6M85.77 321.94l-8.7 -5.0M85.77 273.79l-8.7 -5.0M85.77 225.64l-8.7 -5.0" fill="none" stroke="#303030" stroke-width="1.35" stroke-opacity="0.9"/>
<g font-family="'Liberation Serif', 'DejaVu Serif', serif">
<text transform="matrix(0.36863 0 0 0.36778 13.69 32.73)" font-size="100" fill="#262626" stroke="#262626" stroke-width="0.8" >(a)</text>
<text transform="matrix(0.29500 0 0 0.32782 52.98 228.07)" font-size="100" fill="#262626" stroke="#262626" stroke-width="0.8" >5</text>
<text transform="matrix(0.30952 0 0 0.33185 53.51 276.82)" font-size="100" fill="#262626" stroke="#262626" stroke-width="0.8" >0</text>
<text transform="matrix(0.27895 0 0 0.31805 44.37 325.58)" font-size="100" fill="#262626" stroke="#262626" stroke-width="0.8" >-5</text>
<text transform="matrix(0.31307 0 0 0.33481 42.69 376.22)" font-size="100" fill="#262626" stroke="#262626" stroke-width="0.8" >600</text>
<text transform="matrix(0.31215 0 0 0.33481 138.48 429.62)" font-size="100" fill="#262626" stroke="#262626" stroke-width="0.8" >400</text>
<text transform="matrix(0.31307 0 0 0.33259 232.44 483.07)" font-size="100" fill="#262626" stroke="#262626" stroke-width="0.8" >200</text>
<text transform="matrix(0.32500 0 0 0.33185 357.80 537.42)" font-size="100" fill="#262626" stroke="#262626" stroke-width="0.8" >0</text>
<text transform="matrix(0.32619 0 0 0.33407 404.05 534.07)" font-size="100" fill="#262626" stroke="#262626" stroke-width="0.8" >0</text>
<text transform="matrix(0.31484 0 0 0.33481 482.68 469.92)" font-size="100" fill="#262626" stroke="#262626" stroke-width="0.8" >200</text>
<text transform="matrix(0.30937 0 0 0.33481 563.48 406.62)" font-size="100" fill="#262626" stroke="#262626" stroke-width="0.8" >400</text>
<text transform="matrix(0.31131 0 0 0.33481 642.70 342.62)" font-size="100" fill="#262626" stroke="#262626" stroke-width="0.8" >600</text>
<text transform="matrix(0.30972 0 0 0.33370 64.42 532.04)" font-size="100" fill="#262626" stroke="#262626" stroke-width="0.8" >Length (μm)</text>
<text transform="matrix(0.30922 0 0 0.33370 543.82 522.94)" font-size="100" fill="#262626" stroke="#262626" stroke-width="0.8" >Length (μm)</text>
<text transform="matrix(0 -0.33091 0.32111 0 30.31 381.98)" font-size="100" fill="#262626" stroke="#262626" stroke-width="0.8" >Amplitude (μm)</text>
</g>
</g>
<g id="panel-b">
<g fill="#000">
<rect x="932" y="396" width="6" height="1"/><rect x="1496" y="396" width="6" height="1"/>
<rect x="932" y="302" width="6" height="2"/><rect x="1496" y="302" width="6" height="2"/>
<rect x="932" y="209" width="6" height="2"/><rect x="1496" y="209" width="6" height="2"/>
<rect x="932" y="116" width="6" height="1"/><rect x="1496" y="116" width="6" height="1"/>
<rect x="1216" y="24" width="2" height="6"/><rect x="1216" y="483" width="2" height="6"/>
</g>
<g fill="#352a87" stroke="#000" stroke-width="1.1" stroke-linejoin="miter">
<rect x="1019.96" y="488.60" width="6.96" height="0.90"/>
<rect x="1026.91" y="488.40" width="6.96" height="1.10"/>
<rect x="1033.87" y="488.20" width="6.96" height="1.30"/>
<rect x="1040.83" y="487.70" width="6.96" height="1.80"/>
<rect x="1047.78" y="486.30" width="6.96" height="3.20"/>
<rect x="1054.74" y="485.00" width="6.96" height="4.50"/>
<rect x="1061.69" y="482.50" width="6.96" height="7.00"/>
<rect x="1068.64" y="479.50" width="6.96" height="10.00"/>
<rect x="1075.60" y="473.30" width="6.96" height="16.20"/>
<rect x="1082.56" y="465.30" width="6.96" height="24.20"/>
<rect x="1089.51" y="455.30" width="6.96" height="34.20"/>
<rect x="1096.47" y="442.80" width="6.96" height="46.70"/>
<rect x="1103.42" y="427.50" width="6.96" height="62.00"/>
<rect x="1110.38" y="407.50" width="6.96" height="82.00"/>
<rect x="1117.33" y="388.30" width="6.96" height="101.20"/>
<rect x="1124.29" y="359.30" width="6.96" height="130.20"/>
<rect x="1131.24" y="328.30" width="6.96" height="161.20"/>
<rect x="1138.20" y="303.30" width="6.96" height="186.20"/>
<rect x="1145.15" y="278.30" width="6.96" height="211.20"/>
<rect x="1152.11" y="244.50" width="6.96" height="245.00"/>
<rect x="1159.06" y="211.30" width="6.96" height="278.20"/>
<rect x="1166.02" y="182.50" width="6.96" height="307.00"/>
<rect x="1172.97" y="155.30" width="6.96" height="334.20"/>
<rect x="1179.92" y="131.50" width="6.96" height="358.00"/>
<rect x="1186.88" y="96.70" width="6.96" height="392.80"/>
<rect x="1193.84" y="90.50" width="6.96" height="399.00"/>
<rect x="1200.79" y="89.50" width="6.96" height="400.00"/>
<rect x="1207.75" y="85.50" width="6.96" height="404.00"/>
<rect x="1214.70" y="74.50" width="6.96" height="415.00"/>
<rect x="1221.65" y="90.30" width="6.96" height="399.20"/>
<rect x="1228.61" y="104.50" width="6.96" height="385.00"/>
<rect x="1235.57" y="129.60" width="6.96" height="359.90"/>
<rect x="1242.52" y="153.70" width="6.96" height="335.80"/>
<rect x="1249.48" y="177.50" width="6.96" height="312.00"/>
<rect x="1256.43" y="204.00" width="6.96" height="285.50"/>
<rect x="1263.38" y="228.00" width="6.96" height="261.50"/>
<rect x="1270.34" y="253.00" width="6.96" height="236.50"/>
<rect x="1277.30" y="285.00" width="6.96" height="204.50"/>
<rect x="1284.25" y="315.00" width="6.96" height="174.50"/>
<rect x="1291.20" y="337.00" width="6.96" height="152.50"/>
<rect x="1298.16" y="364.20" width="6.96" height="125.30"/>
<rect x="1305.12" y="380.30" width="6.96" height="109.20"/>
<rect x="1312.07" y="397.00" width="6.96" height="92.50"/>
<rect x="1319.03" y="414.20" width="6.96" height="75.30"/>
<rect x="1325.98" y="426.20" width="6.96" height="63.30"/>
<rect x="1332.93" y="437.20" width="6.96" height="52.30"/>
<rect x="1339.89" y="451.20" width="6.96" height="38.30"/>
<rect x="1346.85" y="459.20" width="6.96" height="30.30"/>
<rect x="1353.80" y="467.20" width="6.96" height="22.30"/>
<rect x="1360.76" y="469.30" width="6.96" height="20.20"/>
<rect x="1367.71" y="476.30" width="6.96" height="13.20"/>
<rect x="1374.66" y="480.00" width="6.96" height="9.50"/>
<rect x="1381.62" y="481.20" width="6.96" height="8.30"/>
<rect x="1388.58" y="483.30" width="6.96" height="6.20"/>
<rect x="1395.53" y="485.80" width="6.96" height="3.70"/>
<rect x="1402.49" y="485.50" width="6.96" height="4.00"/>
<rect x="1409.44" y="486.30" width="6.96" height="3.20"/>
<rect x="1416.39" y="487.20" width="6.96" height="2.30"/>
<rect x="1423.35" y="487.80" width="6.96" height="1.70"/>
<rect x="1430.31" y="488.00" width="6.96" height="1.50"/>
<rect x="1437.26" y="488.20" width="6.96" height="1.30"/>
<rect x="1444.22" y="488.40" width="6.96" height="1.10"/>
</g>
<polyline points="1045.84,484.97 1048.69,484.24 1051.54,483.41 1054.39,482.47 1057.24,481.40 1060.10,480.20 1062.95,478.84 1065.80,477.31 1068.65,475.60 1071.50,473.69 1074.35,471.56 1077.20,469.20 1080.05,466.58 1082.90,463.70 1085.75,460.51 1088.61,457.02 1091.46,453.20 1094.31,449.03 1097.16,444.49 1100.01,439.57 1102.86,434.25 1105.71,428.52 1108.56,422.36 1111.41,415.76 1114.26,408.71 1117.12,401.22 1119.97,393.26 1122.82,384.86 1125.67,376.00 1128.52,366.70 1131.37,356.97 1134.22,346.83 1137.07,336.29 1139.92,325.39 1142.77,314.15 1145.62,302.61 1148.48,290.80 1151.33,278.78 1154.18,266.58 1157.03,254.27 1159.88,241.90 1162.73,229.54 1165.58,217.23 1168.43,205.05 1171.28,193.07 1174.13,181.36 1176.99,169.99 1179.84,159.02 1182.69,148.53 1185.54,138.58 1188.39,129.25 1191.24,120.59 1194.09,112.67 1196.94,105.54 1199.79,99.25 1202.64,93.84 1205.50,89.37 1208.35,85.85 1211.20,83.32 1214.05,81.79 1216.90,81.28 1219.75,81.79 1222.60,83.32 1225.45,85.85 1228.30,89.37 1231.16,93.84 1234.01,99.25 1236.86,105.54 1239.71,112.67 1242.56,120.59 1245.41,129.25 1248.26,138.58 1251.11,148.53 1253.96,159.02 1256.81,169.99 1259.67,181.36 1262.52,193.07 1265.37,205.05 1268.22,217.23 1271.07,229.54 1273.92,241.90 1276.77,254.27 1279.62,266.58 1282.47,278.78 1285.32,290.80 1288.18,302.61 1291.03,314.15 1293.88,325.39 1296.73,336.29 1299.58,346.83 1302.43,356.97 1305.28,366.70 1308.13,376.00 1310.98,384.86 1313.83,393.26 1316.69,401.22 1319.54,408.71 1322.39,415.76 1325.24,422.36 1328.09,428.52 1330.94,434.25 1333.79,439.57 1336.64,444.49 1339.49,449.03 1342.34,453.20 1345.20,457.02 1348.05,460.51 1350.90,463.70 1353.75,466.58 1356.60,469.20 1359.45,471.56 1362.30,473.69 1365.15,475.60 1368.00,477.31 1370.85,478.84 1373.71,480.20 1376.56,481.40 1379.41,482.47 1382.26,483.41 1385.11,484.24 1387.96,484.97" fill="none" stroke="#ff0000" stroke-width="4.0" stroke-linejoin="round" stroke-linecap="butt"/>
<g fill="#000">
<rect x="931" y="23" width="1.8" height="467"/>
<rect x="1501" y="23" width="2" height="467"/>
<rect x="931" y="23" width="572" height="1"/>
<rect x="931" y="489" width="572" height="1"/>
</g>
<g font-family="'Liberation Serif', 'DejaVu Serif', serif">
<text transform="matrix(0.32632 0 0 0.34519 855.99 35.90)" font-size="100" fill="#000" stroke="#000" stroke-width="0.4" >5000</text>
<text transform="matrix(0.32474 0 0 0.34519 856.40 129.10)" font-size="100" fill="#000" stroke="#000" stroke-width="0.4" >4000</text>
<text transform="matrix(0.32775 0 0 0.34519 855.81 222.30)" font-size="100" fill="#000" stroke="#000" stroke-width="0.4" >3000</text>
<text transform="matrix(0.32898 0 0 0.34519 855.57 315.50)" font-size="100" fill="#000" stroke="#000" stroke-width="0.4" >2000</text>
<text transform="matrix(0.32139 0 0 0.34519 857.06 408.70)" font-size="100" fill="#000" stroke="#000" stroke-width="0.4" >1000</text>
<text transform="matrix(0.32024 0 0 0.34519 905.32 501.90)" font-size="100" fill="#000" stroke="#000" stroke-width="0.4" >0</text>
<text transform="matrix(0.30526 0 0 0.33233 918.58 532.42)" font-size="100" fill="#000" stroke="#000" stroke-width="0.4" >-5</text>
<text transform="matrix(0.32857 0 0 0.34815 1208.34 532.65)" font-size="100" fill="#000" stroke="#000" stroke-width="0.4" >0</text>
<text transform="matrix(0.29250 0 0 0.33233 1493.79 532.42)" font-size="100" fill="#000" stroke="#000" stroke-width="0.4" >5</text>
<text transform="matrix(0.32641 0 0 0.33667 1110.32 572.88)" font-size="100" fill="#000" stroke="#000" stroke-width="0.4" >Amplitude (μm)</text>
<text transform="matrix(0 -0.34259 0.32000 0 845.93 313.18)" font-size="100" fill="#000" stroke="#000" stroke-width="0.4" >Number</text>
<text transform="matrix(0.37767 0 0 0.38444 792.65 37.18)" font-size="100" fill="#000" stroke="#000" stroke-width="0.4" >(b)</text>
</g>
</g>
</svg>
</body></html>
